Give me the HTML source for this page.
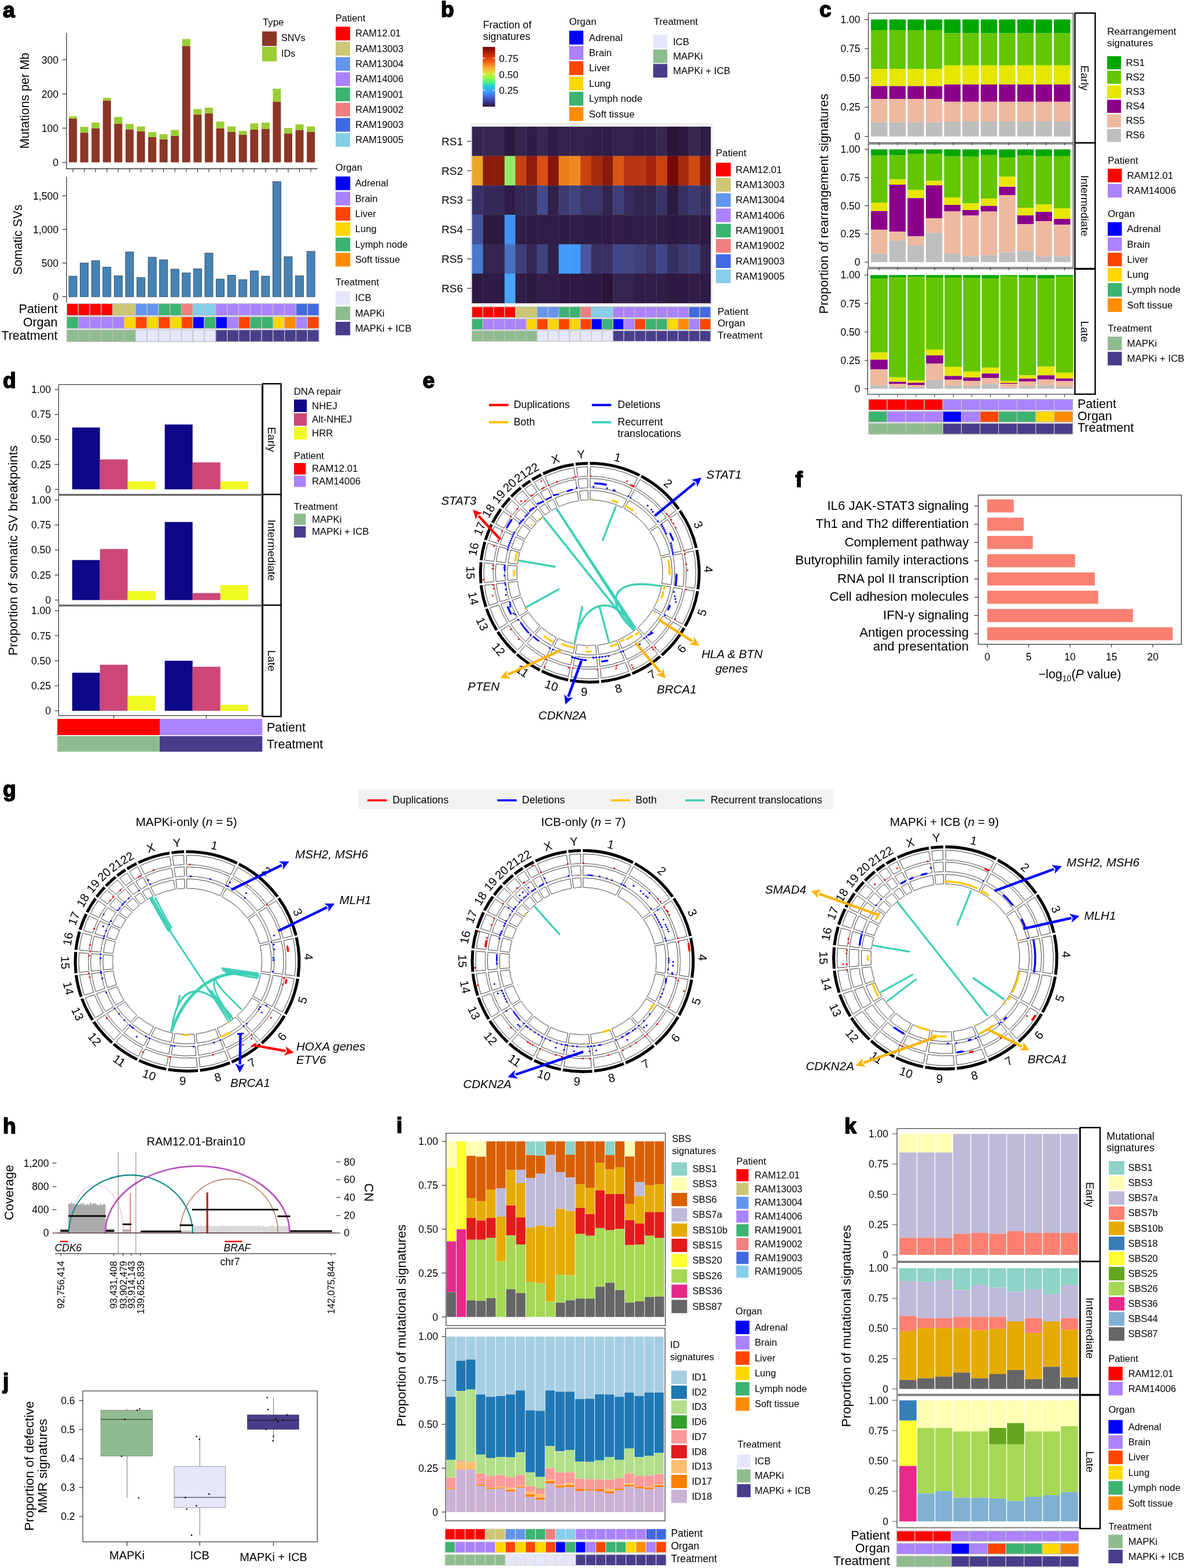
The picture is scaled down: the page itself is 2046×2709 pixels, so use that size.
<!DOCTYPE html>
<html><head><meta charset="utf-8"><title>Figure</title>
<style>html,body{margin:0;padding:0;background:#fff;} svg{display:block;} text{font-family:'Liberation Sans', sans-serif;}</style>
</head><body>
<svg width="2046" height="2709" viewBox="0 0 2046 2709" font-family="'Liberation Sans', sans-serif">
<rect x="0" y="0" width="2046" height="2709" fill="#fff"/>
<text x="5" y="29.5" font-size="37" font-weight="bold" stroke="#000" stroke-width="1.8" stroke-linejoin="round">a</text>
<rect x="119" y="204.76" width="14" height="75.74" fill="#8B3626"/>
<rect x="119" y="201.07" width="14" height="3.69" fill="#9ACD32"/>
<rect x="138.58" y="229.22" width="14" height="51.27" fill="#8B3626"/>
<rect x="138.58" y="219.17" width="14" height="10.05" fill="#9ACD32"/>
<rect x="158.16" y="221.51" width="14" height="58.98" fill="#8B3626"/>
<rect x="158.16" y="211.8" width="14" height="9.72" fill="#9ACD32"/>
<rect x="177.74" y="173.93" width="14" height="106.57" fill="#8B3626"/>
<rect x="177.74" y="169.24" width="14" height="4.69" fill="#9ACD32"/>
<rect x="197.32" y="213.47" width="14" height="67.02" fill="#8B3626"/>
<rect x="197.32" y="202.08" width="14" height="11.39" fill="#9ACD32"/>
<rect x="216.9" y="223.53" width="14" height="56.97" fill="#8B3626"/>
<rect x="216.9" y="214.14" width="14" height="9.38" fill="#9ACD32"/>
<rect x="236.48" y="226.88" width="14" height="53.62" fill="#8B3626"/>
<rect x="236.48" y="218.5" width="14" height="8.38" fill="#9ACD32"/>
<rect x="256.06" y="236.93" width="14" height="43.57" fill="#8B3626"/>
<rect x="256.06" y="228.22" width="14" height="8.71" fill="#9ACD32"/>
<rect x="275.64" y="240.62" width="14" height="39.88" fill="#8B3626"/>
<rect x="275.64" y="231.9" width="14" height="8.71" fill="#9ACD32"/>
<rect x="295.22" y="234.92" width="14" height="45.58" fill="#8B3626"/>
<rect x="295.22" y="224.53" width="14" height="10.39" fill="#9ACD32"/>
<rect x="314.8" y="79.42" width="14" height="201.07" fill="#8B3626"/>
<rect x="314.8" y="67.36" width="14" height="12.06" fill="#9ACD32"/>
<rect x="334.38" y="198.06" width="14" height="82.44" fill="#8B3626"/>
<rect x="334.38" y="188.34" width="14" height="9.72" fill="#9ACD32"/>
<rect x="353.96" y="196.05" width="14" height="84.45" fill="#8B3626"/>
<rect x="353.96" y="185.99" width="14" height="10.05" fill="#9ACD32"/>
<rect x="373.54" y="221.51" width="14" height="58.98" fill="#8B3626"/>
<rect x="373.54" y="210.12" width="14" height="11.39" fill="#9ACD32"/>
<rect x="393.12" y="227.88" width="14" height="52.61" fill="#8B3626"/>
<rect x="393.12" y="218.5" width="14" height="9.38" fill="#9ACD32"/>
<rect x="412.7" y="232.57" width="14" height="47.92" fill="#8B3626"/>
<rect x="412.7" y="226.21" width="14" height="6.37" fill="#9ACD32"/>
<rect x="432.28" y="223.86" width="14" height="56.64" fill="#8B3626"/>
<rect x="432.28" y="213.14" width="14" height="10.72" fill="#9ACD32"/>
<rect x="451.86" y="222.52" width="14" height="57.98" fill="#8B3626"/>
<rect x="451.86" y="211.8" width="14" height="10.72" fill="#9ACD32"/>
<rect x="471.44" y="175.94" width="14" height="104.56" fill="#8B3626"/>
<rect x="471.44" y="153.15" width="14" height="22.79" fill="#9ACD32"/>
<rect x="491.02" y="230.56" width="14" height="49.93" fill="#8B3626"/>
<rect x="491.02" y="221.18" width="14" height="9.38" fill="#9ACD32"/>
<rect x="510.6" y="224.53" width="14" height="55.97" fill="#8B3626"/>
<rect x="510.6" y="214.81" width="14" height="9.72" fill="#9ACD32"/>
<rect x="530.18" y="227.88" width="14" height="52.61" fill="#8B3626"/>
<rect x="530.18" y="218.5" width="14" height="9.38" fill="#9ACD32"/>
<line x1="115" y1="57" x2="115" y2="292" stroke="#333" stroke-width="1.3"/>
<line x1="114.4" y1="291.5" x2="548.5" y2="291.5" stroke="#333" stroke-width="1.3"/>
<line x1="126" y1="291.5" x2="126" y2="297.5" stroke="#333" stroke-width="1.2"/>
<line x1="145.58" y1="291.5" x2="145.58" y2="297.5" stroke="#333" stroke-width="1.2"/>
<line x1="165.16" y1="291.5" x2="165.16" y2="297.5" stroke="#333" stroke-width="1.2"/>
<line x1="184.74" y1="291.5" x2="184.74" y2="297.5" stroke="#333" stroke-width="1.2"/>
<line x1="204.32" y1="291.5" x2="204.32" y2="297.5" stroke="#333" stroke-width="1.2"/>
<line x1="223.9" y1="291.5" x2="223.9" y2="297.5" stroke="#333" stroke-width="1.2"/>
<line x1="243.48" y1="291.5" x2="243.48" y2="297.5" stroke="#333" stroke-width="1.2"/>
<line x1="263.06" y1="291.5" x2="263.06" y2="297.5" stroke="#333" stroke-width="1.2"/>
<line x1="282.64" y1="291.5" x2="282.64" y2="297.5" stroke="#333" stroke-width="1.2"/>
<line x1="302.22" y1="291.5" x2="302.22" y2="297.5" stroke="#333" stroke-width="1.2"/>
<line x1="321.8" y1="291.5" x2="321.8" y2="297.5" stroke="#333" stroke-width="1.2"/>
<line x1="341.38" y1="291.5" x2="341.38" y2="297.5" stroke="#333" stroke-width="1.2"/>
<line x1="360.96" y1="291.5" x2="360.96" y2="297.5" stroke="#333" stroke-width="1.2"/>
<line x1="380.54" y1="291.5" x2="380.54" y2="297.5" stroke="#333" stroke-width="1.2"/>
<line x1="400.12" y1="291.5" x2="400.12" y2="297.5" stroke="#333" stroke-width="1.2"/>
<line x1="419.7" y1="291.5" x2="419.7" y2="297.5" stroke="#333" stroke-width="1.2"/>
<line x1="439.28" y1="291.5" x2="439.28" y2="297.5" stroke="#333" stroke-width="1.2"/>
<line x1="458.86" y1="291.5" x2="458.86" y2="297.5" stroke="#333" stroke-width="1.2"/>
<line x1="478.44" y1="291.5" x2="478.44" y2="297.5" stroke="#333" stroke-width="1.2"/>
<line x1="498.02" y1="291.5" x2="498.02" y2="297.5" stroke="#333" stroke-width="1.2"/>
<line x1="517.6" y1="291.5" x2="517.6" y2="297.5" stroke="#333" stroke-width="1.2"/>
<line x1="537.18" y1="291.5" x2="537.18" y2="297.5" stroke="#333" stroke-width="1.2"/>
<line x1="107.5" y1="280.5" x2="115" y2="280.5" stroke="#333" stroke-width="1.2"/>
<text x="101" y="286.8" font-size="17.6" text-anchor="end">0</text>
<line x1="107.5" y1="221.4" x2="115" y2="221.4" stroke="#333" stroke-width="1.2"/>
<text x="101" y="227.7" font-size="17.6" text-anchor="end">100</text>
<line x1="107.5" y1="162.3" x2="115" y2="162.3" stroke="#333" stroke-width="1.2"/>
<text x="101" y="168.6" font-size="17.6" text-anchor="end">200</text>
<line x1="107.5" y1="103.2" x2="115" y2="103.2" stroke="#333" stroke-width="1.2"/>
<text x="101" y="109.5" font-size="17.6" text-anchor="end">300</text>
<text x="49.5" y="174" font-size="21.5" text-anchor="middle" transform="rotate(-90 49.5 174)">Mutations per Mb</text>
<text x="454" y="43.6" font-size="16.8">Type</text>
<rect x="453" y="54.3" width="25.2" height="25.1" fill="#8B3626"/>
<rect x="453" y="80.8" width="25.2" height="25.1" fill="#9ACD32"/>
<text x="486" y="71.4" font-size="16.3">SNVs</text>
<text x="486" y="98.2" font-size="16.3">IDs</text>
<rect x="119" y="477.05" width="14" height="35.75" fill="#4682B4" stroke="#23415A" stroke-width="0.8"/>
<rect x="138.58" y="454.26" width="14" height="58.54" fill="#4682B4" stroke="#23415A" stroke-width="0.8"/>
<rect x="158.16" y="450.24" width="14" height="62.56" fill="#4682B4" stroke="#23415A" stroke-width="0.8"/>
<rect x="177.74" y="461.64" width="14" height="51.16" fill="#4682B4" stroke="#23415A" stroke-width="0.8"/>
<rect x="197.32" y="476.38" width="14" height="36.42" fill="#4682B4" stroke="#23415A" stroke-width="0.8"/>
<rect x="216.9" y="435.16" width="14" height="77.64" fill="#4682B4" stroke="#23415A" stroke-width="0.8"/>
<rect x="236.48" y="479.4" width="14" height="33.4" fill="#4682B4" stroke="#23415A" stroke-width="0.8"/>
<rect x="256.06" y="444.21" width="14" height="68.59" fill="#4682B4" stroke="#23415A" stroke-width="0.8"/>
<rect x="275.64" y="448.9" width="14" height="63.9" fill="#4682B4" stroke="#23415A" stroke-width="0.8"/>
<rect x="295.22" y="464.99" width="14" height="47.81" fill="#4682B4" stroke="#23415A" stroke-width="0.8"/>
<rect x="314.8" y="471.35" width="14" height="41.45" fill="#4682B4" stroke="#23415A" stroke-width="0.8"/>
<rect x="334.38" y="464.32" width="14" height="48.48" fill="#4682B4" stroke="#23415A" stroke-width="0.8"/>
<rect x="353.96" y="437.17" width="14" height="75.63" fill="#4682B4" stroke="#23415A" stroke-width="0.8"/>
<rect x="373.54" y="482.08" width="14" height="30.72" fill="#4682B4" stroke="#23415A" stroke-width="0.8"/>
<rect x="393.12" y="475.38" width="14" height="37.42" fill="#4682B4" stroke="#23415A" stroke-width="0.8"/>
<rect x="412.7" y="483.08" width="14" height="29.72" fill="#4682B4" stroke="#23415A" stroke-width="0.8"/>
<rect x="432.28" y="468" width="14" height="44.8" fill="#4682B4" stroke="#23415A" stroke-width="0.8"/>
<rect x="451.86" y="477.05" width="14" height="35.75" fill="#4682B4" stroke="#23415A" stroke-width="0.8"/>
<rect x="471.44" y="313.85" width="14" height="198.95" fill="#4682B4" stroke="#23415A" stroke-width="0.8"/>
<rect x="491.02" y="443.54" width="14" height="69.26" fill="#4682B4" stroke="#23415A" stroke-width="0.8"/>
<rect x="510.6" y="476.38" width="14" height="36.42" fill="#4682B4" stroke="#23415A" stroke-width="0.8"/>
<rect x="530.18" y="434.16" width="14" height="78.64" fill="#4682B4" stroke="#23415A" stroke-width="0.8"/>
<line x1="115" y1="305" x2="115" y2="522.5" stroke="#333" stroke-width="1.3"/>
<line x1="107.5" y1="512.6" x2="115" y2="512.6" stroke="#333" stroke-width="1.2"/>
<text x="101" y="518.9" font-size="17.6" text-anchor="end">0</text>
<line x1="107.5" y1="454.5" x2="115" y2="454.5" stroke="#333" stroke-width="1.2"/>
<text x="101" y="460.8" font-size="17.6" text-anchor="end">500</text>
<line x1="107.5" y1="396.4" x2="115" y2="396.4" stroke="#333" stroke-width="1.2"/>
<text x="101" y="402.7" font-size="17.6" text-anchor="end">1,000</text>
<line x1="107.5" y1="338.3" x2="115" y2="338.3" stroke="#333" stroke-width="1.2"/>
<text x="101" y="344.6" font-size="17.6" text-anchor="end">1,500</text>
<text x="38" y="414" font-size="21.2" text-anchor="middle" transform="rotate(-90 38 414)">Somatic SVs</text>
<rect x="115.5" y="524.6" width="19.8" height="20.4" fill="#FF0000" stroke="#BEBEBE" stroke-width="1.2"/>
<rect x="135.3" y="524.6" width="19.8" height="20.4" fill="#FF0000" stroke="#BEBEBE" stroke-width="1.2"/>
<rect x="155.1" y="524.6" width="19.8" height="20.4" fill="#FF0000" stroke="#BEBEBE" stroke-width="1.2"/>
<rect x="174.9" y="524.6" width="19.8" height="20.4" fill="#FF0000" stroke="#BEBEBE" stroke-width="1.2"/>
<rect x="194.7" y="524.6" width="19.8" height="20.4" fill="#CDC673" stroke="#BEBEBE" stroke-width="1.2"/>
<rect x="214.5" y="524.6" width="19.8" height="20.4" fill="#CDC673" stroke="#BEBEBE" stroke-width="1.2"/>
<rect x="234.3" y="524.6" width="19.8" height="20.4" fill="#6495ED" stroke="#BEBEBE" stroke-width="1.2"/>
<rect x="254.1" y="524.6" width="19.8" height="20.4" fill="#6495ED" stroke="#BEBEBE" stroke-width="1.2"/>
<rect x="273.9" y="524.6" width="19.8" height="20.4" fill="#3CB371" stroke="#BEBEBE" stroke-width="1.2"/>
<rect x="293.7" y="524.6" width="19.8" height="20.4" fill="#3CB371" stroke="#BEBEBE" stroke-width="1.2"/>
<rect x="313.5" y="524.6" width="19.8" height="20.4" fill="#F08080" stroke="#BEBEBE" stroke-width="1.2"/>
<rect x="333.3" y="524.6" width="19.8" height="20.4" fill="#87CEEB" stroke="#BEBEBE" stroke-width="1.2"/>
<rect x="353.1" y="524.6" width="19.8" height="20.4" fill="#87CEEB" stroke="#BEBEBE" stroke-width="1.2"/>
<rect x="372.9" y="524.6" width="19.8" height="20.4" fill="#AB82FF" stroke="#BEBEBE" stroke-width="1.2"/>
<rect x="392.7" y="524.6" width="19.8" height="20.4" fill="#AB82FF" stroke="#BEBEBE" stroke-width="1.2"/>
<rect x="412.5" y="524.6" width="19.8" height="20.4" fill="#AB82FF" stroke="#BEBEBE" stroke-width="1.2"/>
<rect x="432.3" y="524.6" width="19.8" height="20.4" fill="#AB82FF" stroke="#BEBEBE" stroke-width="1.2"/>
<rect x="452.1" y="524.6" width="19.8" height="20.4" fill="#AB82FF" stroke="#BEBEBE" stroke-width="1.2"/>
<rect x="471.9" y="524.6" width="19.8" height="20.4" fill="#AB82FF" stroke="#BEBEBE" stroke-width="1.2"/>
<rect x="491.7" y="524.6" width="19.8" height="20.4" fill="#AB82FF" stroke="#BEBEBE" stroke-width="1.2"/>
<rect x="511.5" y="524.6" width="19.8" height="20.4" fill="#4169E1" stroke="#BEBEBE" stroke-width="1.2"/>
<rect x="531.3" y="524.6" width="19.8" height="20.4" fill="#4169E1" stroke="#BEBEBE" stroke-width="1.2"/>
<rect x="115.5" y="547.2" width="19.8" height="20.4" fill="#3CB371" stroke="#BEBEBE" stroke-width="1.2"/>
<rect x="135.3" y="547.2" width="19.8" height="20.4" fill="#AB82FF" stroke="#BEBEBE" stroke-width="1.2"/>
<rect x="155.1" y="547.2" width="19.8" height="20.4" fill="#AB82FF" stroke="#BEBEBE" stroke-width="1.2"/>
<rect x="174.9" y="547.2" width="19.8" height="20.4" fill="#AB82FF" stroke="#BEBEBE" stroke-width="1.2"/>
<rect x="194.7" y="547.2" width="19.8" height="20.4" fill="#AB82FF" stroke="#BEBEBE" stroke-width="1.2"/>
<rect x="214.5" y="547.2" width="19.8" height="20.4" fill="#FFD700" stroke="#BEBEBE" stroke-width="1.2"/>
<rect x="234.3" y="547.2" width="19.8" height="20.4" fill="#FF4500" stroke="#BEBEBE" stroke-width="1.2"/>
<rect x="254.1" y="547.2" width="19.8" height="20.4" fill="#FFD700" stroke="#BEBEBE" stroke-width="1.2"/>
<rect x="273.9" y="547.2" width="19.8" height="20.4" fill="#FF4500" stroke="#BEBEBE" stroke-width="1.2"/>
<rect x="293.7" y="547.2" width="19.8" height="20.4" fill="#FFD700" stroke="#BEBEBE" stroke-width="1.2"/>
<rect x="313.5" y="547.2" width="19.8" height="20.4" fill="#FF4500" stroke="#BEBEBE" stroke-width="1.2"/>
<rect x="333.3" y="547.2" width="19.8" height="20.4" fill="#0000FF" stroke="#BEBEBE" stroke-width="1.2"/>
<rect x="353.1" y="547.2" width="19.8" height="20.4" fill="#3CB371" stroke="#BEBEBE" stroke-width="1.2"/>
<rect x="372.9" y="547.2" width="19.8" height="20.4" fill="#0000FF" stroke="#BEBEBE" stroke-width="1.2"/>
<rect x="392.7" y="547.2" width="19.8" height="20.4" fill="#AB82FF" stroke="#BEBEBE" stroke-width="1.2"/>
<rect x="412.5" y="547.2" width="19.8" height="20.4" fill="#FF4500" stroke="#BEBEBE" stroke-width="1.2"/>
<rect x="432.3" y="547.2" width="19.8" height="20.4" fill="#3CB371" stroke="#BEBEBE" stroke-width="1.2"/>
<rect x="452.1" y="547.2" width="19.8" height="20.4" fill="#3CB371" stroke="#BEBEBE" stroke-width="1.2"/>
<rect x="471.9" y="547.2" width="19.8" height="20.4" fill="#FFD700" stroke="#BEBEBE" stroke-width="1.2"/>
<rect x="491.7" y="547.2" width="19.8" height="20.4" fill="#FF8C00" stroke="#BEBEBE" stroke-width="1.2"/>
<rect x="511.5" y="547.2" width="19.8" height="20.4" fill="#AB82FF" stroke="#BEBEBE" stroke-width="1.2"/>
<rect x="531.3" y="547.2" width="19.8" height="20.4" fill="#FF4500" stroke="#BEBEBE" stroke-width="1.2"/>
<rect x="115.5" y="569.9" width="19.8" height="20.4" fill="#8FBC8F" stroke="#BEBEBE" stroke-width="1.2"/>
<rect x="135.3" y="569.9" width="19.8" height="20.4" fill="#8FBC8F" stroke="#BEBEBE" stroke-width="1.2"/>
<rect x="155.1" y="569.9" width="19.8" height="20.4" fill="#8FBC8F" stroke="#BEBEBE" stroke-width="1.2"/>
<rect x="174.9" y="569.9" width="19.8" height="20.4" fill="#8FBC8F" stroke="#BEBEBE" stroke-width="1.2"/>
<rect x="194.7" y="569.9" width="19.8" height="20.4" fill="#8FBC8F" stroke="#BEBEBE" stroke-width="1.2"/>
<rect x="214.5" y="569.9" width="19.8" height="20.4" fill="#8FBC8F" stroke="#BEBEBE" stroke-width="1.2"/>
<rect x="234.3" y="569.9" width="19.8" height="20.4" fill="#E6E6FA" stroke="#BEBEBE" stroke-width="1.2"/>
<rect x="254.1" y="569.9" width="19.8" height="20.4" fill="#E6E6FA" stroke="#BEBEBE" stroke-width="1.2"/>
<rect x="273.9" y="569.9" width="19.8" height="20.4" fill="#E6E6FA" stroke="#BEBEBE" stroke-width="1.2"/>
<rect x="293.7" y="569.9" width="19.8" height="20.4" fill="#E6E6FA" stroke="#BEBEBE" stroke-width="1.2"/>
<rect x="313.5" y="569.9" width="19.8" height="20.4" fill="#E6E6FA" stroke="#BEBEBE" stroke-width="1.2"/>
<rect x="333.3" y="569.9" width="19.8" height="20.4" fill="#E6E6FA" stroke="#BEBEBE" stroke-width="1.2"/>
<rect x="353.1" y="569.9" width="19.8" height="20.4" fill="#E6E6FA" stroke="#BEBEBE" stroke-width="1.2"/>
<rect x="372.9" y="569.9" width="19.8" height="20.4" fill="#483D8B" stroke="#BEBEBE" stroke-width="1.2"/>
<rect x="392.7" y="569.9" width="19.8" height="20.4" fill="#483D8B" stroke="#BEBEBE" stroke-width="1.2"/>
<rect x="412.5" y="569.9" width="19.8" height="20.4" fill="#483D8B" stroke="#BEBEBE" stroke-width="1.2"/>
<rect x="432.3" y="569.9" width="19.8" height="20.4" fill="#483D8B" stroke="#BEBEBE" stroke-width="1.2"/>
<rect x="452.1" y="569.9" width="19.8" height="20.4" fill="#483D8B" stroke="#BEBEBE" stroke-width="1.2"/>
<rect x="471.9" y="569.9" width="19.8" height="20.4" fill="#483D8B" stroke="#BEBEBE" stroke-width="1.2"/>
<rect x="491.7" y="569.9" width="19.8" height="20.4" fill="#483D8B" stroke="#BEBEBE" stroke-width="1.2"/>
<rect x="511.5" y="569.9" width="19.8" height="20.4" fill="#483D8B" stroke="#BEBEBE" stroke-width="1.2"/>
<rect x="531.3" y="569.9" width="19.8" height="20.4" fill="#483D8B" stroke="#BEBEBE" stroke-width="1.2"/>
<text x="99.5" y="541.4" font-size="21.5" text-anchor="end">Patient</text>
<text x="99.5" y="564.2" font-size="21.5" text-anchor="end">Organ</text>
<text x="99.5" y="586.6" font-size="21.5" text-anchor="end">Treatment</text>
<text x="579.7" y="36.9" font-size="16.6">Patient</text>
<rect x="580" y="46.1" width="25" height="23.7" fill="#FF0000"/>
<text x="614.2" y="63.43" font-size="16.6">RAM12.01</text>
<rect x="580" y="72.39" width="25" height="23.7" fill="#CDC673"/>
<text x="614.2" y="89.72" font-size="16.6">RAM13003</text>
<rect x="580" y="98.68" width="25" height="23.7" fill="#6495ED"/>
<text x="614.2" y="116.01" font-size="16.6">RAM13004</text>
<rect x="580" y="124.97" width="25" height="23.7" fill="#AB82FF"/>
<text x="614.2" y="142.3" font-size="16.6">RAM14006</text>
<rect x="580" y="151.26" width="25" height="23.7" fill="#3CB371"/>
<text x="614.2" y="168.59" font-size="16.6">RAM19001</text>
<rect x="580" y="177.55" width="25" height="23.7" fill="#F08080"/>
<text x="614.2" y="194.88" font-size="16.6">RAM19002</text>
<rect x="580" y="203.84" width="25" height="23.7" fill="#4169E1"/>
<text x="614.2" y="221.17" font-size="16.6">RAM19003</text>
<rect x="580" y="230.13" width="25" height="23.7" fill="#87CEEB"/>
<text x="614.2" y="247.46" font-size="16.6">RAM19005</text>
<text x="579.8" y="295.2" font-size="16.6">Organ</text>
<rect x="579.8" y="304.9" width="25.4" height="23.6" fill="#0000FF"/>
<text x="613.8" y="322.18" font-size="16.6">Adrenal</text>
<rect x="579.8" y="331.3" width="25.4" height="23.6" fill="#AB82FF"/>
<text x="613.8" y="348.58" font-size="16.6">Brain</text>
<rect x="579.8" y="357.7" width="25.4" height="23.6" fill="#FF4500"/>
<text x="613.8" y="374.98" font-size="16.6">Liver</text>
<rect x="579.8" y="384.1" width="25.4" height="23.6" fill="#FFD700"/>
<text x="613.8" y="401.38" font-size="16.6">Lung</text>
<rect x="579.8" y="410.5" width="25.4" height="23.6" fill="#3CB371"/>
<text x="613.8" y="427.78" font-size="16.6">Lymph node</text>
<rect x="579.8" y="436.9" width="25.4" height="23.6" fill="#FF8C00"/>
<text x="613.8" y="454.18" font-size="16.6">Soft tissue</text>
<text x="579.8" y="493" font-size="16.6">Treatment</text>
<rect x="579.8" y="503.2" width="25.4" height="23.3" fill="#E6E6FA"/>
<text x="613.8" y="520.33" font-size="16.6">ICB</text>
<rect x="579.8" y="529.6" width="25.4" height="23.3" fill="#8FBC8F"/>
<text x="613.8" y="546.73" font-size="16.6">MAPKi</text>
<rect x="579.8" y="556" width="25.4" height="23.3" fill="#483D8B"/>
<text x="613.8" y="573.13" font-size="16.6">MAPKi + ICB</text>
<text x="762" y="28.5" font-size="37" font-weight="bold" stroke="#000" stroke-width="1.8" stroke-linejoin="round">b</text>
<defs><linearGradient id="turbo" x1="0" y1="1" x2="0" y2="0"><stop offset="0" stop-color="#30123B"/><stop offset="0.08" stop-color="#3E3994"/><stop offset="0.16" stop-color="#4662D7"/><stop offset="0.25" stop-color="#3E9BFE"/><stop offset="0.33" stop-color="#1FC8DE"/><stop offset="0.41" stop-color="#46F884"/><stop offset="0.5" stop-color="#A2FC3C"/><stop offset="0.57" stop-color="#DDDD37"/><stop offset="0.65" stop-color="#FDAC33"/><stop offset="0.75" stop-color="#F2611A"/><stop offset="0.85" stop-color="#D23105"/><stop offset="0.93" stop-color="#A41301"/><stop offset="1" stop-color="#7A0403"/></linearGradient></defs>
<rect x="834.2" y="81.1" width="21.4" height="103.2" fill="url(#turbo)"/>
<line x1="834.2" y1="100.5" x2="838.5" y2="100.5" stroke="#fff" stroke-width="1.2"/>
<line x1="851.3" y1="100.5" x2="855.6" y2="100.5" stroke="#fff" stroke-width="1.2"/>
<text x="862.3" y="106.8" font-size="17.3">0.75</text>
<line x1="834.2" y1="128.4" x2="838.5" y2="128.4" stroke="#fff" stroke-width="1.2"/>
<line x1="851.3" y1="128.4" x2="855.6" y2="128.4" stroke="#fff" stroke-width="1.2"/>
<text x="862.3" y="134.7" font-size="17.3">0.50</text>
<line x1="834.2" y1="155.8" x2="838.5" y2="155.8" stroke="#fff" stroke-width="1.2"/>
<line x1="851.3" y1="155.8" x2="855.6" y2="155.8" stroke="#fff" stroke-width="1.2"/>
<text x="862.3" y="162.1" font-size="17.3">0.25</text>
<text x="834.8" y="49.3" font-size="17.7">Fraction of</text>
<text x="834.8" y="69.4" font-size="17.7">signatures</text>
<text x="983.6" y="42.9" font-size="16.9">Organ</text>
<rect x="983.6" y="53" width="24.5" height="24" fill="#0000FF"/>
<text x="1017.8" y="70.58" font-size="16.9">Adrenal</text>
<rect x="983.6" y="79.4" width="24.5" height="24" fill="#AB82FF"/>
<text x="1017.8" y="96.98" font-size="16.9">Brain</text>
<rect x="983.6" y="105.8" width="24.5" height="24" fill="#FF4500"/>
<text x="1017.8" y="123.38" font-size="16.9">Liver</text>
<rect x="983.6" y="132.2" width="24.5" height="24" fill="#FFD700"/>
<text x="1017.8" y="149.78" font-size="16.9">Lung</text>
<rect x="983.6" y="158.6" width="24.5" height="24" fill="#3CB371"/>
<text x="1017.8" y="176.18" font-size="16.9">Lymph node</text>
<rect x="983.6" y="185" width="24.5" height="24" fill="#FF8C00"/>
<text x="1017.8" y="202.58" font-size="16.9">Soft tissue</text>
<text x="1129.7" y="42.9" font-size="16.9">Treatment</text>
<rect x="1128.7" y="60.3" width="24.5" height="23.5" fill="#E6E6FA"/>
<text x="1162.9" y="77.63" font-size="16.9">ICB</text>
<rect x="1128.7" y="85.4" width="24.5" height="23.5" fill="#8FBC8F"/>
<text x="1162.9" y="102.73" font-size="16.9">MAPKi</text>
<rect x="1128.7" y="110.5" width="24.5" height="23.5" fill="#483D8B"/>
<text x="1162.9" y="127.83" font-size="16.9">MAPKi + ICB</text>
<rect x="814.2" y="214.3" width="416" height="311" fill="#fff" stroke="#E8E8E8" stroke-width="2.2"/>
<rect x="815.6" y="218.7" width="19.05" height="51.12" fill="#33254f"/>
<rect x="834.35" y="218.7" width="19.05" height="51.12" fill="#362850"/>
<rect x="853.09" y="218.7" width="19.05" height="51.12" fill="#362850"/>
<rect x="871.84" y="218.7" width="19.05" height="51.12" fill="#2c1a40"/>
<rect x="890.58" y="218.7" width="19.05" height="51.12" fill="#33254f"/>
<rect x="909.33" y="218.7" width="19.05" height="51.12" fill="#2e1d46"/>
<rect x="928.07" y="218.7" width="19.05" height="51.12" fill="#362850"/>
<rect x="946.82" y="218.7" width="19.05" height="51.12" fill="#2e1d46"/>
<rect x="965.56" y="218.7" width="19.05" height="51.12" fill="#33224c"/>
<rect x="984.31" y="218.7" width="19.05" height="51.12" fill="#33224c"/>
<rect x="1003.05" y="218.7" width="19.05" height="51.12" fill="#33224c"/>
<rect x="1021.8" y="218.7" width="19.05" height="51.12" fill="#301e48"/>
<rect x="1040.55" y="218.7" width="19.05" height="51.12" fill="#301e48"/>
<rect x="1059.29" y="218.7" width="19.05" height="51.12" fill="#33224c"/>
<rect x="1078.04" y="218.7" width="19.05" height="51.12" fill="#33224c"/>
<rect x="1096.78" y="218.7" width="19.05" height="51.12" fill="#301e48"/>
<rect x="1115.53" y="218.7" width="19.05" height="51.12" fill="#301e48"/>
<rect x="1134.27" y="218.7" width="19.05" height="51.12" fill="#362850"/>
<rect x="1153.02" y="218.7" width="19.05" height="51.12" fill="#2a1538"/>
<rect x="1171.76" y="218.7" width="19.05" height="51.12" fill="#2c1a40"/>
<rect x="1190.51" y="218.7" width="19.05" height="51.12" fill="#362850"/>
<rect x="1209.25" y="218.7" width="19.05" height="51.12" fill="#2e1d46"/>
<line x1="807" y1="244.11" x2="814.5" y2="244.11" stroke="#333" stroke-width="1.2"/>
<text x="800" y="250.71" font-size="19" text-anchor="end">RS1</text>
<rect x="815.6" y="269.52" width="19.05" height="51.12" fill="#eba52a"/>
<rect x="834.35" y="269.52" width="19.05" height="51.12" fill="#8c1c0a"/>
<rect x="853.09" y="269.52" width="19.05" height="51.12" fill="#8c1c0a"/>
<rect x="871.84" y="269.52" width="19.05" height="51.12" fill="#90ea6a"/>
<rect x="890.58" y="269.52" width="19.05" height="51.12" fill="#c8420f"/>
<rect x="909.33" y="269.52" width="19.05" height="51.12" fill="#8f1d0a"/>
<rect x="928.07" y="269.52" width="19.05" height="51.12" fill="#d65016"/>
<rect x="946.82" y="269.52" width="19.05" height="51.12" fill="#861609"/>
<rect x="965.56" y="269.52" width="19.05" height="51.12" fill="#ee7f1d"/>
<rect x="984.31" y="269.52" width="19.05" height="51.12" fill="#ee8a22"/>
<rect x="1003.05" y="269.52" width="19.05" height="51.12" fill="#c8420f"/>
<rect x="1021.8" y="269.52" width="19.05" height="51.12" fill="#a52a0e"/>
<rect x="1040.55" y="269.52" width="19.05" height="51.12" fill="#8a1a0a"/>
<rect x="1059.29" y="269.52" width="19.05" height="51.12" fill="#d95616"/>
<rect x="1078.04" y="269.52" width="19.05" height="51.12" fill="#b8350f"/>
<rect x="1096.78" y="269.52" width="19.05" height="51.12" fill="#b8350f"/>
<rect x="1115.53" y="269.52" width="19.05" height="51.12" fill="#a5260d"/>
<rect x="1134.27" y="269.52" width="19.05" height="51.12" fill="#c8420f"/>
<rect x="1153.02" y="269.52" width="19.05" height="51.12" fill="#780808"/>
<rect x="1171.76" y="269.52" width="19.05" height="51.12" fill="#a52a0e"/>
<rect x="1190.51" y="269.52" width="19.05" height="51.12" fill="#d04c13"/>
<rect x="1209.25" y="269.52" width="19.05" height="51.12" fill="#8a1a0a"/>
<line x1="807" y1="294.93" x2="814.5" y2="294.93" stroke="#333" stroke-width="1.2"/>
<text x="800" y="301.53" font-size="19" text-anchor="end">RS2</text>
<rect x="815.6" y="320.33" width="19.05" height="51.12" fill="#3a3068"/>
<rect x="834.35" y="320.33" width="19.05" height="51.12" fill="#352858"/>
<rect x="853.09" y="320.33" width="19.05" height="51.12" fill="#352858"/>
<rect x="871.84" y="320.33" width="19.05" height="51.12" fill="#2e1d46"/>
<rect x="890.58" y="320.33" width="19.05" height="51.12" fill="#352858"/>
<rect x="909.33" y="320.33" width="19.05" height="51.12" fill="#352858"/>
<rect x="928.07" y="320.33" width="19.05" height="51.12" fill="#444a8a"/>
<rect x="946.82" y="320.33" width="19.05" height="51.12" fill="#30204a"/>
<rect x="965.56" y="320.33" width="19.05" height="51.12" fill="#3e3a72"/>
<rect x="984.31" y="320.33" width="19.05" height="51.12" fill="#42427c"/>
<rect x="1003.05" y="320.33" width="19.05" height="51.12" fill="#3a3468"/>
<rect x="1021.8" y="320.33" width="19.05" height="51.12" fill="#3a3468"/>
<rect x="1040.55" y="320.33" width="19.05" height="51.12" fill="#332450"/>
<rect x="1059.29" y="320.33" width="19.05" height="51.12" fill="#3e3e78"/>
<rect x="1078.04" y="320.33" width="19.05" height="51.12" fill="#362a5c"/>
<rect x="1096.78" y="320.33" width="19.05" height="51.12" fill="#322450"/>
<rect x="1115.53" y="320.33" width="19.05" height="51.12" fill="#322450"/>
<rect x="1134.27" y="320.33" width="19.05" height="51.12" fill="#3a3468"/>
<rect x="1153.02" y="320.33" width="19.05" height="51.12" fill="#2c1a40"/>
<rect x="1171.76" y="320.33" width="19.05" height="51.12" fill="#383060"/>
<rect x="1190.51" y="320.33" width="19.05" height="51.12" fill="#3c3a70"/>
<rect x="1209.25" y="320.33" width="19.05" height="51.12" fill="#383060"/>
<line x1="807" y1="345.74" x2="814.5" y2="345.74" stroke="#333" stroke-width="1.2"/>
<text x="800" y="352.34" font-size="19" text-anchor="end">RS3</text>
<rect x="815.6" y="371.15" width="19.05" height="51.12" fill="#43509a"/>
<rect x="834.35" y="371.15" width="19.05" height="51.12" fill="#2c1a40"/>
<rect x="853.09" y="371.15" width="19.05" height="51.12" fill="#2c1a40"/>
<rect x="871.84" y="371.15" width="19.05" height="51.12" fill="#4090f0"/>
<rect x="890.58" y="371.15" width="19.05" height="51.12" fill="#301e48"/>
<rect x="909.33" y="371.15" width="19.05" height="51.12" fill="#2e1d46"/>
<rect x="928.07" y="371.15" width="19.05" height="51.12" fill="#301e48"/>
<rect x="946.82" y="371.15" width="19.05" height="51.12" fill="#2e1d46"/>
<rect x="965.56" y="371.15" width="19.05" height="51.12" fill="#2e1d46"/>
<rect x="984.31" y="371.15" width="19.05" height="51.12" fill="#2e1d46"/>
<rect x="1003.05" y="371.15" width="19.05" height="51.12" fill="#2e1d46"/>
<rect x="1021.8" y="371.15" width="19.05" height="51.12" fill="#2e1d46"/>
<rect x="1040.55" y="371.15" width="19.05" height="51.12" fill="#2e1a44"/>
<rect x="1059.29" y="371.15" width="19.05" height="51.12" fill="#301e48"/>
<rect x="1078.04" y="371.15" width="19.05" height="51.12" fill="#2e1d46"/>
<rect x="1096.78" y="371.15" width="19.05" height="51.12" fill="#301e48"/>
<rect x="1115.53" y="371.15" width="19.05" height="51.12" fill="#301e48"/>
<rect x="1134.27" y="371.15" width="19.05" height="51.12" fill="#301e48"/>
<rect x="1153.02" y="371.15" width="19.05" height="51.12" fill="#2c1a40"/>
<rect x="1171.76" y="371.15" width="19.05" height="51.12" fill="#2e1d46"/>
<rect x="1190.51" y="371.15" width="19.05" height="51.12" fill="#301e48"/>
<rect x="1209.25" y="371.15" width="19.05" height="51.12" fill="#2e1a44"/>
<line x1="807" y1="396.56" x2="814.5" y2="396.56" stroke="#333" stroke-width="1.2"/>
<text x="800" y="403.16" font-size="19" text-anchor="end">RS4</text>
<rect x="815.6" y="421.97" width="19.05" height="51.12" fill="#4678cc"/>
<rect x="834.35" y="421.97" width="19.05" height="51.12" fill="#332450"/>
<rect x="853.09" y="421.97" width="19.05" height="51.12" fill="#332450"/>
<rect x="871.84" y="421.97" width="19.05" height="51.12" fill="#4870c0"/>
<rect x="890.58" y="421.97" width="19.05" height="51.12" fill="#3e3e78"/>
<rect x="909.33" y="421.97" width="19.05" height="51.12" fill="#352858"/>
<rect x="928.07" y="421.97" width="19.05" height="51.12" fill="#40407c"/>
<rect x="946.82" y="421.97" width="19.05" height="51.12" fill="#30204a"/>
<rect x="965.56" y="421.97" width="19.05" height="51.12" fill="#409cf8"/>
<rect x="984.31" y="421.97" width="19.05" height="51.12" fill="#409cf8"/>
<rect x="1003.05" y="421.97" width="19.05" height="51.12" fill="#4858a0"/>
<rect x="1021.8" y="421.97" width="19.05" height="51.12" fill="#383060"/>
<rect x="1040.55" y="421.97" width="19.05" height="51.12" fill="#3a3064"/>
<rect x="1059.29" y="421.97" width="19.05" height="51.12" fill="#40468a"/>
<rect x="1078.04" y="421.97" width="19.05" height="51.12" fill="#424580"/>
<rect x="1096.78" y="421.97" width="19.05" height="51.12" fill="#3e3e78"/>
<rect x="1115.53" y="421.97" width="19.05" height="51.12" fill="#3a3468"/>
<rect x="1134.27" y="421.97" width="19.05" height="51.12" fill="#40468a"/>
<rect x="1153.02" y="421.97" width="19.05" height="51.12" fill="#363060"/>
<rect x="1171.76" y="421.97" width="19.05" height="51.12" fill="#3c3a70"/>
<rect x="1190.51" y="421.97" width="19.05" height="51.12" fill="#3e3e78"/>
<rect x="1209.25" y="421.97" width="19.05" height="51.12" fill="#332450"/>
<line x1="807" y1="447.38" x2="814.5" y2="447.38" stroke="#333" stroke-width="1.2"/>
<text x="800" y="453.98" font-size="19" text-anchor="end">RS5</text>
<rect x="815.6" y="472.78" width="19.05" height="51.12" fill="#2c1a40"/>
<rect x="834.35" y="472.78" width="19.05" height="51.12" fill="#2e1a44"/>
<rect x="853.09" y="472.78" width="19.05" height="51.12" fill="#2e1a44"/>
<rect x="871.84" y="472.78" width="19.05" height="51.12" fill="#48a4f8"/>
<rect x="890.58" y="472.78" width="19.05" height="51.12" fill="#301e48"/>
<rect x="909.33" y="472.78" width="19.05" height="51.12" fill="#2c1a40"/>
<rect x="928.07" y="472.78" width="19.05" height="51.12" fill="#301e48"/>
<rect x="946.82" y="472.78" width="19.05" height="51.12" fill="#301e48"/>
<rect x="965.56" y="472.78" width="19.05" height="51.12" fill="#2e1a44"/>
<rect x="984.31" y="472.78" width="19.05" height="51.12" fill="#2e1a44"/>
<rect x="1003.05" y="472.78" width="19.05" height="51.12" fill="#2e1a44"/>
<rect x="1021.8" y="472.78" width="19.05" height="51.12" fill="#2e1a44"/>
<rect x="1040.55" y="472.78" width="19.05" height="51.12" fill="#2a1538"/>
<rect x="1059.29" y="472.78" width="19.05" height="51.12" fill="#332450"/>
<rect x="1078.04" y="472.78" width="19.05" height="51.12" fill="#332450"/>
<rect x="1096.78" y="472.78" width="19.05" height="51.12" fill="#301e48"/>
<rect x="1115.53" y="472.78" width="19.05" height="51.12" fill="#301e48"/>
<rect x="1134.27" y="472.78" width="19.05" height="51.12" fill="#301e48"/>
<rect x="1153.02" y="472.78" width="19.05" height="51.12" fill="#2c1a40"/>
<rect x="1171.76" y="472.78" width="19.05" height="51.12" fill="#2e1a44"/>
<rect x="1190.51" y="472.78" width="19.05" height="51.12" fill="#301e48"/>
<rect x="1209.25" y="472.78" width="19.05" height="51.12" fill="#2e1a44"/>
<line x1="807" y1="498.19" x2="814.5" y2="498.19" stroke="#333" stroke-width="1.2"/>
<text x="800" y="504.79" font-size="19" text-anchor="end">RS6</text>
<rect x="815.6" y="530" width="18.75" height="18.6" fill="#FF0000" stroke="#BEBEBE" stroke-width="1.2"/>
<rect x="834.35" y="530" width="18.75" height="18.6" fill="#FF0000" stroke="#BEBEBE" stroke-width="1.2"/>
<rect x="853.09" y="530" width="18.75" height="18.6" fill="#FF0000" stroke="#BEBEBE" stroke-width="1.2"/>
<rect x="871.84" y="530" width="18.75" height="18.6" fill="#FF0000" stroke="#BEBEBE" stroke-width="1.2"/>
<rect x="890.58" y="530" width="18.75" height="18.6" fill="#CDC673" stroke="#BEBEBE" stroke-width="1.2"/>
<rect x="909.33" y="530" width="18.75" height="18.6" fill="#CDC673" stroke="#BEBEBE" stroke-width="1.2"/>
<rect x="928.07" y="530" width="18.75" height="18.6" fill="#6495ED" stroke="#BEBEBE" stroke-width="1.2"/>
<rect x="946.82" y="530" width="18.75" height="18.6" fill="#6495ED" stroke="#BEBEBE" stroke-width="1.2"/>
<rect x="965.56" y="530" width="18.75" height="18.6" fill="#3CB371" stroke="#BEBEBE" stroke-width="1.2"/>
<rect x="984.31" y="530" width="18.75" height="18.6" fill="#3CB371" stroke="#BEBEBE" stroke-width="1.2"/>
<rect x="1003.05" y="530" width="18.75" height="18.6" fill="#F08080" stroke="#BEBEBE" stroke-width="1.2"/>
<rect x="1021.8" y="530" width="18.75" height="18.6" fill="#87CEEB" stroke="#BEBEBE" stroke-width="1.2"/>
<rect x="1040.55" y="530" width="18.75" height="18.6" fill="#87CEEB" stroke="#BEBEBE" stroke-width="1.2"/>
<rect x="1059.29" y="530" width="18.75" height="18.6" fill="#AB82FF" stroke="#BEBEBE" stroke-width="1.2"/>
<rect x="1078.04" y="530" width="18.75" height="18.6" fill="#AB82FF" stroke="#BEBEBE" stroke-width="1.2"/>
<rect x="1096.78" y="530" width="18.75" height="18.6" fill="#AB82FF" stroke="#BEBEBE" stroke-width="1.2"/>
<rect x="1115.53" y="530" width="18.75" height="18.6" fill="#AB82FF" stroke="#BEBEBE" stroke-width="1.2"/>
<rect x="1134.27" y="530" width="18.75" height="18.6" fill="#AB82FF" stroke="#BEBEBE" stroke-width="1.2"/>
<rect x="1153.02" y="530" width="18.75" height="18.6" fill="#AB82FF" stroke="#BEBEBE" stroke-width="1.2"/>
<rect x="1171.76" y="530" width="18.75" height="18.6" fill="#AB82FF" stroke="#BEBEBE" stroke-width="1.2"/>
<rect x="1190.51" y="530" width="18.75" height="18.6" fill="#4169E1" stroke="#BEBEBE" stroke-width="1.2"/>
<rect x="1209.25" y="530" width="18.75" height="18.6" fill="#4169E1" stroke="#BEBEBE" stroke-width="1.2"/>
<rect x="815.6" y="550.8" width="18.75" height="18.6" fill="#3CB371" stroke="#BEBEBE" stroke-width="1.2"/>
<rect x="834.35" y="550.8" width="18.75" height="18.6" fill="#AB82FF" stroke="#BEBEBE" stroke-width="1.2"/>
<rect x="853.09" y="550.8" width="18.75" height="18.6" fill="#AB82FF" stroke="#BEBEBE" stroke-width="1.2"/>
<rect x="871.84" y="550.8" width="18.75" height="18.6" fill="#AB82FF" stroke="#BEBEBE" stroke-width="1.2"/>
<rect x="890.58" y="550.8" width="18.75" height="18.6" fill="#AB82FF" stroke="#BEBEBE" stroke-width="1.2"/>
<rect x="909.33" y="550.8" width="18.75" height="18.6" fill="#FFD700" stroke="#BEBEBE" stroke-width="1.2"/>
<rect x="928.07" y="550.8" width="18.75" height="18.6" fill="#FF4500" stroke="#BEBEBE" stroke-width="1.2"/>
<rect x="946.82" y="550.8" width="18.75" height="18.6" fill="#FFD700" stroke="#BEBEBE" stroke-width="1.2"/>
<rect x="965.56" y="550.8" width="18.75" height="18.6" fill="#FF4500" stroke="#BEBEBE" stroke-width="1.2"/>
<rect x="984.31" y="550.8" width="18.75" height="18.6" fill="#FFD700" stroke="#BEBEBE" stroke-width="1.2"/>
<rect x="1003.05" y="550.8" width="18.75" height="18.6" fill="#FF4500" stroke="#BEBEBE" stroke-width="1.2"/>
<rect x="1021.8" y="550.8" width="18.75" height="18.6" fill="#0000FF" stroke="#BEBEBE" stroke-width="1.2"/>
<rect x="1040.55" y="550.8" width="18.75" height="18.6" fill="#3CB371" stroke="#BEBEBE" stroke-width="1.2"/>
<rect x="1059.29" y="550.8" width="18.75" height="18.6" fill="#0000FF" stroke="#BEBEBE" stroke-width="1.2"/>
<rect x="1078.04" y="550.8" width="18.75" height="18.6" fill="#AB82FF" stroke="#BEBEBE" stroke-width="1.2"/>
<rect x="1096.78" y="550.8" width="18.75" height="18.6" fill="#FF4500" stroke="#BEBEBE" stroke-width="1.2"/>
<rect x="1115.53" y="550.8" width="18.75" height="18.6" fill="#3CB371" stroke="#BEBEBE" stroke-width="1.2"/>
<rect x="1134.27" y="550.8" width="18.75" height="18.6" fill="#3CB371" stroke="#BEBEBE" stroke-width="1.2"/>
<rect x="1153.02" y="550.8" width="18.75" height="18.6" fill="#FFD700" stroke="#BEBEBE" stroke-width="1.2"/>
<rect x="1171.76" y="550.8" width="18.75" height="18.6" fill="#FF8C00" stroke="#BEBEBE" stroke-width="1.2"/>
<rect x="1190.51" y="550.8" width="18.75" height="18.6" fill="#AB82FF" stroke="#BEBEBE" stroke-width="1.2"/>
<rect x="1209.25" y="550.8" width="18.75" height="18.6" fill="#FF4500" stroke="#BEBEBE" stroke-width="1.2"/>
<rect x="815.6" y="571.3" width="18.75" height="18.4" fill="#8FBC8F" stroke="#BEBEBE" stroke-width="1.2"/>
<rect x="834.35" y="571.3" width="18.75" height="18.4" fill="#8FBC8F" stroke="#BEBEBE" stroke-width="1.2"/>
<rect x="853.09" y="571.3" width="18.75" height="18.4" fill="#8FBC8F" stroke="#BEBEBE" stroke-width="1.2"/>
<rect x="871.84" y="571.3" width="18.75" height="18.4" fill="#8FBC8F" stroke="#BEBEBE" stroke-width="1.2"/>
<rect x="890.58" y="571.3" width="18.75" height="18.4" fill="#8FBC8F" stroke="#BEBEBE" stroke-width="1.2"/>
<rect x="909.33" y="571.3" width="18.75" height="18.4" fill="#8FBC8F" stroke="#BEBEBE" stroke-width="1.2"/>
<rect x="928.07" y="571.3" width="18.75" height="18.4" fill="#E6E6FA" stroke="#BEBEBE" stroke-width="1.2"/>
<rect x="946.82" y="571.3" width="18.75" height="18.4" fill="#E6E6FA" stroke="#BEBEBE" stroke-width="1.2"/>
<rect x="965.56" y="571.3" width="18.75" height="18.4" fill="#E6E6FA" stroke="#BEBEBE" stroke-width="1.2"/>
<rect x="984.31" y="571.3" width="18.75" height="18.4" fill="#E6E6FA" stroke="#BEBEBE" stroke-width="1.2"/>
<rect x="1003.05" y="571.3" width="18.75" height="18.4" fill="#E6E6FA" stroke="#BEBEBE" stroke-width="1.2"/>
<rect x="1021.8" y="571.3" width="18.75" height="18.4" fill="#E6E6FA" stroke="#BEBEBE" stroke-width="1.2"/>
<rect x="1040.55" y="571.3" width="18.75" height="18.4" fill="#E6E6FA" stroke="#BEBEBE" stroke-width="1.2"/>
<rect x="1059.29" y="571.3" width="18.75" height="18.4" fill="#483D8B" stroke="#BEBEBE" stroke-width="1.2"/>
<rect x="1078.04" y="571.3" width="18.75" height="18.4" fill="#483D8B" stroke="#BEBEBE" stroke-width="1.2"/>
<rect x="1096.78" y="571.3" width="18.75" height="18.4" fill="#483D8B" stroke="#BEBEBE" stroke-width="1.2"/>
<rect x="1115.53" y="571.3" width="18.75" height="18.4" fill="#483D8B" stroke="#BEBEBE" stroke-width="1.2"/>
<rect x="1134.27" y="571.3" width="18.75" height="18.4" fill="#483D8B" stroke="#BEBEBE" stroke-width="1.2"/>
<rect x="1153.02" y="571.3" width="18.75" height="18.4" fill="#483D8B" stroke="#BEBEBE" stroke-width="1.2"/>
<rect x="1171.76" y="571.3" width="18.75" height="18.4" fill="#483D8B" stroke="#BEBEBE" stroke-width="1.2"/>
<rect x="1190.51" y="571.3" width="18.75" height="18.4" fill="#483D8B" stroke="#BEBEBE" stroke-width="1.2"/>
<rect x="1209.25" y="571.3" width="18.75" height="18.4" fill="#483D8B" stroke="#BEBEBE" stroke-width="1.2"/>
<text x="1239.9" y="543.5" font-size="17.2">Patient</text>
<text x="1239.9" y="563.8" font-size="17.2">Organ</text>
<text x="1239.9" y="584.7" font-size="17.2">Treatment</text>
<text x="1237.1" y="270.4" font-size="16.9">Patient</text>
<rect x="1237.1" y="281.2" width="25.7" height="23.6" fill="#FF0000"/>
<text x="1271.3" y="298.58" font-size="16.9">RAM12.01</text>
<rect x="1237.1" y="307.56" width="25.7" height="23.6" fill="#CDC673"/>
<text x="1271.3" y="324.94" font-size="16.9">RAM13003</text>
<rect x="1237.1" y="333.92" width="25.7" height="23.6" fill="#6495ED"/>
<text x="1271.3" y="351.3" font-size="16.9">RAM13004</text>
<rect x="1237.1" y="360.28" width="25.7" height="23.6" fill="#AB82FF"/>
<text x="1271.3" y="377.66" font-size="16.9">RAM14006</text>
<rect x="1237.1" y="386.64" width="25.7" height="23.6" fill="#3CB371"/>
<text x="1271.3" y="404.02" font-size="16.9">RAM19001</text>
<rect x="1237.1" y="413" width="25.7" height="23.6" fill="#F08080"/>
<text x="1271.3" y="430.38" font-size="16.9">RAM19002</text>
<rect x="1237.1" y="439.36" width="25.7" height="23.6" fill="#4169E1"/>
<text x="1271.3" y="456.74" font-size="16.9">RAM19003</text>
<rect x="1237.1" y="465.72" width="25.7" height="23.6" fill="#87CEEB"/>
<text x="1271.3" y="483.1" font-size="16.9">RAM19005</text>
<text x="1416" y="28.7" font-size="37" font-weight="bold" stroke="#000" stroke-width="1.8" stroke-linejoin="round">c</text>
<rect x="1500.5" y="23" width="353.9" height="223.5" fill="#fff" stroke="#333" stroke-width="1.2"/>
<rect x="1505.1" y="33.61" width="28.4" height="18.38" fill="#00A600"/>
<rect x="1505.1" y="51.99" width="28.4" height="67.22" fill="#63C600"/>
<rect x="1505.1" y="119.21" width="28.4" height="29.59" fill="#E6E600"/>
<rect x="1505.1" y="148.8" width="28.4" height="22.12" fill="#8B008B"/>
<rect x="1505.1" y="170.92" width="28.4" height="40.5" fill="#EEB99F"/>
<rect x="1505.1" y="211.42" width="28.4" height="24.42" fill="#BEBEBE"/>
<rect x="1536.7" y="33.61" width="28.4" height="18.38" fill="#00A600"/>
<rect x="1536.7" y="51.99" width="28.4" height="67.22" fill="#63C600"/>
<rect x="1536.7" y="119.21" width="28.4" height="29.59" fill="#E6E600"/>
<rect x="1536.7" y="148.8" width="28.4" height="22.12" fill="#8B008B"/>
<rect x="1536.7" y="170.92" width="28.4" height="40.5" fill="#EEB99F"/>
<rect x="1536.7" y="211.42" width="28.4" height="24.42" fill="#BEBEBE"/>
<rect x="1568.3" y="33.61" width="28.4" height="18.38" fill="#00A600"/>
<rect x="1568.3" y="51.99" width="28.4" height="67.22" fill="#63C600"/>
<rect x="1568.3" y="119.21" width="28.4" height="29.59" fill="#E6E600"/>
<rect x="1568.3" y="148.8" width="28.4" height="22.12" fill="#8B008B"/>
<rect x="1568.3" y="170.92" width="28.4" height="40.5" fill="#EEB99F"/>
<rect x="1568.3" y="211.42" width="28.4" height="24.42" fill="#BEBEBE"/>
<rect x="1599.9" y="33.61" width="28.4" height="18.38" fill="#00A600"/>
<rect x="1599.9" y="51.99" width="28.4" height="67.22" fill="#63C600"/>
<rect x="1599.9" y="119.21" width="28.4" height="29.59" fill="#E6E600"/>
<rect x="1599.9" y="148.8" width="28.4" height="22.12" fill="#8B008B"/>
<rect x="1599.9" y="170.92" width="28.4" height="40.5" fill="#EEB99F"/>
<rect x="1599.9" y="211.42" width="28.4" height="24.42" fill="#BEBEBE"/>
<rect x="1631.5" y="33.61" width="28.4" height="23.84" fill="#00A600"/>
<rect x="1631.5" y="57.45" width="28.4" height="55.44" fill="#63C600"/>
<rect x="1631.5" y="112.89" width="28.4" height="33.03" fill="#E6E600"/>
<rect x="1631.5" y="145.92" width="28.4" height="29.87" fill="#8B008B"/>
<rect x="1631.5" y="175.8" width="28.4" height="34.18" fill="#EEB99F"/>
<rect x="1631.5" y="209.98" width="28.4" height="25.85" fill="#BEBEBE"/>
<rect x="1663.1" y="33.61" width="28.4" height="23.84" fill="#00A600"/>
<rect x="1663.1" y="57.45" width="28.4" height="55.44" fill="#63C600"/>
<rect x="1663.1" y="112.89" width="28.4" height="33.03" fill="#E6E600"/>
<rect x="1663.1" y="145.92" width="28.4" height="29.87" fill="#8B008B"/>
<rect x="1663.1" y="175.8" width="28.4" height="34.18" fill="#EEB99F"/>
<rect x="1663.1" y="209.98" width="28.4" height="25.85" fill="#BEBEBE"/>
<rect x="1694.7" y="33.61" width="28.4" height="23.84" fill="#00A600"/>
<rect x="1694.7" y="57.45" width="28.4" height="55.44" fill="#63C600"/>
<rect x="1694.7" y="112.89" width="28.4" height="33.03" fill="#E6E600"/>
<rect x="1694.7" y="145.92" width="28.4" height="29.87" fill="#8B008B"/>
<rect x="1694.7" y="175.8" width="28.4" height="34.18" fill="#EEB99F"/>
<rect x="1694.7" y="209.98" width="28.4" height="25.85" fill="#BEBEBE"/>
<rect x="1726.3" y="33.61" width="28.4" height="23.84" fill="#00A600"/>
<rect x="1726.3" y="57.45" width="28.4" height="55.44" fill="#63C600"/>
<rect x="1726.3" y="112.89" width="28.4" height="33.03" fill="#E6E600"/>
<rect x="1726.3" y="145.92" width="28.4" height="29.87" fill="#8B008B"/>
<rect x="1726.3" y="175.8" width="28.4" height="34.18" fill="#EEB99F"/>
<rect x="1726.3" y="209.98" width="28.4" height="25.85" fill="#BEBEBE"/>
<rect x="1757.9" y="33.61" width="28.4" height="23.84" fill="#00A600"/>
<rect x="1757.9" y="57.45" width="28.4" height="55.44" fill="#63C600"/>
<rect x="1757.9" y="112.89" width="28.4" height="33.03" fill="#E6E600"/>
<rect x="1757.9" y="145.92" width="28.4" height="29.87" fill="#8B008B"/>
<rect x="1757.9" y="175.8" width="28.4" height="34.18" fill="#EEB99F"/>
<rect x="1757.9" y="209.98" width="28.4" height="25.85" fill="#BEBEBE"/>
<rect x="1789.5" y="33.61" width="28.4" height="23.84" fill="#00A600"/>
<rect x="1789.5" y="57.45" width="28.4" height="55.44" fill="#63C600"/>
<rect x="1789.5" y="112.89" width="28.4" height="33.03" fill="#E6E600"/>
<rect x="1789.5" y="145.92" width="28.4" height="29.87" fill="#8B008B"/>
<rect x="1789.5" y="175.8" width="28.4" height="34.18" fill="#EEB99F"/>
<rect x="1789.5" y="209.98" width="28.4" height="25.85" fill="#BEBEBE"/>
<rect x="1821.1" y="33.61" width="28.4" height="23.84" fill="#00A600"/>
<rect x="1821.1" y="57.45" width="28.4" height="55.44" fill="#63C600"/>
<rect x="1821.1" y="112.89" width="28.4" height="33.03" fill="#E6E600"/>
<rect x="1821.1" y="145.92" width="28.4" height="29.87" fill="#8B008B"/>
<rect x="1821.1" y="175.8" width="28.4" height="34.18" fill="#EEB99F"/>
<rect x="1821.1" y="209.98" width="28.4" height="25.85" fill="#BEBEBE"/>
<rect x="1500.5" y="248.6" width="353.9" height="213.4" fill="#fff" stroke="#333" stroke-width="1.2"/>
<rect x="1505.1" y="258.1" width="28.4" height="10.63" fill="#00A600"/>
<rect x="1505.1" y="268.73" width="28.4" height="81.29" fill="#63C600"/>
<rect x="1505.1" y="350.02" width="28.4" height="14.65" fill="#E6E600"/>
<rect x="1505.1" y="364.67" width="28.4" height="32.17" fill="#8B008B"/>
<rect x="1505.1" y="396.84" width="28.4" height="41.36" fill="#EEB99F"/>
<rect x="1505.1" y="438.2" width="28.4" height="14.65" fill="#BEBEBE"/>
<rect x="1536.7" y="258.1" width="28.4" height="10.34" fill="#00A600"/>
<rect x="1536.7" y="268.44" width="28.4" height="41.36" fill="#63C600"/>
<rect x="1536.7" y="309.8" width="28.4" height="9.19" fill="#E6E600"/>
<rect x="1536.7" y="318.99" width="28.4" height="81.01" fill="#8B008B"/>
<rect x="1536.7" y="400" width="28.4" height="15.8" fill="#EEB99F"/>
<rect x="1536.7" y="415.8" width="28.4" height="37.06" fill="#BEBEBE"/>
<rect x="1568.3" y="258.1" width="28.4" height="7.76" fill="#00A600"/>
<rect x="1568.3" y="265.85" width="28.4" height="62.05" fill="#63C600"/>
<rect x="1568.3" y="327.9" width="28.4" height="14.36" fill="#E6E600"/>
<rect x="1568.3" y="342.26" width="28.4" height="65.78" fill="#8B008B"/>
<rect x="1568.3" y="408.04" width="28.4" height="15.8" fill="#EEB99F"/>
<rect x="1568.3" y="423.84" width="28.4" height="29.01" fill="#BEBEBE"/>
<rect x="1599.9" y="258.1" width="28.4" height="7.76" fill="#00A600"/>
<rect x="1599.9" y="265.85" width="28.4" height="46.54" fill="#63C600"/>
<rect x="1599.9" y="312.39" width="28.4" height="7.76" fill="#E6E600"/>
<rect x="1599.9" y="320.14" width="28.4" height="56.88" fill="#8B008B"/>
<rect x="1599.9" y="377.02" width="28.4" height="25.57" fill="#EEB99F"/>
<rect x="1599.9" y="402.59" width="28.4" height="50.27" fill="#BEBEBE"/>
<rect x="1631.5" y="258.1" width="28.4" height="12.35" fill="#00A600"/>
<rect x="1631.5" y="270.45" width="28.4" height="70.66" fill="#63C600"/>
<rect x="1631.5" y="341.11" width="28.4" height="12.93" fill="#E6E600"/>
<rect x="1631.5" y="354.04" width="28.4" height="11.2" fill="#8B008B"/>
<rect x="1631.5" y="365.24" width="28.4" height="72.68" fill="#EEB99F"/>
<rect x="1631.5" y="437.92" width="28.4" height="14.94" fill="#BEBEBE"/>
<rect x="1663.1" y="258.1" width="28.4" height="12.64" fill="#00A600"/>
<rect x="1663.1" y="270.74" width="28.4" height="80.43" fill="#63C600"/>
<rect x="1663.1" y="351.17" width="28.4" height="11.78" fill="#E6E600"/>
<rect x="1663.1" y="362.94" width="28.4" height="9.48" fill="#8B008B"/>
<rect x="1663.1" y="372.42" width="28.4" height="70.38" fill="#EEB99F"/>
<rect x="1663.1" y="442.8" width="28.4" height="10.05" fill="#BEBEBE"/>
<rect x="1694.7" y="258.1" width="28.4" height="9.77" fill="#00A600"/>
<rect x="1694.7" y="267.86" width="28.4" height="75.26" fill="#63C600"/>
<rect x="1694.7" y="343.12" width="28.4" height="12.64" fill="#E6E600"/>
<rect x="1694.7" y="355.76" width="28.4" height="9.77" fill="#8B008B"/>
<rect x="1694.7" y="365.53" width="28.4" height="75.26" fill="#EEB99F"/>
<rect x="1694.7" y="440.79" width="28.4" height="12.06" fill="#BEBEBE"/>
<rect x="1726.3" y="258.1" width="28.4" height="14.08" fill="#00A600"/>
<rect x="1726.3" y="272.17" width="28.4" height="33.03" fill="#63C600"/>
<rect x="1726.3" y="305.21" width="28.4" height="17.52" fill="#E6E600"/>
<rect x="1726.3" y="322.73" width="28.4" height="14.36" fill="#8B008B"/>
<rect x="1726.3" y="337.09" width="28.4" height="98.53" fill="#EEB99F"/>
<rect x="1726.3" y="435.62" width="28.4" height="17.24" fill="#BEBEBE"/>
<rect x="1757.9" y="258.1" width="28.4" height="10.63" fill="#00A600"/>
<rect x="1757.9" y="268.73" width="28.4" height="90.2" fill="#63C600"/>
<rect x="1757.9" y="358.92" width="28.4" height="13.21" fill="#E6E600"/>
<rect x="1757.9" y="372.14" width="28.4" height="15.22" fill="#8B008B"/>
<rect x="1757.9" y="387.36" width="28.4" height="46.25" fill="#EEB99F"/>
<rect x="1757.9" y="433.61" width="28.4" height="19.25" fill="#BEBEBE"/>
<rect x="1789.5" y="258.1" width="28.4" height="12.35" fill="#00A600"/>
<rect x="1789.5" y="270.45" width="28.4" height="82.73" fill="#63C600"/>
<rect x="1789.5" y="353.18" width="28.4" height="12.93" fill="#E6E600"/>
<rect x="1789.5" y="366.1" width="28.4" height="16.09" fill="#8B008B"/>
<rect x="1789.5" y="382.19" width="28.4" height="60.9" fill="#EEB99F"/>
<rect x="1789.5" y="443.09" width="28.4" height="9.77" fill="#BEBEBE"/>
<rect x="1821.1" y="258.1" width="28.4" height="11.78" fill="#00A600"/>
<rect x="1821.1" y="269.87" width="28.4" height="90.2" fill="#63C600"/>
<rect x="1821.1" y="360.07" width="28.4" height="18.1" fill="#E6E600"/>
<rect x="1821.1" y="378.17" width="28.4" height="10.05" fill="#8B008B"/>
<rect x="1821.1" y="388.22" width="28.4" height="54.58" fill="#EEB99F"/>
<rect x="1821.1" y="442.8" width="28.4" height="10.05" fill="#BEBEBE"/>
<rect x="1499.4" y="464.3" width="358.5" height="216.9" fill="#fff" stroke="#333" stroke-width="1.2"/>
<rect x="1504" y="475.22" width="29.9" height="5.75" fill="#00A600"/>
<rect x="1504" y="480.97" width="29.9" height="127.83" fill="#63C600"/>
<rect x="1504" y="608.8" width="29.9" height="12.64" fill="#E6E600"/>
<rect x="1504" y="621.44" width="29.9" height="16.66" fill="#8B008B"/>
<rect x="1504" y="638.1" width="29.9" height="27.58" fill="#EEB99F"/>
<rect x="1504" y="665.67" width="29.9" height="6.03" fill="#BEBEBE"/>
<rect x="1536.06" y="475.22" width="29.9" height="3.73" fill="#00A600"/>
<rect x="1536.06" y="478.96" width="29.9" height="172.93" fill="#63C600"/>
<rect x="1536.06" y="651.89" width="29.9" height="7.76" fill="#E6E600"/>
<rect x="1536.06" y="659.64" width="29.9" height="3.73" fill="#8B008B"/>
<rect x="1536.06" y="663.38" width="29.9" height="5.46" fill="#EEB99F"/>
<rect x="1536.06" y="668.83" width="29.9" height="2.87" fill="#BEBEBE"/>
<rect x="1568.12" y="475.22" width="29.9" height="3.16" fill="#00A600"/>
<rect x="1568.12" y="478.38" width="29.9" height="178.67" fill="#63C600"/>
<rect x="1568.12" y="657.06" width="29.9" height="4.31" fill="#E6E600"/>
<rect x="1568.12" y="661.36" width="29.9" height="4.02" fill="#8B008B"/>
<rect x="1568.12" y="665.39" width="29.9" height="3.45" fill="#EEB99F"/>
<rect x="1568.12" y="668.83" width="29.9" height="2.87" fill="#BEBEBE"/>
<rect x="1600.18" y="475.22" width="29.9" height="4.6" fill="#00A600"/>
<rect x="1600.18" y="479.82" width="29.9" height="124.09" fill="#63C600"/>
<rect x="1600.18" y="603.91" width="29.9" height="10.05" fill="#E6E600"/>
<rect x="1600.18" y="613.97" width="29.9" height="14.36" fill="#8B008B"/>
<rect x="1600.18" y="628.33" width="29.9" height="28.73" fill="#EEB99F"/>
<rect x="1600.18" y="657.06" width="29.9" height="14.65" fill="#BEBEBE"/>
<rect x="1632.24" y="475.22" width="29.9" height="4.6" fill="#00A600"/>
<rect x="1632.24" y="479.82" width="29.9" height="153.97" fill="#63C600"/>
<rect x="1632.24" y="633.79" width="29.9" height="15.8" fill="#E6E600"/>
<rect x="1632.24" y="649.59" width="29.9" height="6.32" fill="#8B008B"/>
<rect x="1632.24" y="655.91" width="29.9" height="10.05" fill="#EEB99F"/>
<rect x="1632.24" y="665.96" width="29.9" height="5.75" fill="#BEBEBE"/>
<rect x="1664.3" y="475.22" width="29.9" height="5.17" fill="#00A600"/>
<rect x="1664.3" y="480.39" width="29.9" height="161.44" fill="#63C600"/>
<rect x="1664.3" y="641.83" width="29.9" height="10.34" fill="#E6E600"/>
<rect x="1664.3" y="652.17" width="29.9" height="6.03" fill="#8B008B"/>
<rect x="1664.3" y="658.2" width="29.9" height="8.62" fill="#EEB99F"/>
<rect x="1664.3" y="666.82" width="29.9" height="4.88" fill="#BEBEBE"/>
<rect x="1696.36" y="475.22" width="29.9" height="6.03" fill="#00A600"/>
<rect x="1696.36" y="481.26" width="29.9" height="153.97" fill="#63C600"/>
<rect x="1696.36" y="635.22" width="29.9" height="10.05" fill="#E6E600"/>
<rect x="1696.36" y="645.28" width="29.9" height="7.76" fill="#8B008B"/>
<rect x="1696.36" y="653.03" width="29.9" height="10.34" fill="#EEB99F"/>
<rect x="1696.36" y="663.38" width="29.9" height="8.33" fill="#BEBEBE"/>
<rect x="1728.42" y="475.22" width="29.9" height="1.72" fill="#00A600"/>
<rect x="1728.42" y="476.95" width="29.9" height="181.26" fill="#63C600"/>
<rect x="1728.42" y="658.2" width="29.9" height="3.45" fill="#E6E600"/>
<rect x="1728.42" y="661.65" width="29.9" height="1.44" fill="#8B008B"/>
<rect x="1728.42" y="663.09" width="29.9" height="6.61" fill="#EEB99F"/>
<rect x="1728.42" y="669.69" width="29.9" height="2.01" fill="#BEBEBE"/>
<rect x="1760.48" y="475.22" width="29.9" height="4.6" fill="#00A600"/>
<rect x="1760.48" y="479.82" width="29.9" height="168.62" fill="#63C600"/>
<rect x="1760.48" y="648.44" width="29.9" height="5.75" fill="#E6E600"/>
<rect x="1760.48" y="654.18" width="29.9" height="4.88" fill="#8B008B"/>
<rect x="1760.48" y="659.07" width="29.9" height="7.76" fill="#EEB99F"/>
<rect x="1760.48" y="666.82" width="29.9" height="4.88" fill="#BEBEBE"/>
<rect x="1792.54" y="475.22" width="29.9" height="6.03" fill="#00A600"/>
<rect x="1792.54" y="481.26" width="29.9" height="152.24" fill="#63C600"/>
<rect x="1792.54" y="633.5" width="29.9" height="14.94" fill="#E6E600"/>
<rect x="1792.54" y="648.44" width="29.9" height="7.18" fill="#8B008B"/>
<rect x="1792.54" y="655.62" width="29.9" height="10.05" fill="#EEB99F"/>
<rect x="1792.54" y="665.67" width="29.9" height="6.03" fill="#BEBEBE"/>
<rect x="1824.6" y="475.22" width="29.9" height="2.59" fill="#00A600"/>
<rect x="1824.6" y="477.81" width="29.9" height="166.03" fill="#63C600"/>
<rect x="1824.6" y="643.84" width="29.9" height="10.05" fill="#E6E600"/>
<rect x="1824.6" y="653.9" width="29.9" height="4.6" fill="#8B008B"/>
<rect x="1824.6" y="658.49" width="29.9" height="9.48" fill="#EEB99F"/>
<rect x="1824.6" y="667.97" width="29.9" height="3.73" fill="#BEBEBE"/>
<line x1="1494.2" y1="235.8" x2="1500.5" y2="235.8" stroke="#333" stroke-width="1.2"/>
<text x="1486.5" y="242" font-size="17.5" text-anchor="end">0</text>
<line x1="1494.2" y1="185.25" x2="1500.5" y2="185.25" stroke="#333" stroke-width="1.2"/>
<text x="1486.5" y="191.45" font-size="17.5" text-anchor="end">0.25</text>
<line x1="1494.2" y1="134.7" x2="1500.5" y2="134.7" stroke="#333" stroke-width="1.2"/>
<text x="1486.5" y="140.9" font-size="17.5" text-anchor="end">0.50</text>
<line x1="1494.2" y1="84.15" x2="1500.5" y2="84.15" stroke="#333" stroke-width="1.2"/>
<text x="1486.5" y="90.35" font-size="17.5" text-anchor="end">0.75</text>
<line x1="1494.2" y1="33.6" x2="1500.5" y2="33.6" stroke="#333" stroke-width="1.2"/>
<text x="1486.5" y="39.8" font-size="17.5" text-anchor="end">1.00</text>
<line x1="1494.2" y1="452.9" x2="1500.5" y2="452.9" stroke="#333" stroke-width="1.2"/>
<text x="1486.5" y="459.1" font-size="17.5" text-anchor="end">0</text>
<line x1="1494.2" y1="404.2" x2="1500.5" y2="404.2" stroke="#333" stroke-width="1.2"/>
<text x="1486.5" y="410.4" font-size="17.5" text-anchor="end">0.25</text>
<line x1="1494.2" y1="355.5" x2="1500.5" y2="355.5" stroke="#333" stroke-width="1.2"/>
<text x="1486.5" y="361.7" font-size="17.5" text-anchor="end">0.50</text>
<line x1="1494.2" y1="306.8" x2="1500.5" y2="306.8" stroke="#333" stroke-width="1.2"/>
<text x="1486.5" y="313" font-size="17.5" text-anchor="end">0.75</text>
<line x1="1494.2" y1="258.1" x2="1500.5" y2="258.1" stroke="#333" stroke-width="1.2"/>
<text x="1486.5" y="264.3" font-size="17.5" text-anchor="end">1.00</text>
<line x1="1494.2" y1="671.7" x2="1500.5" y2="671.7" stroke="#333" stroke-width="1.2"/>
<text x="1486.5" y="677.9" font-size="17.5" text-anchor="end">0</text>
<line x1="1494.2" y1="622.58" x2="1500.5" y2="622.58" stroke="#333" stroke-width="1.2"/>
<text x="1486.5" y="628.78" font-size="17.5" text-anchor="end">0.25</text>
<line x1="1494.2" y1="573.45" x2="1500.5" y2="573.45" stroke="#333" stroke-width="1.2"/>
<text x="1486.5" y="579.65" font-size="17.5" text-anchor="end">0.50</text>
<line x1="1494.2" y1="524.33" x2="1500.5" y2="524.33" stroke="#333" stroke-width="1.2"/>
<text x="1486.5" y="530.53" font-size="17.5" text-anchor="end">0.75</text>
<line x1="1494.2" y1="475.2" x2="1500.5" y2="475.2" stroke="#333" stroke-width="1.2"/>
<text x="1486.5" y="481.4" font-size="17.5" text-anchor="end">1.00</text>
<line x1="1519" y1="246.5" x2="1519" y2="251.5" stroke="#333" stroke-width="1"/>
<line x1="1551.06" y1="246.5" x2="1551.06" y2="251.5" stroke="#333" stroke-width="1"/>
<line x1="1583.12" y1="246.5" x2="1583.12" y2="251.5" stroke="#333" stroke-width="1"/>
<line x1="1615.18" y1="246.5" x2="1615.18" y2="251.5" stroke="#333" stroke-width="1"/>
<line x1="1647.24" y1="246.5" x2="1647.24" y2="251.5" stroke="#333" stroke-width="1"/>
<line x1="1679.3" y1="246.5" x2="1679.3" y2="251.5" stroke="#333" stroke-width="1"/>
<line x1="1711.36" y1="246.5" x2="1711.36" y2="251.5" stroke="#333" stroke-width="1"/>
<line x1="1743.42" y1="246.5" x2="1743.42" y2="251.5" stroke="#333" stroke-width="1"/>
<line x1="1775.48" y1="246.5" x2="1775.48" y2="251.5" stroke="#333" stroke-width="1"/>
<line x1="1807.54" y1="246.5" x2="1807.54" y2="251.5" stroke="#333" stroke-width="1"/>
<line x1="1839.6" y1="246.5" x2="1839.6" y2="251.5" stroke="#333" stroke-width="1"/>
<line x1="1519" y1="462" x2="1519" y2="467" stroke="#333" stroke-width="1"/>
<line x1="1551.06" y1="462" x2="1551.06" y2="467" stroke="#333" stroke-width="1"/>
<line x1="1583.12" y1="462" x2="1583.12" y2="467" stroke="#333" stroke-width="1"/>
<line x1="1615.18" y1="462" x2="1615.18" y2="467" stroke="#333" stroke-width="1"/>
<line x1="1647.24" y1="462" x2="1647.24" y2="467" stroke="#333" stroke-width="1"/>
<line x1="1679.3" y1="462" x2="1679.3" y2="467" stroke="#333" stroke-width="1"/>
<line x1="1711.36" y1="462" x2="1711.36" y2="467" stroke="#333" stroke-width="1"/>
<line x1="1743.42" y1="462" x2="1743.42" y2="467" stroke="#333" stroke-width="1"/>
<line x1="1775.48" y1="462" x2="1775.48" y2="467" stroke="#333" stroke-width="1"/>
<line x1="1807.54" y1="462" x2="1807.54" y2="467" stroke="#333" stroke-width="1"/>
<line x1="1839.6" y1="462" x2="1839.6" y2="467" stroke="#333" stroke-width="1"/>
<line x1="1519" y1="681.2" x2="1519" y2="686.2" stroke="#333" stroke-width="1"/>
<line x1="1551.06" y1="681.2" x2="1551.06" y2="686.2" stroke="#333" stroke-width="1"/>
<line x1="1583.12" y1="681.2" x2="1583.12" y2="686.2" stroke="#333" stroke-width="1"/>
<line x1="1615.18" y1="681.2" x2="1615.18" y2="686.2" stroke="#333" stroke-width="1"/>
<line x1="1647.24" y1="681.2" x2="1647.24" y2="686.2" stroke="#333" stroke-width="1"/>
<line x1="1679.3" y1="681.2" x2="1679.3" y2="686.2" stroke="#333" stroke-width="1"/>
<line x1="1711.36" y1="681.2" x2="1711.36" y2="686.2" stroke="#333" stroke-width="1"/>
<line x1="1743.42" y1="681.2" x2="1743.42" y2="686.2" stroke="#333" stroke-width="1"/>
<line x1="1775.48" y1="681.2" x2="1775.48" y2="686.2" stroke="#333" stroke-width="1"/>
<line x1="1807.54" y1="681.2" x2="1807.54" y2="686.2" stroke="#333" stroke-width="1"/>
<line x1="1839.6" y1="681.2" x2="1839.6" y2="686.2" stroke="#333" stroke-width="1"/>
<text x="1431" y="352" font-size="21.8" text-anchor="middle" transform="rotate(-90 1431 352)">Proportion of rearrangement signatures</text>
<rect x="1857.5" y="22.6" width="35" height="224.3" fill="#fff" stroke="#000" stroke-width="2.4"/>
<text x="1868.16" y="134.75" font-size="19" text-anchor="middle" transform="rotate(90 1868.16 134.75)">Early</text>
<rect x="1857.5" y="246.9" width="35" height="217.1" fill="#fff" stroke="#000" stroke-width="2.4"/>
<text x="1868.16" y="355.45" font-size="19" text-anchor="middle" transform="rotate(90 1868.16 355.45)">Intermediate</text>
<rect x="1857.5" y="464.9" width="35" height="216.1" fill="#fff" stroke="#000" stroke-width="2.4"/>
<text x="1868.16" y="572.95" font-size="19" text-anchor="middle" transform="rotate(90 1868.16 572.95)">Late</text>
<rect x="1501" y="689.8" width="32.08" height="18.7" fill="#FF0000" stroke="#BEBEBE" stroke-width="1.2"/>
<rect x="1533.08" y="689.8" width="32.08" height="18.7" fill="#FF0000" stroke="#BEBEBE" stroke-width="1.2"/>
<rect x="1565.16" y="689.8" width="32.08" height="18.7" fill="#FF0000" stroke="#BEBEBE" stroke-width="1.2"/>
<rect x="1597.25" y="689.8" width="32.08" height="18.7" fill="#FF0000" stroke="#BEBEBE" stroke-width="1.2"/>
<rect x="1629.33" y="689.8" width="32.08" height="18.7" fill="#AB82FF" stroke="#BEBEBE" stroke-width="1.2"/>
<rect x="1661.41" y="689.8" width="32.08" height="18.7" fill="#AB82FF" stroke="#BEBEBE" stroke-width="1.2"/>
<rect x="1693.49" y="689.8" width="32.08" height="18.7" fill="#AB82FF" stroke="#BEBEBE" stroke-width="1.2"/>
<rect x="1725.57" y="689.8" width="32.08" height="18.7" fill="#AB82FF" stroke="#BEBEBE" stroke-width="1.2"/>
<rect x="1757.65" y="689.8" width="32.08" height="18.7" fill="#AB82FF" stroke="#BEBEBE" stroke-width="1.2"/>
<rect x="1789.74" y="689.8" width="32.08" height="18.7" fill="#AB82FF" stroke="#BEBEBE" stroke-width="1.2"/>
<rect x="1821.82" y="689.8" width="32.08" height="18.7" fill="#AB82FF" stroke="#BEBEBE" stroke-width="1.2"/>
<rect x="1501" y="710.8" width="32.08" height="18.4" fill="#3CB371" stroke="#BEBEBE" stroke-width="1.2"/>
<rect x="1533.08" y="710.8" width="32.08" height="18.4" fill="#AB82FF" stroke="#BEBEBE" stroke-width="1.2"/>
<rect x="1565.16" y="710.8" width="32.08" height="18.4" fill="#AB82FF" stroke="#BEBEBE" stroke-width="1.2"/>
<rect x="1597.25" y="710.8" width="32.08" height="18.4" fill="#AB82FF" stroke="#BEBEBE" stroke-width="1.2"/>
<rect x="1629.33" y="710.8" width="32.08" height="18.4" fill="#0000FF" stroke="#BEBEBE" stroke-width="1.2"/>
<rect x="1661.41" y="710.8" width="32.08" height="18.4" fill="#AB82FF" stroke="#BEBEBE" stroke-width="1.2"/>
<rect x="1693.49" y="710.8" width="32.08" height="18.4" fill="#FF4500" stroke="#BEBEBE" stroke-width="1.2"/>
<rect x="1725.57" y="710.8" width="32.08" height="18.4" fill="#3CB371" stroke="#BEBEBE" stroke-width="1.2"/>
<rect x="1757.65" y="710.8" width="32.08" height="18.4" fill="#3CB371" stroke="#BEBEBE" stroke-width="1.2"/>
<rect x="1789.74" y="710.8" width="32.08" height="18.4" fill="#FFD700" stroke="#BEBEBE" stroke-width="1.2"/>
<rect x="1821.82" y="710.8" width="32.08" height="18.4" fill="#FF8C00" stroke="#BEBEBE" stroke-width="1.2"/>
<rect x="1501" y="731.5" width="32.08" height="18.6" fill="#8FBC8F" stroke="#BEBEBE" stroke-width="1.2"/>
<rect x="1533.08" y="731.5" width="32.08" height="18.6" fill="#8FBC8F" stroke="#BEBEBE" stroke-width="1.2"/>
<rect x="1565.16" y="731.5" width="32.08" height="18.6" fill="#8FBC8F" stroke="#BEBEBE" stroke-width="1.2"/>
<rect x="1597.25" y="731.5" width="32.08" height="18.6" fill="#8FBC8F" stroke="#BEBEBE" stroke-width="1.2"/>
<rect x="1629.33" y="731.5" width="32.08" height="18.6" fill="#483D8B" stroke="#BEBEBE" stroke-width="1.2"/>
<rect x="1661.41" y="731.5" width="32.08" height="18.6" fill="#483D8B" stroke="#BEBEBE" stroke-width="1.2"/>
<rect x="1693.49" y="731.5" width="32.08" height="18.6" fill="#483D8B" stroke="#BEBEBE" stroke-width="1.2"/>
<rect x="1725.57" y="731.5" width="32.08" height="18.6" fill="#483D8B" stroke="#BEBEBE" stroke-width="1.2"/>
<rect x="1757.65" y="731.5" width="32.08" height="18.6" fill="#483D8B" stroke="#BEBEBE" stroke-width="1.2"/>
<rect x="1789.74" y="731.5" width="32.08" height="18.6" fill="#483D8B" stroke="#BEBEBE" stroke-width="1.2"/>
<rect x="1821.82" y="731.5" width="32.08" height="18.6" fill="#483D8B" stroke="#BEBEBE" stroke-width="1.2"/>
<text x="1862" y="705.4" font-size="21.5">Patient</text>
<text x="1862" y="726.2" font-size="21.5">Organ</text>
<text x="1862" y="746.1" font-size="21.5">Treatment</text>
<text x="1913.2" y="59.7" font-size="17.2">Rearrangement</text>
<text x="1913.2" y="79.6" font-size="17.2">signatures</text>
<rect x="1913.2" y="97.1" width="24" height="22.6" fill="#00A600"/>
<text x="1945.4" y="113.98" font-size="16.9">RS1</text>
<rect x="1913.2" y="122.2" width="24" height="22.6" fill="#63C600"/>
<text x="1945.4" y="139.08" font-size="16.9">RS2</text>
<rect x="1913.2" y="147.3" width="24" height="22.6" fill="#E6E600"/>
<text x="1945.4" y="164.18" font-size="16.9">RS3</text>
<rect x="1913.2" y="172.4" width="24" height="22.6" fill="#8B008B"/>
<text x="1945.4" y="189.28" font-size="16.9">RS4</text>
<rect x="1913.2" y="197.5" width="24" height="22.6" fill="#EEB99F"/>
<text x="1945.4" y="214.38" font-size="16.9">RS5</text>
<rect x="1913.2" y="222.6" width="24" height="22.6" fill="#BEBEBE"/>
<text x="1945.4" y="239.48" font-size="16.9">RS6</text>
<text x="1914.2" y="282.5" font-size="16.9">Patient</text>
<rect x="1914.2" y="291.5" width="24.4" height="23.5" fill="#FF0000"/>
<text x="1947.6" y="308.83" font-size="16.9">RAM12.01</text>
<rect x="1914.2" y="317.8" width="24.4" height="23.5" fill="#AB82FF"/>
<text x="1947.6" y="335.13" font-size="16.9">RAM14006</text>
<text x="1914.2" y="375.4" font-size="16.9">Organ</text>
<rect x="1914.2" y="383.9" width="24.4" height="23.5" fill="#0000FF"/>
<text x="1947.6" y="401.23" font-size="16.9">Adrenal</text>
<rect x="1914.2" y="410.2" width="24.4" height="23.5" fill="#AB82FF"/>
<text x="1947.6" y="427.53" font-size="16.9">Brain</text>
<rect x="1914.2" y="436.5" width="24.4" height="23.5" fill="#FF4500"/>
<text x="1947.6" y="453.83" font-size="16.9">Liver</text>
<rect x="1914.2" y="462.8" width="24.4" height="23.5" fill="#FFD700"/>
<text x="1947.6" y="480.13" font-size="16.9">Lung</text>
<rect x="1914.2" y="489.1" width="24.4" height="23.5" fill="#3CB371"/>
<text x="1947.6" y="506.43" font-size="16.9">Lymph node</text>
<rect x="1914.2" y="515.4" width="24.4" height="23.5" fill="#FF8C00"/>
<text x="1947.6" y="532.73" font-size="16.9">Soft tissue</text>
<text x="1914.2" y="573.4" font-size="16.9">Treatment</text>
<rect x="1914.2" y="581.6" width="24.4" height="23.5" fill="#8FBC8F"/>
<text x="1947.6" y="598.93" font-size="16.9">MAPKi</text>
<rect x="1914.2" y="607.8" width="24.4" height="23.5" fill="#483D8B"/>
<text x="1947.6" y="625.13" font-size="16.9">MAPKi + ICB</text>
<text x="5" y="670" font-size="37" font-weight="bold" stroke="#000" stroke-width="1.8" stroke-linejoin="round">d</text>
<rect x="101.4" y="664.5" width="351" height="189.6" fill="#fff" stroke="#333" stroke-width="1.2"/>
<rect x="124.7" y="738.57" width="47.97" height="106.83" fill="#0D0887"/>
<rect x="172.67" y="793.71" width="47.97" height="51.69" fill="#CC4778"/>
<rect x="220.64" y="831.62" width="47.97" height="13.78" fill="#F0F921"/>
<rect x="284.7" y="733.4" width="48.07" height="112" fill="#0D0887"/>
<rect x="332.77" y="798.88" width="48.07" height="46.52" fill="#CC4778"/>
<rect x="380.84" y="831.62" width="48.07" height="13.78" fill="#F0F921"/>
<line x1="94.5" y1="845.4" x2="101.4" y2="845.4" stroke="#333" stroke-width="1.2"/>
<text x="88" y="851.6" font-size="17.5" text-anchor="end">0</text>
<line x1="94.5" y1="802.33" x2="101.4" y2="802.33" stroke="#333" stroke-width="1.2"/>
<text x="88" y="808.53" font-size="17.5" text-anchor="end">0.25</text>
<line x1="94.5" y1="759.25" x2="101.4" y2="759.25" stroke="#333" stroke-width="1.2"/>
<text x="88" y="765.45" font-size="17.5" text-anchor="end">0.50</text>
<line x1="94.5" y1="716.17" x2="101.4" y2="716.17" stroke="#333" stroke-width="1.2"/>
<text x="88" y="722.38" font-size="17.5" text-anchor="end">0.75</text>
<line x1="94.5" y1="673.1" x2="101.4" y2="673.1" stroke="#333" stroke-width="1.2"/>
<text x="88" y="679.3" font-size="17.5" text-anchor="end">1.00</text>
<line x1="196.5" y1="854.1" x2="196.5" y2="859.1" stroke="#333" stroke-width="1.1"/>
<line x1="356.5" y1="854.1" x2="356.5" y2="859.1" stroke="#333" stroke-width="1.1"/>
<rect x="453.9" y="663" width="31.7" height="192.6" fill="#fff" stroke="#000" stroke-width="2.4"/>
<text x="462.91" y="759.3" font-size="19" text-anchor="middle" transform="rotate(90 462.91 759.3)">Early</text>
<rect x="101.4" y="855.7" width="351" height="189.6" fill="#fff" stroke="#333" stroke-width="1.2"/>
<rect x="124.7" y="967.54" width="47.97" height="69.16" fill="#0D0887"/>
<rect x="172.67" y="948.52" width="47.97" height="88.18" fill="#CC4778"/>
<rect x="220.64" y="1021.14" width="47.97" height="15.56" fill="#F0F921"/>
<rect x="284.7" y="901.84" width="48.07" height="134.86" fill="#0D0887"/>
<rect x="332.77" y="1024.6" width="48.07" height="12.1" fill="#CC4778"/>
<rect x="380.84" y="1010.76" width="48.07" height="25.94" fill="#F0F921"/>
<line x1="94.5" y1="1036.7" x2="101.4" y2="1036.7" stroke="#333" stroke-width="1.2"/>
<text x="88" y="1042.9" font-size="17.5" text-anchor="end">0</text>
<line x1="94.5" y1="993.48" x2="101.4" y2="993.48" stroke="#333" stroke-width="1.2"/>
<text x="88" y="999.68" font-size="17.5" text-anchor="end">0.25</text>
<line x1="94.5" y1="950.25" x2="101.4" y2="950.25" stroke="#333" stroke-width="1.2"/>
<text x="88" y="956.45" font-size="17.5" text-anchor="end">0.50</text>
<line x1="94.5" y1="907.02" x2="101.4" y2="907.02" stroke="#333" stroke-width="1.2"/>
<text x="88" y="913.23" font-size="17.5" text-anchor="end">0.75</text>
<line x1="94.5" y1="863.8" x2="101.4" y2="863.8" stroke="#333" stroke-width="1.2"/>
<text x="88" y="870" font-size="17.5" text-anchor="end">1.00</text>
<line x1="196.5" y1="1045.3" x2="196.5" y2="1050.3" stroke="#333" stroke-width="1.1"/>
<line x1="356.5" y1="1045.3" x2="356.5" y2="1050.3" stroke="#333" stroke-width="1.1"/>
<rect x="453.9" y="854.2" width="31.7" height="192.6" fill="#fff" stroke="#000" stroke-width="2.4"/>
<text x="462.91" y="950.5" font-size="19" text-anchor="middle" transform="rotate(90 462.91 950.5)">Intermediate</text>
<rect x="101.4" y="1047" width="351" height="189.4" fill="#fff" stroke="#333" stroke-width="1.2"/>
<rect x="124.7" y="1162.3" width="47.97" height="65.7" fill="#0D0887"/>
<rect x="172.67" y="1148.47" width="47.97" height="79.53" fill="#CC4778"/>
<rect x="220.64" y="1202.07" width="47.97" height="25.93" fill="#F0F921"/>
<rect x="284.7" y="1141.55" width="48.07" height="86.45" fill="#0D0887"/>
<rect x="332.77" y="1151.92" width="48.07" height="76.08" fill="#CC4778"/>
<rect x="380.84" y="1217.63" width="48.07" height="10.37" fill="#F0F921"/>
<line x1="94.5" y1="1228" x2="101.4" y2="1228" stroke="#333" stroke-width="1.2"/>
<text x="88" y="1234.2" font-size="17.5" text-anchor="end">0</text>
<line x1="94.5" y1="1184.78" x2="101.4" y2="1184.78" stroke="#333" stroke-width="1.2"/>
<text x="88" y="1190.98" font-size="17.5" text-anchor="end">0.25</text>
<line x1="94.5" y1="1141.55" x2="101.4" y2="1141.55" stroke="#333" stroke-width="1.2"/>
<text x="88" y="1147.75" font-size="17.5" text-anchor="end">0.50</text>
<line x1="94.5" y1="1098.32" x2="101.4" y2="1098.32" stroke="#333" stroke-width="1.2"/>
<text x="88" y="1104.52" font-size="17.5" text-anchor="end">0.75</text>
<line x1="94.5" y1="1055.1" x2="101.4" y2="1055.1" stroke="#333" stroke-width="1.2"/>
<text x="88" y="1061.3" font-size="17.5" text-anchor="end">1.00</text>
<line x1="196.5" y1="1236.4" x2="196.5" y2="1241.4" stroke="#333" stroke-width="1.1"/>
<line x1="356.5" y1="1236.4" x2="356.5" y2="1241.4" stroke="#333" stroke-width="1.1"/>
<rect x="453.9" y="1045.5" width="31.7" height="192.4" fill="#fff" stroke="#000" stroke-width="2.4"/>
<text x="462.91" y="1141.7" font-size="19" text-anchor="middle" transform="rotate(90 462.91 1141.7)">Late</text>
<text x="30" y="951" font-size="22" text-anchor="middle" transform="rotate(-90 30 951)">Proportion of somatic SV breakpoints</text>
<rect x="99.1" y="1242" width="176.9" height="28" fill="#FF0000"/>
<rect x="276" y="1242" width="177.3" height="28" fill="#AB82FF"/>
<rect x="99.1" y="1271.7" width="176.9" height="27" fill="#8FBC8F"/>
<rect x="276" y="1271.7" width="177.3" height="27" fill="#483D8B"/>
<text x="461" y="1263.5" font-size="21.5">Patient</text>
<text x="461" y="1292.5" font-size="21.5">Treatment</text>
<text x="507.7" y="682.3" font-size="16.8">DNA repair</text>
<rect x="508" y="690.3" width="22.2" height="21.6" fill="#0D0887"/>
<text x="539.1" y="706.64" font-size="16.8">NHEJ</text>
<rect x="508" y="714" width="22.2" height="21.6" fill="#CC4778"/>
<text x="539.1" y="730.34" font-size="16.8">Alt-NHEJ</text>
<rect x="508" y="737.7" width="22.2" height="21.6" fill="#F0F921"/>
<text x="539.1" y="754.04" font-size="16.8">HRR</text>
<text x="507.7" y="793.3" font-size="16.8">Patient</text>
<rect x="508" y="800" width="20.4" height="19.8" fill="#FF0000"/>
<text x="539.1" y="815.44" font-size="16.8">RAM12.01</text>
<rect x="508" y="821.6" width="20.4" height="19.8" fill="#AB82FF"/>
<text x="539.1" y="837.04" font-size="16.8">RAM14006</text>
<text x="507.7" y="880.7" font-size="16.8">Treatment</text>
<rect x="508" y="887.4" width="20.4" height="19.5" fill="#8FBC8F"/>
<text x="539.1" y="902.69" font-size="16.8">MAPKi</text>
<rect x="508" y="909.2" width="20.4" height="19.5" fill="#483D8B"/>
<text x="539.1" y="924.49" font-size="16.8">MAPKi + ICB</text>
<text x="1374.4" y="841" font-size="37" font-weight="bold" stroke="#000" stroke-width="1.8" stroke-linejoin="round">f</text>
<rect x="1690.5" y="855.4" width="350.9" height="257.8" fill="#fff" stroke="#333" stroke-width="1.3"/>
<rect x="1706" y="862.8" width="45.79" height="22.6" fill="#FA8072"/>
<line x1="1683.5" y1="874.1" x2="1690.5" y2="874.1" stroke="#333" stroke-width="1.2"/>
<text x="1674" y="880.7" font-size="22.2" text-anchor="end">IL6 JAK-STAT3 signaling</text>
<rect x="1706" y="894.35" width="62.96" height="22.6" fill="#FA8072"/>
<line x1="1683.5" y1="905.65" x2="1690.5" y2="905.65" stroke="#333" stroke-width="1.2"/>
<text x="1674" y="912.25" font-size="22.2" text-anchor="end">Th1 and Th2 differentiation</text>
<rect x="1706" y="925.9" width="78.7" height="22.6" fill="#FA8072"/>
<line x1="1683.5" y1="937.2" x2="1690.5" y2="937.2" stroke="#333" stroke-width="1.2"/>
<text x="1674" y="943.8" font-size="22.2" text-anchor="end">Complement pathway</text>
<rect x="1706" y="957.45" width="151.69" height="22.6" fill="#FA8072"/>
<line x1="1683.5" y1="968.75" x2="1690.5" y2="968.75" stroke="#333" stroke-width="1.2"/>
<text x="1674" y="975.35" font-size="22.2" text-anchor="end">Butyrophilin family interactions</text>
<rect x="1706" y="989" width="186.03" height="22.6" fill="#FA8072"/>
<line x1="1683.5" y1="1000.3" x2="1690.5" y2="1000.3" stroke="#333" stroke-width="1.2"/>
<text x="1674" y="1006.9" font-size="22.2" text-anchor="end">RNA pol II transcription</text>
<rect x="1706" y="1020.55" width="191.75" height="22.6" fill="#FA8072"/>
<line x1="1683.5" y1="1031.85" x2="1690.5" y2="1031.85" stroke="#333" stroke-width="1.2"/>
<text x="1674" y="1038.45" font-size="22.2" text-anchor="end">Cell adhesion molecules</text>
<rect x="1706" y="1052.1" width="251.86" height="22.6" fill="#FA8072"/>
<line x1="1683.5" y1="1063.4" x2="1690.5" y2="1063.4" stroke="#333" stroke-width="1.2"/>
<text x="1674" y="1070" font-size="22.2" text-anchor="end">IFN-γ signaling</text>
<rect x="1706" y="1083.65" width="320.54" height="22.6" fill="#FA8072"/>
<line x1="1683.5" y1="1094.95" x2="1690.5" y2="1094.95" stroke="#333" stroke-width="1.2"/>
<text x="1674" y="1099.7" font-size="22.2" text-anchor="end">Antigen processing</text>
<text x="1674" y="1124.3" font-size="22.2" text-anchor="end">and presentation</text>
<line x1="1706" y1="1113.2" x2="1706" y2="1118.5" stroke="#333" stroke-width="1.2"/>
<text x="1706" y="1140.7" font-size="17.5" text-anchor="middle">0</text>
<line x1="1777.55" y1="1113.2" x2="1777.55" y2="1118.5" stroke="#333" stroke-width="1.2"/>
<text x="1777.55" y="1140.7" font-size="17.5" text-anchor="middle">5</text>
<line x1="1849.1" y1="1113.2" x2="1849.1" y2="1118.5" stroke="#333" stroke-width="1.2"/>
<text x="1849.1" y="1140.7" font-size="17.5" text-anchor="middle">10</text>
<line x1="1920.65" y1="1113.2" x2="1920.65" y2="1118.5" stroke="#333" stroke-width="1.2"/>
<text x="1920.65" y="1140.7" font-size="17.5" text-anchor="middle">15</text>
<line x1="1992.2" y1="1113.2" x2="1992.2" y2="1118.5" stroke="#333" stroke-width="1.2"/>
<text x="1992.2" y="1140.7" font-size="17.5" text-anchor="middle">20</text>
<text x="1866" y="1171.5" font-size="21.5" text-anchor="middle">−log<tspan font-size="14" dy="5">10</tspan><tspan dy="-5">(</tspan><tspan font-style="italic">P</tspan> value)</text>
<text x="5" y="1957.7" font-size="37" font-weight="bold" stroke="#000" stroke-width="1.8" stroke-linejoin="round">h</text>
<text x="338.6" y="1978.8" font-size="20" text-anchor="middle">RAM12.01-Brain10</text>
<rect x="103.79" y="2122.92" width="14.25" height="7.33" fill="#B0B0B0"/>
<rect x="183.15" y="2122.92" width="14.25" height="7.33" fill="#B0B0B0"/>
<rect x="211.64" y="2123.73" width="14.65" height="6.51" fill="#B8B8B8"/>
<path d="M118.03,2130.24 L118.03,2078.07 L119.05,2080.06 L120.07,2078.93 L121.08,2080.45 L122.1,2080.59 L123.12,2076.95 L124.14,2076.61 L125.15,2081.97 L126.17,2078.21 L127.19,2078.05 L128.21,2083 L129.22,2079.58 L130.24,2081.97 L131.26,2079.62 L132.28,2080.68 L133.29,2077.5 L134.31,2080.65 L135.33,2082.17 L136.35,2079.93 L137.36,2081.35 L138.38,2080.89 L139.4,2076.94 L140.42,2081.46 L141.43,2080.37 L142.45,2078.48 L143.47,2076.72 L144.49,2082.16 L145.5,2079.6 L146.52,2081.2 L147.54,2082.24 L148.56,2081.17 L149.57,2082.52 L150.59,2079.09 L151.61,2081.74 L152.63,2079.42 L153.64,2082.61 L154.66,2082.24 L155.68,2077.15 L156.7,2077.41 L157.71,2077.93 L158.73,2082.81 L159.75,2079.36 L160.77,2080.6 L161.78,2078.48 L162.8,2079.82 L163.82,2079.03 L164.84,2078.81 L165.85,2080.33 L166.87,2080.32 L167.89,2082.41 L168.91,2080.96 L169.92,2082.57 L170.94,2082.1 L171.96,2082.97 L172.98,2080.89 L173.99,2077.58 L175.01,2082.12 L176.03,2082.8 L177.05,2082.41 L178.06,2080.23 L179.08,2081.17 L180.1,2077.89 L181.12,2081.94 L182.13,2080.25 L183.15,2130.24 Z" stroke="none" stroke-width="1" fill="#AAAAAA"/>
<path d="M313.39,2130.24 L313.39,2126.17 L314.41,2126.17 L315.43,2126.17 L316.44,2126.17 L317.46,2126.17 L318.48,2126.17 L319.5,2126.17 L320.51,2126.17 L321.53,2126.17 L322.55,2126.17 L323.57,2126.17 L324.58,2126.17 L325.6,2126.17 L326.62,2126.17 L327.64,2126.17 L328.65,2126.17 L329.67,2126.17 L330.69,2126.17 L331.71,2126.17 L332.72,2126.17 L333.74,2117.33 L334.76,2116.61 L335.78,2119.19 L336.79,2119.63 L337.81,2116.69 L338.83,2119.01 L339.85,2117.74 L340.86,2116.9 L341.88,2117.36 L342.9,2118.91 L343.92,2119.25 L344.93,2116.55 L345.95,2118.41 L346.97,2116.55 L347.99,2118.75 L349,2117.48 L350.02,2119.27 L351.04,2119.6 L352.06,2118.05 L353.07,2119.66 L354.09,2117.41 L355.11,2116.66 L356.13,2118.36 L357.14,2116.51 L358.16,2117.05 L359.18,2117.73 L360.2,2118.39 L361.21,2116.91 L362.23,2116.54 L363.25,2119.23 L364.27,2117.43 L365.28,2119.53 L366.3,2119.33 L367.32,2117.64 L368.34,2117.91 L369.35,2118.1 L370.37,2118.5 L371.39,2118.35 L372.41,2118.23 L373.42,2118.43 L374.44,2119.47 L375.46,2118.06 L376.48,2117.81 L377.49,2118.75 L378.51,2117.18 L379.53,2117.39 L380.55,2119.59 L381.56,2118.1 L382.58,2118.19 L383.6,2116.44 L384.62,2117.76 L385.63,2118.29 L386.65,2116.47 L387.67,2118.41 L388.69,2118.46 L389.7,2116.6 L390.72,2118.45 L391.74,2117.92 L392.76,2118.62 L393.77,2117.55 L394.79,2118.71 L395.81,2118.81 L396.83,2116.48 L397.84,2116.6 L398.86,2118.61 L399.88,2119.54 L400.9,2117.22 L401.91,2117.89 L402.93,2118.34 L403.95,2117.45 L404.97,2117.59 L405.98,2117.42 L407,2117.61 L408.02,2118.35 L409.04,2117.38 L410.05,2117.63 L411.07,2118.92 L412.09,2116.49 L413.11,2118.26 L414.12,2118.8 L415.14,2117.42 L416.16,2117.13 L417.18,2119.02 L418.19,2117.18 L419.21,2117.02 L420.23,2117.82 L421.25,2118.68 L422.26,2116.74 L423.28,2117.45 L424.3,2117.49 L425.32,2119.12 L426.33,2117.83 L427.35,2119.19 L428.37,2116.96 L429.39,2117.5 L430.4,2118.52 L431.42,2119.29 L432.44,2117.87 L433.46,2117.14 L434.47,2116.8 L435.49,2118.13 L436.51,2117.03 L437.53,2119.03 L438.54,2119.14 L439.56,2117 L440.58,2117.31 L441.6,2119.03 L442.61,2118.5 L443.63,2119.03 L444.65,2117.53 L445.67,2116.83 L446.68,2117.36 L447.7,2118.99 L448.72,2117.29 L449.74,2117.53 L450.75,2117.76 L451.77,2117.77 L452.79,2117.74 L453.81,2119.4 L454.82,2116.91 L455.84,2116.42 L456.86,2119.48 L457.88,2119.27 L458.89,2119.62 L459.91,2117.82 L460.93,2119.5 L461.95,2119.43 L462.96,2117.13 L463.98,2118.83 L465,2119.13 L466.02,2118.56 L467.03,2118.1 L468.05,2117.35 L469.07,2117.52 L470.09,2117.15 L471.1,2116.63 L472.12,2118.32 L473.14,2117.34 L474.16,2119.04 L475.17,2116.55 L476.19,2119.35 L477.21,2118.66 L478.23,2119.41 L479.24,2119.33 L480.26,2119.34 L481.28,2118.28 L482.3,2116.45 L483.31,2118.83 L484.33,2116.97 L485.35,2117.38 L486.37,2118.56 L487.38,2118.12 L488.4,2117.75 L489.42,2119.46 L490.44,2118.4 L491.45,2117.52 L492.47,2117.23 L493.49,2119.21 L494.51,2117.96 L495.52,2118.95 L496.54,2117.55 L497.56,2117.05 L498.58,2118.15 L499.59,2119.07 L499.8,2130.24 Z" stroke="none" stroke-width="1" fill="#C4C4C4"/>
<line x1="333.74" y1="2118.03" x2="333.74" y2="2130.24" stroke="#fff" stroke-width="0.35"/>
<line x1="334.57" y1="2118.03" x2="334.57" y2="2130.24" stroke="#fff" stroke-width="0.35"/>
<line x1="335.4" y1="2118.03" x2="335.4" y2="2130.24" stroke="#fff" stroke-width="0.35"/>
<line x1="336.23" y1="2118.03" x2="336.23" y2="2130.24" stroke="#fff" stroke-width="0.35"/>
<line x1="337.06" y1="2118.03" x2="337.06" y2="2130.24" stroke="#fff" stroke-width="0.35"/>
<line x1="337.89" y1="2118.03" x2="337.89" y2="2130.24" stroke="#fff" stroke-width="0.35"/>
<line x1="338.72" y1="2118.03" x2="338.72" y2="2130.24" stroke="#fff" stroke-width="0.35"/>
<line x1="339.55" y1="2118.03" x2="339.55" y2="2130.24" stroke="#fff" stroke-width="0.35"/>
<line x1="340.38" y1="2118.03" x2="340.38" y2="2130.24" stroke="#fff" stroke-width="0.35"/>
<line x1="341.21" y1="2118.03" x2="341.21" y2="2130.24" stroke="#fff" stroke-width="0.35"/>
<line x1="342.04" y1="2118.03" x2="342.04" y2="2130.24" stroke="#fff" stroke-width="0.35"/>
<line x1="342.87" y1="2118.03" x2="342.87" y2="2130.24" stroke="#fff" stroke-width="0.35"/>
<line x1="343.7" y1="2118.03" x2="343.7" y2="2130.24" stroke="#fff" stroke-width="0.35"/>
<line x1="344.53" y1="2118.03" x2="344.53" y2="2130.24" stroke="#fff" stroke-width="0.35"/>
<line x1="345.36" y1="2118.03" x2="345.36" y2="2130.24" stroke="#fff" stroke-width="0.35"/>
<line x1="346.19" y1="2118.03" x2="346.19" y2="2130.24" stroke="#fff" stroke-width="0.35"/>
<line x1="347.02" y1="2118.03" x2="347.02" y2="2130.24" stroke="#fff" stroke-width="0.35"/>
<line x1="347.86" y1="2118.03" x2="347.86" y2="2130.24" stroke="#fff" stroke-width="0.35"/>
<line x1="348.69" y1="2118.03" x2="348.69" y2="2130.24" stroke="#fff" stroke-width="0.35"/>
<line x1="349.52" y1="2118.03" x2="349.52" y2="2130.24" stroke="#fff" stroke-width="0.35"/>
<line x1="350.35" y1="2118.03" x2="350.35" y2="2130.24" stroke="#fff" stroke-width="0.35"/>
<line x1="351.18" y1="2118.03" x2="351.18" y2="2130.24" stroke="#fff" stroke-width="0.35"/>
<line x1="352.01" y1="2118.03" x2="352.01" y2="2130.24" stroke="#fff" stroke-width="0.35"/>
<line x1="352.84" y1="2118.03" x2="352.84" y2="2130.24" stroke="#fff" stroke-width="0.35"/>
<line x1="353.67" y1="2118.03" x2="353.67" y2="2130.24" stroke="#fff" stroke-width="0.35"/>
<line x1="354.5" y1="2118.03" x2="354.5" y2="2130.24" stroke="#fff" stroke-width="0.35"/>
<line x1="355.33" y1="2118.03" x2="355.33" y2="2130.24" stroke="#fff" stroke-width="0.35"/>
<line x1="356.16" y1="2118.03" x2="356.16" y2="2130.24" stroke="#fff" stroke-width="0.35"/>
<line x1="356.99" y1="2118.03" x2="356.99" y2="2130.24" stroke="#fff" stroke-width="0.35"/>
<line x1="357.82" y1="2118.03" x2="357.82" y2="2130.24" stroke="#fff" stroke-width="0.35"/>
<line x1="358.65" y1="2118.03" x2="358.65" y2="2130.24" stroke="#fff" stroke-width="0.35"/>
<line x1="359.48" y1="2118.03" x2="359.48" y2="2130.24" stroke="#fff" stroke-width="0.35"/>
<line x1="360.31" y1="2118.03" x2="360.31" y2="2130.24" stroke="#fff" stroke-width="0.35"/>
<line x1="361.14" y1="2118.03" x2="361.14" y2="2130.24" stroke="#fff" stroke-width="0.35"/>
<line x1="361.97" y1="2118.03" x2="361.97" y2="2130.24" stroke="#fff" stroke-width="0.35"/>
<line x1="362.8" y1="2118.03" x2="362.8" y2="2130.24" stroke="#fff" stroke-width="0.35"/>
<line x1="363.63" y1="2118.03" x2="363.63" y2="2130.24" stroke="#fff" stroke-width="0.35"/>
<line x1="364.46" y1="2118.03" x2="364.46" y2="2130.24" stroke="#fff" stroke-width="0.35"/>
<line x1="365.29" y1="2118.03" x2="365.29" y2="2130.24" stroke="#fff" stroke-width="0.35"/>
<line x1="366.12" y1="2118.03" x2="366.12" y2="2130.24" stroke="#fff" stroke-width="0.35"/>
<line x1="366.95" y1="2118.03" x2="366.95" y2="2130.24" stroke="#fff" stroke-width="0.35"/>
<line x1="367.78" y1="2118.03" x2="367.78" y2="2130.24" stroke="#fff" stroke-width="0.35"/>
<line x1="368.61" y1="2118.03" x2="368.61" y2="2130.24" stroke="#fff" stroke-width="0.35"/>
<line x1="369.44" y1="2118.03" x2="369.44" y2="2130.24" stroke="#fff" stroke-width="0.35"/>
<line x1="370.27" y1="2118.03" x2="370.27" y2="2130.24" stroke="#fff" stroke-width="0.35"/>
<line x1="371.1" y1="2118.03" x2="371.1" y2="2130.24" stroke="#fff" stroke-width="0.35"/>
<line x1="371.93" y1="2118.03" x2="371.93" y2="2130.24" stroke="#fff" stroke-width="0.35"/>
<line x1="372.76" y1="2118.03" x2="372.76" y2="2130.24" stroke="#fff" stroke-width="0.35"/>
<line x1="373.59" y1="2118.03" x2="373.59" y2="2130.24" stroke="#fff" stroke-width="0.35"/>
<line x1="374.42" y1="2118.03" x2="374.42" y2="2130.24" stroke="#fff" stroke-width="0.35"/>
<line x1="375.25" y1="2118.03" x2="375.25" y2="2130.24" stroke="#fff" stroke-width="0.35"/>
<line x1="376.08" y1="2118.03" x2="376.08" y2="2130.24" stroke="#fff" stroke-width="0.35"/>
<line x1="376.91" y1="2118.03" x2="376.91" y2="2130.24" stroke="#fff" stroke-width="0.35"/>
<line x1="377.75" y1="2118.03" x2="377.75" y2="2130.24" stroke="#fff" stroke-width="0.35"/>
<line x1="378.58" y1="2118.03" x2="378.58" y2="2130.24" stroke="#fff" stroke-width="0.35"/>
<line x1="379.41" y1="2118.03" x2="379.41" y2="2130.24" stroke="#fff" stroke-width="0.35"/>
<line x1="380.24" y1="2118.03" x2="380.24" y2="2130.24" stroke="#fff" stroke-width="0.35"/>
<line x1="381.07" y1="2118.03" x2="381.07" y2="2130.24" stroke="#fff" stroke-width="0.35"/>
<line x1="381.9" y1="2118.03" x2="381.9" y2="2130.24" stroke="#fff" stroke-width="0.35"/>
<line x1="382.73" y1="2118.03" x2="382.73" y2="2130.24" stroke="#fff" stroke-width="0.35"/>
<line x1="383.56" y1="2118.03" x2="383.56" y2="2130.24" stroke="#fff" stroke-width="0.35"/>
<line x1="384.39" y1="2118.03" x2="384.39" y2="2130.24" stroke="#fff" stroke-width="0.35"/>
<line x1="385.22" y1="2118.03" x2="385.22" y2="2130.24" stroke="#fff" stroke-width="0.35"/>
<line x1="386.05" y1="2118.03" x2="386.05" y2="2130.24" stroke="#fff" stroke-width="0.35"/>
<line x1="386.88" y1="2118.03" x2="386.88" y2="2130.24" stroke="#fff" stroke-width="0.35"/>
<line x1="387.71" y1="2118.03" x2="387.71" y2="2130.24" stroke="#fff" stroke-width="0.35"/>
<line x1="388.54" y1="2118.03" x2="388.54" y2="2130.24" stroke="#fff" stroke-width="0.35"/>
<line x1="389.37" y1="2118.03" x2="389.37" y2="2130.24" stroke="#fff" stroke-width="0.35"/>
<line x1="390.2" y1="2118.03" x2="390.2" y2="2130.24" stroke="#fff" stroke-width="0.35"/>
<line x1="391.03" y1="2118.03" x2="391.03" y2="2130.24" stroke="#fff" stroke-width="0.35"/>
<line x1="391.86" y1="2118.03" x2="391.86" y2="2130.24" stroke="#fff" stroke-width="0.35"/>
<line x1="392.69" y1="2118.03" x2="392.69" y2="2130.24" stroke="#fff" stroke-width="0.35"/>
<line x1="393.52" y1="2118.03" x2="393.52" y2="2130.24" stroke="#fff" stroke-width="0.35"/>
<line x1="394.35" y1="2118.03" x2="394.35" y2="2130.24" stroke="#fff" stroke-width="0.35"/>
<line x1="395.18" y1="2118.03" x2="395.18" y2="2130.24" stroke="#fff" stroke-width="0.35"/>
<line x1="396.01" y1="2118.03" x2="396.01" y2="2130.24" stroke="#fff" stroke-width="0.35"/>
<line x1="396.84" y1="2118.03" x2="396.84" y2="2130.24" stroke="#fff" stroke-width="0.35"/>
<line x1="397.67" y1="2118.03" x2="397.67" y2="2130.24" stroke="#fff" stroke-width="0.35"/>
<line x1="398.5" y1="2118.03" x2="398.5" y2="2130.24" stroke="#fff" stroke-width="0.35"/>
<line x1="399.33" y1="2118.03" x2="399.33" y2="2130.24" stroke="#fff" stroke-width="0.35"/>
<line x1="400.16" y1="2118.03" x2="400.16" y2="2130.24" stroke="#fff" stroke-width="0.35"/>
<line x1="400.99" y1="2118.03" x2="400.99" y2="2130.24" stroke="#fff" stroke-width="0.35"/>
<line x1="401.82" y1="2118.03" x2="401.82" y2="2130.24" stroke="#fff" stroke-width="0.35"/>
<line x1="402.65" y1="2118.03" x2="402.65" y2="2130.24" stroke="#fff" stroke-width="0.35"/>
<line x1="403.48" y1="2118.03" x2="403.48" y2="2130.24" stroke="#fff" stroke-width="0.35"/>
<line x1="404.31" y1="2118.03" x2="404.31" y2="2130.24" stroke="#fff" stroke-width="0.35"/>
<line x1="405.14" y1="2118.03" x2="405.14" y2="2130.24" stroke="#fff" stroke-width="0.35"/>
<line x1="405.97" y1="2118.03" x2="405.97" y2="2130.24" stroke="#fff" stroke-width="0.35"/>
<line x1="406.81" y1="2118.03" x2="406.81" y2="2130.24" stroke="#fff" stroke-width="0.35"/>
<line x1="407.64" y1="2118.03" x2="407.64" y2="2130.24" stroke="#fff" stroke-width="0.35"/>
<line x1="408.47" y1="2118.03" x2="408.47" y2="2130.24" stroke="#fff" stroke-width="0.35"/>
<line x1="409.3" y1="2118.03" x2="409.3" y2="2130.24" stroke="#fff" stroke-width="0.35"/>
<line x1="410.13" y1="2118.03" x2="410.13" y2="2130.24" stroke="#fff" stroke-width="0.35"/>
<line x1="410.96" y1="2118.03" x2="410.96" y2="2130.24" stroke="#fff" stroke-width="0.35"/>
<line x1="411.79" y1="2118.03" x2="411.79" y2="2130.24" stroke="#fff" stroke-width="0.35"/>
<line x1="412.62" y1="2118.03" x2="412.62" y2="2130.24" stroke="#fff" stroke-width="0.35"/>
<line x1="413.45" y1="2118.03" x2="413.45" y2="2130.24" stroke="#fff" stroke-width="0.35"/>
<line x1="414.28" y1="2118.03" x2="414.28" y2="2130.24" stroke="#fff" stroke-width="0.35"/>
<line x1="415.11" y1="2118.03" x2="415.11" y2="2130.24" stroke="#fff" stroke-width="0.35"/>
<line x1="415.94" y1="2118.03" x2="415.94" y2="2130.24" stroke="#fff" stroke-width="0.35"/>
<line x1="416.77" y1="2118.03" x2="416.77" y2="2130.24" stroke="#fff" stroke-width="0.35"/>
<line x1="417.6" y1="2118.03" x2="417.6" y2="2130.24" stroke="#fff" stroke-width="0.35"/>
<line x1="418.43" y1="2118.03" x2="418.43" y2="2130.24" stroke="#fff" stroke-width="0.35"/>
<line x1="419.26" y1="2118.03" x2="419.26" y2="2130.24" stroke="#fff" stroke-width="0.35"/>
<line x1="420.09" y1="2118.03" x2="420.09" y2="2130.24" stroke="#fff" stroke-width="0.35"/>
<line x1="420.92" y1="2118.03" x2="420.92" y2="2130.24" stroke="#fff" stroke-width="0.35"/>
<line x1="421.75" y1="2118.03" x2="421.75" y2="2130.24" stroke="#fff" stroke-width="0.35"/>
<line x1="422.58" y1="2118.03" x2="422.58" y2="2130.24" stroke="#fff" stroke-width="0.35"/>
<line x1="423.41" y1="2118.03" x2="423.41" y2="2130.24" stroke="#fff" stroke-width="0.35"/>
<line x1="424.24" y1="2118.03" x2="424.24" y2="2130.24" stroke="#fff" stroke-width="0.35"/>
<line x1="425.07" y1="2118.03" x2="425.07" y2="2130.24" stroke="#fff" stroke-width="0.35"/>
<line x1="425.9" y1="2118.03" x2="425.9" y2="2130.24" stroke="#fff" stroke-width="0.35"/>
<line x1="426.73" y1="2118.03" x2="426.73" y2="2130.24" stroke="#fff" stroke-width="0.35"/>
<line x1="427.56" y1="2118.03" x2="427.56" y2="2130.24" stroke="#fff" stroke-width="0.35"/>
<line x1="428.39" y1="2118.03" x2="428.39" y2="2130.24" stroke="#fff" stroke-width="0.35"/>
<line x1="429.22" y1="2118.03" x2="429.22" y2="2130.24" stroke="#fff" stroke-width="0.35"/>
<line x1="430.05" y1="2118.03" x2="430.05" y2="2130.24" stroke="#fff" stroke-width="0.35"/>
<line x1="430.88" y1="2118.03" x2="430.88" y2="2130.24" stroke="#fff" stroke-width="0.35"/>
<line x1="431.71" y1="2118.03" x2="431.71" y2="2130.24" stroke="#fff" stroke-width="0.35"/>
<line x1="432.54" y1="2118.03" x2="432.54" y2="2130.24" stroke="#fff" stroke-width="0.35"/>
<line x1="433.37" y1="2118.03" x2="433.37" y2="2130.24" stroke="#fff" stroke-width="0.35"/>
<line x1="434.2" y1="2118.03" x2="434.2" y2="2130.24" stroke="#fff" stroke-width="0.35"/>
<line x1="435.03" y1="2118.03" x2="435.03" y2="2130.24" stroke="#fff" stroke-width="0.35"/>
<line x1="435.86" y1="2118.03" x2="435.86" y2="2130.24" stroke="#fff" stroke-width="0.35"/>
<line x1="436.7" y1="2118.03" x2="436.7" y2="2130.24" stroke="#fff" stroke-width="0.35"/>
<line x1="437.53" y1="2118.03" x2="437.53" y2="2130.24" stroke="#fff" stroke-width="0.35"/>
<line x1="438.36" y1="2118.03" x2="438.36" y2="2130.24" stroke="#fff" stroke-width="0.35"/>
<line x1="439.19" y1="2118.03" x2="439.19" y2="2130.24" stroke="#fff" stroke-width="0.35"/>
<line x1="440.02" y1="2118.03" x2="440.02" y2="2130.24" stroke="#fff" stroke-width="0.35"/>
<line x1="440.85" y1="2118.03" x2="440.85" y2="2130.24" stroke="#fff" stroke-width="0.35"/>
<line x1="441.68" y1="2118.03" x2="441.68" y2="2130.24" stroke="#fff" stroke-width="0.35"/>
<line x1="442.51" y1="2118.03" x2="442.51" y2="2130.24" stroke="#fff" stroke-width="0.35"/>
<line x1="443.34" y1="2118.03" x2="443.34" y2="2130.24" stroke="#fff" stroke-width="0.35"/>
<line x1="444.17" y1="2118.03" x2="444.17" y2="2130.24" stroke="#fff" stroke-width="0.35"/>
<line x1="445" y1="2118.03" x2="445" y2="2130.24" stroke="#fff" stroke-width="0.35"/>
<line x1="445.83" y1="2118.03" x2="445.83" y2="2130.24" stroke="#fff" stroke-width="0.35"/>
<line x1="446.66" y1="2118.03" x2="446.66" y2="2130.24" stroke="#fff" stroke-width="0.35"/>
<line x1="447.49" y1="2118.03" x2="447.49" y2="2130.24" stroke="#fff" stroke-width="0.35"/>
<line x1="448.32" y1="2118.03" x2="448.32" y2="2130.24" stroke="#fff" stroke-width="0.35"/>
<line x1="449.15" y1="2118.03" x2="449.15" y2="2130.24" stroke="#fff" stroke-width="0.35"/>
<line x1="449.98" y1="2118.03" x2="449.98" y2="2130.24" stroke="#fff" stroke-width="0.35"/>
<line x1="450.81" y1="2118.03" x2="450.81" y2="2130.24" stroke="#fff" stroke-width="0.35"/>
<line x1="451.64" y1="2118.03" x2="451.64" y2="2130.24" stroke="#fff" stroke-width="0.35"/>
<line x1="452.47" y1="2118.03" x2="452.47" y2="2130.24" stroke="#fff" stroke-width="0.35"/>
<line x1="453.3" y1="2118.03" x2="453.3" y2="2130.24" stroke="#fff" stroke-width="0.35"/>
<line x1="454.13" y1="2118.03" x2="454.13" y2="2130.24" stroke="#fff" stroke-width="0.35"/>
<line x1="454.96" y1="2118.03" x2="454.96" y2="2130.24" stroke="#fff" stroke-width="0.35"/>
<line x1="455.79" y1="2118.03" x2="455.79" y2="2130.24" stroke="#fff" stroke-width="0.35"/>
<line x1="456.62" y1="2118.03" x2="456.62" y2="2130.24" stroke="#fff" stroke-width="0.35"/>
<line x1="457.45" y1="2118.03" x2="457.45" y2="2130.24" stroke="#fff" stroke-width="0.35"/>
<line x1="458.28" y1="2118.03" x2="458.28" y2="2130.24" stroke="#fff" stroke-width="0.35"/>
<line x1="459.11" y1="2118.03" x2="459.11" y2="2130.24" stroke="#fff" stroke-width="0.35"/>
<line x1="459.94" y1="2118.03" x2="459.94" y2="2130.24" stroke="#fff" stroke-width="0.35"/>
<line x1="460.77" y1="2118.03" x2="460.77" y2="2130.24" stroke="#fff" stroke-width="0.35"/>
<line x1="461.6" y1="2118.03" x2="461.6" y2="2130.24" stroke="#fff" stroke-width="0.35"/>
<line x1="462.43" y1="2118.03" x2="462.43" y2="2130.24" stroke="#fff" stroke-width="0.35"/>
<line x1="463.26" y1="2118.03" x2="463.26" y2="2130.24" stroke="#fff" stroke-width="0.35"/>
<line x1="464.09" y1="2118.03" x2="464.09" y2="2130.24" stroke="#fff" stroke-width="0.35"/>
<line x1="464.92" y1="2118.03" x2="464.92" y2="2130.24" stroke="#fff" stroke-width="0.35"/>
<line x1="465.75" y1="2118.03" x2="465.75" y2="2130.24" stroke="#fff" stroke-width="0.35"/>
<line x1="466.59" y1="2118.03" x2="466.59" y2="2130.24" stroke="#fff" stroke-width="0.35"/>
<line x1="467.42" y1="2118.03" x2="467.42" y2="2130.24" stroke="#fff" stroke-width="0.35"/>
<line x1="468.25" y1="2118.03" x2="468.25" y2="2130.24" stroke="#fff" stroke-width="0.35"/>
<line x1="469.08" y1="2118.03" x2="469.08" y2="2130.24" stroke="#fff" stroke-width="0.35"/>
<line x1="469.91" y1="2118.03" x2="469.91" y2="2130.24" stroke="#fff" stroke-width="0.35"/>
<line x1="470.74" y1="2118.03" x2="470.74" y2="2130.24" stroke="#fff" stroke-width="0.35"/>
<line x1="471.57" y1="2118.03" x2="471.57" y2="2130.24" stroke="#fff" stroke-width="0.35"/>
<line x1="472.4" y1="2118.03" x2="472.4" y2="2130.24" stroke="#fff" stroke-width="0.35"/>
<line x1="473.23" y1="2118.03" x2="473.23" y2="2130.24" stroke="#fff" stroke-width="0.35"/>
<line x1="474.06" y1="2118.03" x2="474.06" y2="2130.24" stroke="#fff" stroke-width="0.35"/>
<line x1="474.89" y1="2118.03" x2="474.89" y2="2130.24" stroke="#fff" stroke-width="0.35"/>
<line x1="475.72" y1="2118.03" x2="475.72" y2="2130.24" stroke="#fff" stroke-width="0.35"/>
<line x1="476.55" y1="2118.03" x2="476.55" y2="2130.24" stroke="#fff" stroke-width="0.35"/>
<line x1="477.38" y1="2118.03" x2="477.38" y2="2130.24" stroke="#fff" stroke-width="0.35"/>
<line x1="478.21" y1="2118.03" x2="478.21" y2="2130.24" stroke="#fff" stroke-width="0.35"/>
<line x1="479.04" y1="2118.03" x2="479.04" y2="2130.24" stroke="#fff" stroke-width="0.35"/>
<line x1="479.87" y1="2118.03" x2="479.87" y2="2130.24" stroke="#fff" stroke-width="0.35"/>
<line x1="480.7" y1="2118.03" x2="480.7" y2="2130.24" stroke="#fff" stroke-width="0.35"/>
<line x1="481.53" y1="2118.03" x2="481.53" y2="2130.24" stroke="#fff" stroke-width="0.35"/>
<line x1="482.36" y1="2118.03" x2="482.36" y2="2130.24" stroke="#fff" stroke-width="0.35"/>
<line x1="483.19" y1="2118.03" x2="483.19" y2="2130.24" stroke="#fff" stroke-width="0.35"/>
<line x1="484.02" y1="2118.03" x2="484.02" y2="2130.24" stroke="#fff" stroke-width="0.35"/>
<line x1="484.85" y1="2118.03" x2="484.85" y2="2130.24" stroke="#fff" stroke-width="0.35"/>
<line x1="485.68" y1="2118.03" x2="485.68" y2="2130.24" stroke="#fff" stroke-width="0.35"/>
<line x1="486.51" y1="2118.03" x2="486.51" y2="2130.24" stroke="#fff" stroke-width="0.35"/>
<line x1="487.34" y1="2118.03" x2="487.34" y2="2130.24" stroke="#fff" stroke-width="0.35"/>
<line x1="488.17" y1="2118.03" x2="488.17" y2="2130.24" stroke="#fff" stroke-width="0.35"/>
<line x1="489" y1="2118.03" x2="489" y2="2130.24" stroke="#fff" stroke-width="0.35"/>
<line x1="489.83" y1="2118.03" x2="489.83" y2="2130.24" stroke="#fff" stroke-width="0.35"/>
<line x1="490.66" y1="2118.03" x2="490.66" y2="2130.24" stroke="#fff" stroke-width="0.35"/>
<line x1="491.49" y1="2118.03" x2="491.49" y2="2130.24" stroke="#fff" stroke-width="0.35"/>
<line x1="492.32" y1="2118.03" x2="492.32" y2="2130.24" stroke="#fff" stroke-width="0.35"/>
<line x1="493.15" y1="2118.03" x2="493.15" y2="2130.24" stroke="#fff" stroke-width="0.35"/>
<line x1="493.98" y1="2118.03" x2="493.98" y2="2130.24" stroke="#fff" stroke-width="0.35"/>
<line x1="494.81" y1="2118.03" x2="494.81" y2="2130.24" stroke="#fff" stroke-width="0.35"/>
<line x1="495.65" y1="2118.03" x2="495.65" y2="2130.24" stroke="#fff" stroke-width="0.35"/>
<line x1="496.48" y1="2118.03" x2="496.48" y2="2130.24" stroke="#fff" stroke-width="0.35"/>
<line x1="497.31" y1="2118.03" x2="497.31" y2="2130.24" stroke="#fff" stroke-width="0.35"/>
<line x1="498.14" y1="2118.03" x2="498.14" y2="2130.24" stroke="#fff" stroke-width="0.35"/>
<line x1="498.97" y1="2118.03" x2="498.97" y2="2130.24" stroke="#fff" stroke-width="0.35"/>
<line x1="97.68" y1="2129.43" x2="581.2" y2="2129.43" stroke="#F4A0A0" stroke-width="1"/>
<rect x="224.26" y="2061.05" width="2.04" height="69.19" fill="#F08080"/>
<rect x="356.53" y="2060.24" width="3.26" height="70" fill="#B22A10"/>
<path d="M118.84,2130.24 A47.42,83.03 0 0 1 213.68,2130.24" stroke="#E38BD8" stroke-width="0.8" fill="none"/>
<path d="M311.36,2130.24 A84.45,93.61 0 0 1 480.26,2130.24" stroke="#A0522D" stroke-width="1.1" fill="none"/>
<path d="M118.84,2130.24 A107.04,100.12 0 0 1 332.93,2130.24" stroke="#108B8B" stroke-width="2.2" fill="none"/>
<path d="M181.93,2130.24 A159.34,115.59 0 0 1 500.61,2130.24" stroke="#BA55C0" stroke-width="2.8" fill="none"/>
<line x1="104.6" y1="2126.58" x2="118.03" y2="2126.58" stroke="#000" stroke-width="2.8"/>
<line x1="118.03" y1="2100.94" x2="183.15" y2="2100.94" stroke="#000" stroke-width="2.8"/>
<line x1="183.15" y1="2126.58" x2="197.4" y2="2126.58" stroke="#000" stroke-width="2.8"/>
<line x1="211.64" y1="2115.19" x2="227.11" y2="2115.19" stroke="#000" stroke-width="2.8"/>
<line x1="242.98" y1="2127.4" x2="313.39" y2="2127.4" stroke="#000" stroke-width="2.8"/>
<line x1="310.54" y1="2116.81" x2="333.74" y2="2116.81" stroke="#000" stroke-width="2.8"/>
<line x1="331.71" y1="2089.95" x2="481.07" y2="2089.95" stroke="#000" stroke-width="2.8"/>
<line x1="479.45" y1="2101.35" x2="501.42" y2="2101.35" stroke="#000" stroke-width="2.8"/>
<line x1="501.42" y1="2126.99" x2="573.87" y2="2126.99" stroke="#000" stroke-width="2.8"/>
<line x1="97.68" y1="2130.24" x2="581.2" y2="2130.24" stroke="#000" stroke-width="1.2"/>
<line x1="90.35" y1="2009.37" x2="97.68" y2="2009.37" stroke="#333" stroke-width="1.2"/>
<text x="84.66" y="2015.57" font-size="17.6" text-anchor="end">1,200</text>
<line x1="90.35" y1="2050.07" x2="97.68" y2="2050.07" stroke="#333" stroke-width="1.2"/>
<text x="84.66" y="2056.27" font-size="17.6" text-anchor="end">800</text>
<line x1="90.35" y1="2089.95" x2="97.68" y2="2089.95" stroke="#333" stroke-width="1.2"/>
<text x="84.66" y="2096.15" font-size="17.6" text-anchor="end">400</text>
<line x1="90.35" y1="2130.24" x2="97.68" y2="2130.24" stroke="#333" stroke-width="1.2"/>
<text x="84.66" y="2136.44" font-size="17.6" text-anchor="end">0</text>
<line x1="581.2" y1="2007.33" x2="588.12" y2="2007.33" stroke="#333" stroke-width="1.2"/>
<text x="594.22" y="2013.53" font-size="17.6">80</text>
<line x1="581.2" y1="2038.26" x2="588.12" y2="2038.26" stroke="#333" stroke-width="1.2"/>
<text x="594.22" y="2044.46" font-size="17.6">60</text>
<line x1="581.2" y1="2068.79" x2="588.12" y2="2068.79" stroke="#333" stroke-width="1.2"/>
<text x="594.22" y="2074.99" font-size="17.6">40</text>
<line x1="581.2" y1="2100.13" x2="588.12" y2="2100.13" stroke="#333" stroke-width="1.2"/>
<text x="594.22" y="2106.33" font-size="17.6">20</text>
<line x1="581.2" y1="2130.24" x2="588.12" y2="2130.24" stroke="#333" stroke-width="1.2"/>
<text x="594.22" y="2136.44" font-size="17.6">0</text>
<text x="23" y="2060.2" font-size="22" text-anchor="middle" transform="rotate(-90 23 2060.2)">Coverage</text>
<text x="630" y="2060.2" font-size="22" text-anchor="middle" transform="rotate(90 630 2060.2)">CN</text>
<line x1="204.3" y1="1991" x2="204.3" y2="2166" stroke="#000" stroke-width="1" stroke-dasharray="1.5,1.5"/>
<line x1="234.8" y1="1991" x2="234.8" y2="2166" stroke="#000" stroke-width="1" stroke-dasharray="1.5,1.5"/>
<line x1="103.8" y1="2144.9" x2="117.2" y2="2144.9" stroke="#FF0000" stroke-width="2.5"/>
<line x1="388.7" y1="2144.9" x2="418.4" y2="2144.9" stroke="#FF0000" stroke-width="2.5"/>
<text x="94.4" y="2162" font-size="17.5" font-style="italic">CDK6</text>
<text x="386.6" y="2162" font-size="17.5" font-style="italic">BRAF</text>
<line x1="95.2" y1="2165.8" x2="581.1" y2="2165.8" stroke="#333" stroke-width="1.2"/>
<line x1="105.2" y1="2165.8" x2="105.2" y2="2170" stroke="#333" stroke-width="1.1"/>
<text x="111.2" y="2178.5" font-size="16.5" text-anchor="end" transform="rotate(-90 111.2 2178.5)">92,756,414</text>
<line x1="196.4" y1="2165.8" x2="196.4" y2="2170" stroke="#333" stroke-width="1.1"/>
<text x="202.4" y="2178.5" font-size="16.5" text-anchor="end" transform="rotate(-90 202.4 2178.5)">93,431,408</text>
<line x1="212.5" y1="2165.8" x2="212.5" y2="2170" stroke="#333" stroke-width="1.1"/>
<text x="218.5" y="2178.5" font-size="16.5" text-anchor="end" transform="rotate(-90 218.5 2178.5)">93,902,479</text>
<line x1="226.6" y1="2165.8" x2="226.6" y2="2170" stroke="#333" stroke-width="1.1"/>
<text x="232.6" y="2178.5" font-size="16.5" text-anchor="end" transform="rotate(-90 232.6 2178.5)">93,914,143</text>
<line x1="242.6" y1="2165.8" x2="242.6" y2="2170" stroke="#333" stroke-width="1.1"/>
<text x="248.6" y="2178.5" font-size="16.5" text-anchor="end" transform="rotate(-90 248.6 2178.5)">139,625,839</text>
<line x1="572.1" y1="2165.8" x2="572.1" y2="2170" stroke="#333" stroke-width="1.1"/>
<text x="578.1" y="2178.5" font-size="16.5" text-anchor="end" transform="rotate(-90 578.1 2178.5)">142,075,844</text>
<text x="397.5" y="2186.2" font-size="17.6" text-anchor="middle">chr7</text>
<text x="685" y="1957.3" font-size="37" font-weight="bold" stroke="#000" stroke-width="1.8" stroke-linejoin="round">i</text>
<rect x="770.8" y="1957.9" width="378.9" height="332.3" fill="#fff" stroke="#444" stroke-width="1.3"/>
<rect x="771.9" y="1971.9" width="16.22" height="45.51" fill="#FFFFB3"/>
<rect x="771.9" y="2017.41" width="16.22" height="127.43" fill="#FFFF33"/>
<rect x="771.9" y="2144.84" width="16.22" height="87.68" fill="#E7298A"/>
<rect x="771.9" y="2232.52" width="16.22" height="42.78" fill="#666666"/>
<rect x="789.02" y="1971.9" width="16.22" height="152" fill="#FFFF33"/>
<rect x="789.02" y="2123.9" width="16.22" height="151.4" fill="#E7298A"/>
<rect x="806.14" y="1971.9" width="16.22" height="24.88" fill="#FFFFB3"/>
<rect x="806.14" y="1996.78" width="16.22" height="73.12" fill="#D95F02"/>
<rect x="806.14" y="2069.9" width="16.22" height="34.28" fill="#E6AB02"/>
<rect x="806.14" y="2104.18" width="16.22" height="37.62" fill="#E31A1C"/>
<rect x="806.14" y="2141.8" width="16.22" height="104.67" fill="#A6D854"/>
<rect x="806.14" y="2246.48" width="16.22" height="28.82" fill="#666666"/>
<rect x="823.26" y="1971.9" width="16.22" height="26.4" fill="#FFFFB3"/>
<rect x="823.26" y="1998.3" width="16.22" height="76.76" fill="#D95F02"/>
<rect x="823.26" y="2075.06" width="16.22" height="33.68" fill="#E6AB02"/>
<rect x="823.26" y="2108.73" width="16.22" height="33.07" fill="#E31A1C"/>
<rect x="823.26" y="2141.8" width="16.22" height="105.58" fill="#A6D854"/>
<rect x="823.26" y="2247.39" width="16.22" height="27.91" fill="#666666"/>
<rect x="840.38" y="1971.9" width="16.22" height="83.13" fill="#D95F02"/>
<rect x="840.38" y="2055.03" width="16.22" height="49.15" fill="#E6AB02"/>
<rect x="840.38" y="2104.18" width="16.22" height="34.59" fill="#E31A1C"/>
<rect x="840.38" y="2138.77" width="16.22" height="104.07" fill="#A6D854"/>
<rect x="840.38" y="2242.84" width="16.22" height="32.46" fill="#666666"/>
<rect x="857.5" y="1971.9" width="16.22" height="81.01" fill="#D95F02"/>
<rect x="857.5" y="2052.91" width="16.22" height="48.85" fill="#BEBADA"/>
<rect x="857.5" y="2101.76" width="16.22" height="77.06" fill="#E6AB02"/>
<rect x="857.5" y="2178.82" width="16.22" height="96.48" fill="#A6D854"/>
<rect x="874.62" y="1971.9" width="16.22" height="49.45" fill="#D95F02"/>
<rect x="874.62" y="2021.35" width="16.22" height="61.29" fill="#E6AB02"/>
<rect x="874.62" y="2082.64" width="16.22" height="51.88" fill="#E31A1C"/>
<rect x="874.62" y="2134.52" width="16.22" height="92.84" fill="#A6D854"/>
<rect x="874.62" y="2227.36" width="16.22" height="47.94" fill="#666666"/>
<rect x="891.74" y="1971.9" width="16.22" height="49.45" fill="#D95F02"/>
<rect x="891.74" y="2021.35" width="16.22" height="22.75" fill="#BEBADA"/>
<rect x="891.74" y="2044.11" width="16.22" height="59.16" fill="#E6AB02"/>
<rect x="891.74" y="2103.27" width="16.22" height="46.72" fill="#E31A1C"/>
<rect x="891.74" y="2150" width="16.22" height="84.04" fill="#A6D854"/>
<rect x="891.74" y="2234.04" width="16.22" height="41.26" fill="#666666"/>
<rect x="908.86" y="1971.9" width="16.22" height="23.67" fill="#8DD3C7"/>
<rect x="908.86" y="1995.57" width="16.22" height="39.44" fill="#D95F02"/>
<rect x="908.86" y="2035.01" width="16.22" height="85.86" fill="#BEBADA"/>
<rect x="908.86" y="2120.87" width="16.22" height="94.05" fill="#E6AB02"/>
<rect x="908.86" y="2214.92" width="16.22" height="60.38" fill="#A6D854"/>
<rect x="925.98" y="1971.9" width="16.22" height="24.88" fill="#8DD3C7"/>
<rect x="925.98" y="1996.78" width="16.22" height="30.95" fill="#D95F02"/>
<rect x="925.98" y="2027.73" width="16.22" height="89.5" fill="#BEBADA"/>
<rect x="925.98" y="2117.23" width="16.22" height="100.12" fill="#E6AB02"/>
<rect x="925.98" y="2217.35" width="16.22" height="57.95" fill="#A6D854"/>
<rect x="943.1" y="1971.9" width="16.22" height="23.67" fill="#D95F02"/>
<rect x="943.1" y="1995.57" width="16.22" height="124.09" fill="#BEBADA"/>
<rect x="943.1" y="2119.66" width="16.22" height="128.95" fill="#E6AB02"/>
<rect x="943.1" y="2248.6" width="16.22" height="26.7" fill="#A6D854"/>
<rect x="960.22" y="1971.9" width="16.22" height="53.1" fill="#D95F02"/>
<rect x="960.22" y="2025" width="16.22" height="63.41" fill="#BEBADA"/>
<rect x="960.22" y="2088.41" width="16.22" height="113.78" fill="#E6AB02"/>
<rect x="960.22" y="2202.18" width="16.22" height="48.54" fill="#A6D854"/>
<rect x="960.22" y="2250.72" width="16.22" height="24.58" fill="#666666"/>
<rect x="977.34" y="1971.9" width="16.22" height="23.06" fill="#8DD3C7"/>
<rect x="977.34" y="1994.96" width="16.22" height="39.14" fill="#D95F02"/>
<rect x="977.34" y="2034.1" width="16.22" height="58.25" fill="#BEBADA"/>
<rect x="977.34" y="2092.35" width="16.22" height="111.04" fill="#E6AB02"/>
<rect x="977.34" y="2203.39" width="16.22" height="43.08" fill="#A6D854"/>
<rect x="977.34" y="2246.48" width="16.22" height="28.82" fill="#666666"/>
<rect x="994.46" y="1971.9" width="16.22" height="74.33" fill="#D95F02"/>
<rect x="994.46" y="2046.23" width="16.22" height="40.66" fill="#E6AB02"/>
<rect x="994.46" y="2086.89" width="16.22" height="44.9" fill="#E31A1C"/>
<rect x="994.46" y="2131.79" width="16.22" height="111.65" fill="#A6D854"/>
<rect x="994.46" y="2243.44" width="16.22" height="31.86" fill="#666666"/>
<rect x="1011.58" y="1971.9" width="16.22" height="80.1" fill="#D95F02"/>
<rect x="1011.58" y="2052" width="16.22" height="45.51" fill="#E6AB02"/>
<rect x="1011.58" y="2097.51" width="16.22" height="37.32" fill="#E31A1C"/>
<rect x="1011.58" y="2134.83" width="16.22" height="108.62" fill="#A6D854"/>
<rect x="1011.58" y="2243.44" width="16.22" height="31.86" fill="#666666"/>
<rect x="1028.7" y="1971.9" width="16.22" height="37.01" fill="#D95F02"/>
<rect x="1028.7" y="2008.91" width="16.22" height="47.63" fill="#E6AB02"/>
<rect x="1028.7" y="2056.55" width="16.22" height="65.23" fill="#E31A1C"/>
<rect x="1028.7" y="2121.78" width="16.22" height="101.34" fill="#A6D854"/>
<rect x="1028.7" y="2223.12" width="16.22" height="52.18" fill="#666666"/>
<rect x="1045.82" y="1971.9" width="16.22" height="23.67" fill="#8DD3C7"/>
<rect x="1045.82" y="1995.57" width="16.22" height="24.88" fill="#D95F02"/>
<rect x="1045.82" y="2020.44" width="16.22" height="42.48" fill="#E6AB02"/>
<rect x="1045.82" y="2062.92" width="16.22" height="62.2" fill="#E31A1C"/>
<rect x="1045.82" y="2125.12" width="16.22" height="91.02" fill="#A6D854"/>
<rect x="1045.82" y="2216.14" width="16.22" height="59.16" fill="#666666"/>
<rect x="1062.94" y="1971.9" width="16.22" height="44.9" fill="#D95F02"/>
<rect x="1062.94" y="2016.8" width="16.22" height="46.12" fill="#E6AB02"/>
<rect x="1062.94" y="2062.92" width="16.22" height="60.38" fill="#E31A1C"/>
<rect x="1062.94" y="2123.3" width="16.22" height="105.58" fill="#A6D854"/>
<rect x="1062.94" y="2228.88" width="16.22" height="46.42" fill="#666666"/>
<rect x="1080.06" y="1971.9" width="16.22" height="26.09" fill="#FFFFB3"/>
<rect x="1080.06" y="1997.99" width="16.22" height="82.22" fill="#D95F02"/>
<rect x="1080.06" y="2080.21" width="16.22" height="27.91" fill="#E6AB02"/>
<rect x="1080.06" y="2108.13" width="16.22" height="42.78" fill="#E31A1C"/>
<rect x="1080.06" y="2150.91" width="16.22" height="99.52" fill="#A6D854"/>
<rect x="1080.06" y="2250.42" width="16.22" height="24.88" fill="#666666"/>
<rect x="1097.18" y="1971.9" width="16.22" height="70.09" fill="#D95F02"/>
<rect x="1097.18" y="2041.99" width="16.22" height="24.58" fill="#BEBADA"/>
<rect x="1097.18" y="2066.56" width="16.22" height="47.33" fill="#E6AB02"/>
<rect x="1097.18" y="2113.89" width="16.22" height="36.1" fill="#E31A1C"/>
<rect x="1097.18" y="2150" width="16.22" height="98.3" fill="#A6D854"/>
<rect x="1097.18" y="2248.3" width="16.22" height="27" fill="#666666"/>
<rect x="1114.3" y="1971.9" width="16.22" height="75.85" fill="#D95F02"/>
<rect x="1114.3" y="2047.75" width="16.22" height="46.42" fill="#E6AB02"/>
<rect x="1114.3" y="2094.17" width="16.22" height="40.66" fill="#E31A1C"/>
<rect x="1114.3" y="2134.83" width="16.22" height="105.89" fill="#A6D854"/>
<rect x="1114.3" y="2240.71" width="16.22" height="34.59" fill="#666666"/>
<rect x="1131.42" y="1971.9" width="16.22" height="74.33" fill="#D95F02"/>
<rect x="1131.42" y="2046.23" width="16.22" height="47.94" fill="#E6AB02"/>
<rect x="1131.42" y="2094.17" width="16.22" height="44.6" fill="#E31A1C"/>
<rect x="1131.42" y="2138.77" width="16.22" height="101.34" fill="#A6D854"/>
<rect x="1131.42" y="2240.11" width="16.22" height="35.19" fill="#666666"/>
<line x1="763.5" y1="2275.3" x2="770.8" y2="2275.3" stroke="#333" stroke-width="1.2"/>
<text x="757" y="2281.5" font-size="17.5" text-anchor="end">0</text>
<line x1="763.5" y1="2199.45" x2="770.8" y2="2199.45" stroke="#333" stroke-width="1.2"/>
<text x="757" y="2205.65" font-size="17.5" text-anchor="end">0.25</text>
<line x1="763.5" y1="2123.6" x2="770.8" y2="2123.6" stroke="#333" stroke-width="1.2"/>
<text x="757" y="2129.8" font-size="17.5" text-anchor="end">0.50</text>
<line x1="763.5" y1="2047.75" x2="770.8" y2="2047.75" stroke="#333" stroke-width="1.2"/>
<text x="757" y="2053.95" font-size="17.5" text-anchor="end">0.75</text>
<line x1="763.5" y1="1971.9" x2="770.8" y2="1971.9" stroke="#333" stroke-width="1.2"/>
<text x="757" y="1978.1" font-size="17.5" text-anchor="end">1.00</text>
<rect x="770" y="2294.8" width="379.2" height="332.7" fill="#fff" stroke="#444" stroke-width="1.3"/>
<rect x="771.2" y="2309.2" width="16.22" height="103.96" fill="#A6CEE3"/>
<rect x="771.2" y="2413.16" width="16.22" height="109.12" fill="#1F78B4"/>
<rect x="771.2" y="2522.28" width="16.22" height="30.31" fill="#B2DF8A"/>
<rect x="771.2" y="2552.59" width="16.22" height="18.49" fill="#FB9A99"/>
<rect x="771.2" y="2571.08" width="16.22" height="0.91" fill="#FDBF6F"/>
<rect x="771.2" y="2571.99" width="16.22" height="1.21" fill="#FF7F00"/>
<rect x="771.2" y="2573.2" width="16.22" height="39.1" fill="#CAB2D6"/>
<rect x="788.32" y="2309.2" width="16.22" height="41.83" fill="#A6CEE3"/>
<rect x="788.32" y="2351.03" width="16.22" height="52.13" fill="#1F78B4"/>
<rect x="788.32" y="2403.16" width="16.22" height="120.94" fill="#B2DF8A"/>
<rect x="788.32" y="2524.1" width="16.22" height="2.42" fill="#FB9A99"/>
<rect x="788.32" y="2526.52" width="16.22" height="12.43" fill="#FDBF6F"/>
<rect x="788.32" y="2538.95" width="16.22" height="73.35" fill="#CAB2D6"/>
<rect x="805.44" y="2309.2" width="16.22" height="39.71" fill="#A6CEE3"/>
<rect x="805.44" y="2348.91" width="16.22" height="51.83" fill="#1F78B4"/>
<rect x="805.44" y="2400.74" width="16.22" height="124.88" fill="#B2DF8A"/>
<rect x="805.44" y="2525.61" width="16.22" height="13.34" fill="#FDBF6F"/>
<rect x="805.44" y="2538.95" width="16.22" height="73.35" fill="#CAB2D6"/>
<rect x="822.56" y="2309.2" width="16.22" height="100.02" fill="#A6CEE3"/>
<rect x="822.56" y="2409.22" width="16.22" height="103.66" fill="#1F78B4"/>
<rect x="822.56" y="2512.88" width="16.22" height="32.73" fill="#B2DF8A"/>
<rect x="822.56" y="2545.62" width="16.22" height="19.7" fill="#FB9A99"/>
<rect x="822.56" y="2565.32" width="16.22" height="1.82" fill="#FF7F00"/>
<rect x="822.56" y="2567.14" width="16.22" height="45.16" fill="#CAB2D6"/>
<rect x="839.68" y="2309.2" width="16.22" height="103.96" fill="#A6CEE3"/>
<rect x="839.68" y="2413.16" width="16.22" height="105.78" fill="#1F78B4"/>
<rect x="839.68" y="2518.95" width="16.22" height="31.22" fill="#B2DF8A"/>
<rect x="839.68" y="2550.16" width="16.22" height="20.31" fill="#FB9A99"/>
<rect x="839.68" y="2570.47" width="16.22" height="2.12" fill="#FF7F00"/>
<rect x="839.68" y="2572.59" width="16.22" height="39.71" fill="#CAB2D6"/>
<rect x="856.8" y="2309.2" width="16.22" height="102.75" fill="#A6CEE3"/>
<rect x="856.8" y="2411.95" width="16.22" height="105.18" fill="#1F78B4"/>
<rect x="856.8" y="2517.13" width="16.22" height="31.52" fill="#B2DF8A"/>
<rect x="856.8" y="2548.65" width="16.22" height="20" fill="#FB9A99"/>
<rect x="856.8" y="2568.65" width="16.22" height="1.52" fill="#FDBF6F"/>
<rect x="856.8" y="2570.17" width="16.22" height="1.52" fill="#FF7F00"/>
<rect x="856.8" y="2571.68" width="16.22" height="40.62" fill="#CAB2D6"/>
<rect x="873.92" y="2309.2" width="16.22" height="100.02" fill="#A6CEE3"/>
<rect x="873.92" y="2409.22" width="16.22" height="108.51" fill="#1F78B4"/>
<rect x="873.92" y="2517.73" width="16.22" height="34.55" fill="#B2DF8A"/>
<rect x="873.92" y="2552.29" width="16.22" height="18.19" fill="#FB9A99"/>
<rect x="873.92" y="2570.47" width="16.22" height="3.33" fill="#FDBF6F"/>
<rect x="873.92" y="2573.81" width="16.22" height="3.03" fill="#FF7F00"/>
<rect x="873.92" y="2576.84" width="16.22" height="35.46" fill="#CAB2D6"/>
<rect x="891.04" y="2309.2" width="16.22" height="93.05" fill="#A6CEE3"/>
<rect x="891.04" y="2402.25" width="16.22" height="106.99" fill="#1F78B4"/>
<rect x="891.04" y="2509.25" width="16.22" height="39.4" fill="#B2DF8A"/>
<rect x="891.04" y="2548.65" width="16.22" height="18.19" fill="#FB9A99"/>
<rect x="891.04" y="2566.84" width="16.22" height="1.52" fill="#FDBF6F"/>
<rect x="891.04" y="2568.35" width="16.22" height="1.82" fill="#FF7F00"/>
<rect x="891.04" y="2570.17" width="16.22" height="42.13" fill="#CAB2D6"/>
<rect x="908.16" y="2309.2" width="16.22" height="127.3" fill="#A6CEE3"/>
<rect x="908.16" y="2436.5" width="16.22" height="107.3" fill="#1F78B4"/>
<rect x="908.16" y="2543.8" width="16.22" height="23.64" fill="#B2DF8A"/>
<rect x="908.16" y="2567.44" width="16.22" height="9.7" fill="#FB9A99"/>
<rect x="908.16" y="2577.14" width="16.22" height="4.85" fill="#FDBF6F"/>
<rect x="908.16" y="2581.99" width="16.22" height="3.94" fill="#FF7F00"/>
<rect x="908.16" y="2585.93" width="16.22" height="26.37" fill="#CAB2D6"/>
<rect x="925.28" y="2309.2" width="16.22" height="128.21" fill="#A6CEE3"/>
<rect x="925.28" y="2437.41" width="16.22" height="114.27" fill="#1F78B4"/>
<rect x="925.28" y="2551.68" width="16.22" height="20" fill="#B2DF8A"/>
<rect x="925.28" y="2571.68" width="16.22" height="0.91" fill="#33A02C"/>
<rect x="925.28" y="2572.59" width="16.22" height="9.09" fill="#FB9A99"/>
<rect x="925.28" y="2581.69" width="16.22" height="5.76" fill="#FDBF6F"/>
<rect x="925.28" y="2587.45" width="16.22" height="3.64" fill="#FF7F00"/>
<rect x="925.28" y="2591.08" width="16.22" height="21.22" fill="#CAB2D6"/>
<rect x="942.4" y="2309.2" width="16.22" height="93.05" fill="#A6CEE3"/>
<rect x="942.4" y="2402.25" width="16.22" height="96.08" fill="#1F78B4"/>
<rect x="942.4" y="2498.33" width="16.22" height="38.49" fill="#B2DF8A"/>
<rect x="942.4" y="2536.83" width="16.22" height="19.1" fill="#FB9A99"/>
<rect x="942.4" y="2555.92" width="16.22" height="3.03" fill="#FDBF6F"/>
<rect x="942.4" y="2558.95" width="16.22" height="4.24" fill="#FF7F00"/>
<rect x="942.4" y="2563.2" width="16.22" height="49.1" fill="#CAB2D6"/>
<rect x="959.52" y="2309.2" width="16.22" height="95.17" fill="#A6CEE3"/>
<rect x="959.52" y="2404.37" width="16.22" height="102.75" fill="#1F78B4"/>
<rect x="959.52" y="2507.12" width="16.22" height="36.68" fill="#B2DF8A"/>
<rect x="959.52" y="2543.8" width="16.22" height="20.91" fill="#FB9A99"/>
<rect x="959.52" y="2564.71" width="16.22" height="2.42" fill="#FDBF6F"/>
<rect x="959.52" y="2567.14" width="16.22" height="2.73" fill="#FF7F00"/>
<rect x="959.52" y="2569.87" width="16.22" height="42.43" fill="#CAB2D6"/>
<rect x="976.64" y="2309.2" width="16.22" height="95.17" fill="#A6CEE3"/>
<rect x="976.64" y="2404.37" width="16.22" height="100.63" fill="#1F78B4"/>
<rect x="976.64" y="2505" width="16.22" height="38.8" fill="#B2DF8A"/>
<rect x="976.64" y="2543.8" width="16.22" height="18.49" fill="#FB9A99"/>
<rect x="976.64" y="2562.29" width="16.22" height="3.64" fill="#FDBF6F"/>
<rect x="976.64" y="2565.93" width="16.22" height="3.33" fill="#FF7F00"/>
<rect x="976.64" y="2569.26" width="16.22" height="43.04" fill="#CAB2D6"/>
<rect x="993.76" y="2309.2" width="16.22" height="107.9" fill="#A6CEE3"/>
<rect x="993.76" y="2417.1" width="16.22" height="107.9" fill="#1F78B4"/>
<rect x="993.76" y="2525.01" width="16.22" height="29.7" fill="#B2DF8A"/>
<rect x="993.76" y="2554.71" width="16.22" height="17.58" fill="#FB9A99"/>
<rect x="993.76" y="2572.29" width="16.22" height="3.64" fill="#FF7F00"/>
<rect x="993.76" y="2575.93" width="16.22" height="36.37" fill="#CAB2D6"/>
<rect x="1010.88" y="2309.2" width="16.22" height="107.3" fill="#A6CEE3"/>
<rect x="1010.88" y="2416.5" width="16.22" height="109.12" fill="#1F78B4"/>
<rect x="1010.88" y="2525.61" width="16.22" height="30.01" fill="#B2DF8A"/>
<rect x="1010.88" y="2555.62" width="16.22" height="17.58" fill="#FB9A99"/>
<rect x="1010.88" y="2573.2" width="16.22" height="1.82" fill="#FF7F00"/>
<rect x="1010.88" y="2575.02" width="16.22" height="37.28" fill="#CAB2D6"/>
<rect x="1028" y="2309.2" width="16.22" height="99.72" fill="#A6CEE3"/>
<rect x="1028" y="2408.92" width="16.22" height="113.97" fill="#1F78B4"/>
<rect x="1028" y="2522.89" width="16.22" height="32.73" fill="#B2DF8A"/>
<rect x="1028" y="2555.62" width="16.22" height="17.28" fill="#FB9A99"/>
<rect x="1028" y="2572.9" width="16.22" height="3.94" fill="#FF7F00"/>
<rect x="1028" y="2576.84" width="16.22" height="35.46" fill="#CAB2D6"/>
<rect x="1045.12" y="2309.2" width="16.22" height="100.02" fill="#A6CEE3"/>
<rect x="1045.12" y="2409.22" width="16.22" height="108.21" fill="#1F78B4"/>
<rect x="1045.12" y="2517.43" width="16.22" height="39.1" fill="#B2DF8A"/>
<rect x="1045.12" y="2556.53" width="16.22" height="15.76" fill="#FB9A99"/>
<rect x="1045.12" y="2572.29" width="16.22" height="4.55" fill="#FDBF6F"/>
<rect x="1045.12" y="2576.84" width="16.22" height="3.64" fill="#FF7F00"/>
<rect x="1045.12" y="2580.47" width="16.22" height="31.83" fill="#CAB2D6"/>
<rect x="1062.24" y="2309.2" width="16.22" height="103.96" fill="#A6CEE3"/>
<rect x="1062.24" y="2413.16" width="16.22" height="108.81" fill="#1F78B4"/>
<rect x="1062.24" y="2521.98" width="16.22" height="31.83" fill="#B2DF8A"/>
<rect x="1062.24" y="2553.8" width="16.22" height="17.88" fill="#FB9A99"/>
<rect x="1062.24" y="2571.68" width="16.22" height="3.03" fill="#FF7F00"/>
<rect x="1062.24" y="2574.72" width="16.22" height="37.58" fill="#CAB2D6"/>
<rect x="1079.36" y="2309.2" width="16.22" height="96.69" fill="#A6CEE3"/>
<rect x="1079.36" y="2405.89" width="16.22" height="96.69" fill="#1F78B4"/>
<rect x="1079.36" y="2502.58" width="16.22" height="43.04" fill="#B2DF8A"/>
<rect x="1079.36" y="2545.62" width="16.22" height="16.67" fill="#FB9A99"/>
<rect x="1079.36" y="2562.29" width="16.22" height="3.03" fill="#FDBF6F"/>
<rect x="1079.36" y="2565.32" width="16.22" height="2.73" fill="#FF7F00"/>
<rect x="1079.36" y="2568.05" width="16.22" height="44.25" fill="#CAB2D6"/>
<rect x="1096.48" y="2309.2" width="16.22" height="102.75" fill="#A6CEE3"/>
<rect x="1096.48" y="2411.95" width="16.22" height="105.48" fill="#1F78B4"/>
<rect x="1096.48" y="2517.43" width="16.22" height="32.73" fill="#B2DF8A"/>
<rect x="1096.48" y="2550.16" width="16.22" height="18.79" fill="#FB9A99"/>
<rect x="1096.48" y="2568.96" width="16.22" height="2.73" fill="#FF7F00"/>
<rect x="1096.48" y="2571.68" width="16.22" height="40.62" fill="#CAB2D6"/>
<rect x="1113.6" y="2309.2" width="16.22" height="96.69" fill="#A6CEE3"/>
<rect x="1113.6" y="2405.89" width="16.22" height="109.12" fill="#1F78B4"/>
<rect x="1113.6" y="2515" width="16.22" height="34.55" fill="#B2DF8A"/>
<rect x="1113.6" y="2549.56" width="16.22" height="19.1" fill="#FB9A99"/>
<rect x="1113.6" y="2568.65" width="16.22" height="1.52" fill="#FDBF6F"/>
<rect x="1113.6" y="2570.17" width="16.22" height="2.73" fill="#FF7F00"/>
<rect x="1113.6" y="2572.9" width="16.22" height="39.4" fill="#CAB2D6"/>
<rect x="1130.72" y="2309.2" width="16.22" height="96.69" fill="#A6CEE3"/>
<rect x="1130.72" y="2405.89" width="16.22" height="104.27" fill="#1F78B4"/>
<rect x="1130.72" y="2510.16" width="16.22" height="36.37" fill="#B2DF8A"/>
<rect x="1130.72" y="2546.53" width="16.22" height="18.19" fill="#FB9A99"/>
<rect x="1130.72" y="2564.71" width="16.22" height="1.52" fill="#FDBF6F"/>
<rect x="1130.72" y="2566.23" width="16.22" height="3.03" fill="#FF7F00"/>
<rect x="1130.72" y="2569.26" width="16.22" height="43.04" fill="#CAB2D6"/>
<line x1="763.5" y1="2612.3" x2="770" y2="2612.3" stroke="#333" stroke-width="1.2"/>
<text x="757" y="2618.5" font-size="17.5" text-anchor="end">0</text>
<line x1="763.5" y1="2536.53" x2="770" y2="2536.53" stroke="#333" stroke-width="1.2"/>
<text x="757" y="2542.72" font-size="17.5" text-anchor="end">0.25</text>
<line x1="763.5" y1="2460.75" x2="770" y2="2460.75" stroke="#333" stroke-width="1.2"/>
<text x="757" y="2466.95" font-size="17.5" text-anchor="end">0.50</text>
<line x1="763.5" y1="2384.97" x2="770" y2="2384.97" stroke="#333" stroke-width="1.2"/>
<text x="757" y="2391.17" font-size="17.5" text-anchor="end">0.75</text>
<line x1="763.5" y1="2309.2" x2="770" y2="2309.2" stroke="#333" stroke-width="1.2"/>
<text x="757" y="2315.4" font-size="17.5" text-anchor="end">1.00</text>
<text x="701" y="2290" font-size="22.5" text-anchor="middle" transform="rotate(-90 701 2290)">Proportion of mutational signatures</text>
<rect x="769" y="2641.3" width="17.37" height="18.7" fill="#FF0000" stroke="#E0E0E0" stroke-width="1"/>
<rect x="786.37" y="2641.3" width="17.37" height="18.7" fill="#FF0000" stroke="#E0E0E0" stroke-width="1"/>
<rect x="803.74" y="2641.3" width="17.37" height="18.7" fill="#FF0000" stroke="#E0E0E0" stroke-width="1"/>
<rect x="821.1" y="2641.3" width="17.37" height="18.7" fill="#FF0000" stroke="#E0E0E0" stroke-width="1"/>
<rect x="838.47" y="2641.3" width="17.37" height="18.7" fill="#CDC673" stroke="#E0E0E0" stroke-width="1"/>
<rect x="855.84" y="2641.3" width="17.37" height="18.7" fill="#CDC673" stroke="#E0E0E0" stroke-width="1"/>
<rect x="873.21" y="2641.3" width="17.37" height="18.7" fill="#6495ED" stroke="#E0E0E0" stroke-width="1"/>
<rect x="890.58" y="2641.3" width="17.37" height="18.7" fill="#6495ED" stroke="#E0E0E0" stroke-width="1"/>
<rect x="907.95" y="2641.3" width="17.37" height="18.7" fill="#3CB371" stroke="#E0E0E0" stroke-width="1"/>
<rect x="925.31" y="2641.3" width="17.37" height="18.7" fill="#3CB371" stroke="#E0E0E0" stroke-width="1"/>
<rect x="942.68" y="2641.3" width="17.37" height="18.7" fill="#F08080" stroke="#E0E0E0" stroke-width="1"/>
<rect x="960.05" y="2641.3" width="17.37" height="18.7" fill="#87CEEB" stroke="#E0E0E0" stroke-width="1"/>
<rect x="977.42" y="2641.3" width="17.37" height="18.7" fill="#87CEEB" stroke="#E0E0E0" stroke-width="1"/>
<rect x="994.79" y="2641.3" width="17.37" height="18.7" fill="#AB82FF" stroke="#E0E0E0" stroke-width="1"/>
<rect x="1012.15" y="2641.3" width="17.37" height="18.7" fill="#AB82FF" stroke="#E0E0E0" stroke-width="1"/>
<rect x="1029.52" y="2641.3" width="17.37" height="18.7" fill="#AB82FF" stroke="#E0E0E0" stroke-width="1"/>
<rect x="1046.89" y="2641.3" width="17.37" height="18.7" fill="#AB82FF" stroke="#E0E0E0" stroke-width="1"/>
<rect x="1064.26" y="2641.3" width="17.37" height="18.7" fill="#AB82FF" stroke="#E0E0E0" stroke-width="1"/>
<rect x="1081.63" y="2641.3" width="17.37" height="18.7" fill="#AB82FF" stroke="#E0E0E0" stroke-width="1"/>
<rect x="1099" y="2641.3" width="17.37" height="18.7" fill="#AB82FF" stroke="#E0E0E0" stroke-width="1"/>
<rect x="1116.36" y="2641.3" width="17.37" height="18.7" fill="#4169E1" stroke="#E0E0E0" stroke-width="1"/>
<rect x="1133.73" y="2641.3" width="17.37" height="18.7" fill="#4169E1" stroke="#E0E0E0" stroke-width="1"/>
<rect x="769" y="2663.7" width="17.37" height="18.7" fill="#3CB371" stroke="#E0E0E0" stroke-width="1"/>
<rect x="786.37" y="2663.7" width="17.37" height="18.7" fill="#AB82FF" stroke="#E0E0E0" stroke-width="1"/>
<rect x="803.74" y="2663.7" width="17.37" height="18.7" fill="#AB82FF" stroke="#E0E0E0" stroke-width="1"/>
<rect x="821.1" y="2663.7" width="17.37" height="18.7" fill="#AB82FF" stroke="#E0E0E0" stroke-width="1"/>
<rect x="838.47" y="2663.7" width="17.37" height="18.7" fill="#AB82FF" stroke="#E0E0E0" stroke-width="1"/>
<rect x="855.84" y="2663.7" width="17.37" height="18.7" fill="#FFD700" stroke="#E0E0E0" stroke-width="1"/>
<rect x="873.21" y="2663.7" width="17.37" height="18.7" fill="#FF4500" stroke="#E0E0E0" stroke-width="1"/>
<rect x="890.58" y="2663.7" width="17.37" height="18.7" fill="#FFD700" stroke="#E0E0E0" stroke-width="1"/>
<rect x="907.95" y="2663.7" width="17.37" height="18.7" fill="#FF4500" stroke="#E0E0E0" stroke-width="1"/>
<rect x="925.31" y="2663.7" width="17.37" height="18.7" fill="#FFD700" stroke="#E0E0E0" stroke-width="1"/>
<rect x="942.68" y="2663.7" width="17.37" height="18.7" fill="#FF4500" stroke="#E0E0E0" stroke-width="1"/>
<rect x="960.05" y="2663.7" width="17.37" height="18.7" fill="#0000FF" stroke="#E0E0E0" stroke-width="1"/>
<rect x="977.42" y="2663.7" width="17.37" height="18.7" fill="#3CB371" stroke="#E0E0E0" stroke-width="1"/>
<rect x="994.79" y="2663.7" width="17.37" height="18.7" fill="#0000FF" stroke="#E0E0E0" stroke-width="1"/>
<rect x="1012.15" y="2663.7" width="17.37" height="18.7" fill="#AB82FF" stroke="#E0E0E0" stroke-width="1"/>
<rect x="1029.52" y="2663.7" width="17.37" height="18.7" fill="#FF4500" stroke="#E0E0E0" stroke-width="1"/>
<rect x="1046.89" y="2663.7" width="17.37" height="18.7" fill="#3CB371" stroke="#E0E0E0" stroke-width="1"/>
<rect x="1064.26" y="2663.7" width="17.37" height="18.7" fill="#3CB371" stroke="#E0E0E0" stroke-width="1"/>
<rect x="1081.63" y="2663.7" width="17.37" height="18.7" fill="#FFD700" stroke="#E0E0E0" stroke-width="1"/>
<rect x="1099" y="2663.7" width="17.37" height="18.7" fill="#FF8C00" stroke="#E0E0E0" stroke-width="1"/>
<rect x="1116.36" y="2663.7" width="17.37" height="18.7" fill="#AB82FF" stroke="#E0E0E0" stroke-width="1"/>
<rect x="1133.73" y="2663.7" width="17.37" height="18.7" fill="#FF4500" stroke="#E0E0E0" stroke-width="1"/>
<rect x="769" y="2685.8" width="17.37" height="18.7" fill="#8FBC8F" stroke="#D8D8D8" stroke-width="1"/>
<rect x="786.37" y="2685.8" width="17.37" height="18.7" fill="#8FBC8F" stroke="#D8D8D8" stroke-width="1"/>
<rect x="803.74" y="2685.8" width="17.37" height="18.7" fill="#8FBC8F" stroke="#D8D8D8" stroke-width="1"/>
<rect x="821.1" y="2685.8" width="17.37" height="18.7" fill="#8FBC8F" stroke="#D8D8D8" stroke-width="1"/>
<rect x="838.47" y="2685.8" width="17.37" height="18.7" fill="#8FBC8F" stroke="#D8D8D8" stroke-width="1"/>
<rect x="855.84" y="2685.8" width="17.37" height="18.7" fill="#8FBC8F" stroke="#D8D8D8" stroke-width="1"/>
<rect x="873.21" y="2685.8" width="17.37" height="18.7" fill="#E6E6FA" stroke="#D8D8D8" stroke-width="1"/>
<rect x="890.58" y="2685.8" width="17.37" height="18.7" fill="#E6E6FA" stroke="#D8D8D8" stroke-width="1"/>
<rect x="907.95" y="2685.8" width="17.37" height="18.7" fill="#E6E6FA" stroke="#D8D8D8" stroke-width="1"/>
<rect x="925.31" y="2685.8" width="17.37" height="18.7" fill="#E6E6FA" stroke="#D8D8D8" stroke-width="1"/>
<rect x="942.68" y="2685.8" width="17.37" height="18.7" fill="#E6E6FA" stroke="#D8D8D8" stroke-width="1"/>
<rect x="960.05" y="2685.8" width="17.37" height="18.7" fill="#E6E6FA" stroke="#D8D8D8" stroke-width="1"/>
<rect x="977.42" y="2685.8" width="17.37" height="18.7" fill="#E6E6FA" stroke="#D8D8D8" stroke-width="1"/>
<rect x="994.79" y="2685.8" width="17.37" height="18.7" fill="#483D8B" stroke="#D8D8D8" stroke-width="1"/>
<rect x="1012.15" y="2685.8" width="17.37" height="18.7" fill="#483D8B" stroke="#D8D8D8" stroke-width="1"/>
<rect x="1029.52" y="2685.8" width="17.37" height="18.7" fill="#483D8B" stroke="#D8D8D8" stroke-width="1"/>
<rect x="1046.89" y="2685.8" width="17.37" height="18.7" fill="#483D8B" stroke="#D8D8D8" stroke-width="1"/>
<rect x="1064.26" y="2685.8" width="17.37" height="18.7" fill="#483D8B" stroke="#D8D8D8" stroke-width="1"/>
<rect x="1081.63" y="2685.8" width="17.37" height="18.7" fill="#483D8B" stroke="#D8D8D8" stroke-width="1"/>
<rect x="1099" y="2685.8" width="17.37" height="18.7" fill="#483D8B" stroke="#D8D8D8" stroke-width="1"/>
<rect x="1116.36" y="2685.8" width="17.37" height="18.7" fill="#483D8B" stroke="#D8D8D8" stroke-width="1"/>
<rect x="1133.73" y="2685.8" width="17.37" height="18.7" fill="#483D8B" stroke="#D8D8D8" stroke-width="1"/>
<text x="1159.4" y="2655.1" font-size="17.6">Patient</text>
<text x="1159.4" y="2677.3" font-size="17.6">Organ</text>
<text x="1159.4" y="2698.6" font-size="17.6">Treatment</text>
<text x="1161.2" y="1973.4" font-size="16.5">SBS</text>
<text x="1161.2" y="1994.2" font-size="16.5">signatures</text>
<rect x="1160.4" y="2008.1" width="27" height="23" fill="#8DD3C7"/>
<text x="1196.6" y="2025.04" font-size="16.5">SBS1</text>
<rect x="1160.4" y="2034.5" width="27" height="23" fill="#FFFFB3"/>
<text x="1196.6" y="2051.45" font-size="16.5">SBS3</text>
<rect x="1160.4" y="2060.9" width="27" height="23" fill="#D95F02"/>
<text x="1196.6" y="2077.85" font-size="16.5">SBS6</text>
<rect x="1160.4" y="2087.3" width="27" height="23" fill="#BEBADA"/>
<text x="1196.6" y="2104.24" font-size="16.5">SBS7a</text>
<rect x="1160.4" y="2113.7" width="27" height="23" fill="#E6AB02"/>
<text x="1196.6" y="2130.64" font-size="16.5">SBS10b</text>
<rect x="1160.4" y="2140.1" width="27" height="23" fill="#E31A1C"/>
<text x="1196.6" y="2157.05" font-size="16.5">SBS15</text>
<rect x="1160.4" y="2166.5" width="27" height="23" fill="#FFFF33"/>
<text x="1196.6" y="2183.45" font-size="16.5">SBS20</text>
<rect x="1160.4" y="2192.9" width="27" height="23" fill="#A6D854"/>
<text x="1196.6" y="2209.85" font-size="16.5">SBS26</text>
<rect x="1160.4" y="2219.3" width="27" height="23" fill="#E7298A"/>
<text x="1196.6" y="2236.24" font-size="16.5">SBS36</text>
<rect x="1160.4" y="2245.7" width="27" height="23" fill="#666666"/>
<text x="1196.6" y="2262.64" font-size="16.5">SBS87</text>
<text x="1157.9" y="2328.7" font-size="16.5">ID</text>
<text x="1157.9" y="2349.6" font-size="16.5">signatures</text>
<rect x="1160" y="2368.1" width="27" height="23" fill="#A6CEE3"/>
<text x="1195.5" y="2385.05" font-size="16.5">ID1</text>
<rect x="1160" y="2393.8" width="27" height="23" fill="#1F78B4"/>
<text x="1195.5" y="2410.74" font-size="16.5">ID2</text>
<rect x="1160" y="2419.5" width="27" height="23" fill="#B2DF8A"/>
<text x="1195.5" y="2436.45" font-size="16.5">ID3</text>
<rect x="1160" y="2445.2" width="27" height="23" fill="#33A02C"/>
<text x="1195.5" y="2462.14" font-size="16.5">ID6</text>
<rect x="1160" y="2470.9" width="27" height="23" fill="#FB9A99"/>
<text x="1195.5" y="2487.85" font-size="16.5">ID7</text>
<rect x="1160" y="2496.6" width="27" height="23" fill="#E31A1C"/>
<text x="1195.5" y="2513.55" font-size="16.5">ID8</text>
<rect x="1160" y="2522.3" width="27" height="23" fill="#FDBF6F"/>
<text x="1195.5" y="2539.24" font-size="16.5">ID13</text>
<rect x="1160" y="2548" width="27" height="23" fill="#FF7F00"/>
<text x="1195.5" y="2564.95" font-size="16.5">ID17</text>
<rect x="1160" y="2573.7" width="27" height="23" fill="#CAB2D6"/>
<text x="1195.5" y="2590.64" font-size="16.5">ID18</text>
<text x="1272.5" y="2012.3" font-size="16.5">Patient</text>
<rect x="1272.5" y="2019.9" width="21" height="21" fill="#FF0000"/>
<text x="1304" y="2035.85" font-size="16.5">RAM12.01</text>
<rect x="1272.5" y="2043.7" width="21" height="21" fill="#CDC673"/>
<text x="1304" y="2059.64" font-size="16.5">RAM13003</text>
<rect x="1272.5" y="2067.5" width="21" height="21" fill="#6495ED"/>
<text x="1304" y="2083.45" font-size="16.5">RAM13004</text>
<rect x="1272.5" y="2091.3" width="21" height="21" fill="#AB82FF"/>
<text x="1304" y="2107.25" font-size="16.5">RAM14006</text>
<rect x="1272.5" y="2115.1" width="21" height="21" fill="#3CB371"/>
<text x="1304" y="2131.05" font-size="16.5">RAM19001</text>
<rect x="1272.5" y="2138.9" width="21" height="21" fill="#F08080"/>
<text x="1304" y="2154.85" font-size="16.5">RAM19002</text>
<rect x="1272.5" y="2162.7" width="21" height="21" fill="#4169E1"/>
<text x="1304" y="2178.65" font-size="16.5">RAM19003</text>
<rect x="1272.5" y="2186.5" width="21" height="21" fill="#87CEEB"/>
<text x="1304" y="2202.45" font-size="16.5">RAM19005</text>
<text x="1271.1" y="2271.4" font-size="16.5">Organ</text>
<rect x="1271.1" y="2281.7" width="24" height="23.3" fill="#0000FF"/>
<text x="1304.2" y="2298.8" font-size="16.5">Adrenal</text>
<rect x="1271.1" y="2308.2" width="24" height="23.3" fill="#AB82FF"/>
<text x="1304.2" y="2325.3" font-size="16.5">Brain</text>
<rect x="1271.1" y="2334.7" width="24" height="23.3" fill="#FF4500"/>
<text x="1304.2" y="2351.8" font-size="16.5">Liver</text>
<rect x="1271.1" y="2361.2" width="24" height="23.3" fill="#FFD700"/>
<text x="1304.2" y="2378.3" font-size="16.5">Lung</text>
<rect x="1271.1" y="2387.7" width="24" height="23.3" fill="#3CB371"/>
<text x="1304.2" y="2404.8" font-size="16.5">Lymph node</text>
<rect x="1271.1" y="2414.2" width="24" height="23.3" fill="#FF8C00"/>
<text x="1304.2" y="2431.3" font-size="16.5">Soft tissue</text>
<text x="1274.5" y="2500.7" font-size="16.5">Treatment</text>
<rect x="1273.5" y="2513" width="23.5" height="22.5" fill="#E6E6FA"/>
<text x="1304.2" y="2529.7" font-size="16.5">ICB</text>
<rect x="1273.5" y="2538.6" width="23.5" height="22.5" fill="#8FBC8F"/>
<text x="1304.2" y="2555.3" font-size="16.5">MAPKi</text>
<rect x="1273.5" y="2564.2" width="23.5" height="22.5" fill="#483D8B"/>
<text x="1304.2" y="2580.89" font-size="16.5">MAPKi + ICB</text>
<text x="5" y="2399" font-size="37" font-weight="bold" stroke="#000" stroke-width="1.8" stroke-linejoin="round">j</text>
<rect x="143.1" y="2403.1" width="405.2" height="260.7" fill="#fff" stroke="#444" stroke-width="1.3"/>
<line x1="136.4" y1="2419.81" x2="143.1" y2="2419.81" stroke="#333" stroke-width="1.2"/>
<text x="129.5" y="2426.01" font-size="17.5" text-anchor="end">0.6</text>
<line x1="136.4" y1="2469.75" x2="143.1" y2="2469.75" stroke="#333" stroke-width="1.2"/>
<text x="129.5" y="2475.95" font-size="17.5" text-anchor="end">0.5</text>
<line x1="136.4" y1="2520.01" x2="143.1" y2="2520.01" stroke="#333" stroke-width="1.2"/>
<text x="129.5" y="2526.21" font-size="17.5" text-anchor="end">0.4</text>
<line x1="136.4" y1="2569.95" x2="143.1" y2="2569.95" stroke="#333" stroke-width="1.2"/>
<text x="129.5" y="2576.15" font-size="17.5" text-anchor="end">0.3</text>
<line x1="136.4" y1="2619.88" x2="143.1" y2="2619.88" stroke="#333" stroke-width="1.2"/>
<text x="129.5" y="2626.08" font-size="17.5" text-anchor="end">0.2</text>
<line x1="219.5" y1="2433.89" x2="219.5" y2="2436.57" stroke="#666" stroke-width="0.9"/>
<line x1="219.5" y1="2515.66" x2="219.5" y2="2588.04" stroke="#666" stroke-width="0.9"/>
<line x1="345.17" y1="2481.47" x2="345.17" y2="2533.42" stroke="#666" stroke-width="0.9"/>
<line x1="345.17" y1="2604.8" x2="345.17" y2="2652.39" stroke="#666" stroke-width="0.9"/>
<line x1="472.52" y1="2414.79" x2="472.52" y2="2444.28" stroke="#666" stroke-width="0.9"/>
<line x1="472.52" y1="2469.41" x2="472.52" y2="2489.52" stroke="#666" stroke-width="0.9"/>
<rect x="174.26" y="2436.57" width="89.14" height="79.09" fill="#8FBC8F" stroke="#777" stroke-width="0.8"/>
<rect x="300.94" y="2533.42" width="88.47" height="71.38" fill="#E6E6FA" stroke="#888" stroke-width="0.8"/>
<rect x="427.28" y="2444.28" width="89.14" height="25.13" fill="#483D8B" stroke="#555" stroke-width="0.8"/>
<line x1="174.26" y1="2452.32" x2="263.4" y2="2452.32" stroke="#222" stroke-width="1.1"/>
<line x1="300.94" y1="2587.04" x2="389.41" y2="2587.04" stroke="#222" stroke-width="1.1"/>
<line x1="427.28" y1="2453.66" x2="516.42" y2="2453.66" stroke="#222" stroke-width="1.1"/>
<circle cx="237.27" cy="2436.57" r="1.3" fill="#000"/>
<circle cx="241.29" cy="2434.22" r="1.3" fill="#000"/>
<circle cx="215.48" cy="2452.32" r="1.3" fill="#000"/>
<circle cx="210.12" cy="2515.99" r="1.3" fill="#000"/>
<circle cx="239.61" cy="2588.04" r="1.3" fill="#000"/>
<circle cx="339.48" cy="2481.81" r="1.3" fill="#000"/>
<circle cx="344.5" cy="2486.84" r="1.3" fill="#000"/>
<circle cx="320.38" cy="2587.37" r="1.3" fill="#000"/>
<circle cx="361.26" cy="2581.34" r="1.3" fill="#000"/>
<circle cx="339.48" cy="2601.45" r="1.3" fill="#000"/>
<circle cx="322.72" cy="2607.48" r="1.3" fill="#000"/>
<circle cx="331.1" cy="2652.39" r="1.3" fill="#000"/>
<circle cx="461.8" cy="2414.79" r="1.3" fill="#000"/>
<circle cx="463.14" cy="2435.23" r="1.3" fill="#000"/>
<circle cx="495.98" cy="2444.61" r="1.3" fill="#000"/>
<circle cx="476.88" cy="2451.65" r="1.3" fill="#000"/>
<circle cx="480.23" cy="2456.34" r="1.3" fill="#000"/>
<circle cx="489.28" cy="2453.99" r="1.3" fill="#000"/>
<circle cx="459.79" cy="2469.75" r="1.3" fill="#000"/>
<circle cx="472.52" cy="2481.47" r="1.3" fill="#000"/>
<circle cx="471.85" cy="2489.18" r="1.3" fill="#000"/>
<line x1="219.5" y1="2663.8" x2="219.5" y2="2671" stroke="#333" stroke-width="1.2"/>
<text x="219.5" y="2693.6" font-size="19.9" text-anchor="middle">MAPKi</text>
<line x1="345.17" y1="2663.8" x2="345.17" y2="2671" stroke="#333" stroke-width="1.2"/>
<text x="345.17" y="2693.6" font-size="19.9" text-anchor="middle">ICB</text>
<line x1="472.52" y1="2663.8" x2="472.52" y2="2671" stroke="#333" stroke-width="1.2"/>
<text x="472.52" y="2697" font-size="19.9" text-anchor="middle">MAPKi + ICB</text>
<text x="58" y="2532.7" font-size="22.4" text-anchor="middle" transform="rotate(-90 58 2532.7)">Proportion of defective</text>
<text x="81.5" y="2532.7" font-size="22.4" text-anchor="middle" transform="rotate(-90 81.5 2532.7)">MMR signatures</text>
<text x="1459.3" y="1957.5" font-size="37" font-weight="bold" stroke="#000" stroke-width="1.8" stroke-linejoin="round">k</text>
<rect x="1550.1" y="1949.8" width="315.2" height="229.3" fill="#fff" stroke="#444" stroke-width="1.3"/>
<rect x="1554.2" y="1958.9" width="29.6" height="32.22" fill="#FFFFB3"/>
<rect x="1554.2" y="1991.12" width="29.6" height="147.28" fill="#BEBADA"/>
<rect x="1554.2" y="2138.39" width="29.6" height="29.71" fill="#FB8072"/>
<rect x="1585.2" y="1958.9" width="29.6" height="32.22" fill="#FFFFB3"/>
<rect x="1585.2" y="1991.12" width="29.6" height="147.28" fill="#BEBADA"/>
<rect x="1585.2" y="2138.39" width="29.6" height="29.71" fill="#FB8072"/>
<rect x="1616.2" y="1958.9" width="29.6" height="32.22" fill="#FFFFB3"/>
<rect x="1616.2" y="1991.12" width="29.6" height="147.28" fill="#BEBADA"/>
<rect x="1616.2" y="2138.39" width="29.6" height="29.71" fill="#FB8072"/>
<rect x="1647.2" y="1958.9" width="29.6" height="172.59" fill="#BEBADA"/>
<rect x="1647.2" y="2131.49" width="29.6" height="36.61" fill="#FB8072"/>
<rect x="1678.2" y="1958.9" width="29.6" height="171.13" fill="#BEBADA"/>
<rect x="1678.2" y="2130.03" width="29.6" height="38.07" fill="#FB8072"/>
<rect x="1709.2" y="1958.9" width="29.6" height="172.59" fill="#BEBADA"/>
<rect x="1709.2" y="2131.49" width="29.6" height="36.61" fill="#FB8072"/>
<rect x="1740.2" y="1958.9" width="29.6" height="168.2" fill="#BEBADA"/>
<rect x="1740.2" y="2127.1" width="29.6" height="41" fill="#FB8072"/>
<rect x="1771.2" y="1958.9" width="29.6" height="171.13" fill="#BEBADA"/>
<rect x="1771.2" y="2130.03" width="29.6" height="38.07" fill="#FB8072"/>
<rect x="1802.2" y="1958.9" width="29.6" height="171.13" fill="#BEBADA"/>
<rect x="1802.2" y="2130.03" width="29.6" height="38.07" fill="#FB8072"/>
<rect x="1833.2" y="1958.9" width="29.6" height="171.13" fill="#BEBADA"/>
<rect x="1833.2" y="2130.03" width="29.6" height="38.07" fill="#FB8072"/>
<rect x="1550.1" y="2181" width="315.2" height="227.9" fill="#fff" stroke="#444" stroke-width="1.3"/>
<rect x="1554.2" y="2190.9" width="29.6" height="22.12" fill="#8DD3C7"/>
<rect x="1554.2" y="2213.02" width="29.6" height="60.52" fill="#BEBADA"/>
<rect x="1554.2" y="2273.55" width="29.6" height="26.3" fill="#FB8072"/>
<rect x="1554.2" y="2299.84" width="29.6" height="84.31" fill="#E6AB02"/>
<rect x="1554.2" y="2384.16" width="29.6" height="15.44" fill="#666666"/>
<rect x="1585.2" y="2190.9" width="29.6" height="23.79" fill="#8DD3C7"/>
<rect x="1585.2" y="2214.69" width="29.6" height="62.61" fill="#BEBADA"/>
<rect x="1585.2" y="2277.3" width="29.6" height="16.9" fill="#FB8072"/>
<rect x="1585.2" y="2294.21" width="29.6" height="87.03" fill="#E6AB02"/>
<rect x="1585.2" y="2381.23" width="29.6" height="18.37" fill="#666666"/>
<rect x="1616.2" y="2190.9" width="29.6" height="20.87" fill="#8DD3C7"/>
<rect x="1616.2" y="2211.77" width="29.6" height="65.53" fill="#BEBADA"/>
<rect x="1616.2" y="2277.3" width="29.6" height="16.9" fill="#FB8072"/>
<rect x="1616.2" y="2294.21" width="29.6" height="84.11" fill="#E6AB02"/>
<rect x="1616.2" y="2378.31" width="29.6" height="21.29" fill="#666666"/>
<rect x="1647.2" y="2190.9" width="29.6" height="37.57" fill="#8DD3C7"/>
<rect x="1647.2" y="2228.47" width="29.6" height="46.75" fill="#BEBADA"/>
<rect x="1647.2" y="2275.21" width="29.6" height="18.99" fill="#FB8072"/>
<rect x="1647.2" y="2294.21" width="29.6" height="77.22" fill="#E6AB02"/>
<rect x="1647.2" y="2371.43" width="29.6" height="28.17" fill="#666666"/>
<rect x="1678.2" y="2190.9" width="29.6" height="29.22" fill="#8DD3C7"/>
<rect x="1678.2" y="2220.12" width="29.6" height="55.1" fill="#BEBADA"/>
<rect x="1678.2" y="2275.21" width="29.6" height="23.37" fill="#FB8072"/>
<rect x="1678.2" y="2298.59" width="29.6" height="82.65" fill="#E6AB02"/>
<rect x="1678.2" y="2381.23" width="29.6" height="18.37" fill="#666666"/>
<rect x="1709.2" y="2190.9" width="29.6" height="33.6" fill="#8DD3C7"/>
<rect x="1709.2" y="2224.5" width="29.6" height="50.71" fill="#BEBADA"/>
<rect x="1709.2" y="2275.21" width="29.6" height="20.66" fill="#FB8072"/>
<rect x="1709.2" y="2295.88" width="29.6" height="78.05" fill="#E6AB02"/>
<rect x="1709.2" y="2373.93" width="29.6" height="25.67" fill="#666666"/>
<rect x="1740.2" y="2190.9" width="29.6" height="40.49" fill="#8DD3C7"/>
<rect x="1740.2" y="2231.39" width="29.6" height="51.55" fill="#BEBADA"/>
<rect x="1740.2" y="2282.94" width="29.6" height="84.11" fill="#E6AB02"/>
<rect x="1740.2" y="2367.04" width="29.6" height="32.56" fill="#666666"/>
<rect x="1771.2" y="2190.9" width="29.6" height="36.31" fill="#8DD3C7"/>
<rect x="1771.2" y="2227.21" width="29.6" height="50.09" fill="#BEBADA"/>
<rect x="1771.2" y="2277.3" width="29.6" height="25.67" fill="#FB8072"/>
<rect x="1771.2" y="2302.97" width="29.6" height="79.93" fill="#E6AB02"/>
<rect x="1771.2" y="2382.9" width="29.6" height="16.7" fill="#666666"/>
<rect x="1802.2" y="2190.9" width="29.6" height="44.87" fill="#8DD3C7"/>
<rect x="1802.2" y="2235.77" width="29.6" height="47.17" fill="#BEBADA"/>
<rect x="1802.2" y="2282.94" width="29.6" height="78.47" fill="#E6AB02"/>
<rect x="1802.2" y="2361.41" width="29.6" height="38.19" fill="#666666"/>
<rect x="1833.2" y="2190.9" width="29.6" height="29.22" fill="#8DD3C7"/>
<rect x="1833.2" y="2220.12" width="29.6" height="57.18" fill="#BEBADA"/>
<rect x="1833.2" y="2277.3" width="29.6" height="19.83" fill="#FB8072"/>
<rect x="1833.2" y="2297.13" width="29.6" height="82.65" fill="#E6AB02"/>
<rect x="1833.2" y="2379.77" width="29.6" height="19.83" fill="#666666"/>
<rect x="1550.1" y="2411" width="315.2" height="228.5" fill="#fff" stroke="#444" stroke-width="1.3"/>
<rect x="1554.2" y="2419.3" width="29.6" height="34.94" fill="#377EB8"/>
<rect x="1554.2" y="2454.24" width="29.6" height="78.45" fill="#FFFF33"/>
<rect x="1554.2" y="2532.69" width="29.6" height="95.81" fill="#E7298A"/>
<rect x="1585.2" y="2419.3" width="29.6" height="47.7" fill="#FFFFB3"/>
<rect x="1585.2" y="2467" width="29.6" height="113.39" fill="#A6D854"/>
<rect x="1585.2" y="2580.38" width="29.6" height="48.12" fill="#80B1D3"/>
<rect x="1616.2" y="2419.3" width="29.6" height="47.7" fill="#FFFFB3"/>
<rect x="1616.2" y="2467" width="29.6" height="109.2" fill="#A6D854"/>
<rect x="1616.2" y="2576.2" width="29.6" height="52.3" fill="#80B1D3"/>
<rect x="1647.2" y="2419.3" width="29.6" height="53.76" fill="#FFFFB3"/>
<rect x="1647.2" y="2473.06" width="29.6" height="114.43" fill="#A6D854"/>
<rect x="1647.2" y="2587.5" width="29.6" height="41" fill="#80B1D3"/>
<rect x="1678.2" y="2419.3" width="29.6" height="53.76" fill="#FFFFB3"/>
<rect x="1678.2" y="2473.06" width="29.6" height="114.43" fill="#A6D854"/>
<rect x="1678.2" y="2587.5" width="29.6" height="41" fill="#80B1D3"/>
<rect x="1709.2" y="2419.3" width="29.6" height="47.7" fill="#FFFFB3"/>
<rect x="1709.2" y="2467" width="29.6" height="28.03" fill="#66A61E"/>
<rect x="1709.2" y="2495.03" width="29.6" height="93.93" fill="#A6D854"/>
<rect x="1709.2" y="2588.96" width="29.6" height="39.54" fill="#80B1D3"/>
<rect x="1740.2" y="2419.3" width="29.6" height="39.33" fill="#FFFFB3"/>
<rect x="1740.2" y="2458.63" width="29.6" height="36.4" fill="#66A61E"/>
<rect x="1740.2" y="2495.03" width="29.6" height="98.32" fill="#A6D854"/>
<rect x="1740.2" y="2593.35" width="29.6" height="35.15" fill="#80B1D3"/>
<rect x="1771.2" y="2419.3" width="29.6" height="53.76" fill="#FFFFB3"/>
<rect x="1771.2" y="2473.06" width="29.6" height="112.97" fill="#A6D854"/>
<rect x="1771.2" y="2586.03" width="29.6" height="42.47" fill="#80B1D3"/>
<rect x="1802.2" y="2419.3" width="29.6" height="53.76" fill="#FFFFB3"/>
<rect x="1802.2" y="2473.06" width="29.6" height="110.04" fill="#A6D854"/>
<rect x="1802.2" y="2583.1" width="29.6" height="45.4" fill="#80B1D3"/>
<rect x="1833.2" y="2419.3" width="29.6" height="44.77" fill="#FFFFB3"/>
<rect x="1833.2" y="2464.07" width="29.6" height="113.8" fill="#A6D854"/>
<rect x="1833.2" y="2577.87" width="29.6" height="50.63" fill="#80B1D3"/>
<line x1="1542" y1="2168.1" x2="1550.1" y2="2168.1" stroke="#666" stroke-width="1.2"/>
<text x="1535" y="2174.3" font-size="17.5" text-anchor="end">0</text>
<line x1="1542" y1="2115.8" x2="1550.1" y2="2115.8" stroke="#666" stroke-width="1.2"/>
<text x="1535" y="2122" font-size="17.5" text-anchor="end">0.25</text>
<line x1="1542" y1="2063.5" x2="1550.1" y2="2063.5" stroke="#666" stroke-width="1.2"/>
<text x="1535" y="2069.7" font-size="17.5" text-anchor="end">0.50</text>
<line x1="1542" y1="2011.2" x2="1550.1" y2="2011.2" stroke="#666" stroke-width="1.2"/>
<text x="1535" y="2017.4" font-size="17.5" text-anchor="end">0.75</text>
<line x1="1542" y1="1958.9" x2="1550.1" y2="1958.9" stroke="#666" stroke-width="1.2"/>
<text x="1535" y="1965.1" font-size="17.5" text-anchor="end">1.00</text>
<line x1="1542" y1="2399.6" x2="1550.1" y2="2399.6" stroke="#666" stroke-width="1.2"/>
<text x="1535" y="2405.8" font-size="17.5" text-anchor="end">0</text>
<line x1="1542" y1="2347.43" x2="1550.1" y2="2347.43" stroke="#666" stroke-width="1.2"/>
<text x="1535" y="2353.62" font-size="17.5" text-anchor="end">0.25</text>
<line x1="1542" y1="2295.25" x2="1550.1" y2="2295.25" stroke="#666" stroke-width="1.2"/>
<text x="1535" y="2301.45" font-size="17.5" text-anchor="end">0.50</text>
<line x1="1542" y1="2243.07" x2="1550.1" y2="2243.07" stroke="#666" stroke-width="1.2"/>
<text x="1535" y="2249.27" font-size="17.5" text-anchor="end">0.75</text>
<line x1="1542" y1="2190.9" x2="1550.1" y2="2190.9" stroke="#666" stroke-width="1.2"/>
<text x="1535" y="2197.1" font-size="17.5" text-anchor="end">1.00</text>
<line x1="1542" y1="2628.5" x2="1550.1" y2="2628.5" stroke="#666" stroke-width="1.2"/>
<text x="1535" y="2634.7" font-size="17.5" text-anchor="end">0</text>
<line x1="1542" y1="2576.2" x2="1550.1" y2="2576.2" stroke="#666" stroke-width="1.2"/>
<text x="1535" y="2582.4" font-size="17.5" text-anchor="end">0.25</text>
<line x1="1542" y1="2523.9" x2="1550.1" y2="2523.9" stroke="#666" stroke-width="1.2"/>
<text x="1535" y="2530.1" font-size="17.5" text-anchor="end">0.50</text>
<line x1="1542" y1="2471.6" x2="1550.1" y2="2471.6" stroke="#666" stroke-width="1.2"/>
<text x="1535" y="2477.8" font-size="17.5" text-anchor="end">0.75</text>
<line x1="1542" y1="2419.3" x2="1550.1" y2="2419.3" stroke="#666" stroke-width="1.2"/>
<text x="1535" y="2425.5" font-size="17.5" text-anchor="end">1.00</text>
<text x="1470" y="2291" font-size="22.5" text-anchor="middle" transform="rotate(-90 1470 2291)">Proportion of mutational signatures</text>
<rect x="1866.6" y="1948.1" width="34.4" height="231.4" fill="#fff" stroke="#000" stroke-width="2.4"/>
<text x="1876.96" y="2063.8" font-size="19" text-anchor="middle" transform="rotate(90 1876.96 2063.8)">Early</text>
<rect x="1866.6" y="2179.5" width="34.4" height="230" fill="#fff" stroke="#000" stroke-width="2.4"/>
<text x="1876.96" y="2294.5" font-size="19" text-anchor="middle" transform="rotate(90 1876.96 2294.5)">Intermediate</text>
<rect x="1866.6" y="2410.5" width="34.4" height="230.4" fill="#fff" stroke="#000" stroke-width="2.4"/>
<text x="1876.96" y="2525.7" font-size="19" text-anchor="middle" transform="rotate(90 1876.96 2525.7)">Late</text>
<rect x="1549.6" y="2645" width="31.43" height="17.9" fill="#FF0000" stroke="#BEBEBE" stroke-width="1.2"/>
<rect x="1581.03" y="2645" width="31.43" height="17.9" fill="#FF0000" stroke="#BEBEBE" stroke-width="1.2"/>
<rect x="1612.46" y="2645" width="31.43" height="17.9" fill="#FF0000" stroke="#BEBEBE" stroke-width="1.2"/>
<rect x="1643.89" y="2645" width="31.43" height="17.9" fill="#AB82FF" stroke="#BEBEBE" stroke-width="1.2"/>
<rect x="1675.32" y="2645" width="31.43" height="17.9" fill="#AB82FF" stroke="#BEBEBE" stroke-width="1.2"/>
<rect x="1706.75" y="2645" width="31.43" height="17.9" fill="#AB82FF" stroke="#BEBEBE" stroke-width="1.2"/>
<rect x="1738.18" y="2645" width="31.43" height="17.9" fill="#AB82FF" stroke="#BEBEBE" stroke-width="1.2"/>
<rect x="1769.61" y="2645" width="31.43" height="17.9" fill="#AB82FF" stroke="#BEBEBE" stroke-width="1.2"/>
<rect x="1801.04" y="2645" width="31.43" height="17.9" fill="#AB82FF" stroke="#BEBEBE" stroke-width="1.2"/>
<rect x="1832.47" y="2645" width="31.43" height="17.9" fill="#AB82FF" stroke="#BEBEBE" stroke-width="1.2"/>
<rect x="1549.6" y="2666.4" width="31.43" height="18.5" fill="#AB82FF" stroke="#BEBEBE" stroke-width="1.2"/>
<rect x="1581.03" y="2666.4" width="31.43" height="18.5" fill="#AB82FF" stroke="#BEBEBE" stroke-width="1.2"/>
<rect x="1612.46" y="2666.4" width="31.43" height="18.5" fill="#AB82FF" stroke="#BEBEBE" stroke-width="1.2"/>
<rect x="1643.89" y="2666.4" width="31.43" height="18.5" fill="#0000FF" stroke="#BEBEBE" stroke-width="1.2"/>
<rect x="1675.32" y="2666.4" width="31.43" height="18.5" fill="#AB82FF" stroke="#BEBEBE" stroke-width="1.2"/>
<rect x="1706.75" y="2666.4" width="31.43" height="18.5" fill="#FF4500" stroke="#BEBEBE" stroke-width="1.2"/>
<rect x="1738.18" y="2666.4" width="31.43" height="18.5" fill="#3CB371" stroke="#BEBEBE" stroke-width="1.2"/>
<rect x="1769.61" y="2666.4" width="31.43" height="18.5" fill="#3CB371" stroke="#BEBEBE" stroke-width="1.2"/>
<rect x="1801.04" y="2666.4" width="31.43" height="18.5" fill="#FFD700" stroke="#BEBEBE" stroke-width="1.2"/>
<rect x="1832.47" y="2666.4" width="31.43" height="18.5" fill="#FF8C00" stroke="#BEBEBE" stroke-width="1.2"/>
<rect x="1549.6" y="2688.5" width="31.43" height="18.4" fill="#8FBC8F" stroke="#BEBEBE" stroke-width="1.2"/>
<rect x="1581.03" y="2688.5" width="31.43" height="18.4" fill="#8FBC8F" stroke="#BEBEBE" stroke-width="1.2"/>
<rect x="1612.46" y="2688.5" width="31.43" height="18.4" fill="#8FBC8F" stroke="#BEBEBE" stroke-width="1.2"/>
<rect x="1643.89" y="2688.5" width="31.43" height="18.4" fill="#483D8B" stroke="#BEBEBE" stroke-width="1.2"/>
<rect x="1675.32" y="2688.5" width="31.43" height="18.4" fill="#483D8B" stroke="#BEBEBE" stroke-width="1.2"/>
<rect x="1706.75" y="2688.5" width="31.43" height="18.4" fill="#483D8B" stroke="#BEBEBE" stroke-width="1.2"/>
<rect x="1738.18" y="2688.5" width="31.43" height="18.4" fill="#483D8B" stroke="#BEBEBE" stroke-width="1.2"/>
<rect x="1769.61" y="2688.5" width="31.43" height="18.4" fill="#483D8B" stroke="#BEBEBE" stroke-width="1.2"/>
<rect x="1801.04" y="2688.5" width="31.43" height="18.4" fill="#483D8B" stroke="#BEBEBE" stroke-width="1.2"/>
<rect x="1832.47" y="2688.5" width="31.43" height="18.4" fill="#483D8B" stroke="#BEBEBE" stroke-width="1.2"/>
<text x="1537.7" y="2660.1" font-size="21.6" text-anchor="end">Patient</text>
<text x="1537.7" y="2682.1" font-size="21.6" text-anchor="end">Organ</text>
<text x="1537.7" y="2704.2" font-size="21.6" text-anchor="end">Treatment</text>
<text x="1912.3" y="1968.9" font-size="17.9">Mutational</text>
<text x="1912.3" y="1988.8" font-size="17.9">signatures</text>
<rect x="1916" y="2006" width="27" height="23.3" fill="#8DD3C7"/>
<text x="1949.4" y="2023.1" font-size="16.5">SBS1</text>
<rect x="1916" y="2032.1" width="27" height="23.3" fill="#FFFFB3"/>
<text x="1949.4" y="2049.2" font-size="16.5">SBS3</text>
<rect x="1916" y="2058.2" width="27" height="23.3" fill="#BEBADA"/>
<text x="1949.4" y="2075.3" font-size="16.5">SBS7a</text>
<rect x="1916" y="2084.3" width="27" height="23.3" fill="#FB8072"/>
<text x="1949.4" y="2101.4" font-size="16.5">SBS7b</text>
<rect x="1916" y="2110.4" width="27" height="23.3" fill="#E6AB02"/>
<text x="1949.4" y="2127.5" font-size="16.5">SBS10b</text>
<rect x="1916" y="2136.5" width="27" height="23.3" fill="#377EB8"/>
<text x="1949.4" y="2153.6" font-size="16.5">SBS18</text>
<rect x="1916" y="2162.6" width="27" height="23.3" fill="#FFFF33"/>
<text x="1949.4" y="2179.7" font-size="16.5">SBS20</text>
<rect x="1916" y="2188.7" width="27" height="23.3" fill="#66A61E"/>
<text x="1949.4" y="2205.8" font-size="16.5">SBS25</text>
<rect x="1916" y="2214.8" width="27" height="23.3" fill="#A6D854"/>
<text x="1949.4" y="2231.9" font-size="16.5">SBS26</text>
<rect x="1916" y="2240.9" width="27" height="23.3" fill="#E7298A"/>
<text x="1949.4" y="2258" font-size="16.5">SBS36</text>
<rect x="1916" y="2267" width="27" height="23.3" fill="#80B1D3"/>
<text x="1949.4" y="2284.1" font-size="16.5">SBS44</text>
<rect x="1916" y="2293.1" width="27" height="23.3" fill="#666666"/>
<text x="1949.4" y="2310.2" font-size="16.5">SBS87</text>
<text x="1915.4" y="2353.1" font-size="16.5">Patient</text>
<rect x="1915.4" y="2361.3" width="24.6" height="23.5" fill="#FF0000"/>
<text x="1949.7" y="2378.5" font-size="16.5">RAM12.01</text>
<rect x="1915.4" y="2387.3" width="24.6" height="23.5" fill="#AB82FF"/>
<text x="1949.7" y="2404.5" font-size="16.5">RAM14006</text>
<text x="1915.4" y="2441.3" font-size="16.5">Organ</text>
<rect x="1915.4" y="2453.3" width="24.6" height="23.5" fill="#0000FF"/>
<text x="1949.7" y="2470.5" font-size="16.5">Adrenal</text>
<rect x="1915.4" y="2479.7" width="24.6" height="23.5" fill="#AB82FF"/>
<text x="1949.7" y="2496.9" font-size="16.5">Brain</text>
<rect x="1915.4" y="2506.1" width="24.6" height="23.5" fill="#FF4500"/>
<text x="1949.7" y="2523.3" font-size="16.5">Liver</text>
<rect x="1915.4" y="2532.5" width="24.6" height="23.5" fill="#FFD700"/>
<text x="1949.7" y="2549.7" font-size="16.5">Lung</text>
<rect x="1915.4" y="2558.9" width="24.6" height="23.5" fill="#3CB371"/>
<text x="1949.7" y="2576.1" font-size="16.5">Lymph node</text>
<rect x="1915.4" y="2585.3" width="24.6" height="23.5" fill="#FF8C00"/>
<text x="1949.7" y="2602.5" font-size="16.5">Soft tissue</text>
<text x="1915.4" y="2642.6" font-size="16.5">Treatment</text>
<rect x="1915.4" y="2651.4" width="24.6" height="23.5" fill="#8FBC8F"/>
<text x="1949.7" y="2668.6" font-size="16.5">MAPKi</text>
<rect x="1915.4" y="2677.4" width="24.6" height="23.5" fill="#483D8B"/>
<text x="1949.7" y="2694.6" font-size="16.5">MAPKi + ICB</text>
<text x="730.4" y="669.7" font-size="37" font-weight="bold" stroke="#000" stroke-width="1.8" stroke-linejoin="round">e</text>
<line x1="845" y1="699.8" x2="878.8" y2="699.8" stroke="#FF0000" stroke-width="4"/>
<text x="887.7" y="705.3" font-size="17.8">Duplications</text>
<line x1="1022.8" y1="699.8" x2="1056.2" y2="699.8" stroke="#0000FF" stroke-width="4"/>
<text x="1067.3" y="705.3" font-size="17.8">Deletions</text>
<line x1="845" y1="729.4" x2="878.8" y2="729.4" stroke="#FFC000" stroke-width="4"/>
<text x="887.7" y="735" font-size="17.8">Both</text>
<line x1="1022.8" y1="729.4" x2="1056.2" y2="729.4" stroke="#40D0B8" stroke-width="4"/>
<text x="1067.3" y="735" font-size="17.8">Recurrent</text>
<text x="1067.3" y="755.4" font-size="17.8">translocations</text>
<path d="M1019.2,798 A191.5,191.5 0 0 1 1106.3,818.95 L1104.02,823.41 A186.5,186.5 0 0 0 1019.2,803 Z" stroke="none" stroke-width="0.9" fill="#000"/>
<path d="M1020,806.3 A183.2,183.2 0 0 1 1101.81,825.98 L1094.37,840.71 A166.7,166.7 0 0 0 1019.93,822.8 Z" stroke="#2a2a2a" stroke-width="0.9" fill="none"/>
<path d="M1019.91,826.6 A162.9,162.9 0 0 1 1092.66,844.1 L1085.4,858.47 A146.8,146.8 0 0 0 1019.84,842.7 Z" stroke="#2a2a2a" stroke-width="0.9" fill="none"/>
<path d="M1019.82,847.3 A142.2,142.2 0 0 1 1083.32,862.58 L1075.97,877.13 A125.9,125.9 0 0 0 1019.75,863.6 Z" stroke="#2a2a2a" stroke-width="0.9" fill="none"/>
<path d="M1020.08,822.2 A167.3,167.3 0 0 1 1094.51,840.11" stroke="#B5B5B5" stroke-width="1.0" fill="none"/>
<path d="M1019.97,842.1 A147.4,147.4 0 0 1 1085.55,857.88" stroke="#B5B5B5" stroke-width="1.0" fill="none"/>
<path d="M1019.86,863 A126.5,126.5 0 0 1 1076.14,876.54" stroke="#B5B5B5" stroke-width="1.0" fill="none"/>
<path d="M1109.26,820.5 A191.5,191.5 0 0 1 1175.01,878.16 L1170.94,881.07 A186.5,186.5 0 0 0 1106.91,824.91 Z" stroke="none" stroke-width="0.9" fill="#000"/>
<path d="M1106.06,828.2 A183.2,183.2 0 0 1 1167.79,882.34 L1154.4,891.99 A166.7,166.7 0 0 0 1098.24,842.73 Z" stroke="#2a2a2a" stroke-width="0.9" fill="none"/>
<path d="M1096.44,846.07 A162.9,162.9 0 0 1 1151.32,894.21 L1138.26,903.63 A146.8,146.8 0 0 0 1088.8,860.25 Z" stroke="#2a2a2a" stroke-width="0.9" fill="none"/>
<path d="M1086.62,864.3 A142.2,142.2 0 0 1 1134.53,906.32 L1121.31,915.85 A125.9,125.9 0 0 0 1078.89,878.65 Z" stroke="#2a2a2a" stroke-width="0.9" fill="none"/>
<path d="M1098.65,842.27 A167.3,167.3 0 0 1 1154.81,891.52" stroke="#B5B5B5" stroke-width="1.0" fill="none"/>
<path d="M1089.2,859.78 A147.4,147.4 0 0 1 1138.68,903.17" stroke="#B5B5B5" stroke-width="1.0" fill="none"/>
<path d="M1079.28,878.18 A126.5,126.5 0 0 1 1121.73,915.41" stroke="#B5B5B5" stroke-width="1.0" fill="none"/>
<path d="M1176.93,880.9 A191.5,191.5 0 0 1 1205.75,946.24 L1200.88,947.36 A186.5,186.5 0 0 0 1172.81,883.73 Z" stroke="none" stroke-width="0.9" fill="#000"/>
<path d="M1170.54,886.26 A183.2,183.2 0 0 1 1197.48,947.33 L1181.42,951.13 A166.7,166.7 0 0 0 1156.91,895.56 Z" stroke="#2a2a2a" stroke-width="0.9" fill="none"/>
<path d="M1153.77,897.7 A162.9,162.9 0 0 1 1177.73,952 L1162.06,955.71 A146.8,146.8 0 0 0 1140.47,906.77 Z" stroke="#2a2a2a" stroke-width="0.9" fill="none"/>
<path d="M1136.67,909.37 A142.2,142.2 0 0 1 1157.58,956.77 L1141.72,960.52 A125.9,125.9 0 0 0 1123.21,918.55 Z" stroke="#2a2a2a" stroke-width="0.9" fill="none"/>
<path d="M1157.49,895.34 A167.3,167.3 0 0 1 1181.97,950.85" stroke="#B5B5B5" stroke-width="1.0" fill="none"/>
<path d="M1141.04,906.54 A147.4,147.4 0 0 1 1162.61,955.45" stroke="#B5B5B5" stroke-width="1.0" fill="none"/>
<path d="M1123.76,918.3 A126.5,126.5 0 0 1 1142.28,960.28" stroke="#B5B5B5" stroke-width="1.0" fill="none"/>
<path d="M1206.48,949.5 A191.5,191.5 0 0 1 1208.5,1018.43 L1203.56,1017.68 A186.5,186.5 0 0 0 1201.59,950.54 Z" stroke="none" stroke-width="0.9" fill="#000"/>
<path d="M1198.52,952.01 A183.2,183.2 0 0 1 1200.42,1016.39 L1184.09,1013.97 A166.7,166.7 0 0 0 1182.37,955.39 Z" stroke="#2a2a2a" stroke-width="0.9" fill="none"/>
<path d="M1178.65,956.17 A162.9,162.9 0 0 1 1180.34,1013.41 L1164.41,1011.05 A146.8,146.8 0 0 0 1162.89,959.46 Z" stroke="#2a2a2a" stroke-width="0.9" fill="none"/>
<path d="M1158.39,960.4 A142.2,142.2 0 0 1 1159.86,1010.37 L1143.74,1007.98 A125.9,125.9 0 0 0 1142.44,963.74 Z" stroke="#2a2a2a" stroke-width="0.9" fill="none"/>
<path d="M1182.99,955.41 A167.3,167.3 0 0 1 1184.71,1013.91" stroke="#B5B5B5" stroke-width="1.0" fill="none"/>
<path d="M1163.51,959.46 A147.4,147.4 0 0 1 1165.02,1011.01" stroke="#B5B5B5" stroke-width="1.0" fill="none"/>
<path d="M1143.05,963.72 A126.5,126.5 0 0 1 1144.35,1007.96" stroke="#B5B5B5" stroke-width="1.0" fill="none"/>
<path d="M1207.97,1021.73 A191.5,191.5 0 0 1 1186.16,1083.29 L1181.8,1080.85 A186.5,186.5 0 0 0 1203.04,1020.89 Z" stroke="none" stroke-width="0.9" fill="#000"/>
<path d="M1199.65,1021.12 A183.2,183.2 0 0 1 1179.31,1078.53 L1164.89,1070.51 A166.7,166.7 0 0 0 1183.4,1018.27 Z" stroke="#2a2a2a" stroke-width="0.9" fill="none"/>
<path d="M1179.65,1017.62 A162.9,162.9 0 0 1 1161.57,1068.67 L1147.5,1060.84 A146.8,146.8 0 0 0 1163.8,1014.84 Z" stroke="#2a2a2a" stroke-width="0.9" fill="none"/>
<path d="M1159.27,1014.05 A142.2,142.2 0 0 1 1143.48,1058.61 L1129.23,1050.68 A125.9,125.9 0 0 0 1143.21,1011.23 Z" stroke="#2a2a2a" stroke-width="0.9" fill="none"/>
<path d="M1183.96,1018.52 A167.3,167.3 0 0 1 1165.49,1070.68" stroke="#B5B5B5" stroke-width="1.0" fill="none"/>
<path d="M1164.37,1015.07 A147.4,147.4 0 0 1 1148.09,1061.02" stroke="#B5B5B5" stroke-width="1.0" fill="none"/>
<path d="M1143.78,1011.44 A126.5,126.5 0 0 1 1129.81,1050.88" stroke="#B5B5B5" stroke-width="1.0" fill="none"/>
<path d="M1184.5,1086.19 A191.5,191.5 0 0 1 1145.09,1133.81 L1141.8,1130.04 A186.5,186.5 0 0 0 1180.18,1083.67 Z" stroke="none" stroke-width="0.9" fill="#000"/>
<path d="M1176.93,1082.69 A183.2,183.2 0 0 1 1140.23,1127.03 L1129.33,1114.64 A166.7,166.7 0 0 0 1162.72,1074.3 Z" stroke="#2a2a2a" stroke-width="0.9" fill="none"/>
<path d="M1159.45,1072.37 A162.9,162.9 0 0 1 1126.82,1111.79 L1116.18,1099.7 A146.8,146.8 0 0 0 1145.59,1064.18 Z" stroke="#2a2a2a" stroke-width="0.9" fill="none"/>
<path d="M1141.63,1061.84 A142.2,142.2 0 0 1 1113.15,1096.25 L1102.38,1084.01 A125.9,125.9 0 0 0 1127.59,1053.54 Z" stroke="#2a2a2a" stroke-width="0.9" fill="none"/>
<path d="M1163.16,1074.73 A167.3,167.3 0 0 1 1129.84,1114.99" stroke="#B5B5B5" stroke-width="1.0" fill="none"/>
<path d="M1146.04,1064.59 A147.4,147.4 0 0 1 1116.68,1100.07" stroke="#B5B5B5" stroke-width="1.0" fill="none"/>
<path d="M1128.05,1053.94 A126.5,126.5 0 0 1 1102.86,1084.39" stroke="#B5B5B5" stroke-width="1.0" fill="none"/>
<path d="M1142.55,1135.98 A191.5,191.5 0 0 1 1093.49,1166 L1091.55,1161.39 A186.5,186.5 0 0 0 1139.33,1132.16 Z" stroke="none" stroke-width="0.9" fill="#000"/>
<path d="M1136.59,1130.15 A183.2,183.2 0 0 1 1091.01,1158.04 L1084.54,1142.86 A166.7,166.7 0 0 0 1126.02,1117.48 Z" stroke="#2a2a2a" stroke-width="0.9" fill="none"/>
<path d="M1123.58,1114.56 A162.9,162.9 0 0 1 1083.05,1139.36 L1076.74,1124.55 A146.8,146.8 0 0 0 1113.27,1102.2 Z" stroke="#2a2a2a" stroke-width="0.9" fill="none"/>
<path d="M1110.32,1098.67 A142.2,142.2 0 0 1 1074.94,1120.32 L1068.55,1105.33 A125.9,125.9 0 0 0 1099.87,1086.16 Z" stroke="#2a2a2a" stroke-width="0.9" fill="none"/>
<path d="M1126.29,1118.03 A167.3,167.3 0 0 1 1084.91,1143.35" stroke="#B5B5B5" stroke-width="1.0" fill="none"/>
<path d="M1113.55,1102.74 A147.4,147.4 0 0 1 1077.1,1125.05" stroke="#B5B5B5" stroke-width="1.0" fill="none"/>
<path d="M1100.17,1086.69 A126.5,126.5 0 0 1 1068.89,1105.83" stroke="#B5B5B5" stroke-width="1.0" fill="none"/>
<path d="M1090.4,1167.27 A191.5,191.5 0 0 1 1039.02,1179.97 L1038.51,1175 A186.5,186.5 0 0 0 1088.54,1162.63 Z" stroke="none" stroke-width="0.9" fill="#000"/>
<path d="M1086.57,1159.86 A183.2,183.2 0 0 1 1038.96,1171.63 L1037.18,1155.23 A166.7,166.7 0 0 0 1080.5,1144.52 Z" stroke="#2a2a2a" stroke-width="0.9" fill="none"/>
<path d="M1079.11,1140.98 A162.9,162.9 0 0 1 1036.77,1151.45 L1035.03,1135.44 A146.8,146.8 0 0 0 1073.19,1126.01 Z" stroke="#2a2a2a" stroke-width="0.9" fill="none"/>
<path d="M1071.49,1121.73 A142.2,142.2 0 0 1 1034.54,1130.87 L1032.78,1114.67 A125.9,125.9 0 0 0 1065.5,1106.58 Z" stroke="#2a2a2a" stroke-width="0.9" fill="none"/>
<path d="M1080.59,1145.13 A167.3,167.3 0 0 1 1037.39,1155.81" stroke="#B5B5B5" stroke-width="1.0" fill="none"/>
<path d="M1073.29,1126.62 A147.4,147.4 0 0 1 1035.23,1136.03" stroke="#B5B5B5" stroke-width="1.0" fill="none"/>
<path d="M1065.62,1107.18 A126.5,126.5 0 0 1 1032.95,1115.25" stroke="#B5B5B5" stroke-width="1.0" fill="none"/>
<path d="M1035.7,1180.29 A191.5,191.5 0 0 1 984.68,1177.86 L985.58,1172.94 A186.5,186.5 0 0 0 1035.27,1175.31 Z" stroke="none" stroke-width="0.9" fill="#000"/>
<path d="M1034.18,1172.09 A183.2,183.2 0 0 1 986.96,1169.84 L989.87,1153.6 A166.7,166.7 0 0 0 1032.83,1155.64 Z" stroke="#2a2a2a" stroke-width="0.9" fill="none"/>
<path d="M1032.52,1151.85 A162.9,162.9 0 0 1 990.53,1149.86 L993.37,1134.01 A146.8,146.8 0 0 0 1031.21,1135.81 Z" stroke="#2a2a2a" stroke-width="0.9" fill="none"/>
<path d="M1030.83,1131.22 A142.2,142.2 0 0 1 994.18,1129.48 L997.05,1113.44 A125.9,125.9 0 0 0 1029.5,1114.98 Z" stroke="#2a2a2a" stroke-width="0.9" fill="none"/>
<path d="M1032.74,1156.25 A167.3,167.3 0 0 1 989.9,1154.21" stroke="#B5B5B5" stroke-width="1.0" fill="none"/>
<path d="M1031.13,1136.42 A147.4,147.4 0 0 1 993.39,1134.62" stroke="#B5B5B5" stroke-width="1.0" fill="none"/>
<path d="M1029.44,1115.59 A126.5,126.5 0 0 1 997.05,1114.05" stroke="#B5B5B5" stroke-width="1.0" fill="none"/>
<path d="M981.4,1177.23 A191.5,191.5 0 0 1 934.97,1161.48 L937.16,1156.99 A186.5,186.5 0 0 0 982.38,1172.33 Z" stroke="none" stroke-width="0.9" fill="#000"/>
<path d="M982.25,1168.94 A183.2,183.2 0 0 1 939.33,1154.38 L946.53,1139.53 A166.7,166.7 0 0 0 985.58,1152.77 Z" stroke="#2a2a2a" stroke-width="0.9" fill="none"/>
<path d="M986.35,1149.05 A162.9,162.9 0 0 1 948.18,1136.11 L955.2,1121.62 A146.8,146.8 0 0 0 989.59,1133.28 Z" stroke="#2a2a2a" stroke-width="0.9" fill="none"/>
<path d="M990.52,1128.78 A142.2,142.2 0 0 1 957.21,1117.48 L964.31,1102.81 A125.9,125.9 0 0 0 993.81,1112.81 Z" stroke="#2a2a2a" stroke-width="0.9" fill="none"/>
<path d="M985.32,1153.33 A167.3,167.3 0 0 1 946.4,1140.13" stroke="#B5B5B5" stroke-width="1.0" fill="none"/>
<path d="M989.35,1133.85 A147.4,147.4 0 0 1 955.06,1122.21" stroke="#B5B5B5" stroke-width="1.0" fill="none"/>
<path d="M993.58,1113.38 A126.5,126.5 0 0 1 964.15,1103.39" stroke="#B5B5B5" stroke-width="1.0" fill="none"/>
<path d="M931.98,1159.98 A191.5,191.5 0 0 1 891.69,1132.37 L895.01,1128.64 A186.5,186.5 0 0 0 934.25,1155.53 Z" stroke="none" stroke-width="0.9" fill="#000"/>
<path d="M935.05,1152.23 A183.2,183.2 0 0 1 897.81,1126.71 L908.74,1114.35 A166.7,166.7 0 0 0 942.63,1137.57 Z" stroke="#2a2a2a" stroke-width="0.9" fill="none"/>
<path d="M944.37,1134.2 A162.9,162.9 0 0 1 911.26,1111.51 L921.93,1099.45 A146.8,146.8 0 0 0 951.77,1119.9 Z" stroke="#2a2a2a" stroke-width="0.9" fill="none"/>
<path d="M953.88,1115.81 A142.2,142.2 0 0 1 924.98,1096 L935.78,1083.79 A125.9,125.9 0 0 0 961.37,1101.33 Z" stroke="#2a2a2a" stroke-width="0.9" fill="none"/>
<path d="M942.22,1138.04 A167.3,167.3 0 0 1 908.45,1114.9" stroke="#B5B5B5" stroke-width="1.0" fill="none"/>
<path d="M951.38,1120.37 A147.4,147.4 0 0 1 921.63,1099.98" stroke="#B5B5B5" stroke-width="1.0" fill="none"/>
<path d="M960.99,1101.81 A126.5,126.5 0 0 1 935.46,1084.32" stroke="#B5B5B5" stroke-width="1.0" fill="none"/>
<path d="M889.21,1130.12 A191.5,191.5 0 0 1 858.09,1093.02 L862.3,1090.32 A186.5,186.5 0 0 0 892.61,1126.45 Z" stroke="none" stroke-width="0.9" fill="#000"/>
<path d="M894.26,1123.49 A183.2,183.2 0 0 1 865.51,1089.21 L879.35,1080.23 A166.7,166.7 0 0 0 905.51,1111.42 Z" stroke="#2a2a2a" stroke-width="0.9" fill="none"/>
<path d="M908.1,1108.64 A162.9,162.9 0 0 1 882.54,1078.16 L896.05,1069.39 A146.8,146.8 0 0 0 919.08,1096.86 Z" stroke="#2a2a2a" stroke-width="0.9" fill="none"/>
<path d="M922.22,1093.5 A142.2,142.2 0 0 1 899.9,1066.89 L913.58,1058.02 A125.9,125.9 0 0 0 933.34,1081.58 Z" stroke="#2a2a2a" stroke-width="0.9" fill="none"/>
<path d="M905,1111.76 A167.3,167.3 0 0 1 878.93,1080.67" stroke="#B5B5B5" stroke-width="1.0" fill="none"/>
<path d="M918.58,1097.22 A147.4,147.4 0 0 1 895.61,1069.83" stroke="#B5B5B5" stroke-width="1.0" fill="none"/>
<path d="M932.85,1081.94 A126.5,126.5 0 0 1 913.14,1058.44" stroke="#B5B5B5" stroke-width="1.0" fill="none"/>
<path d="M856.31,1090.19 A191.5,191.5 0 0 1 838.38,1052.55 L843.1,1050.9 A186.5,186.5 0 0 0 860.56,1087.56 Z" stroke="none" stroke-width="0.9" fill="#000"/>
<path d="M862.95,1085.15 A183.2,183.2 0 0 1 846.48,1050.57 L862.03,1045.07 A166.7,166.7 0 0 0 877.02,1076.53 Z" stroke="#2a2a2a" stroke-width="0.9" fill="none"/>
<path d="M880.26,1074.55 A162.9,162.9 0 0 1 865.62,1043.8 L880.8,1038.44 A146.8,146.8 0 0 0 894,1066.14 Z" stroke="#2a2a2a" stroke-width="0.9" fill="none"/>
<path d="M897.92,1063.74 A142.2,142.2 0 0 1 885.13,1036.9 L900.5,1031.47 A125.9,125.9 0 0 0 911.82,1055.23 Z" stroke="#2a2a2a" stroke-width="0.9" fill="none"/>
<path d="M876.44,1076.72 A167.3,167.3 0 0 1 861.52,1045.41" stroke="#B5B5B5" stroke-width="1.0" fill="none"/>
<path d="M893.42,1066.35 A147.4,147.4 0 0 1 880.27,1038.76" stroke="#B5B5B5" stroke-width="1.0" fill="none"/>
<path d="M911.25,1055.45 A126.5,126.5 0 0 1 899.97,1031.77" stroke="#B5B5B5" stroke-width="1.0" fill="none"/>
<path d="M837.3,1049.38 A191.5,191.5 0 0 1 828.96,1011.41 L833.93,1010.84 A186.5,186.5 0 0 0 842.05,1047.82 Z" stroke="none" stroke-width="0.9" fill="#000"/>
<path d="M844.94,1046.03 A183.2,183.2 0 0 1 837.3,1011.26 L853.68,1009.3 A166.7,166.7 0 0 0 860.63,1040.94 Z" stroke="#2a2a2a" stroke-width="0.9" fill="none"/>
<path d="M864.25,1039.76 A162.9,162.9 0 0 1 857.45,1008.85 L873.44,1006.93 A146.8,146.8 0 0 0 879.56,1034.8 Z" stroke="#2a2a2a" stroke-width="0.9" fill="none"/>
<path d="M883.94,1033.38 A142.2,142.2 0 0 1 878.01,1006.39 L894.19,1004.45 A125.9,125.9 0 0 0 899.44,1028.35 Z" stroke="#2a2a2a" stroke-width="0.9" fill="none"/>
<path d="M860.02,1040.98 A167.3,167.3 0 0 1 853.1,1009.51" stroke="#B5B5B5" stroke-width="1.0" fill="none"/>
<path d="M878.95,1034.86 A147.4,147.4 0 0 1 872.86,1007.13" stroke="#B5B5B5" stroke-width="1.0" fill="none"/>
<path d="M898.84,1028.43 A126.5,126.5 0 0 1 893.61,1004.63" stroke="#B5B5B5" stroke-width="1.0" fill="none"/>
<path d="M828.6,1008.09 A191.5,191.5 0 0 1 828.6,970.95 L833.58,971.44 A186.5,186.5 0 0 0 833.58,1007.6 Z" stroke="none" stroke-width="0.9" fill="#000"/>
<path d="M836.79,1006.49 A183.2,183.2 0 0 1 836.79,972.55 L853.21,974.08 A166.7,166.7 0 0 0 853.22,1004.96 Z" stroke="#2a2a2a" stroke-width="0.9" fill="none"/>
<path d="M857,1004.61 A162.9,162.9 0 0 1 857,974.43 L873.03,975.92 A146.8,146.8 0 0 0 873.03,1003.11 Z" stroke="#2a2a2a" stroke-width="0.9" fill="none"/>
<path d="M877.61,1002.69 A142.2,142.2 0 0 1 877.61,976.35 L893.84,977.85 A125.9,125.9 0 0 0 893.84,1001.18 Z" stroke="#2a2a2a" stroke-width="0.9" fill="none"/>
<path d="M852.61,1004.87 A167.3,167.3 0 0 1 852.6,974.17" stroke="#B5B5B5" stroke-width="1.0" fill="none"/>
<path d="M872.42,1003.04 A147.4,147.4 0 0 1 872.42,975.99" stroke="#B5B5B5" stroke-width="1.0" fill="none"/>
<path d="M893.23,1001.12 A126.5,126.5 0 0 1 893.23,977.91" stroke="#B5B5B5" stroke-width="1.0" fill="none"/>
<path d="M828.95,967.63 A191.5,191.5 0 0 1 835.46,935.55 L840.26,936.96 A186.5,186.5 0 0 0 833.92,968.2 Z" stroke="none" stroke-width="0.9" fill="#000"/>
<path d="M837.29,967.78 A183.2,183.2 0 0 1 843.2,938.65 L859.05,943.23 A166.7,166.7 0 0 0 853.68,969.74 Z" stroke="#2a2a2a" stroke-width="0.9" fill="none"/>
<path d="M857.45,970.19 A162.9,162.9 0 0 1 862.7,944.29 L878.17,948.76 A146.8,146.8 0 0 0 873.43,972.1 Z" stroke="#2a2a2a" stroke-width="0.9" fill="none"/>
<path d="M878,972.64 A142.2,142.2 0 0 1 882.59,950.03 L898.25,954.56 A125.9,125.9 0 0 0 894.19,974.58 Z" stroke="#2a2a2a" stroke-width="0.9" fill="none"/>
<path d="M853.1,969.52 A167.3,167.3 0 0 1 858.43,943.21" stroke="#B5B5B5" stroke-width="1.0" fill="none"/>
<path d="M872.85,971.9 A147.4,147.4 0 0 1 877.56,948.71" stroke="#B5B5B5" stroke-width="1.0" fill="none"/>
<path d="M893.6,974.4 A126.5,126.5 0 0 1 897.64,954.5" stroke="#B5B5B5" stroke-width="1.0" fill="none"/>
<path d="M836.43,932.35 A191.5,191.5 0 0 1 847.34,905.02 L851.83,907.22 A186.5,186.5 0 0 0 841.2,933.84 Z" stroke="none" stroke-width="0.9" fill="#000"/>
<path d="M844.59,934.06 A183.2,183.2 0 0 1 854.44,909.4 L869.28,916.61 A166.7,166.7 0 0 0 860.32,939.06 Z" stroke="#2a2a2a" stroke-width="0.9" fill="none"/>
<path d="M863.94,940.21 A162.9,162.9 0 0 1 872.7,918.27 L887.18,925.31 A146.8,146.8 0 0 0 879.28,945.08 Z" stroke="#2a2a2a" stroke-width="0.9" fill="none"/>
<path d="M883.67,946.47 A142.2,142.2 0 0 1 891.31,927.33 L905.97,934.45 A125.9,125.9 0 0 0 899.2,951.4 Z" stroke="#2a2a2a" stroke-width="0.9" fill="none"/>
<path d="M859.79,938.74 A167.3,167.3 0 0 1 868.68,916.48" stroke="#B5B5B5" stroke-width="1.0" fill="none"/>
<path d="M878.75,944.77 A147.4,147.4 0 0 1 886.58,925.17" stroke="#B5B5B5" stroke-width="1.0" fill="none"/>
<path d="M898.66,951.12 A126.5,126.5 0 0 1 905.38,934.29" stroke="#B5B5B5" stroke-width="1.0" fill="none"/>
<path d="M848.84,902.03 A191.5,191.5 0 0 1 863.59,877.88 L867.66,880.8 A186.5,186.5 0 0 0 853.29,904.32 Z" stroke="none" stroke-width="0.9" fill="#000"/>
<path d="M856.59,905.11 A183.2,183.2 0 0 1 869.87,883.37 L883.32,892.93 A166.7,166.7 0 0 0 871.24,912.71 Z" stroke="#2a2a2a" stroke-width="0.9" fill="none"/>
<path d="M874.61,914.46 A162.9,162.9 0 0 1 886.42,895.13 L899.54,904.46 A146.8,146.8 0 0 0 888.9,921.88 Z" stroke="#2a2a2a" stroke-width="0.9" fill="none"/>
<path d="M892.98,924 A142.2,142.2 0 0 1 903.29,907.12 L916.58,916.56 A125.9,125.9 0 0 0 907.45,931.51 Z" stroke="#2a2a2a" stroke-width="0.9" fill="none"/>
<path d="M870.77,912.31 A167.3,167.3 0 0 1 882.75,892.7" stroke="#B5B5B5" stroke-width="1.0" fill="none"/>
<path d="M888.43,921.49 A147.4,147.4 0 0 1 898.98,904.21" stroke="#B5B5B5" stroke-width="1.0" fill="none"/>
<path d="M906.97,931.13 A126.5,126.5 0 0 1 916.03,916.31" stroke="#B5B5B5" stroke-width="1.0" fill="none"/>
<path d="M865.56,875.18 A191.5,191.5 0 0 1 879.31,858.73 L882.96,862.14 A186.5,186.5 0 0 0 869.58,878.17 Z" stroke="none" stroke-width="0.9" fill="#000"/>
<path d="M872.7,879.5 A183.2,183.2 0 0 1 884.82,864.98 L896.93,876.19 A166.7,166.7 0 0 0 885.9,889.4 Z" stroke="#2a2a2a" stroke-width="0.9" fill="none"/>
<path d="M888.94,891.69 A162.9,162.9 0 0 1 899.71,878.78 L911.52,889.72 A146.8,146.8 0 0 0 901.81,901.35 Z" stroke="#2a2a2a" stroke-width="0.9" fill="none"/>
<path d="M905.49,904.12 A142.2,142.2 0 0 1 914.9,892.85 L926.85,903.93 A125.9,125.9 0 0 0 918.52,913.9 Z" stroke="#2a2a2a" stroke-width="0.9" fill="none"/>
<path d="M885.5,888.93 A167.3,167.3 0 0 1 896.39,875.89" stroke="#B5B5B5" stroke-width="1.0" fill="none"/>
<path d="M901.41,900.89 A147.4,147.4 0 0 1 911,889.41" stroke="#B5B5B5" stroke-width="1.0" fill="none"/>
<path d="M918.11,913.45 A126.5,126.5 0 0 1 926.34,903.6" stroke="#B5B5B5" stroke-width="1.0" fill="none"/>
<path d="M881.61,856.3 A191.5,191.5 0 0 1 898.45,840.86 L901.61,844.74 A186.5,186.5 0 0 0 885.2,859.78 Z" stroke="none" stroke-width="0.9" fill="#000"/>
<path d="M888.13,861.5 A183.2,183.2 0 0 1 903.07,847.81 L913.53,860.57 A166.7,166.7 0 0 0 899.93,873.03 Z" stroke="#2a2a2a" stroke-width="0.9" fill="none"/>
<path d="M902.65,875.69 A162.9,162.9 0 0 1 915.94,863.51 L926.14,875.96 A146.8,146.8 0 0 0 914.17,886.94 Z" stroke="#2a2a2a" stroke-width="0.9" fill="none"/>
<path d="M917.46,890.15 A142.2,142.2 0 0 1 929.06,879.52 L939.39,892.13 A125.9,125.9 0 0 0 929.13,901.54 Z" stroke="#2a2a2a" stroke-width="0.9" fill="none"/>
<path d="M899.61,872.51 A167.3,167.3 0 0 1 913.03,860.2" stroke="#B5B5B5" stroke-width="1.0" fill="none"/>
<path d="M913.83,886.42 A147.4,147.4 0 0 1 925.66,875.58" stroke="#B5B5B5" stroke-width="1.0" fill="none"/>
<path d="M928.77,901.04 A126.5,126.5 0 0 1 938.93,891.73" stroke="#B5B5B5" stroke-width="1.0" fill="none"/>
<path d="M901.07,838.78 A191.5,191.5 0 0 1 915.28,828.65 L917.99,832.85 A186.5,186.5 0 0 0 904.15,842.71 Z" stroke="none" stroke-width="0.9" fill="#000"/>
<path d="M906.82,844.82 A183.2,183.2 0 0 1 919.11,836.06 L928.13,849.88 A166.7,166.7 0 0 0 916.94,857.85 Z" stroke="#2a2a2a" stroke-width="0.9" fill="none"/>
<path d="M919.27,860.85 A162.9,162.9 0 0 1 930.2,853.06 L939,866.54 A146.8,146.8 0 0 0 929.15,873.57 Z" stroke="#2a2a2a" stroke-width="0.9" fill="none"/>
<path d="M931.97,877.2 A142.2,142.2 0 0 1 941.51,870.4 L950.42,884.05 A125.9,125.9 0 0 0 941.97,890.07 Z" stroke="#2a2a2a" stroke-width="0.9" fill="none"/>
<path d="M916.69,857.29 A167.3,167.3 0 0 1 927.68,849.45" stroke="#B5B5B5" stroke-width="1.0" fill="none"/>
<path d="M928.88,873.01 A147.4,147.4 0 0 1 938.57,866.11" stroke="#B5B5B5" stroke-width="1.0" fill="none"/>
<path d="M941.69,889.53 A126.5,126.5 0 0 1 950,883.61" stroke="#B5B5B5" stroke-width="1.0" fill="none"/>
<path d="M918.1,826.86 A191.5,191.5 0 0 1 934.36,817.82 L936.58,822.3 A186.5,186.5 0 0 0 920.74,831.11 Z" stroke="none" stroke-width="0.9" fill="#000"/>
<path d="M923.17,833.49 A183.2,183.2 0 0 1 937.32,825.61 L944.7,840.38 A166.7,166.7 0 0 0 931.81,847.54 Z" stroke="#2a2a2a" stroke-width="0.9" fill="none"/>
<path d="M933.81,850.78 A162.9,162.9 0 0 1 946.4,843.77 L953.59,858.18 A146.8,146.8 0 0 0 942.25,864.49 Z" stroke="#2a2a2a" stroke-width="0.9" fill="none"/>
<path d="M944.66,868.4 A142.2,142.2 0 0 1 955.65,862.29 L962.93,876.87 A125.9,125.9 0 0 0 953.2,882.28 Z" stroke="#2a2a2a" stroke-width="0.9" fill="none"/>
<path d="M931.62,846.95 A167.3,167.3 0 0 1 944.3,839.9" stroke="#B5B5B5" stroke-width="1.0" fill="none"/>
<path d="M942.04,863.91 A147.4,147.4 0 0 1 953.21,857.7" stroke="#B5B5B5" stroke-width="1.0" fill="none"/>
<path d="M952.98,881.72 A126.5,126.5 0 0 1 962.56,876.39" stroke="#B5B5B5" stroke-width="1.0" fill="none"/>
<path d="M937.37,816.36 A191.5,191.5 0 0 1 991.08,800.08 L991.81,805.02 A186.5,186.5 0 0 0 939.51,820.88 Z" stroke="none" stroke-width="0.9" fill="#000"/>
<path d="M941.64,823.53 A183.2,183.2 0 0 1 991.51,808.4 L994,824.72 A166.7,166.7 0 0 0 948.63,838.48 Z" stroke="#2a2a2a" stroke-width="0.9" fill="none"/>
<path d="M950.24,841.92 A162.9,162.9 0 0 1 994.58,828.47 L997.01,844.39 A146.8,146.8 0 0 0 957.05,856.5 Z" stroke="#2a2a2a" stroke-width="0.9" fill="none"/>
<path d="M959,860.67 A142.2,142.2 0 0 1 997.71,848.93 L1000.17,865.05 A125.9,125.9 0 0 0 965.9,875.44 Z" stroke="#2a2a2a" stroke-width="0.9" fill="none"/>
<path d="M948.5,837.87 A167.3,167.3 0 0 1 993.77,824.14" stroke="#B5B5B5" stroke-width="1.0" fill="none"/>
<path d="M956.91,855.91 A147.4,147.4 0 0 1 996.79,843.81" stroke="#B5B5B5" stroke-width="1.0" fill="none"/>
<path d="M965.75,874.85 A126.5,126.5 0 0 1 999.97,864.47" stroke="#B5B5B5" stroke-width="1.0" fill="none"/>
<path d="M994.39,799.61 A191.5,191.5 0 0 1 1015.86,798.03 L1015.95,803.03 A186.5,186.5 0 0 0 995.04,804.57 Z" stroke="none" stroke-width="0.9" fill="#000"/>
<path d="M996.26,807.74 A183.2,183.2 0 0 1 1015.2,806.34 L1015.56,822.84 A166.7,166.7 0 0 0 998.32,824.11 Z" stroke="#2a2a2a" stroke-width="0.9" fill="none"/>
<path d="M998.8,827.88 A162.9,162.9 0 0 1 1015.65,826.64 L1016,842.73 A146.8,146.8 0 0 0 1000.82,843.86 Z" stroke="#2a2a2a" stroke-width="0.9" fill="none"/>
<path d="M1001.39,848.42 A142.2,142.2 0 0 1 1016.1,847.33 L1016.45,863.63 A125.9,125.9 0 0 0 1003.43,864.59 Z" stroke="#2a2a2a" stroke-width="0.9" fill="none"/>
<path d="M998.39,823.5 A167.3,167.3 0 0 1 1015.4,822.24" stroke="#B5B5B5" stroke-width="1.0" fill="none"/>
<path d="M1000.87,843.24 A147.4,147.4 0 0 1 1015.86,842.14" stroke="#B5B5B5" stroke-width="1.0" fill="none"/>
<path d="M1003.47,863.98 A126.5,126.5 0 0 1 1016.33,863.03" stroke="#B5B5B5" stroke-width="1.0" fill="none"/>
<text x="1067.27" y="789.7" font-size="20.5" text-anchor="middle" transform="rotate(13.53 1067.27 789.7)" dominant-baseline="central">1</text>
<text x="1154.7" y="835" font-size="20.5" text-anchor="middle" transform="rotate(41.25 1154.7 835)" dominant-baseline="central">2</text>
<text x="1207.22" y="906.56" font-size="20.5" text-anchor="middle" transform="rotate(66.2 1207.22 906.56)" dominant-baseline="central">3</text>
<text x="1224.61" y="983.46" font-size="20.5" text-anchor="middle" transform="rotate(88.32 1224.61 983.46)" dominant-baseline="central">4</text>
<text x="1212.9" y="1058.13" font-size="20.5" text-anchor="middle" transform="rotate(-70.49 1212.9 1058.13)" dominant-baseline="central">5</text>
<text x="1177.51" y="1120.53" font-size="20.5" text-anchor="middle" transform="rotate(-50.39 1177.51 1120.53)" dominant-baseline="central">6</text>
<text x="1126.46" y="1164.79" font-size="20.5" text-anchor="middle" transform="rotate(-31.46 1126.46 1164.79)" dominant-baseline="central">7</text>
<text x="1068.51" y="1189" font-size="20.5" text-anchor="middle" transform="rotate(-13.88 1068.51 1189)" dominant-baseline="central">8</text>
<text x="1009.44" y="1194.77" font-size="20.5" text-anchor="middle" transform="rotate(2.72 1009.44 1194.77)" dominant-baseline="central">9</text>
<text x="953.18" y="1184.11" font-size="20.5" text-anchor="middle" transform="rotate(18.74 953.18 1184.11)" dominant-baseline="central">10</text>
<text x="903.03" y="1159.02" font-size="20.5" text-anchor="middle" transform="rotate(34.42 903.03 1159.02)" dominant-baseline="central">11</text>
<text x="861.75" y="1121.56" font-size="20.5" text-anchor="middle" transform="rotate(50.01 861.75 1121.56)" dominant-baseline="central">12</text>
<text x="833.68" y="1077.88" font-size="20.5" text-anchor="middle" transform="rotate(64.53 833.68 1077.88)" dominant-baseline="central">13</text>
<text x="818.49" y="1033.62" font-size="20.5" text-anchor="middle" transform="rotate(77.6 818.49 1033.62)" dominant-baseline="central">14</text>
<text x="813.7" y="989.52" font-size="20.5" text-anchor="middle" transform="rotate(89.99 813.7 989.52)" dominant-baseline="central">15</text>
<text x="817.8" y="948.67" font-size="20.5" text-anchor="middle" transform="rotate(281.46 817.8 948.67)" dominant-baseline="central">16</text>
<text x="828.36" y="913.28" font-size="20.5" text-anchor="middle" transform="rotate(291.77 828.36 913.28)" dominant-baseline="central">17</text>
<text x="843.82" y="882.39" font-size="20.5" text-anchor="middle" transform="rotate(301.41 843.82 882.39)" dominant-baseline="central">18</text>
<text x="861.46" y="857.79" font-size="20.5" text-anchor="middle" transform="rotate(309.86 861.46 857.79)" dominant-baseline="central">19</text>
<text x="880.34" y="838.01" font-size="20.5" text-anchor="middle" transform="rotate(317.49 880.34 838.01)" dominant-baseline="central">20</text>
<text x="899.93" y="822.15" font-size="20.5" text-anchor="middle" transform="rotate(324.52 899.93 822.15)" dominant-baseline="central">21</text>
<text x="919.32" y="809.91" font-size="20.5" text-anchor="middle" transform="rotate(330.92 919.32 809.91)" dominant-baseline="central">22</text>
<text x="959.56" y="792.84" font-size="20.5" text-anchor="middle" transform="rotate(343.13 959.56 792.84)" dominant-baseline="central">X</text>
<text x="1004.07" y="784.56" font-size="20.5" text-anchor="middle" transform="rotate(355.78 1004.07 784.56)" dominant-baseline="central">Y</text>
<circle cx="995.3" cy="824" r="1.5" fill="#FF0000"/>
<circle cx="990.9" cy="825.2" r="1.5" fill="#FF0000"/>
<circle cx="962.4" cy="832.5" r="1.5" fill="#FF0000"/>
<circle cx="948.2" cy="838.4" r="1.5" fill="#FF0000"/>
<circle cx="935.4" cy="831.3" r="1.5" fill="#FF0000"/>
<circle cx="936.9" cy="844.1" r="1.5" fill="#FF0000"/>
<circle cx="939.6" cy="842.5" r="1.5" fill="#FF0000"/>
<circle cx="918" cy="856.4" r="1.5" fill="#FF0000"/>
<circle cx="919.9" cy="855.8" r="1.5" fill="#FF0000"/>
<circle cx="900.4" cy="865.8" r="1.5" fill="#FF0000"/>
<circle cx="907.6" cy="865.5" r="1.5" fill="#FF0000"/>
<circle cx="893.9" cy="879.3" r="1.5" fill="#FF0000"/>
<circle cx="882.8" cy="891.9" r="1.5" fill="#FF0000"/>
<circle cx="867.8" cy="917.6" r="1.5" fill="#FF0000"/>
<circle cx="860.8" cy="934" r="1.5" fill="#FF0000"/>
<circle cx="853.9" cy="943.4" r="1.5" fill="#FF0000"/>
<circle cx="1020.7" cy="822.7" r="1.5" fill="#FF0000"/>
<circle cx="852" cy="976.7" r="1.5" fill="#FF0000"/>
<circle cx="851.4" cy="982.3" r="1.5" fill="#FF0000"/>
<circle cx="1083.5" cy="831.3" r="1.5" fill="#FF0000"/>
<circle cx="1152.6" cy="888.1" r="1.5" fill="#FF0000"/>
<circle cx="1155.8" cy="892.2" r="1.5" fill="#FF0000"/>
<circle cx="1159.6" cy="898.1" r="1.5" fill="#FF0000"/>
<circle cx="1164" cy="904.4" r="1.5" fill="#FF0000"/>
<circle cx="1167.7" cy="911.7" r="1.5" fill="#FF0000"/>
<circle cx="1182.4" cy="951.5" r="1.5" fill="#FF0000"/>
<circle cx="1183.4" cy="957.2" r="1.5" fill="#FF0000"/>
<circle cx="851.4" cy="982.5" r="1.5" fill="#FF0000"/>
<circle cx="835.7" cy="1001.4" r="1.5" fill="#FF0000"/>
<circle cx="852.4" cy="1010.5" r="1.5" fill="#FF0000"/>
<circle cx="853.3" cy="1016.7" r="1.5" fill="#FF0000"/>
<circle cx="851.4" cy="1029" r="1.5" fill="#FF0000"/>
<circle cx="882.8" cy="1087.5" r="1.5" fill="#FF0000"/>
<circle cx="896.4" cy="1104.4" r="1.5" fill="#FF0000"/>
<circle cx="943.8" cy="1139" r="1.5" fill="#FF0000"/>
<circle cx="941.3" cy="1152.2" r="1.5" fill="#FF0000"/>
<circle cx="983.4" cy="1153.4" r="1.5" fill="#FF0000"/>
<circle cx="989.7" cy="1154" r="1.5" fill="#FF0000"/>
<circle cx="1185.3" cy="1018.3" r="1.5" fill="#FF0000"/>
<circle cx="1166.5" cy="1069.5" r="1.5" fill="#FF0000"/>
<circle cx="1126.9" cy="1118.2" r="1.5" fill="#FF0000"/>
<circle cx="1132.5" cy="1118.9" r="1.5" fill="#FF0000"/>
<circle cx="1128.8" cy="1122" r="1.5" fill="#FF0000"/>
<circle cx="1065.3" cy="1150.3" r="1.5" fill="#FF0000"/>
<circle cx="1064.7" cy="1154.7" r="1.5" fill="#FF0000"/>
<circle cx="1032.6" cy="1156.6" r="1.5" fill="#FF0000"/>
<circle cx="1091.7" cy="1149" r="1.5" fill="#FF0000"/>
<circle cx="1093.6" cy="1153.4" r="1.5" fill="#FF0000"/>
<circle cx="1186" cy="975" r="1.5" fill="#FF0000"/>
<circle cx="1188" cy="985" r="1.5" fill="#FF0000"/>
<path d="M1090.52,838.15 A167.31,167.31 0 0 1 1095.38,840.54" stroke="#FF0000" stroke-width="3.2" fill="none" stroke-linecap="round"/>
<circle cx="980.9" cy="848.5" r="1.6" fill="#0000FF"/>
<circle cx="982.76" cy="847.84" r="1.6" fill="#0000FF"/>
<circle cx="984.63" cy="847.2" r="1.6" fill="#0000FF"/>
<circle cx="986.51" cy="846.59" r="1.6" fill="#0000FF"/>
<circle cx="988.4" cy="846" r="1.6" fill="#0000FF"/>
<circle cx="957" cy="855.4" r="1.6" fill="#0000FF"/>
<circle cx="959.5" cy="854.92" r="1.6" fill="#0000FF"/>
<circle cx="962" cy="854.49" r="1.6" fill="#0000FF"/>
<circle cx="964.5" cy="854.1" r="1.6" fill="#0000FF"/>
<circle cx="944.4" cy="862.9" r="1.6" fill="#0000FF"/>
<circle cx="946.91" cy="861.62" r="1.6" fill="#0000FF"/>
<circle cx="949.45" cy="860.38" r="1.6" fill="#0000FF"/>
<circle cx="952" cy="859.2" r="1.6" fill="#0000FF"/>
<circle cx="929.3" cy="869.9" r="1.6" fill="#0000FF"/>
<circle cx="931.67" cy="869.03" r="1.6" fill="#0000FF"/>
<circle cx="934.04" cy="868.21" r="1.6" fill="#0000FF"/>
<circle cx="936.42" cy="867.43" r="1.6" fill="#0000FF"/>
<circle cx="938.8" cy="866.7" r="1.6" fill="#0000FF"/>
<circle cx="915.5" cy="882.4" r="1.6" fill="#0000FF"/>
<circle cx="917.57" cy="880.69" r="1.6" fill="#0000FF"/>
<circle cx="919.67" cy="879.03" r="1.6" fill="#0000FF"/>
<circle cx="921.8" cy="877.4" r="1.6" fill="#0000FF"/>
<circle cx="908" cy="891.9" r="1.6" fill="#0000FF"/>
<circle cx="910.47" cy="889.32" r="1.6" fill="#0000FF"/>
<circle cx="913" cy="886.8" r="1.6" fill="#0000FF"/>
<circle cx="897.9" cy="904.4" r="1.6" fill="#0000FF"/>
<circle cx="899.96" cy="902.05" r="1.6" fill="#0000FF"/>
<circle cx="902.06" cy="899.75" r="1.6" fill="#0000FF"/>
<circle cx="904.2" cy="897.5" r="1.6" fill="#0000FF"/>
<circle cx="877.2" cy="949.7" r="1.6" fill="#0000FF"/>
<circle cx="878.32" cy="945.79" r="1.6" fill="#0000FF"/>
<circle cx="879.54" cy="941.92" r="1.6" fill="#0000FF"/>
<circle cx="880.88" cy="938.08" r="1.6" fill="#0000FF"/>
<circle cx="882.31" cy="934.28" r="1.6" fill="#0000FF"/>
<circle cx="883.86" cy="930.52" r="1.6" fill="#0000FF"/>
<circle cx="885.5" cy="926.8" r="1.6" fill="#0000FF"/>
<circle cx="887.25" cy="923.12" r="1.6" fill="#0000FF"/>
<circle cx="889.1" cy="919.5" r="1.6" fill="#0000FF"/>
<circle cx="872.2" cy="977.3" r="1.6" fill="#0000FF"/>
<circle cx="872.15" cy="981.1" r="1.6" fill="#0000FF"/>
<circle cx="872.2" cy="984.9" r="1.6" fill="#0000FF"/>
<circle cx="1143.2" cy="906.3" r="1.6" fill="#0000FF"/>
<circle cx="1144.99" cy="909.37" r="1.6" fill="#0000FF"/>
<circle cx="1146.71" cy="912.47" r="1.6" fill="#0000FF"/>
<circle cx="1148.35" cy="915.61" r="1.6" fill="#0000FF"/>
<circle cx="1149.91" cy="918.79" r="1.6" fill="#0000FF"/>
<circle cx="1151.4" cy="922" r="1.6" fill="#0000FF"/>
<circle cx="1159.6" cy="938.4" r="1.6" fill="#0000FF"/>
<circle cx="1160.42" cy="942.15" r="1.6" fill="#0000FF"/>
<circle cx="1161.14" cy="945.91" r="1.6" fill="#0000FF"/>
<circle cx="1161.76" cy="949.67" r="1.6" fill="#0000FF"/>
<circle cx="1162.28" cy="953.43" r="1.6" fill="#0000FF"/>
<circle cx="1162.7" cy="957.2" r="1.6" fill="#0000FF"/>
<circle cx="871.5" cy="980" r="1.6" fill="#0000FF"/>
<circle cx="871.83" cy="982.51" r="1.6" fill="#0000FF"/>
<circle cx="872.2" cy="985" r="1.6" fill="#0000FF"/>
<circle cx="874.3" cy="1018.3" r="1.6" fill="#0000FF"/>
<circle cx="874.3" cy="1028" r="1.6" fill="#0000FF"/>
<circle cx="881" cy="1041" r="1.6" fill="#0000FF"/>
<circle cx="881.26" cy="1044.44" r="1.6" fill="#0000FF"/>
<circle cx="881.6" cy="1047.9" r="1.6" fill="#0000FF"/>
<circle cx="887.2" cy="1059.8" r="1.6" fill="#0000FF"/>
<circle cx="890.4" cy="1061.7" r="1.6" fill="#0000FF"/>
<circle cx="900.4" cy="1076.8" r="1.6" fill="#0000FF"/>
<circle cx="902.05" cy="1079.23" r="1.6" fill="#0000FF"/>
<circle cx="903.76" cy="1081.62" r="1.6" fill="#0000FF"/>
<circle cx="905.51" cy="1083.99" r="1.6" fill="#0000FF"/>
<circle cx="907.31" cy="1086.32" r="1.6" fill="#0000FF"/>
<circle cx="909.16" cy="1088.61" r="1.6" fill="#0000FF"/>
<circle cx="911.06" cy="1090.88" r="1.6" fill="#0000FF"/>
<circle cx="913" cy="1093.1" r="1.6" fill="#0000FF"/>
<circle cx="921.8" cy="1100" r="1.6" fill="#0000FF"/>
<circle cx="923.8" cy="1101.73" r="1.6" fill="#0000FF"/>
<circle cx="925.84" cy="1103.42" r="1.6" fill="#0000FF"/>
<circle cx="927.91" cy="1105.08" r="1.6" fill="#0000FF"/>
<circle cx="930" cy="1106.7" r="1.6" fill="#0000FF"/>
<circle cx="950.1" cy="1119.5" r="1.6" fill="#0000FF"/>
<circle cx="955.7" cy="1122" r="1.6" fill="#0000FF"/>
<circle cx="988.4" cy="1135.2" r="1.6" fill="#0000FF"/>
<circle cx="990.98" cy="1136.02" r="1.6" fill="#0000FF"/>
<circle cx="993.59" cy="1136.8" r="1.6" fill="#0000FF"/>
<circle cx="996.21" cy="1137.52" r="1.6" fill="#0000FF"/>
<circle cx="998.85" cy="1138.21" r="1.6" fill="#0000FF"/>
<circle cx="1001.51" cy="1138.84" r="1.6" fill="#0000FF"/>
<circle cx="1004.19" cy="1139.43" r="1.6" fill="#0000FF"/>
<circle cx="1006.88" cy="1139.97" r="1.6" fill="#0000FF"/>
<circle cx="1009.58" cy="1140.46" r="1.6" fill="#0000FF"/>
<circle cx="1012.3" cy="1140.9" r="1.6" fill="#0000FF"/>
<circle cx="1113.1" cy="1102.5" r="1.6" fill="#0000FF"/>
<circle cx="1116.8" cy="1100" r="1.6" fill="#0000FF"/>
<circle cx="1072.8" cy="1125.8" r="1.6" fill="#0000FF"/>
<circle cx="1076.6" cy="1125.2" r="1.6" fill="#0000FF"/>
<circle cx="1025.1" cy="1135.8" r="1.6" fill="#0000FF"/>
<circle cx="1030.4" cy="1135.68" r="1.6" fill="#0000FF"/>
<circle cx="1035.69" cy="1135.38" r="1.6" fill="#0000FF"/>
<circle cx="1040.98" cy="1134.88" r="1.6" fill="#0000FF"/>
<circle cx="1046.25" cy="1134.18" r="1.6" fill="#0000FF"/>
<circle cx="1051.5" cy="1133.3" r="1.6" fill="#0000FF"/>
<circle cx="1120.6" cy="1096.9" r="1.6" fill="#0000FF"/>
<circle cx="1122.91" cy="1095.88" r="1.6" fill="#0000FF"/>
<circle cx="1125.21" cy="1094.81" r="1.6" fill="#0000FF"/>
<circle cx="1127.5" cy="1093.7" r="1.6" fill="#0000FF"/>
<circle cx="1166" cy="1030" r="1.6" fill="#0000FF"/>
<circle cx="1167.08" cy="1034.95" r="1.6" fill="#0000FF"/>
<circle cx="1168" cy="1040" r="1.6" fill="#0000FF"/>
<circle cx="996.6" cy="842.8" r="1.6" fill="#0000FF"/>
<circle cx="926.8" cy="875.5" r="1.6" fill="#0000FF"/>
<circle cx="1025.5" cy="841" r="1.6" fill="#0000FF"/>
<circle cx="1025.7" cy="840.7" r="1.6" fill="#0000FF"/>
<circle cx="1049" cy="843.5" r="1.6" fill="#0000FF"/>
<circle cx="1060.3" cy="846.6" r="1.6" fill="#0000FF"/>
<circle cx="1062.2" cy="847.6" r="1.6" fill="#0000FF"/>
<circle cx="1086" cy="857" r="1.6" fill="#0000FF"/>
<circle cx="1089.4" cy="859.8" r="1.6" fill="#0000FF"/>
<circle cx="1119.1" cy="873.3" r="1.6" fill="#0000FF"/>
<circle cx="1125.6" cy="880.5" r="1.6" fill="#0000FF"/>
<circle cx="1128.1" cy="884.3" r="1.6" fill="#0000FF"/>
<circle cx="1136.9" cy="900.6" r="1.6" fill="#0000FF"/>
<circle cx="871.8" cy="994.5" r="1.6" fill="#0000FF"/>
<circle cx="872.8" cy="1007" r="1.6" fill="#0000FF"/>
<circle cx="873.4" cy="1010.2" r="1.6" fill="#0000FF"/>
<circle cx="895.4" cy="1071.1" r="1.6" fill="#0000FF"/>
<circle cx="916.8" cy="1096.9" r="1.6" fill="#0000FF"/>
<circle cx="1026.1" cy="1136.5" r="1.6" fill="#0000FF"/>
<circle cx="1164.6" cy="1022.7" r="1.6" fill="#0000FF"/>
<circle cx="1148.9" cy="1062.9" r="1.6" fill="#0000FF"/>
<circle cx="1125" cy="1091.9" r="1.6" fill="#0000FF"/>
<circle cx="1105.5" cy="1113.2" r="1.6" fill="#0000FF"/>
<circle cx="1011.3" cy="1140.2" r="1.6" fill="#0000FF"/>
<path d="M876.26,910.9 A163.13,163.13 0 0 1 883.76,898.57" stroke="#0000FF" stroke-width="3.4" fill="none" stroke-linecap="round"/>
<path d="M1028.18,835.01 A154.75,154.75 0 0 1 1047.16,837.29" stroke="#0000FF" stroke-width="3.4" fill="none" stroke-linecap="round"/>
<path d="M1158.17,922.06 A154.47,154.47 0 0 1 1162.83,932.65" stroke="#0000FF" stroke-width="3.4" fill="none" stroke-linecap="round"/>
<path d="M1169.13,992.63 A149.96,149.96 0 0 1 1167.59,1011.19" stroke="#0000FF" stroke-width="3.4" fill="none" stroke-linecap="round"/>
<path d="M1157.52,1046.53 A149.61,149.61 0 0 1 1154.68,1052.98" stroke="#0000FF" stroke-width="3.4" fill="none" stroke-linecap="round"/>
<path d="M1049.56,1141.31 A154.82,154.82 0 0 1 1040.23,1142.89" stroke="#0000FF" stroke-width="3.4" fill="none" stroke-linecap="round"/>
<path d="M882.92,1060.34 A153.59,153.59 0 0 1 877.67,1049.15" stroke="#0000FF" stroke-width="3.4" fill="none" stroke-linecap="round"/>
<circle cx="931.9" cy="896.2" r="1.7" fill="#FFC800"/>
<circle cx="919.3" cy="907.6" r="1.7" fill="#FFC800"/>
<circle cx="887.9" cy="986.1" r="1.7" fill="#FFC800"/>
<circle cx="1023" cy="862.3" r="1.7" fill="#FFC800"/>
<circle cx="1081" cy="874.3" r="1.7" fill="#FFC800"/>
<circle cx="1099.5" cy="887.1" r="1.7" fill="#FFC800"/>
<circle cx="1145.7" cy="961" r="1.7" fill="#FFC800"/>
<circle cx="906.7" cy="1051" r="1.7" fill="#FFC800"/>
<circle cx="1014.2" cy="1118.9" r="1.7" fill="#FFC800"/>
<circle cx="1136.3" cy="1038.4" r="1.7" fill="#FFC800"/>
<circle cx="1131.3" cy="1059.8" r="1.7" fill="#FFC800"/>
<circle cx="1139.4" cy="1066.7" r="1.7" fill="#FFC800"/>
<circle cx="1014.4" cy="1118.9" r="1.7" fill="#FFC800"/>
<path d="M890.38,969.61 A130.35,130.35 0 0 1 893.49,955.03" stroke="#FFC800" stroke-width="3.4" fill="none" stroke-linecap="round"/>
<path d="M1057.78,864.86 A130.48,130.48 0 0 1 1066.62,867.94" stroke="#FFC800" stroke-width="3.4" fill="none" stroke-linecap="round"/>
<path d="M1084.16,876 A130.78,130.78 0 0 1 1093.53,881.9" stroke="#FFC800" stroke-width="3.4" fill="none" stroke-linecap="round"/>
<path d="M1155.25,967.89 A137.75,137.75 0 0 1 1156.95,990" stroke="#FFC800" stroke-width="3.4" fill="none" stroke-linecap="round"/>
<path d="M888.23,994.51 A131.07,131.07 0 0 1 888.17,986.31" stroke="#FFC800" stroke-width="3.4" fill="none" stroke-linecap="round"/>
<path d="M954.93,1108.51 A135.25,135.25 0 0 1 940.8,1099.71" stroke="#FFC800" stroke-width="3.4" fill="none" stroke-linecap="round"/>
<path d="M990.33,1118.75 A132.43,132.43 0 0 1 970.74,1112.75" stroke="#FFC800" stroke-width="3.4" fill="none" stroke-linecap="round"/>
<path d="M1021.09,1125.85 A136.37,136.37 0 0 1 1013.48,1125.75" stroke="#FFC800" stroke-width="3.4" fill="none" stroke-linecap="round"/>
<path d="M1156.85,980.01 A137.98,137.98 0 0 1 1157.15,992.6" stroke="#FFC800" stroke-width="3.4" fill="none" stroke-linecap="round"/>
<path d="M1148.26,1014.03 A131.37,131.37 0 0 1 1147.54,1017.56" stroke="#FFC800" stroke-width="3.4" fill="none" stroke-linecap="round"/>
<path d="M1146.34,1022.69 A131.4,131.4 0 0 1 1143.26,1032.82" stroke="#FFC800" stroke-width="3.4" fill="none" stroke-linecap="round"/>
<path d="M1104.58,1092.12 A133.5,133.5 0 0 1 1098.9,1096.6" stroke="#FFC800" stroke-width="3.4" fill="none" stroke-linecap="round"/>
<path d="M1077.92,1105.34 A129.87,129.87 0 0 1 1072.87,1107.76" stroke="#FFC800" stroke-width="3.4" fill="none" stroke-linecap="round"/>
<path d="M1092.43,1098.7 A131.48,131.48 0 0 1 1083.41,1104.24" stroke="#FFC800" stroke-width="3.4" fill="none" stroke-linecap="round"/>
<path d="M1067.86,1112.14 A131.94,131.94 0 0 1 1055.86,1116.25" stroke="#FFC800" stroke-width="3.4" fill="none" stroke-linecap="round"/>
<path d="M962.6,880 L1095.5,1086.5" stroke="#40D0B8" stroke-width="3.6" fill="none" stroke-linecap="round"/>
<path d="M940,895 L1094,1088" stroke="#40D0B8" stroke-width="3.6" fill="none" stroke-linecap="round"/>
<path d="M964,882 L1097.5,1084" stroke="#40D0B8" stroke-width="3.2" fill="none" stroke-linecap="round"/>
<path d="M1064,875.5 L1041.4,933.3" stroke="#40D0B8" stroke-width="3.4" fill="none" stroke-linecap="round"/>
<path d="M896.7,968.5 L958.9,979.2" stroke="#40D0B8" stroke-width="3.4" fill="none" stroke-linecap="round"/>
<path d="M910.5,1048.5 L965.2,1018.3" stroke="#40D0B8" stroke-width="3.4" fill="none" stroke-linecap="round"/>
<path d="M1141.3,1012.7 C1045,995 1050,1050 1095.5,1088" stroke="#40D0B8" stroke-width="3.4" fill="none" stroke-linecap="round"/>
<path d="M993.4,1110.1 C1003,1040 1062,1020 1095.5,1088" stroke="#40D0B8" stroke-width="3.4" fill="none" stroke-linecap="round"/>
<path d="M993.4,1110.1 L1006,1048.5" stroke="#40D0B8" stroke-width="3.4" fill="none" stroke-linecap="round"/>
<path d="M1035.8,1047.9 L1052.1,1108.8" stroke="#40D0B8" stroke-width="3.4" fill="none" stroke-linecap="round"/>
<line x1="864.6" y1="932.1" x2="827.01" y2="891.18" stroke="#FF0000" stroke-width="4.4"/>
<path d="M817.2,880.5 L833.92,886.87 L825.32,889.34 L822.13,897.7 Z" fill="#FF0000"/>
<text x="762.3" y="871.6" font-size="20.6" font-style="italic">STAT3</text>
<line x1="1131.4" y1="891.3" x2="1201" y2="834.11" stroke="#0000FF" stroke-width="4.4"/>
<path d="M1212.2,824.9 L1204.92,841.24 L1202.93,832.52 L1194.76,828.88 Z" fill="#0000FF"/>
<text x="1220.4" y="826.7" font-size="20.6" font-style="italic">STAT1</text>
<line x1="1138.2" y1="1070.5" x2="1196.4" y2="1107.87" stroke="#FFB400" stroke-width="4.4"/>
<path d="M1208.6,1115.7 L1190.81,1113.79 L1198.5,1109.22 L1199.46,1100.32 Z" fill="#FFB400"/>
<text x="1212.2" y="1137.3" font-size="20.6" font-style="italic">HLA &amp; BTN</text>
<text x="1264.2" y="1162.4" font-size="20.6" text-anchor="middle" font-style="italic">genes</text>
<line x1="1098" y1="1110" x2="1140.8" y2="1161.18" stroke="#FFB400" stroke-width="4.4"/>
<path d="M1150.1,1172.3 L1133.7,1165.16 L1142.4,1163.09 L1145.97,1154.89 Z" fill="#FFB400"/>
<text x="1135" y="1198.3" font-size="20.6" font-style="italic">BRCA1</text>
<line x1="968.9" y1="1123.3" x2="877.75" y2="1165.6" stroke="#FFB400" stroke-width="4.4"/>
<path d="M864.6,1171.7 L875.75,1157.71 L875.49,1166.65 L882.48,1172.22 Z" fill="#FFB400"/>
<text x="808.2" y="1192.9" font-size="20.6" font-style="italic">PTEN</text>
<line x1="1004.7" y1="1141.5" x2="981.98" y2="1203.68" stroke="#0000FF" stroke-width="4.4"/>
<path d="M977,1217.3 L974.98,1199.53 L981.12,1206.03 L990.01,1205.02 Z" fill="#0000FF"/>
<text x="930.3" y="1243.2" font-size="20.6" font-style="italic">CDKN2A</text>
<text x="5" y="1376" font-size="37" font-weight="bold" stroke="#000" stroke-width="1.8" stroke-linejoin="round">g</text>
<rect x="618.5" y="1364.2" width="821.5" height="34" fill="#F2F2F2"/>
<line x1="635" y1="1382.7" x2="668.4" y2="1382.7" stroke="#FF0000" stroke-width="3.5"/>
<text x="678.2" y="1387.9" font-size="17.8">Duplications</text>
<line x1="859.4" y1="1382.7" x2="892.8" y2="1382.7" stroke="#0000FF" stroke-width="3.5"/>
<text x="902.1" y="1387.9" font-size="17.8">Deletions</text>
<line x1="1055.5" y1="1382.7" x2="1089" y2="1382.7" stroke="#FFC000" stroke-width="3.5"/>
<text x="1098.2" y="1387.9" font-size="17.8">Both</text>
<line x1="1184.1" y1="1382.7" x2="1217.6" y2="1382.7" stroke="#40D0B8" stroke-width="3.5"/>
<text x="1227.9" y="1387.9" font-size="17.8">Recurrent translocations</text>
<text x="322" y="1426.8" font-size="20.8" text-anchor="middle">MAPKi-only (<tspan font-style="italic">n</tspan> = 5)</text>
<text x="1008" y="1426.5" font-size="20.8" text-anchor="middle">ICB-only (<tspan font-style="italic">n</tspan> = 7)</text>
<text x="1632" y="1426.5" font-size="20.8" text-anchor="middle">MAPKi + ICB (<tspan font-style="italic">n</tspan> = 9)</text>
<path d="M321.45,1469.01 A196,192 0 0 1 410.81,1489.1 L408.53,1493.59 A190.88,186.99 0 0 0 321.5,1474.02 Z" stroke="none" stroke-width="0.9" fill="#000"/>
<path d="M322.35,1477.33 A187.5,183.68 0 0 1 406.29,1496.2 L398.84,1511.04 A170.62,167.14 0 0 0 322.46,1493.87 Z" stroke="#2a2a2a" stroke-width="0.9" fill="none"/>
<path d="M322.48,1497.68 A166.73,163.33 0 0 1 397.12,1514.46 L389.84,1528.94 A150.25,147.18 0 0 0 322.58,1513.82 Z" stroke="#2a2a2a" stroke-width="0.9" fill="none"/>
<path d="M322.61,1518.43 A145.54,142.57 0 0 1 387.76,1533.08 L380.4,1547.74 A128.86,126.23 0 0 0 322.71,1534.77 Z" stroke="#2a2a2a" stroke-width="0.9" fill="none"/>
<path d="M322.6,1493.27 A171.23,167.74 0 0 1 398.97,1510.44" stroke="#B5B5B5" stroke-width="1.0" fill="none"/>
<path d="M322.71,1513.22 A150.86,147.78 0 0 1 390,1528.35" stroke="#B5B5B5" stroke-width="1.0" fill="none"/>
<path d="M322.82,1534.17 A129.47,126.83 0 0 1 380.57,1547.15" stroke="#B5B5B5" stroke-width="1.0" fill="none"/>
<path d="M413.86,1490.62 A196,192 0 0 1 481.76,1547.74 L477.63,1550.7 A190.88,186.99 0 0 0 411.5,1495.07 Z" stroke="none" stroke-width="0.9" fill="#000"/>
<path d="M410.67,1498.38 A187.5,183.68 0 0 1 474.42,1552 L460.83,1561.82 A170.62,167.14 0 0 0 402.82,1513.02 Z" stroke="#2a2a2a" stroke-width="0.9" fill="none"/>
<path d="M401.01,1516.4 A166.73,163.33 0 0 1 457.7,1564.08 L444.43,1573.66 A150.25,147.18 0 0 0 393.35,1530.69 Z" stroke="#2a2a2a" stroke-width="0.9" fill="none"/>
<path d="M391.16,1534.77 A145.54,142.57 0 0 1 440.65,1576.4 L427.22,1586.09 A128.86,126.23 0 0 0 383.41,1549.24 Z" stroke="#2a2a2a" stroke-width="0.9" fill="none"/>
<path d="M403.24,1512.56 A171.23,167.74 0 0 1 461.23,1561.34" stroke="#B5B5B5" stroke-width="1.0" fill="none"/>
<path d="M393.75,1530.22 A150.86,147.78 0 0 1 444.85,1573.2" stroke="#B5B5B5" stroke-width="1.0" fill="none"/>
<path d="M383.79,1548.76 A129.47,126.83 0 0 1 427.64,1585.65" stroke="#B5B5B5" stroke-width="1.0" fill="none"/>
<path d="M483.76,1550.46 A196,192 0 0 1 513.96,1615.67 L508.99,1616.85 A190.88,186.99 0 0 0 479.57,1553.35 Z" stroke="none" stroke-width="0.9" fill="#000"/>
<path d="M477.28,1555.91 A187.5,183.68 0 0 1 505.51,1616.85 L489.12,1620.83 A170.62,167.14 0 0 0 463.43,1565.37 Z" stroke="#2a2a2a" stroke-width="0.9" fill="none"/>
<path d="M460.24,1567.55 A166.73,163.33 0 0 1 485.34,1621.74 L469.35,1625.62 A150.25,147.18 0 0 0 446.73,1576.79 Z" stroke="#2a2a2a" stroke-width="0.9" fill="none"/>
<path d="M442.87,1579.43 A145.54,142.57 0 0 1 464.78,1626.73 L448.58,1630.66 A128.86,126.23 0 0 0 429.18,1588.78 Z" stroke="#2a2a2a" stroke-width="0.9" fill="none"/>
<path d="M464.02,1565.15 A171.23,167.74 0 0 1 489.68,1620.54" stroke="#B5B5B5" stroke-width="1.0" fill="none"/>
<path d="M447.31,1576.55 A150.86,147.78 0 0 1 469.91,1625.35" stroke="#B5B5B5" stroke-width="1.0" fill="none"/>
<path d="M429.75,1588.53 A129.47,126.83 0 0 1 449.15,1630.41" stroke="#B5B5B5" stroke-width="1.0" fill="none"/>
<path d="M514.74,1618.93 A196,192 0 0 1 517.55,1688.02 L512.48,1687.31 A190.88,186.99 0 0 0 509.74,1620.03 Z" stroke="none" stroke-width="0.9" fill="#000"/>
<path d="M506.63,1621.53 A187.5,183.68 0 0 1 509.25,1686.05 L492.52,1683.8 A170.62,167.14 0 0 0 490.13,1625.09 Z" stroke="#2a2a2a" stroke-width="0.9" fill="none"/>
<path d="M486.33,1625.91 A166.73,163.33 0 0 1 488.67,1683.28 L472.35,1681.08 A150.25,147.18 0 0 0 470.24,1629.38 Z" stroke="#2a2a2a" stroke-width="0.9" fill="none"/>
<path d="M465.64,1630.37 A145.54,142.57 0 0 1 467.68,1680.45 L451.15,1678.22 A128.86,126.23 0 0 0 449.35,1633.88 Z" stroke="#2a2a2a" stroke-width="0.9" fill="none"/>
<path d="M490.76,1625.1 A171.23,167.74 0 0 1 493.15,1683.74" stroke="#B5B5B5" stroke-width="1.0" fill="none"/>
<path d="M470.87,1629.37 A150.86,147.78 0 0 1 472.97,1681.03" stroke="#B5B5B5" stroke-width="1.0" fill="none"/>
<path d="M449.97,1633.86 A129.47,126.83 0 0 1 451.78,1678.19" stroke="#B5B5B5" stroke-width="1.0" fill="none"/>
<path d="M517.04,1691.33 A196,192 0 0 1 495.38,1753.28 L490.89,1750.87 A190.88,186.99 0 0 0 511.99,1690.54 Z" stroke="none" stroke-width="0.9" fill="#000"/>
<path d="M508.52,1690.81 A187.5,183.68 0 0 1 488.32,1748.58 L473.47,1740.69 A170.62,167.14 0 0 0 491.86,1688.12 Z" stroke="#2a2a2a" stroke-width="0.9" fill="none"/>
<path d="M488.02,1687.51 A166.73,163.33 0 0 1 470.06,1738.87 L455.57,1731.18 A150.25,147.18 0 0 0 471.76,1684.89 Z" stroke="#2a2a2a" stroke-width="0.9" fill="none"/>
<path d="M467.11,1684.14 A145.54,142.57 0 0 1 451.43,1728.98 L436.77,1721.19 A128.86,126.23 0 0 0 450.65,1681.49 Z" stroke="#2a2a2a" stroke-width="0.9" fill="none"/>
<path d="M492.44,1688.37 A171.23,167.74 0 0 1 474.09,1740.85" stroke="#B5B5B5" stroke-width="1.0" fill="none"/>
<path d="M472.34,1685.11 A150.86,147.78 0 0 1 456.17,1731.35" stroke="#B5B5B5" stroke-width="1.0" fill="none"/>
<path d="M451.24,1681.69 A129.47,126.83 0 0 1 437.36,1721.38" stroke="#B5B5B5" stroke-width="1.0" fill="none"/>
<path d="M493.71,1756.21 A196,192 0 0 1 453.89,1804.35 L450.48,1800.61 A190.88,186.99 0 0 0 489.26,1753.72 Z" stroke="none" stroke-width="0.9" fill="#000"/>
<path d="M485.92,1752.77 A187.5,183.68 0 0 1 448.84,1797.61 L437.55,1785.3 A170.62,167.14 0 0 0 471.29,1744.51 Z" stroke="#2a2a2a" stroke-width="0.9" fill="none"/>
<path d="M467.92,1742.61 A166.73,163.33 0 0 1 434.95,1782.47 L423.94,1770.46 A150.25,147.18 0 0 0 453.65,1734.54 Z" stroke="#2a2a2a" stroke-width="0.9" fill="none"/>
<path d="M449.57,1732.24 A145.54,142.57 0 0 1 420.79,1767.03 L409.64,1754.88 A128.86,126.23 0 0 0 435.12,1724.07 Z" stroke="#2a2a2a" stroke-width="0.9" fill="none"/>
<path d="M471.75,1744.94 A171.23,167.74 0 0 1 438.08,1785.65" stroke="#B5B5B5" stroke-width="1.0" fill="none"/>
<path d="M454.12,1734.95 A150.86,147.78 0 0 1 424.45,1770.83" stroke="#B5B5B5" stroke-width="1.0" fill="none"/>
<path d="M435.6,1724.47 A129.47,126.83 0 0 1 410.13,1755.25" stroke="#B5B5B5" stroke-width="1.0" fill="none"/>
<path d="M451.31,1806.56 A196,192 0 0 1 401.43,1837.17 L399.39,1832.57 A190.88,186.99 0 0 0 447.97,1802.76 Z" stroke="none" stroke-width="0.9" fill="#000"/>
<path d="M445.15,1800.77 A187.5,183.68 0 0 1 398.8,1829.22 L392.02,1814.07 A170.62,167.14 0 0 0 434.19,1788.19 Z" stroke="#2a2a2a" stroke-width="0.9" fill="none"/>
<path d="M431.67,1785.29 A166.73,163.33 0 0 1 390.46,1810.58 L383.84,1795.79 A150.25,147.18 0 0 0 420.98,1773 Z" stroke="#2a2a2a" stroke-width="0.9" fill="none"/>
<path d="M417.93,1769.49 A145.54,142.57 0 0 1 381.95,1791.57 L375.25,1776.6 A128.86,126.23 0 0 0 407.1,1757.06 Z" stroke="#2a2a2a" stroke-width="0.9" fill="none"/>
<path d="M434.48,1788.74 A171.23,167.74 0 0 1 392.4,1814.56" stroke="#B5B5B5" stroke-width="1.0" fill="none"/>
<path d="M421.28,1773.54 A150.86,147.78 0 0 1 384.21,1796.29" stroke="#B5B5B5" stroke-width="1.0" fill="none"/>
<path d="M407.41,1757.59 A129.47,126.83 0 0 1 375.6,1777.11" stroke="#B5B5B5" stroke-width="1.0" fill="none"/>
<path d="M398.28,1838.48 A196,192 0 0 1 345.83,1851.75 L345.25,1846.77 A190.88,186.99 0 0 0 396.32,1833.84 Z" stroke="none" stroke-width="0.9" fill="#000"/>
<path d="M394.28,1831.09 A187.5,183.68 0 0 1 345.67,1843.39 L343.68,1826.96 A170.62,167.14 0 0 0 387.9,1815.77 Z" stroke="#2a2a2a" stroke-width="0.9" fill="none"/>
<path d="M386.44,1812.24 A166.73,163.33 0 0 1 343.22,1823.18 L341.27,1807.15 A150.25,147.18 0 0 0 380.22,1797.29 Z" stroke="#2a2a2a" stroke-width="0.9" fill="none"/>
<path d="M378.44,1793.02 A145.54,142.57 0 0 1 340.71,1802.57 L338.74,1786.34 A128.86,126.23 0 0 0 372.14,1777.89 Z" stroke="#2a2a2a" stroke-width="0.9" fill="none"/>
<path d="M388,1816.38 A171.23,167.74 0 0 1 343.9,1827.54" stroke="#B5B5B5" stroke-width="1.0" fill="none"/>
<path d="M380.33,1797.9 A150.86,147.78 0 0 1 341.47,1807.73" stroke="#B5B5B5" stroke-width="1.0" fill="none"/>
<path d="M372.27,1778.49 A129.47,126.83 0 0 1 338.92,1786.93" stroke="#B5B5B5" stroke-width="1.0" fill="none"/>
<path d="M342.43,1852.1 A196,192 0 0 1 290.19,1850.21 L291.06,1845.27 A190.88,186.99 0 0 0 341.93,1847.11 Z" stroke="none" stroke-width="0.9" fill="#000"/>
<path d="M340.79,1843.9 A187.5,183.68 0 0 1 292.44,1842.14 L295.24,1825.83 A170.62,167.14 0 0 0 339.24,1827.42 Z" stroke="#2a2a2a" stroke-width="0.9" fill="none"/>
<path d="M338.88,1823.63 A166.73,163.33 0 0 1 295.88,1822.07 L298.61,1806.15 A150.25,147.18 0 0 0 337.36,1807.56 Z" stroke="#2a2a2a" stroke-width="0.9" fill="none"/>
<path d="M336.92,1802.96 A145.54,142.57 0 0 1 299.39,1801.6 L302.15,1785.48 A128.86,126.23 0 0 0 335.38,1786.69 Z" stroke="#2a2a2a" stroke-width="0.9" fill="none"/>
<path d="M339.14,1828.04 A171.23,167.74 0 0 1 295.28,1826.44" stroke="#B5B5B5" stroke-width="1.0" fill="none"/>
<path d="M337.28,1808.17 A150.86,147.78 0 0 1 298.64,1806.76" stroke="#B5B5B5" stroke-width="1.0" fill="none"/>
<path d="M335.33,1787.3 A129.47,126.83 0 0 1 302.16,1786.1" stroke="#B5B5B5" stroke-width="1.0" fill="none"/>
<path d="M286.82,1849.61 A196,192 0 0 1 239.13,1834.3 L241.34,1829.78 A190.88,186.99 0 0 0 287.78,1844.68 Z" stroke="none" stroke-width="0.9" fill="#000"/>
<path d="M287.61,1841.28 A187.5,183.68 0 0 1 243.53,1827.14 L250.73,1812.17 A170.62,167.14 0 0 0 290.84,1825.04 Z" stroke="#2a2a2a" stroke-width="0.9" fill="none"/>
<path d="M291.59,1821.31 A166.73,163.33 0 0 1 252.39,1808.73 L259.42,1794.13 A150.25,147.18 0 0 0 294.74,1805.46 Z" stroke="#2a2a2a" stroke-width="0.9" fill="none"/>
<path d="M295.64,1800.94 A145.54,142.57 0 0 1 261.43,1789.95 L268.54,1775.17 A128.86,126.23 0 0 0 298.83,1784.89 Z" stroke="#2a2a2a" stroke-width="0.9" fill="none"/>
<path d="M290.58,1825.61 A171.23,167.74 0 0 1 250.61,1812.78" stroke="#B5B5B5" stroke-width="1.0" fill="none"/>
<path d="M294.49,1806.03 A150.86,147.78 0 0 1 259.28,1794.72" stroke="#B5B5B5" stroke-width="1.0" fill="none"/>
<path d="M298.61,1785.46 A129.47,126.83 0 0 1 268.38,1775.76" stroke="#B5B5B5" stroke-width="1.0" fill="none"/>
<path d="M236.06,1832.83 A196,192 0 0 1 194.53,1805.58 L197.9,1801.8 A190.88,186.99 0 0 0 238.34,1828.35 Z" stroke="none" stroke-width="0.9" fill="#000"/>
<path d="M239.12,1825.03 A187.5,183.68 0 0 1 200.73,1799.84 L211.79,1787.33 A170.62,167.14 0 0 0 246.72,1810.25 Z" stroke="#2a2a2a" stroke-width="0.9" fill="none"/>
<path d="M248.47,1806.85 A166.73,163.33 0 0 1 214.34,1784.45 L225.13,1772.25 A150.25,147.18 0 0 0 255.88,1792.44 Z" stroke="#2a2a2a" stroke-width="0.9" fill="none"/>
<path d="M258,1788.32 A145.54,142.57 0 0 1 228.21,1768.76 L239.13,1756.41 A128.86,126.23 0 0 0 265.51,1773.72 Z" stroke="#2a2a2a" stroke-width="0.9" fill="none"/>
<path d="M246.31,1810.73 A171.23,167.74 0 0 1 211.5,1787.88" stroke="#B5B5B5" stroke-width="1.0" fill="none"/>
<path d="M255.49,1792.92 A150.86,147.78 0 0 1 224.82,1772.79" stroke="#B5B5B5" stroke-width="1.0" fill="none"/>
<path d="M265.13,1774.21 A129.47,126.83 0 0 1 238.82,1756.94" stroke="#B5B5B5" stroke-width="1.0" fill="none"/>
<path d="M191.97,1803.35 A196,192 0 0 1 159.72,1766.48 L164,1763.72 A190.88,186.99 0 0 0 195.41,1799.63 Z" stroke="none" stroke-width="0.9" fill="#000"/>
<path d="M197.07,1796.64 A187.5,183.68 0 0 1 167.27,1762.57 L181.34,1753.43 A170.62,167.14 0 0 0 208.45,1784.42 Z" stroke="#2a2a2a" stroke-width="0.9" fill="none"/>
<path d="M211.08,1781.61 A166.73,163.33 0 0 1 184.59,1751.32 L198.31,1742.39 A150.25,147.18 0 0 0 222.19,1769.69 Z" stroke="#2a2a2a" stroke-width="0.9" fill="none"/>
<path d="M225.36,1766.28 A145.54,142.57 0 0 1 202.24,1739.84 L216.14,1730.8 A128.86,126.23 0 0 0 236.61,1754.22 Z" stroke="#2a2a2a" stroke-width="0.9" fill="none"/>
<path d="M207.93,1784.77 A171.23,167.74 0 0 1 180.92,1753.88" stroke="#B5B5B5" stroke-width="1.0" fill="none"/>
<path d="M221.68,1770.05 A150.86,147.78 0 0 1 197.88,1742.83" stroke="#B5B5B5" stroke-width="1.0" fill="none"/>
<path d="M236.11,1754.58 A129.47,126.83 0 0 1 215.69,1731.23" stroke="#B5B5B5" stroke-width="1.0" fill="none"/>
<path d="M157.87,1763.66 A196,192 0 0 1 139.11,1726.11 L143.93,1724.41 A190.88,186.99 0 0 0 162.2,1760.98 Z" stroke="none" stroke-width="0.9" fill="#000"/>
<path d="M164.61,1758.53 A187.5,183.68 0 0 1 147.38,1724.04 L163.25,1718.36 A170.62,167.14 0 0 0 178.92,1749.75 Z" stroke="#2a2a2a" stroke-width="0.9" fill="none"/>
<path d="M182.22,1747.73 A166.73,163.33 0 0 1 166.9,1717.05 L182.38,1711.51 A150.25,147.18 0 0 0 196.18,1739.15 Z" stroke="#2a2a2a" stroke-width="0.9" fill="none"/>
<path d="M200.17,1736.7 A145.54,142.57 0 0 1 186.8,1709.93 L202.47,1704.32 A128.86,126.23 0 0 0 214.31,1728.03 Z" stroke="#2a2a2a" stroke-width="0.9" fill="none"/>
<path d="M178.32,1749.94 A171.23,167.74 0 0 1 162.72,1718.71" stroke="#B5B5B5" stroke-width="1.0" fill="none"/>
<path d="M195.59,1739.36 A150.86,147.78 0 0 1 181.85,1711.84" stroke="#B5B5B5" stroke-width="1.0" fill="none"/>
<path d="M213.73,1728.25 A129.47,126.83 0 0 1 201.93,1704.63" stroke="#B5B5B5" stroke-width="1.0" fill="none"/>
<path d="M137.98,1722.95 A196,192 0 0 1 129.03,1684.97 L134.11,1684.34 A190.88,186.99 0 0 0 142.83,1721.33 Z" stroke="none" stroke-width="0.9" fill="#000"/>
<path d="M145.76,1719.5 A187.5,183.68 0 0 1 137.57,1684.72 L154.31,1682.59 A170.62,167.14 0 0 0 161.77,1714.23 Z" stroke="#2a2a2a" stroke-width="0.9" fill="none"/>
<path d="M165.45,1713.02 A166.73,163.33 0 0 1 158.17,1682.09 L174.51,1680.01 A150.25,147.18 0 0 0 181.08,1707.88 Z" stroke="#2a2a2a" stroke-width="0.9" fill="none"/>
<path d="M185.54,1706.41 A145.54,142.57 0 0 1 179.18,1679.41 L195.72,1677.3 A128.86,126.23 0 0 0 201.35,1701.2 Z" stroke="#2a2a2a" stroke-width="0.9" fill="none"/>
<path d="M161.14,1714.29 A171.23,167.74 0 0 1 153.72,1682.81" stroke="#B5B5B5" stroke-width="1.0" fill="none"/>
<path d="M180.45,1707.95 A150.86,147.78 0 0 1 173.92,1680.22" stroke="#B5B5B5" stroke-width="1.0" fill="none"/>
<path d="M200.73,1701.29 A129.47,126.83 0 0 1 195.13,1677.49" stroke="#B5B5B5" stroke-width="1.0" fill="none"/>
<path d="M128.64,1681.64 A196,192 0 0 1 128.23,1644.41 L133.33,1644.84 A190.88,186.99 0 0 0 133.72,1681.1 Z" stroke="none" stroke-width="0.9" fill="#000"/>
<path d="M137,1679.95 A187.5,183.68 0 0 1 136.63,1645.93 L153.46,1647.28 A170.62,167.14 0 0 0 153.79,1678.24 Z" stroke="#2a2a2a" stroke-width="0.9" fill="none"/>
<path d="M157.66,1677.85 A166.73,163.33 0 0 1 157.33,1647.6 L173.76,1648.92 A150.25,147.18 0 0 0 174.05,1676.18 Z" stroke="#2a2a2a" stroke-width="0.9" fill="none"/>
<path d="M178.73,1675.71 A145.54,142.57 0 0 1 178.45,1649.3 L195.08,1650.64 A128.86,126.23 0 0 0 195.33,1674.02 Z" stroke="#2a2a2a" stroke-width="0.9" fill="none"/>
<path d="M153.17,1678.16 A171.23,167.74 0 0 1 152.83,1647.38" stroke="#B5B5B5" stroke-width="1.0" fill="none"/>
<path d="M173.43,1676.12 A150.86,147.78 0 0 1 173.13,1649" stroke="#B5B5B5" stroke-width="1.0" fill="none"/>
<path d="M194.71,1673.97 A129.47,126.83 0 0 1 194.45,1650.7" stroke="#B5B5B5" stroke-width="1.0" fill="none"/>
<path d="M128.56,1641.07 A196,192 0 0 1 134.87,1608.84 L139.8,1610.2 A190.88,186.99 0 0 0 133.65,1641.59 Z" stroke="none" stroke-width="0.9" fill="#000"/>
<path d="M137.09,1641.14 A187.5,183.68 0 0 1 142.83,1611.87 L159.1,1616.3 A170.62,167.14 0 0 0 153.88,1642.93 Z" stroke="#2a2a2a" stroke-width="0.9" fill="none"/>
<path d="M157.75,1643.34 A166.73,163.33 0 0 1 162.85,1617.31 L178.72,1621.63 A150.25,147.18 0 0 0 174.13,1645.08 Z" stroke="#2a2a2a" stroke-width="0.9" fill="none"/>
<path d="M178.81,1645.58 A145.54,142.57 0 0 1 183.26,1622.87 L199.34,1627.24 A128.86,126.23 0 0 0 195.4,1647.35 Z" stroke="#2a2a2a" stroke-width="0.9" fill="none"/>
<path d="M153.29,1642.72 A171.23,167.74 0 0 1 158.47,1616.28" stroke="#B5B5B5" stroke-width="1.0" fill="none"/>
<path d="M173.54,1644.89 A150.86,147.78 0 0 1 178.1,1621.6" stroke="#B5B5B5" stroke-width="1.0" fill="none"/>
<path d="M194.8,1647.18 A129.47,126.83 0 0 1 198.71,1627.18" stroke="#B5B5B5" stroke-width="1.0" fill="none"/>
<path d="M135.83,1605.62 A196,192 0 0 1 146.71,1578.11 L151.32,1580.27 A190.88,186.99 0 0 0 140.73,1607.07 Z" stroke="none" stroke-width="0.9" fill="#000"/>
<path d="M144.2,1607.25 A187.5,183.68 0 0 1 154.02,1582.42 L169.28,1589.5 A170.62,167.14 0 0 0 160.35,1612.09 Z" stroke="#2a2a2a" stroke-width="0.9" fill="none"/>
<path d="M164.07,1613.21 A166.73,163.33 0 0 1 172.8,1591.13 L187.69,1598.04 A150.25,147.18 0 0 0 179.83,1617.93 Z" stroke="#2a2a2a" stroke-width="0.9" fill="none"/>
<path d="M184.33,1619.28 A145.54,142.57 0 0 1 191.95,1600.01 L207.03,1607 A128.86,126.23 0 0 0 200.28,1624.06 Z" stroke="#2a2a2a" stroke-width="0.9" fill="none"/>
<path d="M159.81,1611.78 A171.23,167.74 0 0 1 168.66,1589.38" stroke="#B5B5B5" stroke-width="1.0" fill="none"/>
<path d="M179.28,1617.63 A150.86,147.78 0 0 1 187.08,1597.9" stroke="#B5B5B5" stroke-width="1.0" fill="none"/>
<path d="M199.73,1623.78 A129.47,126.83 0 0 1 206.42,1606.84" stroke="#B5B5B5" stroke-width="1.0" fill="none"/>
<path d="M148.21,1575.1 A196,192 0 0 1 163.05,1550.73 L167.24,1553.61 A190.88,186.99 0 0 0 152.79,1577.34 Z" stroke="none" stroke-width="0.9" fill="#000"/>
<path d="M156.18,1578.1 A187.5,183.68 0 0 1 169.53,1556.17 L183.4,1565.61 A170.62,167.14 0 0 0 171.25,1585.57 Z" stroke="#2a2a2a" stroke-width="0.9" fill="none"/>
<path d="M174.72,1587.29 A166.73,163.33 0 0 1 186.6,1567.78 L200.13,1577 A150.25,147.18 0 0 0 189.42,1594.58 Z" stroke="#2a2a2a" stroke-width="0.9" fill="none"/>
<path d="M193.62,1596.66 A145.54,142.57 0 0 1 203.99,1579.63 L217.69,1588.96 A128.86,126.23 0 0 0 208.51,1604.03 Z" stroke="#2a2a2a" stroke-width="0.9" fill="none"/>
<path d="M170.77,1585.17 A171.23,167.74 0 0 1 182.81,1565.39" stroke="#B5B5B5" stroke-width="1.0" fill="none"/>
<path d="M188.93,1594.19 A150.86,147.78 0 0 1 199.55,1576.76" stroke="#B5B5B5" stroke-width="1.0" fill="none"/>
<path d="M208.01,1603.66 A129.47,126.83 0 0 1 217.12,1588.7" stroke="#B5B5B5" stroke-width="1.0" fill="none"/>
<path d="M165.04,1548 A196,192 0 0 1 178.92,1531.36 L182.7,1534.75 A190.88,186.99 0 0 0 169.18,1550.95 Z" stroke="none" stroke-width="0.9" fill="#000"/>
<path d="M172.39,1552.25 A187.5,183.68 0 0 1 184.64,1537.57 L197.15,1548.69 A170.62,167.14 0 0 0 186,1562.05 Z" stroke="#2a2a2a" stroke-width="0.9" fill="none"/>
<path d="M189.13,1564.3 A166.73,163.33 0 0 1 200.03,1551.25 L212.23,1562.1 A150.25,147.18 0 0 0 202.41,1573.86 Z" stroke="#2a2a2a" stroke-width="0.9" fill="none"/>
<path d="M206.21,1576.59 A145.54,142.57 0 0 1 215.72,1565.19 L228.07,1576.18 A128.86,126.23 0 0 0 219.65,1586.27 Z" stroke="#2a2a2a" stroke-width="0.9" fill="none"/>
<path d="M185.59,1561.57 A171.23,167.74 0 0 1 196.59,1548.39" stroke="#B5B5B5" stroke-width="1.0" fill="none"/>
<path d="M202,1573.4 A150.86,147.78 0 0 1 211.69,1561.79" stroke="#B5B5B5" stroke-width="1.0" fill="none"/>
<path d="M219.22,1585.82 A129.47,126.83 0 0 1 227.54,1575.85" stroke="#B5B5B5" stroke-width="1.0" fill="none"/>
<path d="M181.26,1528.91 A196,192 0 0 1 198.33,1513.25 L201.6,1517.11 A190.88,186.99 0 0 0 184.97,1532.36 Z" stroke="none" stroke-width="0.9" fill="#000"/>
<path d="M187.99,1534.05 A187.5,183.68 0 0 1 203.13,1520.17 L213.97,1532.85 A170.62,167.14 0 0 0 200.19,1545.49 Z" stroke="#2a2a2a" stroke-width="0.9" fill="none"/>
<path d="M203,1548.12 A166.73,163.33 0 0 1 216.47,1535.77 L227.04,1548.15 A150.25,147.18 0 0 0 214.91,1559.28 Z" stroke="#2a2a2a" stroke-width="0.9" fill="none"/>
<path d="M218.31,1562.46 A145.54,142.57 0 0 1 230.07,1551.69 L240.78,1564.22 A128.86,126.23 0 0 0 230.37,1573.76 Z" stroke="#2a2a2a" stroke-width="0.9" fill="none"/>
<path d="M199.85,1544.97 A171.23,167.74 0 0 1 213.46,1532.48" stroke="#B5B5B5" stroke-width="1.0" fill="none"/>
<path d="M214.56,1558.77 A150.86,147.78 0 0 1 226.55,1547.77" stroke="#B5B5B5" stroke-width="1.0" fill="none"/>
<path d="M230.01,1573.26 A129.47,126.83 0 0 1 240.3,1563.83" stroke="#B5B5B5" stroke-width="1.0" fill="none"/>
<path d="M200.98,1511.13 A196,192 0 0 1 215.42,1500.83 L218.24,1505.01 A190.88,186.99 0 0 0 204.18,1515.05 Z" stroke="none" stroke-width="0.9" fill="#000"/>
<path d="M206.93,1517.13 A187.5,183.68 0 0 1 219.42,1508.21 L228.8,1521.98 A170.62,167.14 0 0 0 217.43,1530.09 Z" stroke="#2a2a2a" stroke-width="0.9" fill="none"/>
<path d="M219.85,1533.07 A166.73,163.33 0 0 1 230.96,1525.14 L240.1,1538.57 A150.25,147.18 0 0 0 230.09,1545.72 Z" stroke="#2a2a2a" stroke-width="0.9" fill="none"/>
<path d="M233.02,1549.33 A145.54,142.57 0 0 1 242.72,1542.41 L251.98,1556 A128.86,126.23 0 0 0 243.39,1562.13 Z" stroke="#2a2a2a" stroke-width="0.9" fill="none"/>
<path d="M217.17,1529.53 A171.23,167.74 0 0 1 228.33,1521.56" stroke="#B5B5B5" stroke-width="1.0" fill="none"/>
<path d="M229.81,1545.16 A150.86,147.78 0 0 1 239.65,1538.14" stroke="#B5B5B5" stroke-width="1.0" fill="none"/>
<path d="M243.1,1561.59 A129.47,126.83 0 0 1 251.54,1555.56" stroke="#B5B5B5" stroke-width="1.0" fill="none"/>
<path d="M218.29,1499.01 A196,192 0 0 1 234.83,1489.77 L237.15,1494.24 A190.88,186.99 0 0 0 221.04,1503.24 Z" stroke="none" stroke-width="0.9" fill="#000"/>
<path d="M223.54,1505.6 A187.5,183.68 0 0 1 237.95,1497.56 L245.65,1512.28 A170.62,167.14 0 0 0 232.54,1519.59 Z" stroke="#2a2a2a" stroke-width="0.9" fill="none"/>
<path d="M234.62,1522.82 A166.73,163.33 0 0 1 247.43,1515.67 L254.95,1530.03 A150.25,147.18 0 0 0 243.4,1536.47 Z" stroke="#2a2a2a" stroke-width="0.9" fill="none"/>
<path d="M245.91,1540.38 A145.54,142.57 0 0 1 257.09,1534.13 L264.71,1548.68 A128.86,126.23 0 0 0 254.81,1554.2 Z" stroke="#2a2a2a" stroke-width="0.9" fill="none"/>
<path d="M232.34,1519.01 A171.23,167.74 0 0 1 245.24,1511.81" stroke="#B5B5B5" stroke-width="1.0" fill="none"/>
<path d="M243.19,1535.9 A150.86,147.78 0 0 1 254.55,1529.55" stroke="#B5B5B5" stroke-width="1.0" fill="none"/>
<path d="M254.57,1553.64 A129.47,126.83 0 0 1 264.32,1548.19" stroke="#B5B5B5" stroke-width="1.0" fill="none"/>
<path d="M237.9,1488.28 A196,192 0 0 1 292.69,1471.39 L293.49,1476.34 A190.88,186.99 0 0 0 240.13,1492.79 Z" stroke="none" stroke-width="0.9" fill="#000"/>
<path d="M242.34,1495.42 A187.5,183.68 0 0 1 293.22,1479.73 L295.95,1496.06 A170.62,167.14 0 0 0 249.65,1510.33 Z" stroke="#2a2a2a" stroke-width="0.9" fill="none"/>
<path d="M251.34,1513.77 A166.73,163.33 0 0 1 296.57,1499.82 L299.23,1515.75 A150.25,147.18 0 0 0 258.47,1528.32 Z" stroke="#2a2a2a" stroke-width="0.9" fill="none"/>
<path d="M260.51,1532.47 A145.54,142.57 0 0 1 300,1520.3 L302.69,1536.43 A128.86,126.23 0 0 0 267.73,1547.21 Z" stroke="#2a2a2a" stroke-width="0.9" fill="none"/>
<path d="M249.52,1509.73 A171.23,167.74 0 0 1 295.7,1495.49" stroke="#B5B5B5" stroke-width="1.0" fill="none"/>
<path d="M258.32,1527.72 A150.86,147.78 0 0 1 299.01,1515.18" stroke="#B5B5B5" stroke-width="1.0" fill="none"/>
<path d="M267.56,1546.62 A129.47,126.83 0 0 1 302.48,1535.85" stroke="#B5B5B5" stroke-width="1.0" fill="none"/>
<path d="M296.07,1470.89 A196,192 0 0 1 318.03,1469.07 L318.17,1474.09 A190.88,186.99 0 0 0 296.79,1475.85 Z" stroke="none" stroke-width="0.9" fill="#000"/>
<path d="M298.07,1479.02 A187.5,183.68 0 0 1 317.45,1477.42 L317.99,1493.95 A170.62,167.14 0 0 0 300.36,1495.41 Z" stroke="#2a2a2a" stroke-width="0.9" fill="none"/>
<path d="M300.89,1499.18 A166.73,163.33 0 0 1 318.12,1497.76 L318.65,1513.89 A150.25,147.18 0 0 0 303.12,1515.18 Z" stroke="#2a2a2a" stroke-width="0.9" fill="none"/>
<path d="M303.76,1519.75 A145.54,142.57 0 0 1 318.8,1518.5 L319.34,1534.84 A128.86,126.23 0 0 0 306.03,1535.94 Z" stroke="#2a2a2a" stroke-width="0.9" fill="none"/>
<path d="M300.43,1494.79 A171.23,167.74 0 0 1 317.82,1493.36" stroke="#B5B5B5" stroke-width="1.0" fill="none"/>
<path d="M303.17,1514.56 A150.86,147.78 0 0 1 318.5,1513.3" stroke="#B5B5B5" stroke-width="1.0" fill="none"/>
<path d="M306.05,1535.33 A129.47,126.83 0 0 1 319.21,1534.24" stroke="#B5B5B5" stroke-width="1.0" fill="none"/>
<text x="370.55" y="1460.18" font-size="20.5" text-anchor="middle" transform="rotate(12.93 370.55 1460.18)" dominant-baseline="central">1</text>
<text x="460.52" y="1504.68" font-size="20.5" text-anchor="middle" transform="rotate(40.65 460.52 1504.68)" dominant-baseline="central">2</text>
<text x="515.04" y="1575.87" font-size="20.5" text-anchor="middle" transform="rotate(65.6 515.04 1575.87)" dominant-baseline="central">3</text>
<text x="533.66" y="1652.79" font-size="20.5" text-anchor="middle" transform="rotate(87.72 533.66 1652.79)" dominant-baseline="central">4</text>
<text x="522.48" y="1727.77" font-size="20.5" text-anchor="middle" transform="rotate(-71.09 522.48 1727.77)" dominant-baseline="central">5</text>
<text x="486.93" y="1790.7" font-size="20.5" text-anchor="middle" transform="rotate(-50.99 486.93 1790.7)" dominant-baseline="central">6</text>
<text x="435.16" y="1835.61" font-size="20.5" text-anchor="middle" transform="rotate(-32.06 435.16 1835.61)" dominant-baseline="central">7</text>
<text x="376.11" y="1860.49" font-size="20.5" text-anchor="middle" transform="rotate(-14.48 376.11 1860.49)" dominant-baseline="central">8</text>
<text x="315.71" y="1866.9" font-size="20.5" text-anchor="middle" transform="rotate(2.12 315.71 1866.9)" dominant-baseline="central">9</text>
<text x="258.02" y="1856.8" font-size="20.5" text-anchor="middle" transform="rotate(18.14 258.02 1856.8)" dominant-baseline="central">10</text>
<text x="206.43" y="1832.17" font-size="20.5" text-anchor="middle" transform="rotate(33.82 206.43 1832.17)" dominant-baseline="central">11</text>
<text x="163.77" y="1795.05" font-size="20.5" text-anchor="middle" transform="rotate(49.41 163.77 1795.05)" dominant-baseline="central">12</text>
<text x="134.57" y="1751.56" font-size="20.5" text-anchor="middle" transform="rotate(63.93 134.57 1751.56)" dominant-baseline="central">13</text>
<text x="118.56" y="1707.34" font-size="20.5" text-anchor="middle" transform="rotate(77 118.56 1707.34)" dominant-baseline="central">14</text>
<text x="113.18" y="1663.18" font-size="20.5" text-anchor="middle" transform="rotate(89.39 113.18 1663.18)" dominant-baseline="central">15</text>
<text x="116.94" y="1622.18" font-size="20.5" text-anchor="middle" transform="rotate(280.86 116.94 1622.18)" dominant-baseline="central">16</text>
<text x="127.37" y="1586.59" font-size="20.5" text-anchor="middle" transform="rotate(291.17 127.37 1586.59)" dominant-baseline="central">17</text>
<text x="142.86" y="1555.45" font-size="20.5" text-anchor="middle" transform="rotate(300.81 142.86 1555.45)" dominant-baseline="central">18</text>
<text x="160.65" y="1530.61" font-size="20.5" text-anchor="middle" transform="rotate(309.26 160.65 1530.61)" dominant-baseline="central">19</text>
<text x="179.76" y="1510.58" font-size="20.5" text-anchor="middle" transform="rotate(316.89 179.76 1510.58)" dominant-baseline="central">20</text>
<text x="199.64" y="1494.48" font-size="20.5" text-anchor="middle" transform="rotate(323.92 199.64 1494.48)" dominant-baseline="central">21</text>
<text x="219.35" y="1482" font-size="20.5" text-anchor="middle" transform="rotate(330.32 219.35 1482)" dominant-baseline="central">22</text>
<text x="260.36" y="1464.47" font-size="20.5" text-anchor="middle" transform="rotate(342.53 260.36 1464.47)" dominant-baseline="central">X</text>
<text x="305.82" y="1455.69" font-size="20.5" text-anchor="middle" transform="rotate(355.18 305.82 1455.69)" dominant-baseline="central">Y</text>
<circle cx="265.2" cy="1503.4" r="1.55" fill="#FF0000"/>
<circle cx="239.4" cy="1515.3" r="1.55" fill="#FF0000"/>
<circle cx="242.5" cy="1513.4" r="1.55" fill="#FF0000"/>
<circle cx="208" cy="1538" r="1.55" fill="#FF0000"/>
<circle cx="195.4" cy="1549.5" r="1.55" fill="#FF0000"/>
<circle cx="190.8" cy="1555.5" r="1.55" fill="#FF0000"/>
<circle cx="162.7" cy="1604.6" r="1.55" fill="#FF0000"/>
<circle cx="155.6" cy="1632.5" r="1.55" fill="#FF0000"/>
<circle cx="328" cy="1493.3" r="1.55" fill="#FF0000"/>
<circle cx="427.7" cy="1528.9" r="1.55" fill="#FF0000"/>
<circle cx="461.4" cy="1563.3" r="1.55" fill="#FF0000"/>
<circle cx="153.7" cy="1681.6" r="1.55" fill="#FF0000"/>
<circle cx="155.2" cy="1688.3" r="1.55" fill="#FF0000"/>
<circle cx="184.5" cy="1759.1" r="1.55" fill="#FF0000"/>
<circle cx="247.3" cy="1817.5" r="1.55" fill="#FF0000"/>
<circle cx="293.4" cy="1825.9" r="1.55" fill="#FF0000"/>
<circle cx="490.5" cy="1689.6" r="1.55" fill="#FF0000"/>
<circle cx="488.7" cy="1700.5" r="1.55" fill="#FF0000"/>
<circle cx="468.3" cy="1758.3" r="1.55" fill="#FF0000"/>
<circle cx="435" cy="1787.6" r="1.55" fill="#FF0000"/>
<circle cx="434.6" cy="1794.5" r="1.55" fill="#FF0000"/>
<circle cx="419.9" cy="1805.2" r="1.55" fill="#FF0000"/>
<circle cx="367.8" cy="1822.2" r="1.55" fill="#FF0000"/>
<circle cx="156" cy="1644" r="1.55" fill="#FF0000"/>
<circle cx="154" cy="1651" r="1.55" fill="#FF0000"/>
<path d="M496.7,1635.29 A175.18,171.6 0 0 1 497.7,1642.91" stroke="#FF0000" stroke-width="3.4" fill="none" stroke-linecap="round"/>
<path d="M494.99,1692.75 A174.53,170.96 0 0 1 493.81,1698.34" stroke="#FF0000" stroke-width="3.4" fill="none" stroke-linecap="round"/>
<path d="M440.6,1803.9 A187.06,183.25 0 0 1 435.6,1807.7" stroke="#FF0000" stroke-width="3.4" fill="none" stroke-linecap="round"/>
<circle cx="256" cy="1520.4" r="1.55" fill="#0000FF"/>
<circle cx="259.9" cy="1527.9" r="1.55" fill="#0000FF"/>
<circle cx="240.4" cy="1538.2" r="1.55" fill="#0000FF"/>
<circle cx="222.4" cy="1552" r="1.55" fill="#0000FF"/>
<circle cx="216.1" cy="1558.3" r="1.55" fill="#0000FF"/>
<circle cx="213.3" cy="1561.2" r="1.55" fill="#0000FF"/>
<circle cx="211.1" cy="1563.7" r="1.55" fill="#0000FF"/>
<circle cx="206.7" cy="1569.4" r="1.55" fill="#0000FF"/>
<circle cx="203.6" cy="1572.8" r="1.55" fill="#0000FF"/>
<circle cx="179.1" cy="1580" r="1.55" fill="#0000FF"/>
<circle cx="191.6" cy="1591.4" r="1.55" fill="#0000FF"/>
<circle cx="188.9" cy="1597" r="1.55" fill="#0000FF"/>
<circle cx="178.4" cy="1600.4" r="1.55" fill="#0000FF"/>
<circle cx="183.5" cy="1608.1" r="1.55" fill="#0000FF"/>
<circle cx="180.3" cy="1617.1" r="1.55" fill="#0000FF"/>
<circle cx="179.3" cy="1620.9" r="1.55" fill="#0000FF"/>
<circle cx="174" cy="1648.5" r="1.55" fill="#0000FF"/>
<circle cx="173.8" cy="1655.5" r="1.55" fill="#0000FF"/>
<circle cx="329.2" cy="1514" r="1.55" fill="#0000FF"/>
<circle cx="329.8" cy="1514.1" r="1.55" fill="#0000FF"/>
<circle cx="363.4" cy="1518.8" r="1.55" fill="#0000FF"/>
<circle cx="397.3" cy="1524.5" r="1.55" fill="#0000FF"/>
<circle cx="391" cy="1530" r="1.55" fill="#0000FF"/>
<circle cx="393.9" cy="1531.3" r="1.55" fill="#0000FF"/>
<circle cx="425.3" cy="1543" r="1.55" fill="#0000FF"/>
<circle cx="423.1" cy="1551.5" r="1.55" fill="#0000FF"/>
<circle cx="473.6" cy="1616.2" r="1.55" fill="#0000FF"/>
<circle cx="468.9" cy="1627.8" r="1.55" fill="#0000FF"/>
<circle cx="472.1" cy="1654.8" r="1.55" fill="#0000FF"/>
<circle cx="472.7" cy="1658.6" r="1.55" fill="#0000FF"/>
<circle cx="173.8" cy="1655.6" r="1.55" fill="#0000FF"/>
<circle cx="174.3" cy="1678.9" r="1.55" fill="#0000FF"/>
<circle cx="174.9" cy="1681.4" r="1.55" fill="#0000FF"/>
<circle cx="176.9" cy="1690.2" r="1.55" fill="#0000FF"/>
<circle cx="183.7" cy="1714.7" r="1.55" fill="#0000FF"/>
<circle cx="198.2" cy="1742.1" r="1.55" fill="#0000FF"/>
<circle cx="205.5" cy="1751.5" r="1.55" fill="#0000FF"/>
<circle cx="214.9" cy="1762.5" r="1.55" fill="#0000FF"/>
<circle cx="224.3" cy="1771.2" r="1.55" fill="#0000FF"/>
<circle cx="227.5" cy="1774.4" r="1.55" fill="#0000FF"/>
<circle cx="230" cy="1775.9" r="1.55" fill="#0000FF"/>
<circle cx="236.2" cy="1791" r="1.55" fill="#0000FF"/>
<circle cx="252.3" cy="1790.7" r="1.55" fill="#0000FF"/>
<circle cx="258.2" cy="1793.6" r="1.55" fill="#0000FF"/>
<circle cx="296.6" cy="1806.2" r="1.55" fill="#0000FF"/>
<circle cx="301.6" cy="1807.1" r="1.55" fill="#0000FF"/>
<circle cx="472.7" cy="1658.8" r="1.55" fill="#0000FF"/>
<circle cx="471.2" cy="1678.6" r="1.55" fill="#0000FF"/>
<circle cx="460.5" cy="1737.1" r="1.55" fill="#0000FF"/>
<circle cx="449.4" cy="1739.8" r="1.55" fill="#0000FF"/>
<circle cx="447.3" cy="1743.7" r="1.55" fill="#0000FF"/>
<circle cx="452.3" cy="1749.3" r="1.55" fill="#0000FF"/>
<circle cx="426.2" cy="1768.4" r="1.55" fill="#0000FF"/>
<circle cx="421.2" cy="1772.5" r="1.55" fill="#0000FF"/>
<circle cx="381" cy="1796.8" r="1.55" fill="#0000FF"/>
<circle cx="369.6" cy="1801.2" r="1.55" fill="#0000FF"/>
<circle cx="334.5" cy="1808.1" r="1.55" fill="#0000FF"/>
<circle cx="473" cy="1632" r="1.55" fill="#0000FF"/>
<circle cx="474" cy="1640" r="1.55" fill="#0000FF"/>
<circle cx="393.3" cy="1767.2" r="1.55" fill="#FFC800"/>
<path d="M324.9,1788.27 A129.93,127.28 0 0 1 317.3,1788.13" stroke="#FFC800" stroke-width="3.4" fill="none" stroke-linecap="round"/>
<path d="M397.7,1783.48 A145.39,142.42 0 0 1 381.15,1791.75" stroke="#FFC800" stroke-width="3.4" fill="none" stroke-linecap="round"/>
<path d="M262,1553 L292,1606" stroke="#40D0B8" stroke-width="7.0" fill="none" stroke-linecap="round"/>
<path d="M268,1551 L296,1603" stroke="#40D0B8" stroke-width="3.0" fill="none" stroke-linecap="round"/>
<path d="M292,1606 L362,1712" stroke="#40D0B8" stroke-width="3.0" fill="none" stroke-linecap="round"/>
<path d="M358,1706 L394,1763" stroke="#40D0B8" stroke-width="3.0" fill="none" stroke-linecap="round"/>
<path d="M362,1710 L398,1762" stroke="#40D0B8" stroke-width="3.0" fill="none" stroke-linecap="round"/>
<path d="M365,1712 L401.5,1759" stroke="#40D0B8" stroke-width="3.0" fill="none" stroke-linecap="round"/>
<path d="M445.5,1686 C400,1671 330,1688 296.5,1781" stroke="#40D0B8" stroke-width="5.0" fill="none" stroke-linecap="round"/>
<path d="M446,1682 L384,1673" stroke="#40D0B8" stroke-width="3.4" fill="none" stroke-linecap="round"/>
<path d="M446,1686 L386,1676.5" stroke="#40D0B8" stroke-width="3.4" fill="none" stroke-linecap="round"/>
<path d="M445,1690 L390,1680" stroke="#40D0B8" stroke-width="3.0" fill="none" stroke-linecap="round"/>
<path d="M310.4,1720.4 L306,1742" stroke="#40D0B8" stroke-width="3.0" fill="none" stroke-linecap="round"/>
<path d="M296.5,1781 C305,1700 350,1690 400,1756" stroke="#40D0B8" stroke-width="3.2" fill="none" stroke-linecap="round"/>
<path d="M370.3,1692.7 C366,1712 385,1735 397.9,1758" stroke="#40D0B8" stroke-width="2.8" fill="none" stroke-linecap="round"/>
<path d="M372,1690 C374,1705 400,1725 416.8,1743.6" stroke="#40D0B8" stroke-width="2.8" fill="none" stroke-linecap="round"/>
<line x1="399.8" y1="1537.3" x2="486.68" y2="1494.69" stroke="#0000FF" stroke-width="4.4"/>
<path d="M499.7,1488.3 L488.86,1502.53 L488.93,1493.58 L481.81,1488.16 Z" fill="#0000FF"/>
<text x="510" y="1482.8" font-size="20.6" font-style="italic">MSH2, MSH6</text>
<line x1="480.9" y1="1608.3" x2="565.25" y2="1567.42" stroke="#0000FF" stroke-width="4.4"/>
<path d="M578.3,1561.1 L567.39,1575.28 L567.5,1566.33 L560.41,1560.88 Z" fill="#0000FF"/>
<text x="586.6" y="1561.8" font-size="20.6" font-style="italic">MLH1</text>
<line x1="415.5" y1="1786.3" x2="414.56" y2="1839.1" stroke="#0000FF" stroke-width="4.4"/>
<path d="M414.3,1853.6 L406.59,1837.46 L414.51,1841.6 L422.58,1837.75 Z" fill="#0000FF"/>
<line x1="410" y1="1786.5" x2="421" y2="1785.5" stroke="#0000FF" stroke-width="3"/>
<text x="398" y="1877.8" font-size="20.6" font-style="italic">BRCA1</text>
<line x1="438.8" y1="1805.8" x2="493.64" y2="1815.8" stroke="#FF0000" stroke-width="4.4"/>
<path d="M507.9,1818.4 L490.72,1823.4 L496.09,1816.25 L493.59,1807.66 Z" fill="#FF0000"/>
<text x="511.9" y="1815" font-size="20.6" font-style="italic">HOXA genes</text>
<text x="511.9" y="1838.3" font-size="20.6" font-style="italic">ETV6</text>
<path d="M1007,1466.9 A193.5,193.5 0 0 1 1095.01,1488.07 L1092.71,1492.57 A188.45,188.45 0 0 0 1007,1471.95 Z" stroke="none" stroke-width="0.9" fill="#000"/>
<path d="M1007.81,1475.29 A185.11,185.11 0 0 1 1090.47,1495.18 L1082.95,1510.06 A168.44,168.44 0 0 0 1007.73,1491.96 Z" stroke="#2a2a2a" stroke-width="0.9" fill="none"/>
<path d="M1007.72,1495.8 A164.6,164.6 0 0 1 1081.22,1513.48 L1073.89,1528 A148.33,148.33 0 0 0 1007.65,1512.07 Z" stroke="#2a2a2a" stroke-width="0.9" fill="none"/>
<path d="M1007.63,1516.72 A143.69,143.69 0 0 1 1071.79,1532.15 L1064.36,1546.85 A127.21,127.21 0 0 0 1007.56,1533.19 Z" stroke="#2a2a2a" stroke-width="0.9" fill="none"/>
<path d="M1007.89,1491.36 A169.05,169.05 0 0 1 1083.1,1509.45" stroke="#B5B5B5" stroke-width="1.0" fill="none"/>
<path d="M1007.78,1511.46 A148.94,148.94 0 0 1 1074.04,1527.4" stroke="#B5B5B5" stroke-width="1.0" fill="none"/>
<path d="M1007.67,1532.58 A127.82,127.82 0 0 1 1064.54,1546.26" stroke="#B5B5B5" stroke-width="1.0" fill="none"/>
<path d="M1098,1489.63 A193.5,193.5 0 0 1 1164.43,1547.9 L1160.32,1550.83 A188.45,188.45 0 0 0 1095.63,1494.09 Z" stroke="none" stroke-width="0.9" fill="#000"/>
<path d="M1094.77,1497.42 A185.11,185.11 0 0 1 1157.14,1552.12 L1143.62,1561.87 A168.44,168.44 0 0 0 1086.86,1512.1 Z" stroke="#2a2a2a" stroke-width="0.9" fill="none"/>
<path d="M1085.04,1515.48 A164.6,164.6 0 0 1 1140.5,1564.11 L1127.31,1573.63 A148.33,148.33 0 0 0 1077.33,1529.8 Z" stroke="#2a2a2a" stroke-width="0.9" fill="none"/>
<path d="M1075.13,1533.89 A143.69,143.69 0 0 1 1123.54,1576.35 L1110.18,1585.98 A127.21,127.21 0 0 0 1067.32,1548.39 Z" stroke="#2a2a2a" stroke-width="0.9" fill="none"/>
<path d="M1087.28,1511.63 A169.05,169.05 0 0 1 1144.02,1561.39" stroke="#B5B5B5" stroke-width="1.0" fill="none"/>
<path d="M1077.73,1529.33 A148.94,148.94 0 0 1 1127.72,1573.17" stroke="#B5B5B5" stroke-width="1.0" fill="none"/>
<path d="M1067.7,1547.91 A127.82,127.82 0 0 1 1110.61,1585.54" stroke="#B5B5B5" stroke-width="1.0" fill="none"/>
<path d="M1166.37,1550.66 A193.5,193.5 0 0 1 1195.5,1616.68 L1190.58,1617.82 A188.45,188.45 0 0 0 1162.21,1553.53 Z" stroke="none" stroke-width="0.9" fill="#000"/>
<path d="M1159.92,1556.08 A185.11,185.11 0 0 1 1187.14,1617.79 L1170.92,1621.63 A168.44,168.44 0 0 0 1146.15,1565.48 Z" stroke="#2a2a2a" stroke-width="0.9" fill="none"/>
<path d="M1142.98,1567.64 A164.6,164.6 0 0 1 1167.18,1622.51 L1151.35,1626.26 A148.33,148.33 0 0 0 1129.54,1576.81 Z" stroke="#2a2a2a" stroke-width="0.9" fill="none"/>
<path d="M1125.7,1579.43 A143.69,143.69 0 0 1 1146.83,1627.33 L1130.8,1631.12 A127.21,127.21 0 0 0 1112.09,1588.71 Z" stroke="#2a2a2a" stroke-width="0.9" fill="none"/>
<path d="M1146.73,1565.26 A169.05,169.05 0 0 1 1171.47,1621.35" stroke="#B5B5B5" stroke-width="1.0" fill="none"/>
<path d="M1130.11,1576.58 A148.94,148.94 0 0 1 1151.91,1625.99" stroke="#B5B5B5" stroke-width="1.0" fill="none"/>
<path d="M1112.66,1588.46 A127.82,127.82 0 0 1 1131.36,1630.87" stroke="#B5B5B5" stroke-width="1.0" fill="none"/>
<path d="M1196.23,1619.98 A193.5,193.5 0 0 1 1198.28,1689.64 L1193.28,1688.87 A188.45,188.45 0 0 0 1191.29,1621.04 Z" stroke="none" stroke-width="0.9" fill="#000"/>
<path d="M1188.2,1622.52 A185.11,185.11 0 0 1 1190.11,1687.57 L1173.62,1685.12 A168.44,168.44 0 0 0 1171.88,1625.93 Z" stroke="#2a2a2a" stroke-width="0.9" fill="none"/>
<path d="M1168.12,1626.72 A164.6,164.6 0 0 1 1169.82,1684.56 L1153.73,1682.17 A148.33,148.33 0 0 0 1152.19,1630.05 Z" stroke="#2a2a2a" stroke-width="0.9" fill="none"/>
<path d="M1147.64,1631 A143.69,143.69 0 0 1 1149.13,1681.49 L1132.84,1679.07 A127.21,127.21 0 0 0 1131.52,1634.37 Z" stroke="#2a2a2a" stroke-width="0.9" fill="none"/>
<path d="M1172.5,1625.95 A169.05,169.05 0 0 1 1174.24,1685.07" stroke="#B5B5B5" stroke-width="1.0" fill="none"/>
<path d="M1152.81,1630.05 A148.94,148.94 0 0 1 1154.35,1682.13" stroke="#B5B5B5" stroke-width="1.0" fill="none"/>
<path d="M1132.14,1634.35 A127.82,127.82 0 0 1 1133.45,1679.05" stroke="#B5B5B5" stroke-width="1.0" fill="none"/>
<path d="M1197.74,1692.97 A193.5,193.5 0 0 1 1175.7,1755.17 L1171.3,1752.7 A188.45,188.45 0 0 0 1192.76,1692.12 Z" stroke="none" stroke-width="0.9" fill="#000"/>
<path d="M1189.33,1692.35 A185.11,185.11 0 0 1 1168.78,1750.36 L1154.21,1742.26 A168.44,168.44 0 0 0 1172.91,1689.48 Z" stroke="#2a2a2a" stroke-width="0.9" fill="none"/>
<path d="M1169.13,1688.81 A164.6,164.6 0 0 1 1150.86,1740.39 L1136.64,1732.49 A148.33,148.33 0 0 0 1153.11,1686 Z" stroke="#2a2a2a" stroke-width="0.9" fill="none"/>
<path d="M1148.53,1685.2 A143.69,143.69 0 0 1 1132.58,1730.23 L1118.18,1722.22 A127.21,127.21 0 0 0 1132.31,1682.36 Z" stroke="#2a2a2a" stroke-width="0.9" fill="none"/>
<path d="M1173.48,1689.73 A169.05,169.05 0 0 1 1154.81,1742.42" stroke="#B5B5B5" stroke-width="1.0" fill="none"/>
<path d="M1153.68,1686.24 A148.94,148.94 0 0 1 1137.23,1732.67" stroke="#B5B5B5" stroke-width="1.0" fill="none"/>
<path d="M1132.88,1682.57 A127.82,127.82 0 0 1 1118.77,1722.42" stroke="#B5B5B5" stroke-width="1.0" fill="none"/>
<path d="M1174.02,1758.1 A193.5,193.5 0 0 1 1134.2,1806.21 L1130.88,1802.41 A188.45,188.45 0 0 0 1169.66,1755.55 Z" stroke="none" stroke-width="0.9" fill="#000"/>
<path d="M1166.37,1754.57 A185.11,185.11 0 0 1 1129.3,1799.36 L1118.28,1786.85 A168.44,168.44 0 0 0 1152.02,1746.08 Z" stroke="#2a2a2a" stroke-width="0.9" fill="none"/>
<path d="M1148.71,1744.13 A164.6,164.6 0 0 1 1115.75,1783.96 L1105,1771.75 A148.33,148.33 0 0 0 1134.71,1735.86 Z" stroke="#2a2a2a" stroke-width="0.9" fill="none"/>
<path d="M1130.71,1733.49 A143.69,143.69 0 0 1 1101.93,1768.26 L1091.05,1755.9 A127.21,127.21 0 0 0 1116.53,1725.11 Z" stroke="#2a2a2a" stroke-width="0.9" fill="none"/>
<path d="M1152.47,1746.52 A169.05,169.05 0 0 1 1118.79,1787.2" stroke="#B5B5B5" stroke-width="1.0" fill="none"/>
<path d="M1135.16,1736.28 A148.94,148.94 0 0 1 1105.5,1772.12" stroke="#B5B5B5" stroke-width="1.0" fill="none"/>
<path d="M1116.99,1725.52 A127.82,127.82 0 0 1 1091.53,1756.28" stroke="#B5B5B5" stroke-width="1.0" fill="none"/>
<path d="M1131.64,1808.41 A193.5,193.5 0 0 1 1082.07,1838.74 L1080.11,1834.09 A188.45,188.45 0 0 0 1128.38,1804.55 Z" stroke="none" stroke-width="0.9" fill="#000"/>
<path d="M1125.62,1802.52 A185.11,185.11 0 0 1 1079.56,1830.7 L1073.02,1815.36 A168.44,168.44 0 0 0 1114.93,1789.72 Z" stroke="#2a2a2a" stroke-width="0.9" fill="none"/>
<path d="M1112.47,1786.77 A164.6,164.6 0 0 1 1071.52,1811.83 L1065.14,1796.86 A148.33,148.33 0 0 0 1102.05,1774.28 Z" stroke="#2a2a2a" stroke-width="0.9" fill="none"/>
<path d="M1099.07,1770.71 A143.69,143.69 0 0 1 1063.32,1792.59 L1056.86,1777.43 A127.21,127.21 0 0 0 1088.52,1758.07 Z" stroke="#2a2a2a" stroke-width="0.9" fill="none"/>
<path d="M1115.21,1790.28 A169.05,169.05 0 0 1 1073.4,1815.86" stroke="#B5B5B5" stroke-width="1.0" fill="none"/>
<path d="M1102.34,1774.83 A148.94,148.94 0 0 1 1065.5,1797.37" stroke="#B5B5B5" stroke-width="1.0" fill="none"/>
<path d="M1088.82,1758.6 A127.82,127.82 0 0 1 1057.2,1777.95" stroke="#B5B5B5" stroke-width="1.0" fill="none"/>
<path d="M1078.95,1840.03 A193.5,193.5 0 0 1 1027.03,1852.86 L1026.51,1847.84 A188.45,188.45 0 0 0 1077.07,1835.34 Z" stroke="none" stroke-width="0.9" fill="#000"/>
<path d="M1075.08,1832.54 A185.11,185.11 0 0 1 1026.97,1844.43 L1025.17,1827.86 A168.44,168.44 0 0 0 1068.95,1817.04 Z" stroke="#2a2a2a" stroke-width="0.9" fill="none"/>
<path d="M1067.53,1813.47 A164.6,164.6 0 0 1 1024.75,1824.04 L1023,1807.87 A148.33,148.33 0 0 0 1061.55,1798.34 Z" stroke="#2a2a2a" stroke-width="0.9" fill="none"/>
<path d="M1059.84,1794.02 A143.69,143.69 0 0 1 1022.5,1803.25 L1020.72,1786.87 A127.21,127.21 0 0 0 1053.78,1778.7 Z" stroke="#2a2a2a" stroke-width="0.9" fill="none"/>
<path d="M1069.03,1817.66 A169.05,169.05 0 0 1 1025.38,1828.45" stroke="#B5B5B5" stroke-width="1.0" fill="none"/>
<path d="M1061.65,1798.95 A148.94,148.94 0 0 1 1023.19,1808.46" stroke="#B5B5B5" stroke-width="1.0" fill="none"/>
<path d="M1053.9,1779.3 A127.82,127.82 0 0 1 1020.9,1787.46" stroke="#B5B5B5" stroke-width="1.0" fill="none"/>
<path d="M1023.67,1853.18 A193.5,193.5 0 0 1 972.12,1850.73 L973.03,1845.76 A188.45,188.45 0 0 0 1023.23,1848.15 Z" stroke="none" stroke-width="0.9" fill="#000"/>
<path d="M1022.14,1844.89 A185.11,185.11 0 0 1 974.43,1842.62 L977.36,1826.21 A168.44,168.44 0 0 0 1020.78,1828.28 Z" stroke="#2a2a2a" stroke-width="0.9" fill="none"/>
<path d="M1020.46,1824.45 A164.6,164.6 0 0 1 978.03,1822.43 L980.9,1806.42 A148.33,148.33 0 0 0 1019.13,1808.24 Z" stroke="#2a2a2a" stroke-width="0.9" fill="none"/>
<path d="M1018.75,1803.6 A143.69,143.69 0 0 1 981.72,1801.84 L984.61,1785.63 A127.21,127.21 0 0 0 1017.41,1787.19 Z" stroke="#2a2a2a" stroke-width="0.9" fill="none"/>
<path d="M1020.68,1828.89 A169.05,169.05 0 0 1 977.4,1826.84" stroke="#B5B5B5" stroke-width="1.0" fill="none"/>
<path d="M1019.05,1808.85 A148.94,148.94 0 0 1 980.92,1807.04" stroke="#B5B5B5" stroke-width="1.0" fill="none"/>
<path d="M1017.34,1787.8 A127.82,127.82 0 0 1 984.62,1786.25" stroke="#B5B5B5" stroke-width="1.0" fill="none"/>
<path d="M968.8,1850.09 A193.5,193.5 0 0 1 921.89,1834.18 L924.11,1829.64 A188.45,188.45 0 0 0 969.8,1845.14 Z" stroke="none" stroke-width="0.9" fill="#000"/>
<path d="M969.67,1841.71 A185.11,185.11 0 0 1 926.3,1827 L933.57,1811.99 A168.44,168.44 0 0 0 973.03,1825.38 Z" stroke="#2a2a2a" stroke-width="0.9" fill="none"/>
<path d="M973.8,1821.62 A164.6,164.6 0 0 1 935.24,1808.54 L942.33,1793.9 A148.33,148.33 0 0 0 977.08,1805.69 Z" stroke="#2a2a2a" stroke-width="0.9" fill="none"/>
<path d="M978.02,1801.13 A143.69,143.69 0 0 1 944.36,1789.71 L951.54,1774.89 A127.21,127.21 0 0 0 981.34,1785 Z" stroke="#2a2a2a" stroke-width="0.9" fill="none"/>
<path d="M972.76,1825.94 A169.05,169.05 0 0 1 933.44,1812.6" stroke="#B5B5B5" stroke-width="1.0" fill="none"/>
<path d="M976.83,1806.25 A148.94,148.94 0 0 1 942.19,1794.5" stroke="#B5B5B5" stroke-width="1.0" fill="none"/>
<path d="M981.11,1785.57 A127.82,127.82 0 0 1 951.38,1775.48" stroke="#B5B5B5" stroke-width="1.0" fill="none"/>
<path d="M918.87,1832.66 A193.5,193.5 0 0 1 878.15,1804.76 L881.52,1800.99 A188.45,188.45 0 0 0 921.17,1828.17 Z" stroke="none" stroke-width="0.9" fill="#000"/>
<path d="M921.97,1824.83 A185.11,185.11 0 0 1 884.34,1799.04 L895.39,1786.56 A168.44,168.44 0 0 0 929.63,1810.02 Z" stroke="#2a2a2a" stroke-width="0.9" fill="none"/>
<path d="M931.39,1806.61 A164.6,164.6 0 0 1 897.93,1783.68 L908.71,1771.5 A148.33,148.33 0 0 0 938.86,1792.16 Z" stroke="#2a2a2a" stroke-width="0.9" fill="none"/>
<path d="M941,1788.03 A143.69,143.69 0 0 1 911.79,1768.02 L922.71,1755.68 A127.21,127.21 0 0 0 948.56,1773.4 Z" stroke="#2a2a2a" stroke-width="0.9" fill="none"/>
<path d="M929.22,1810.49 A169.05,169.05 0 0 1 895.1,1787.11" stroke="#B5B5B5" stroke-width="1.0" fill="none"/>
<path d="M938.47,1792.64 A148.94,148.94 0 0 1 908.41,1772.04" stroke="#B5B5B5" stroke-width="1.0" fill="none"/>
<path d="M948.19,1773.89 A127.82,127.82 0 0 1 922.39,1756.21" stroke="#B5B5B5" stroke-width="1.0" fill="none"/>
<path d="M875.65,1802.49 A193.5,193.5 0 0 1 844.21,1765 L848.46,1762.27 A188.45,188.45 0 0 0 879.08,1798.78 Z" stroke="none" stroke-width="0.9" fill="#000"/>
<path d="M880.75,1795.78 A185.11,185.11 0 0 1 851.7,1761.15 L865.69,1752.07 A168.44,168.44 0 0 0 892.13,1783.59 Z" stroke="#2a2a2a" stroke-width="0.9" fill="none"/>
<path d="M894.74,1780.78 A164.6,164.6 0 0 1 868.91,1749.98 L882.56,1741.13 A148.33,148.33 0 0 0 905.84,1768.89 Z" stroke="#2a2a2a" stroke-width="0.9" fill="none"/>
<path d="M909.01,1765.49 A143.69,143.69 0 0 1 886.46,1738.6 L900.28,1729.64 A127.21,127.21 0 0 0 920.24,1753.44 Z" stroke="#2a2a2a" stroke-width="0.9" fill="none"/>
<path d="M891.6,1783.93 A169.05,169.05 0 0 1 865.26,1752.53" stroke="#B5B5B5" stroke-width="1.0" fill="none"/>
<path d="M905.33,1769.24 A148.94,148.94 0 0 1 882.12,1741.57" stroke="#B5B5B5" stroke-width="1.0" fill="none"/>
<path d="M919.75,1753.81 A127.82,127.82 0 0 1 899.83,1730.06" stroke="#B5B5B5" stroke-width="1.0" fill="none"/>
<path d="M842.41,1762.14 A193.5,193.5 0 0 1 824.29,1724.11 L829.06,1722.44 A188.45,188.45 0 0 0 846.71,1759.49 Z" stroke="none" stroke-width="0.9" fill="#000"/>
<path d="M849.12,1757.05 A185.11,185.11 0 0 1 832.47,1722.11 L848.19,1716.55 A168.44,168.44 0 0 0 863.34,1748.34 Z" stroke="#2a2a2a" stroke-width="0.9" fill="none"/>
<path d="M866.61,1746.34 A164.6,164.6 0 0 1 851.81,1715.27 L867.15,1709.85 A148.33,148.33 0 0 0 880.49,1737.84 Z" stroke="#2a2a2a" stroke-width="0.9" fill="none"/>
<path d="M884.45,1735.42 A143.69,143.69 0 0 1 871.53,1708.3 L887.06,1702.81 A127.21,127.21 0 0 0 898.5,1726.82 Z" stroke="#2a2a2a" stroke-width="0.9" fill="none"/>
<path d="M862.74,1748.53 A169.05,169.05 0 0 1 847.67,1716.89" stroke="#B5B5B5" stroke-width="1.0" fill="none"/>
<path d="M879.9,1738.05 A148.94,148.94 0 0 1 866.62,1710.17" stroke="#B5B5B5" stroke-width="1.0" fill="none"/>
<path d="M897.92,1727.04 A127.82,127.82 0 0 1 886.53,1703.11" stroke="#B5B5B5" stroke-width="1.0" fill="none"/>
<path d="M823.2,1720.91 A193.5,193.5 0 0 1 814.77,1682.54 L819.79,1681.96 A188.45,188.45 0 0 0 828,1719.33 Z" stroke="none" stroke-width="0.9" fill="#000"/>
<path d="M830.92,1717.52 A185.11,185.11 0 0 1 823.2,1682.38 L839.75,1680.4 A168.44,168.44 0 0 0 846.78,1712.37 Z" stroke="#2a2a2a" stroke-width="0.9" fill="none"/>
<path d="M850.43,1711.19 A164.6,164.6 0 0 1 843.56,1679.95 L859.72,1678.02 A148.33,148.33 0 0 0 865.9,1706.17 Z" stroke="#2a2a2a" stroke-width="0.9" fill="none"/>
<path d="M870.33,1704.74 A143.69,143.69 0 0 1 864.33,1677.46 L880.69,1675.51 A127.21,127.21 0 0 0 885.99,1699.65 Z" stroke="#2a2a2a" stroke-width="0.9" fill="none"/>
<path d="M846.16,1712.42 A169.05,169.05 0 0 1 839.17,1680.62" stroke="#B5B5B5" stroke-width="1.0" fill="none"/>
<path d="M865.29,1706.23 A148.94,148.94 0 0 1 859.13,1678.22" stroke="#B5B5B5" stroke-width="1.0" fill="none"/>
<path d="M885.38,1699.73 A127.82,127.82 0 0 1 880.1,1675.69" stroke="#B5B5B5" stroke-width="1.0" fill="none"/>
<path d="M814.41,1679.18 A193.5,193.5 0 0 1 814.41,1641.66 L819.44,1642.15 A188.45,188.45 0 0 0 819.44,1678.69 Z" stroke="none" stroke-width="0.9" fill="#000"/>
<path d="M822.68,1677.57 A185.11,185.11 0 0 1 822.68,1643.28 L839.28,1644.82 A168.44,168.44 0 0 0 839.28,1676.02 Z" stroke="#2a2a2a" stroke-width="0.9" fill="none"/>
<path d="M843.11,1675.66 A164.6,164.6 0 0 1 843.1,1645.17 L859.3,1646.68 A148.33,148.33 0 0 0 859.31,1674.16 Z" stroke="#2a2a2a" stroke-width="0.9" fill="none"/>
<path d="M863.93,1673.72 A143.69,143.69 0 0 1 863.93,1647.11 L880.33,1648.63 A127.21,127.21 0 0 0 880.33,1672.2 Z" stroke="#2a2a2a" stroke-width="0.9" fill="none"/>
<path d="M838.67,1675.93 A169.05,169.05 0 0 1 838.66,1644.91" stroke="#B5B5B5" stroke-width="1.0" fill="none"/>
<path d="M858.69,1674.08 A148.94,148.94 0 0 1 858.69,1646.75" stroke="#B5B5B5" stroke-width="1.0" fill="none"/>
<path d="M879.72,1672.14 A127.82,127.82 0 0 1 879.72,1648.69" stroke="#B5B5B5" stroke-width="1.0" fill="none"/>
<path d="M814.77,1638.3 A193.5,193.5 0 0 1 821.34,1605.88 L826.19,1607.31 A188.45,188.45 0 0 0 819.79,1638.88 Z" stroke="none" stroke-width="0.9" fill="#000"/>
<path d="M823.19,1638.46 A185.11,185.11 0 0 1 829.16,1609.02 L845.18,1613.65 A168.44,168.44 0 0 0 839.75,1640.43 Z" stroke="#2a2a2a" stroke-width="0.9" fill="none"/>
<path d="M843.56,1640.89 A164.6,164.6 0 0 1 848.87,1614.71 L864.49,1619.23 A148.33,148.33 0 0 0 859.71,1642.82 Z" stroke="#2a2a2a" stroke-width="0.9" fill="none"/>
<path d="M864.33,1643.37 A143.69,143.69 0 0 1 868.96,1620.52 L884.78,1625.09 A127.21,127.21 0 0 0 880.68,1645.32 Z" stroke="#2a2a2a" stroke-width="0.9" fill="none"/>
<path d="M839.16,1640.22 A169.05,169.05 0 0 1 844.55,1613.62" stroke="#B5B5B5" stroke-width="1.0" fill="none"/>
<path d="M859.13,1642.62 A148.94,148.94 0 0 1 863.88,1619.19" stroke="#B5B5B5" stroke-width="1.0" fill="none"/>
<path d="M880.09,1645.14 A127.82,127.82 0 0 1 884.17,1625.03" stroke="#B5B5B5" stroke-width="1.0" fill="none"/>
<path d="M822.32,1602.65 A193.5,193.5 0 0 1 833.35,1575.04 L837.88,1577.27 A188.45,188.45 0 0 0 827.14,1604.16 Z" stroke="none" stroke-width="0.9" fill="#000"/>
<path d="M830.57,1604.38 A185.11,185.11 0 0 1 840.52,1579.46 L855.51,1586.75 A168.44,168.44 0 0 0 846.46,1609.43 Z" stroke="#2a2a2a" stroke-width="0.9" fill="none"/>
<path d="M850.12,1610.59 A164.6,164.6 0 0 1 858.97,1588.43 L873.6,1595.54 A148.33,148.33 0 0 0 865.62,1615.51 Z" stroke="#2a2a2a" stroke-width="0.9" fill="none"/>
<path d="M870.05,1616.92 A143.69,143.69 0 0 1 877.78,1597.58 L892.59,1604.78 A127.21,127.21 0 0 0 885.75,1621.9 Z" stroke="#2a2a2a" stroke-width="0.9" fill="none"/>
<path d="M845.92,1609.1 A169.05,169.05 0 0 1 854.9,1586.62" stroke="#B5B5B5" stroke-width="1.0" fill="none"/>
<path d="M865.08,1615.21 A148.94,148.94 0 0 1 872.99,1595.4" stroke="#B5B5B5" stroke-width="1.0" fill="none"/>
<path d="M885.21,1621.61 A127.82,127.82 0 0 1 892,1604.61" stroke="#B5B5B5" stroke-width="1.0" fill="none"/>
<path d="M834.86,1572.02 A193.5,193.5 0 0 1 849.77,1547.62 L853.87,1550.56 A188.45,188.45 0 0 0 839.36,1574.33 Z" stroke="none" stroke-width="0.9" fill="#000"/>
<path d="M842.69,1575.13 A185.11,185.11 0 0 1 856.11,1553.16 L869.7,1562.82 A168.44,168.44 0 0 0 857.49,1582.81 Z" stroke="#2a2a2a" stroke-width="0.9" fill="none"/>
<path d="M860.9,1584.58 A164.6,164.6 0 0 1 872.83,1565.04 L886.09,1574.47 A148.33,148.33 0 0 0 875.34,1592.07 Z" stroke="#2a2a2a" stroke-width="0.9" fill="none"/>
<path d="M879.47,1594.22 A143.69,143.69 0 0 1 889.88,1577.16 L903.31,1586.7 A127.21,127.21 0 0 0 894.08,1601.8 Z" stroke="#2a2a2a" stroke-width="0.9" fill="none"/>
<path d="M857.02,1582.4 A169.05,169.05 0 0 1 869.12,1562.59" stroke="#B5B5B5" stroke-width="1.0" fill="none"/>
<path d="M874.86,1591.68 A148.94,148.94 0 0 1 885.52,1574.22" stroke="#B5B5B5" stroke-width="1.0" fill="none"/>
<path d="M893.6,1601.42 A127.82,127.82 0 0 1 902.75,1586.44" stroke="#B5B5B5" stroke-width="1.0" fill="none"/>
<path d="M851.76,1544.89 A193.5,193.5 0 0 1 865.64,1528.26 L869.34,1531.71 A188.45,188.45 0 0 0 855.81,1547.91 Z" stroke="none" stroke-width="0.9" fill="#000"/>
<path d="M858.97,1549.25 A185.11,185.11 0 0 1 871.22,1534.58 L883.45,1545.91 A168.44,168.44 0 0 0 872.3,1559.26 Z" stroke="#2a2a2a" stroke-width="0.9" fill="none"/>
<path d="M875.37,1561.57 A164.6,164.6 0 0 1 886.27,1548.52 L898.2,1559.58 A148.33,148.33 0 0 0 888.38,1571.33 Z" stroke="#2a2a2a" stroke-width="0.9" fill="none"/>
<path d="M892.1,1574.12 A143.69,143.69 0 0 1 901.61,1562.74 L913.69,1573.93 A127.21,127.21 0 0 0 905.27,1584.01 Z" stroke="#2a2a2a" stroke-width="0.9" fill="none"/>
<path d="M871.91,1558.78 A169.05,169.05 0 0 1 882.9,1545.61" stroke="#B5B5B5" stroke-width="1.0" fill="none"/>
<path d="M887.98,1570.87 A148.94,148.94 0 0 1 897.67,1559.26" stroke="#B5B5B5" stroke-width="1.0" fill="none"/>
<path d="M904.85,1583.56 A127.82,127.82 0 0 1 913.17,1573.6" stroke="#B5B5B5" stroke-width="1.0" fill="none"/>
<path d="M867.97,1525.81 A193.5,193.5 0 0 1 884.99,1510.21 L888.18,1514.13 A188.45,188.45 0 0 0 871.6,1529.33 Z" stroke="none" stroke-width="0.9" fill="#000"/>
<path d="M874.56,1531.07 A185.11,185.11 0 0 1 889.66,1517.23 L900.22,1530.13 A168.44,168.44 0 0 0 886.49,1542.72 Z" stroke="#2a2a2a" stroke-width="0.9" fill="none"/>
<path d="M889.24,1545.4 A164.6,164.6 0 0 1 902.66,1533.1 L912.97,1545.68 A148.33,148.33 0 0 0 900.88,1556.76 Z" stroke="#2a2a2a" stroke-width="0.9" fill="none"/>
<path d="M904.2,1560.01 A143.69,143.69 0 0 1 915.92,1549.27 L926.36,1562.01 A127.21,127.21 0 0 0 915.98,1571.52 Z" stroke="#2a2a2a" stroke-width="0.9" fill="none"/>
<path d="M886.16,1542.19 A169.05,169.05 0 0 1 899.73,1529.75" stroke="#B5B5B5" stroke-width="1.0" fill="none"/>
<path d="M900.53,1556.25 A148.94,148.94 0 0 1 912.49,1545.29" stroke="#B5B5B5" stroke-width="1.0" fill="none"/>
<path d="M915.63,1571.02 A127.82,127.82 0 0 1 925.89,1561.61" stroke="#B5B5B5" stroke-width="1.0" fill="none"/>
<path d="M887.63,1508.1 A193.5,193.5 0 0 1 902,1497.87 L904.74,1502.11 A188.45,188.45 0 0 0 890.75,1512.08 Z" stroke="none" stroke-width="0.9" fill="#000"/>
<path d="M893.44,1514.21 A185.11,185.11 0 0 1 905.87,1505.35 L914.98,1519.32 A168.44,168.44 0 0 0 903.67,1527.38 Z" stroke="#2a2a2a" stroke-width="0.9" fill="none"/>
<path d="M906.03,1530.41 A164.6,164.6 0 0 1 917.08,1522.53 L925.96,1536.16 A148.33,148.33 0 0 0 916.01,1543.26 Z" stroke="#2a2a2a" stroke-width="0.9" fill="none"/>
<path d="M918.86,1546.93 A143.69,143.69 0 0 1 928.5,1540.05 L937.5,1553.85 A127.21,127.21 0 0 0 928.96,1559.93 Z" stroke="#2a2a2a" stroke-width="0.9" fill="none"/>
<path d="M903.42,1526.81 A169.05,169.05 0 0 1 914.52,1518.89" stroke="#B5B5B5" stroke-width="1.0" fill="none"/>
<path d="M915.74,1542.7 A148.94,148.94 0 0 1 925.52,1535.72" stroke="#B5B5B5" stroke-width="1.0" fill="none"/>
<path d="M928.68,1559.39 A127.82,127.82 0 0 1 937.08,1553.4" stroke="#B5B5B5" stroke-width="1.0" fill="none"/>
<path d="M904.85,1496.06 A193.5,193.5 0 0 1 921.28,1486.93 L923.51,1491.45 A188.45,188.45 0 0 0 907.52,1500.35 Z" stroke="none" stroke-width="0.9" fill="#000"/>
<path d="M909.96,1502.76 A185.11,185.11 0 0 1 924.27,1494.8 L931.72,1509.72 A168.44,168.44 0 0 0 918.7,1516.96 Z" stroke="#2a2a2a" stroke-width="0.9" fill="none"/>
<path d="M920.72,1520.23 A164.6,164.6 0 0 1 933.44,1513.15 L940.71,1527.71 A148.33,148.33 0 0 0 929.24,1534.08 Z" stroke="#2a2a2a" stroke-width="0.9" fill="none"/>
<path d="M931.68,1538.04 A143.69,143.69 0 0 1 942.78,1531.86 L950.14,1546.6 A127.21,127.21 0 0 0 940.31,1552.06 Z" stroke="#2a2a2a" stroke-width="0.9" fill="none"/>
<path d="M918.51,1516.36 A169.05,169.05 0 0 1 931.32,1509.24" stroke="#B5B5B5" stroke-width="1.0" fill="none"/>
<path d="M929.04,1533.5 A148.94,148.94 0 0 1 940.32,1527.22" stroke="#B5B5B5" stroke-width="1.0" fill="none"/>
<path d="M940.09,1551.49 A127.82,127.82 0 0 1 949.77,1546.1" stroke="#B5B5B5" stroke-width="1.0" fill="none"/>
<path d="M924.32,1485.46 A193.5,193.5 0 0 1 978.59,1469 L979.33,1473.99 A188.45,188.45 0 0 0 926.48,1490.02 Z" stroke="none" stroke-width="0.9" fill="#000"/>
<path d="M928.63,1492.69 A185.11,185.11 0 0 1 979.02,1477.41 L981.54,1493.89 A168.44,168.44 0 0 0 935.69,1507.8 Z" stroke="#2a2a2a" stroke-width="0.9" fill="none"/>
<path d="M937.31,1511.28 A164.6,164.6 0 0 1 982.12,1497.69 L984.58,1513.77 A148.33,148.33 0 0 0 944.2,1526.02 Z" stroke="#2a2a2a" stroke-width="0.9" fill="none"/>
<path d="M946.17,1530.23 A143.69,143.69 0 0 1 985.28,1518.37 L987.77,1534.65 A127.21,127.21 0 0 0 953.14,1545.15 Z" stroke="#2a2a2a" stroke-width="0.9" fill="none"/>
<path d="M935.57,1507.19 A169.05,169.05 0 0 1 981.3,1493.32" stroke="#B5B5B5" stroke-width="1.0" fill="none"/>
<path d="M944.06,1525.41 A148.94,148.94 0 0 1 984.36,1513.19" stroke="#B5B5B5" stroke-width="1.0" fill="none"/>
<path d="M952.99,1544.55 A127.82,127.82 0 0 1 987.57,1534.06" stroke="#B5B5B5" stroke-width="1.0" fill="none"/>
<path d="M981.93,1468.53 A193.5,193.5 0 0 1 1003.62,1466.93 L1003.71,1471.98 A188.45,188.45 0 0 0 982.59,1473.54 Z" stroke="none" stroke-width="0.9" fill="#000"/>
<path d="M983.82,1476.74 A185.11,185.11 0 0 1 1002.96,1475.33 L1003.33,1492 A168.44,168.44 0 0 0 985.91,1493.28 Z" stroke="#2a2a2a" stroke-width="0.9" fill="none"/>
<path d="M986.39,1497.09 A164.6,164.6 0 0 1 1003.41,1495.84 L1003.76,1512.1 A148.33,148.33 0 0 0 988.42,1513.23 Z" stroke="#2a2a2a" stroke-width="0.9" fill="none"/>
<path d="M989.01,1517.85 A143.69,143.69 0 0 1 1003.87,1516.75 L1004.22,1533.22 A127.21,127.21 0 0 0 991.07,1534.19 Z" stroke="#2a2a2a" stroke-width="0.9" fill="none"/>
<path d="M985.98,1492.67 A169.05,169.05 0 0 1 1003.16,1491.4" stroke="#B5B5B5" stroke-width="1.0" fill="none"/>
<path d="M988.48,1512.62 A148.94,148.94 0 0 1 1003.62,1511.5" stroke="#B5B5B5" stroke-width="1.0" fill="none"/>
<path d="M991.1,1533.57 A127.82,127.82 0 0 1 1004.1,1532.61" stroke="#B5B5B5" stroke-width="1.0" fill="none"/>
<text x="1055.57" y="1458.51" font-size="20.5" text-anchor="middle" transform="rotate(13.53 1055.57 1458.51)" dominant-baseline="central">1</text>
<text x="1143.91" y="1504.29" font-size="20.5" text-anchor="middle" transform="rotate(41.25 1143.91 1504.29)" dominant-baseline="central">2</text>
<text x="1196.98" y="1576.59" font-size="20.5" text-anchor="middle" transform="rotate(66.2 1196.98 1576.59)" dominant-baseline="central">3</text>
<text x="1214.56" y="1654.3" font-size="20.5" text-anchor="middle" transform="rotate(88.32 1214.56 1654.3)" dominant-baseline="central">4</text>
<text x="1202.73" y="1729.74" font-size="20.5" text-anchor="middle" transform="rotate(-70.49 1202.73 1729.74)" dominant-baseline="central">5</text>
<text x="1166.96" y="1792.8" font-size="20.5" text-anchor="middle" transform="rotate(-50.39 1166.96 1792.8)" dominant-baseline="central">6</text>
<text x="1115.38" y="1837.52" font-size="20.5" text-anchor="middle" transform="rotate(-31.46 1115.38 1837.52)" dominant-baseline="central">7</text>
<text x="1056.83" y="1861.98" font-size="20.5" text-anchor="middle" transform="rotate(-13.88 1056.83 1861.98)" dominant-baseline="central">8</text>
<text x="997.14" y="1867.81" font-size="20.5" text-anchor="middle" transform="rotate(2.72 997.14 1867.81)" dominant-baseline="central">9</text>
<text x="940.29" y="1857.04" font-size="20.5" text-anchor="middle" transform="rotate(18.74 940.29 1857.04)" dominant-baseline="central">10</text>
<text x="889.62" y="1831.69" font-size="20.5" text-anchor="middle" transform="rotate(34.42 889.62 1831.69)" dominant-baseline="central">11</text>
<text x="847.9" y="1793.84" font-size="20.5" text-anchor="middle" transform="rotate(50.01 847.9 1793.84)" dominant-baseline="central">12</text>
<text x="819.54" y="1749.7" font-size="20.5" text-anchor="middle" transform="rotate(64.53 819.54 1749.7)" dominant-baseline="central">13</text>
<text x="804.2" y="1704.98" font-size="20.5" text-anchor="middle" transform="rotate(77.6 804.2 1704.98)" dominant-baseline="central">14</text>
<text x="799.35" y="1660.42" font-size="20.5" text-anchor="middle" transform="rotate(89.99 799.35 1660.42)" dominant-baseline="central">15</text>
<text x="803.49" y="1619.14" font-size="20.5" text-anchor="middle" transform="rotate(281.46 803.49 1619.14)" dominant-baseline="central">16</text>
<text x="814.16" y="1583.39" font-size="20.5" text-anchor="middle" transform="rotate(291.77 814.16 1583.39)" dominant-baseline="central">17</text>
<text x="829.79" y="1552.17" font-size="20.5" text-anchor="middle" transform="rotate(301.41 829.79 1552.17)" dominant-baseline="central">18</text>
<text x="847.61" y="1527.31" font-size="20.5" text-anchor="middle" transform="rotate(309.86 847.61 1527.31)" dominant-baseline="central">19</text>
<text x="866.69" y="1507.33" font-size="20.5" text-anchor="middle" transform="rotate(317.49 866.69 1507.33)" dominant-baseline="central">20</text>
<text x="886.49" y="1491.3" font-size="20.5" text-anchor="middle" transform="rotate(324.52 886.49 1491.3)" dominant-baseline="central">21</text>
<text x="906.08" y="1478.93" font-size="20.5" text-anchor="middle" transform="rotate(330.92 906.08 1478.93)" dominant-baseline="central">22</text>
<text x="946.74" y="1461.69" font-size="20.5" text-anchor="middle" transform="rotate(343.13 946.74 1461.69)" dominant-baseline="central">X</text>
<text x="991.71" y="1453.32" font-size="20.5" text-anchor="middle" transform="rotate(355.78 991.71 1453.32)" dominant-baseline="central">Y</text>
<circle cx="981.3" cy="1492.5" r="1.55" fill="#FF0000"/>
<circle cx="1007.6" cy="1491.2" r="1.55" fill="#FF0000"/>
<circle cx="920.4" cy="1495.6" r="1.55" fill="#FF0000"/>
<circle cx="934.4" cy="1506.9" r="1.55" fill="#FF0000"/>
<circle cx="905.5" cy="1524.5" r="1.55" fill="#FF0000"/>
<circle cx="893.7" cy="1534.2" r="1.55" fill="#FF0000"/>
<circle cx="869.3" cy="1561.2" r="1.55" fill="#FF0000"/>
<circle cx="854" cy="1586.6" r="1.55" fill="#FF0000"/>
<circle cx="849.2" cy="1598" r="1.55" fill="#FF0000"/>
<circle cx="827.4" cy="1609.3" r="1.55" fill="#FF0000"/>
<circle cx="841.4" cy="1620.3" r="1.55" fill="#FF0000"/>
<circle cx="1007.8" cy="1491.2" r="1.55" fill="#FF0000"/>
<circle cx="1061.6" cy="1500" r="1.55" fill="#FF0000"/>
<circle cx="1137" cy="1552.8" r="1.55" fill="#FF0000"/>
<circle cx="1141.6" cy="1557.8" r="1.55" fill="#FF0000"/>
<circle cx="1148" cy="1567.2" r="1.55" fill="#FF0000"/>
<circle cx="1152.1" cy="1573.1" r="1.55" fill="#FF0000"/>
<circle cx="1154" cy="1575" r="1.55" fill="#FF0000"/>
<circle cx="1156.5" cy="1580.7" r="1.55" fill="#FF0000"/>
<circle cx="1170.9" cy="1621.1" r="1.55" fill="#FF0000"/>
<circle cx="1172.4" cy="1627.2" r="1.55" fill="#FF0000"/>
<circle cx="820.7" cy="1672" r="1.55" fill="#FF0000"/>
<circle cx="825.5" cy="1702.1" r="1.55" fill="#FF0000"/>
<circle cx="882.9" cy="1775.4" r="1.55" fill="#FF0000"/>
<circle cx="912.1" cy="1800.5" r="1.55" fill="#FF0000"/>
<circle cx="916.3" cy="1803" r="1.55" fill="#FF0000"/>
<circle cx="920.6" cy="1805.6" r="1.55" fill="#FF0000"/>
<circle cx="933.2" cy="1812.1" r="1.55" fill="#FF0000"/>
<circle cx="960.5" cy="1822.5" r="1.55" fill="#FF0000"/>
<circle cx="970.6" cy="1825.5" r="1.55" fill="#FF0000"/>
<circle cx="1007.3" cy="1828.8" r="1.55" fill="#FF0000"/>
<circle cx="1171.9" cy="1694.2" r="1.55" fill="#FF0000"/>
<circle cx="1155.5" cy="1740.5" r="1.55" fill="#FF0000"/>
<circle cx="1135.5" cy="1769.4" r="1.55" fill="#FF0000"/>
<circle cx="1118.1" cy="1787" r="1.55" fill="#FF0000"/>
<circle cx="1114.6" cy="1790.1" r="1.55" fill="#FF0000"/>
<circle cx="1099.3" cy="1801.4" r="1.55" fill="#FF0000"/>
<circle cx="1089.2" cy="1807.7" r="1.55" fill="#FF0000"/>
<circle cx="1076.4" cy="1814.4" r="1.55" fill="#FF0000"/>
<circle cx="1051.3" cy="1822.8" r="1.55" fill="#FF0000"/>
<circle cx="1019.5" cy="1829.1" r="1.55" fill="#FF0000"/>
<circle cx="1168" cy="1690" r="1.55" fill="#FF0000"/>
<circle cx="1182" cy="1712" r="1.55" fill="#FF0000"/>
<path d="M838.76,1634.71 A170.19,170.19 0 0 1 840.34,1625.89" stroke="#FF0000" stroke-width="3.4" fill="none" stroke-linecap="round"/>
<path d="M1189.76,1630.31 A185.22,185.22 0 0 1 1191.34,1642.3" stroke="#FF0000" stroke-width="3.4" fill="none" stroke-linecap="round"/>
<circle cx="982.2" cy="1513.2" r="1.55" fill="#0000FF"/>
<circle cx="941.1" cy="1517.5" r="1.55" fill="#0000FF"/>
<circle cx="944.9" cy="1525" r="1.55" fill="#0000FF"/>
<circle cx="938.2" cy="1527.6" r="1.55" fill="#0000FF"/>
<circle cx="935.4" cy="1529.3" r="1.55" fill="#0000FF"/>
<circle cx="932.6" cy="1531" r="1.55" fill="#0000FF"/>
<circle cx="913.1" cy="1533.5" r="1.55" fill="#0000FF"/>
<circle cx="925" cy="1536.1" r="1.55" fill="#0000FF"/>
<circle cx="922" cy="1537.7" r="1.55" fill="#0000FF"/>
<circle cx="919.4" cy="1539.2" r="1.55" fill="#0000FF"/>
<circle cx="903.4" cy="1541.5" r="1.55" fill="#0000FF"/>
<circle cx="898" cy="1547" r="1.55" fill="#0000FF"/>
<circle cx="912.5" cy="1544.9" r="1.55" fill="#0000FF"/>
<circle cx="908.1" cy="1548.6" r="1.55" fill="#0000FF"/>
<circle cx="905.5" cy="1551.1" r="1.55" fill="#0000FF"/>
<circle cx="900.8" cy="1555.5" r="1.55" fill="#0000FF"/>
<circle cx="898" cy="1558.7" r="1.55" fill="#0000FF"/>
<circle cx="878.9" cy="1568.5" r="1.55" fill="#0000FF"/>
<circle cx="890.5" cy="1567.1" r="1.55" fill="#0000FF"/>
<circle cx="887.9" cy="1570.4" r="1.55" fill="#0000FF"/>
<circle cx="885.4" cy="1573.8" r="1.55" fill="#0000FF"/>
<circle cx="881.3" cy="1580.7" r="1.55" fill="#0000FF"/>
<circle cx="874.7" cy="1591.4" r="1.55" fill="#0000FF"/>
<circle cx="872.8" cy="1595.4" r="1.55" fill="#0000FF"/>
<circle cx="871" cy="1599.5" r="1.55" fill="#0000FF"/>
<circle cx="866.6" cy="1609" r="1.55" fill="#0000FF"/>
<circle cx="865.3" cy="1612.5" r="1.55" fill="#0000FF"/>
<circle cx="864.1" cy="1615.9" r="1.55" fill="#0000FF"/>
<circle cx="862.6" cy="1621.5" r="1.55" fill="#0000FF"/>
<circle cx="858.4" cy="1650.4" r="1.55" fill="#0000FF"/>
<circle cx="858.4" cy="1653.9" r="1.55" fill="#0000FF"/>
<circle cx="858.4" cy="1657.3" r="1.55" fill="#0000FF"/>
<circle cx="858.4" cy="1664.2" r="1.55" fill="#0000FF"/>
<circle cx="1016.3" cy="1511.8" r="1.55" fill="#0000FF"/>
<circle cx="1019.6" cy="1512.1" r="1.55" fill="#0000FF"/>
<circle cx="1022.9" cy="1512.4" r="1.55" fill="#0000FF"/>
<circle cx="1036.2" cy="1514.1" r="1.55" fill="#0000FF"/>
<circle cx="1048.4" cy="1517.8" r="1.55" fill="#0000FF"/>
<circle cx="1057.2" cy="1520.7" r="1.55" fill="#0000FF"/>
<circle cx="1073.5" cy="1527.5" r="1.55" fill="#0000FF"/>
<circle cx="1077" cy="1529.2" r="1.55" fill="#0000FF"/>
<circle cx="1080.4" cy="1531" r="1.55" fill="#0000FF"/>
<circle cx="1094.9" cy="1530.4" r="1.55" fill="#0000FF"/>
<circle cx="1107.2" cy="1539.2" r="1.55" fill="#0000FF"/>
<circle cx="1111.9" cy="1544.2" r="1.55" fill="#0000FF"/>
<circle cx="1116.6" cy="1548.3" r="1.55" fill="#0000FF"/>
<circle cx="1119.4" cy="1550.8" r="1.55" fill="#0000FF"/>
<circle cx="1122.3" cy="1542.6" r="1.55" fill="#0000FF"/>
<circle cx="1125" cy="1570" r="1.55" fill="#0000FF"/>
<circle cx="1136.4" cy="1571.9" r="1.55" fill="#0000FF"/>
<circle cx="1132" cy="1580.7" r="1.55" fill="#0000FF"/>
<circle cx="1134.3" cy="1584.8" r="1.55" fill="#0000FF"/>
<circle cx="1136.5" cy="1589" r="1.55" fill="#0000FF"/>
<circle cx="1138.8" cy="1593.1" r="1.55" fill="#0000FF"/>
<circle cx="1141" cy="1597.3" r="1.55" fill="#0000FF"/>
<circle cx="1143.3" cy="1601.4" r="1.55" fill="#0000FF"/>
<circle cx="1146.4" cy="1588.8" r="1.55" fill="#0000FF"/>
<circle cx="1150.2" cy="1597.6" r="1.55" fill="#0000FF"/>
<circle cx="1151.9" cy="1601.5" r="1.55" fill="#0000FF"/>
<circle cx="1153.5" cy="1605.4" r="1.55" fill="#0000FF"/>
<circle cx="1155.2" cy="1609.3" r="1.55" fill="#0000FF"/>
<circle cx="1149.6" cy="1620.9" r="1.55" fill="#0000FF"/>
<circle cx="1150.8" cy="1625.3" r="1.55" fill="#0000FF"/>
<circle cx="1155.5" cy="1656.1" r="1.55" fill="#0000FF"/>
<circle cx="1163.4" cy="1661.7" r="1.55" fill="#0000FF"/>
<circle cx="1155.5" cy="1663" r="1.55" fill="#0000FF"/>
<circle cx="1155.5" cy="1659.5" r="1.55" fill="#0000FF"/>
<circle cx="1163" cy="1668.2" r="1.55" fill="#0000FF"/>
<circle cx="1154.6" cy="1674.9" r="1.55" fill="#0000FF"/>
<circle cx="1161.5" cy="1680.8" r="1.55" fill="#0000FF"/>
<circle cx="1162.1" cy="1682.6" r="1.55" fill="#0000FF"/>
<circle cx="1150.8" cy="1691.4" r="1.55" fill="#0000FF"/>
<circle cx="1150.6" cy="1693.5" r="1.55" fill="#0000FF"/>
<circle cx="1150.4" cy="1695.6" r="1.55" fill="#0000FF"/>
<circle cx="1150.2" cy="1697.7" r="1.55" fill="#0000FF"/>
<circle cx="1146.4" cy="1709.3" r="1.55" fill="#0000FF"/>
<circle cx="1144.1" cy="1716.6" r="1.55" fill="#0000FF"/>
<circle cx="1141.4" cy="1722.5" r="1.55" fill="#0000FF"/>
<circle cx="1122.8" cy="1752.1" r="1.55" fill="#0000FF"/>
<circle cx="1112.5" cy="1763.7" r="1.55" fill="#0000FF"/>
<circle cx="1103.9" cy="1772.1" r="1.55" fill="#0000FF"/>
<circle cx="1112.9" cy="1775" r="1.55" fill="#0000FF"/>
<circle cx="1117.5" cy="1771.6" r="1.55" fill="#0000FF"/>
<circle cx="1097.4" cy="1777.5" r="1.55" fill="#0000FF"/>
<circle cx="1093.6" cy="1780.4" r="1.55" fill="#0000FF"/>
<circle cx="1086.7" cy="1784.8" r="1.55" fill="#0000FF"/>
<circle cx="1084.5" cy="1785.9" r="1.55" fill="#0000FF"/>
<circle cx="1082.3" cy="1787" r="1.55" fill="#0000FF"/>
<circle cx="1076" cy="1791.1" r="1.55" fill="#0000FF"/>
<circle cx="1074.8" cy="1792" r="1.55" fill="#0000FF"/>
<circle cx="1083.9" cy="1796.6" r="1.55" fill="#0000FF"/>
<circle cx="1064.1" cy="1796.6" r="1.55" fill="#0000FF"/>
<circle cx="1037.7" cy="1805.2" r="1.55" fill="#0000FF"/>
<circle cx="1035.2" cy="1805.6" r="1.55" fill="#0000FF"/>
<circle cx="1026.6" cy="1807.1" r="1.55" fill="#0000FF"/>
<circle cx="1021.4" cy="1807.4" r="1.55" fill="#0000FF"/>
<circle cx="1016.1" cy="1808.1" r="1.55" fill="#0000FF"/>
<circle cx="1030.2" cy="1815" r="1.55" fill="#0000FF"/>
<circle cx="1018.6" cy="1816.2" r="1.55" fill="#0000FF"/>
<circle cx="858.4" cy="1655" r="1.55" fill="#0000FF"/>
<circle cx="858.4" cy="1660" r="1.55" fill="#0000FF"/>
<circle cx="858.4" cy="1665.1" r="1.55" fill="#0000FF"/>
<circle cx="854.4" cy="1700" r="1.55" fill="#0000FF"/>
<circle cx="860.3" cy="1716.3" r="1.55" fill="#0000FF"/>
<circle cx="867.2" cy="1711.6" r="1.55" fill="#0000FF"/>
<circle cx="869.3" cy="1716.3" r="1.55" fill="#0000FF"/>
<circle cx="871.3" cy="1721" r="1.55" fill="#0000FF"/>
<circle cx="873.4" cy="1725.7" r="1.55" fill="#0000FF"/>
<circle cx="875.4" cy="1730.4" r="1.55" fill="#0000FF"/>
<circle cx="875.4" cy="1746.5" r="1.55" fill="#0000FF"/>
<circle cx="887.9" cy="1748.6" r="1.55" fill="#0000FF"/>
<circle cx="889.9" cy="1751.1" r="1.55" fill="#0000FF"/>
<circle cx="891.8" cy="1753.6" r="1.55" fill="#0000FF"/>
<circle cx="893.8" cy="1756.1" r="1.55" fill="#0000FF"/>
<circle cx="895.7" cy="1758.7" r="1.55" fill="#0000FF"/>
<circle cx="897.7" cy="1761.2" r="1.55" fill="#0000FF"/>
<circle cx="895.2" cy="1770.4" r="1.55" fill="#0000FF"/>
<circle cx="898" cy="1773.1" r="1.55" fill="#0000FF"/>
<circle cx="905.5" cy="1768.1" r="1.55" fill="#0000FF"/>
<circle cx="909.3" cy="1772.5" r="1.55" fill="#0000FF"/>
<circle cx="911.8" cy="1774.4" r="1.55" fill="#0000FF"/>
<circle cx="916.6" cy="1778.4" r="1.55" fill="#0000FF"/>
<circle cx="924.1" cy="1783.4" r="1.55" fill="#0000FF"/>
<circle cx="930.7" cy="1787.2" r="1.55" fill="#0000FF"/>
<circle cx="937" cy="1791.4" r="1.55" fill="#0000FF"/>
<circle cx="942.6" cy="1793.9" r="1.55" fill="#0000FF"/>
<circle cx="950.8" cy="1797.6" r="1.55" fill="#0000FF"/>
<circle cx="962.1" cy="1802" r="1.55" fill="#0000FF"/>
<circle cx="970.6" cy="1804.3" r="1.55" fill="#0000FF"/>
<circle cx="977.2" cy="1805.2" r="1.55" fill="#0000FF"/>
<circle cx="980.3" cy="1805.8" r="1.55" fill="#0000FF"/>
<circle cx="989.7" cy="1807.4" r="1.55" fill="#0000FF"/>
<circle cx="997.3" cy="1807.9" r="1.55" fill="#0000FF"/>
<circle cx="960.6" cy="1810" r="1.55" fill="#0000FF"/>
<circle cx="974.4" cy="1813.7" r="1.55" fill="#0000FF"/>
<circle cx="991.9" cy="1816.2" r="1.55" fill="#0000FF"/>
<circle cx="907.7" cy="1579.2" r="1.55" fill="#FFC800"/>
<circle cx="1085.2" cy="1559.1" r="1.55" fill="#FFC800"/>
<path d="M1129.45,1735.43 A143.61,143.61 0 0 1 1123.15,1744.86" stroke="#FFC800" stroke-width="3.4" fill="none" stroke-linecap="round"/>
<path d="M1053.35,1779.26 A127.58,127.58 0 0 1 1042.14,1783.04" stroke="#FFC800" stroke-width="3.4" fill="none" stroke-linecap="round"/>
<path d="M924.4,1566.6 L966.5,1614" stroke="#40D0B8" stroke-width="3.2" fill="none" stroke-linecap="round"/>
<line x1="1008" y1="1817.1" x2="891.04" y2="1856.47" stroke="#0000FF" stroke-width="4.4"/>
<path d="M877.3,1861.1 L889.91,1848.41 L888.67,1857.27 L895.02,1863.58 Z" fill="#0000FF"/>
<text x="800.3" y="1879.6" font-size="20.6" font-style="italic">CDKN2A</text>
<path d="M1633.4,1460.6 A195.4,194.4 0 0 1 1722.27,1481.87 L1719.95,1486.39 A190.3,189.32 0 0 0 1633.4,1465.68 Z" stroke="none" stroke-width="0.9" fill="#000"/>
<path d="M1634.22,1469.03 A186.93,185.97 0 0 1 1717.69,1489.01 L1710.1,1503.96 A170.09,169.22 0 0 0 1634.14,1485.78 Z" stroke="#2a2a2a" stroke-width="0.9" fill="none"/>
<path d="M1634.13,1489.63 A166.22,165.37 0 0 1 1708.35,1507.4 L1700.94,1521.99 A149.79,149.02 0 0 0 1634.05,1505.98 Z" stroke="#2a2a2a" stroke-width="0.9" fill="none"/>
<path d="M1634.03,1510.65 A145.1,144.35 0 0 1 1698.83,1526.16 L1691.33,1540.92 A128.46,127.81 0 0 0 1633.96,1527.19 Z" stroke="#2a2a2a" stroke-width="0.9" fill="none"/>
<path d="M1634.29,1485.17 A170.71,169.83 0 0 1 1710.24,1503.35" stroke="#B5B5B5" stroke-width="1.0" fill="none"/>
<path d="M1634.19,1505.37 A150.4,149.63 0 0 1 1701.1,1521.39" stroke="#B5B5B5" stroke-width="1.0" fill="none"/>
<path d="M1634.08,1526.59 A129.08,128.42 0 0 1 1691.5,1540.33" stroke="#B5B5B5" stroke-width="1.0" fill="none"/>
<path d="M1725.3,1483.44 A195.4,194.4 0 0 1 1792.38,1541.97 L1788.23,1544.92 A190.3,189.32 0 0 0 1722.9,1487.92 Z" stroke="none" stroke-width="0.9" fill="#000"/>
<path d="M1722.03,1491.26 A186.93,185.97 0 0 1 1785.01,1546.21 L1771.36,1556.01 A170.09,169.22 0 0 0 1714.05,1506.01 Z" stroke="#2a2a2a" stroke-width="0.9" fill="none"/>
<path d="M1712.21,1509.4 A166.22,165.37 0 0 1 1768.21,1558.27 L1754.89,1567.83 A149.79,149.02 0 0 0 1704.42,1523.79 Z" stroke="#2a2a2a" stroke-width="0.9" fill="none"/>
<path d="M1702.2,1527.9 A145.1,144.35 0 0 1 1751.08,1570.56 L1737.59,1580.24 A128.46,127.81 0 0 0 1694.31,1542.47 Z" stroke="#2a2a2a" stroke-width="0.9" fill="none"/>
<path d="M1714.47,1505.54 A170.71,169.83 0 0 1 1771.77,1555.53" stroke="#B5B5B5" stroke-width="1.0" fill="none"/>
<path d="M1704.83,1523.32 A150.4,149.63 0 0 1 1755.31,1567.37" stroke="#B5B5B5" stroke-width="1.0" fill="none"/>
<path d="M1694.7,1541.99 A129.08,128.42 0 0 1 1738.02,1579.79" stroke="#B5B5B5" stroke-width="1.0" fill="none"/>
<path d="M1794.34,1544.75 A195.4,194.4 0 0 1 1823.75,1611.08 L1818.78,1612.23 A190.3,189.32 0 0 0 1790.14,1547.63 Z" stroke="none" stroke-width="0.9" fill="#000"/>
<path d="M1787.82,1550.2 A186.93,185.97 0 0 1 1815.31,1612.19 L1798.93,1616.05 A170.09,169.22 0 0 0 1773.91,1559.64 Z" stroke="#2a2a2a" stroke-width="0.9" fill="none"/>
<path d="M1770.71,1561.81 A166.22,165.37 0 0 1 1795.15,1616.94 L1779.17,1620.7 A149.79,149.02 0 0 0 1757.14,1571.02 Z" stroke="#2a2a2a" stroke-width="0.9" fill="none"/>
<path d="M1753.26,1573.65 A145.1,144.35 0 0 1 1774.6,1621.77 L1758.41,1625.58 A128.46,127.81 0 0 0 1739.52,1582.98 Z" stroke="#2a2a2a" stroke-width="0.9" fill="none"/>
<path d="M1774.5,1559.42 A170.71,169.83 0 0 1 1799.49,1615.76" stroke="#B5B5B5" stroke-width="1.0" fill="none"/>
<path d="M1757.72,1570.79 A150.4,149.63 0 0 1 1779.73,1620.43" stroke="#B5B5B5" stroke-width="1.0" fill="none"/>
<path d="M1740.09,1582.73 A129.08,128.42 0 0 1 1758.98,1625.33" stroke="#B5B5B5" stroke-width="1.0" fill="none"/>
<path d="M1824.49,1614.39 A195.4,194.4 0 0 1 1826.56,1684.37 L1821.51,1683.6 A190.3,189.32 0 0 0 1819.5,1615.45 Z" stroke="none" stroke-width="0.9" fill="#000"/>
<path d="M1816.38,1616.95 A186.93,185.97 0 0 1 1818.31,1682.3 L1801.65,1679.84 A170.09,169.22 0 0 0 1799.9,1620.37 Z" stroke="#2a2a2a" stroke-width="0.9" fill="none"/>
<path d="M1796.1,1621.16 A166.22,165.37 0 0 1 1797.82,1679.27 L1781.57,1676.87 A149.79,149.02 0 0 0 1780.02,1624.51 Z" stroke="#2a2a2a" stroke-width="0.9" fill="none"/>
<path d="M1775.43,1625.46 A145.1,144.35 0 0 1 1776.92,1676.19 L1760.47,1673.76 A128.46,127.81 0 0 0 1759.15,1628.85 Z" stroke="#2a2a2a" stroke-width="0.9" fill="none"/>
<path d="M1800.53,1620.39 A170.71,169.83 0 0 1 1802.28,1679.78" stroke="#B5B5B5" stroke-width="1.0" fill="none"/>
<path d="M1780.65,1624.51 A150.4,149.63 0 0 1 1782.19,1676.83" stroke="#B5B5B5" stroke-width="1.0" fill="none"/>
<path d="M1759.77,1628.83 A129.08,128.42 0 0 1 1761.09,1673.74" stroke="#B5B5B5" stroke-width="1.0" fill="none"/>
<path d="M1826.01,1687.72 A195.4,194.4 0 0 1 1803.76,1750.21 L1799.31,1747.73 A190.3,189.32 0 0 0 1820.98,1686.87 Z" stroke="none" stroke-width="0.9" fill="#000"/>
<path d="M1817.53,1687.1 A186.93,185.97 0 0 1 1796.77,1745.38 L1782.06,1737.24 A170.09,169.22 0 0 0 1800.94,1684.21 Z" stroke="#2a2a2a" stroke-width="0.9" fill="none"/>
<path d="M1797.12,1683.54 A166.22,165.37 0 0 1 1778.67,1735.37 L1764.31,1727.42 A149.79,149.02 0 0 0 1780.94,1680.72 Z" stroke="#2a2a2a" stroke-width="0.9" fill="none"/>
<path d="M1776.32,1679.92 A145.1,144.35 0 0 1 1760.21,1725.15 L1745.67,1717.11 A128.46,127.81 0 0 0 1759.94,1677.06 Z" stroke="#2a2a2a" stroke-width="0.9" fill="none"/>
<path d="M1801.52,1684.46 A170.71,169.83 0 0 1 1782.67,1737.41" stroke="#B5B5B5" stroke-width="1.0" fill="none"/>
<path d="M1781.52,1680.96 A150.4,149.63 0 0 1 1764.91,1727.6" stroke="#B5B5B5" stroke-width="1.0" fill="none"/>
<path d="M1760.52,1677.28 A129.08,128.42 0 0 1 1746.26,1717.31" stroke="#B5B5B5" stroke-width="1.0" fill="none"/>
<path d="M1802.06,1753.16 A195.4,194.4 0 0 1 1761.85,1801.49 L1758.5,1797.67 A190.3,189.32 0 0 0 1797.66,1750.6 Z" stroke="none" stroke-width="0.9" fill="#000"/>
<path d="M1794.34,1749.6 A186.93,185.97 0 0 1 1756.9,1794.61 L1745.77,1782.03 A170.09,169.22 0 0 0 1779.84,1741.08 Z" stroke="#2a2a2a" stroke-width="0.9" fill="none"/>
<path d="M1776.5,1739.12 A166.22,165.37 0 0 1 1743.21,1779.14 L1732.36,1766.87 A149.79,149.02 0 0 0 1762.36,1730.81 Z" stroke="#2a2a2a" stroke-width="0.9" fill="none"/>
<path d="M1758.32,1728.43 A145.1,144.35 0 0 1 1729.26,1763.36 L1718.27,1750.94 A128.46,127.81 0 0 0 1744,1720.01 Z" stroke="#2a2a2a" stroke-width="0.9" fill="none"/>
<path d="M1780.29,1741.52 A170.71,169.83 0 0 1 1746.29,1782.39" stroke="#B5B5B5" stroke-width="1.0" fill="none"/>
<path d="M1762.82,1731.23 A150.4,149.63 0 0 1 1732.86,1767.24" stroke="#B5B5B5" stroke-width="1.0" fill="none"/>
<path d="M1744.47,1720.42 A129.08,128.42 0 0 1 1718.76,1751.33" stroke="#B5B5B5" stroke-width="1.0" fill="none"/>
<path d="M1759.26,1803.7 A195.4,194.4 0 0 1 1709.21,1834.17 L1707.23,1829.5 A190.3,189.32 0 0 0 1755.98,1799.82 Z" stroke="none" stroke-width="0.9" fill="#000"/>
<path d="M1753.18,1797.78 A186.93,185.97 0 0 1 1706.67,1826.09 L1700.07,1810.68 A170.09,169.22 0 0 0 1742.39,1784.92 Z" stroke="#2a2a2a" stroke-width="0.9" fill="none"/>
<path d="M1739.91,1781.96 A166.22,165.37 0 0 1 1698.55,1807.13 L1692.11,1792.1 A149.79,149.02 0 0 0 1729.38,1769.41 Z" stroke="#2a2a2a" stroke-width="0.9" fill="none"/>
<path d="M1726.37,1765.82 A145.1,144.35 0 0 1 1690.27,1787.8 L1683.75,1772.58 A128.46,127.81 0 0 0 1715.72,1753.12 Z" stroke="#2a2a2a" stroke-width="0.9" fill="none"/>
<path d="M1742.67,1785.48 A170.71,169.83 0 0 1 1700.45,1811.18" stroke="#B5B5B5" stroke-width="1.0" fill="none"/>
<path d="M1729.67,1769.96 A150.4,149.63 0 0 1 1692.47,1792.61" stroke="#B5B5B5" stroke-width="1.0" fill="none"/>
<path d="M1716.02,1753.66 A129.08,128.42 0 0 1 1684.1,1773.1" stroke="#B5B5B5" stroke-width="1.0" fill="none"/>
<path d="M1706.05,1835.46 A195.4,194.4 0 0 1 1653.63,1848.36 L1653.1,1843.31 A190.3,189.32 0 0 0 1704.15,1830.75 Z" stroke="none" stroke-width="0.9" fill="#000"/>
<path d="M1702.15,1827.94 A186.93,185.97 0 0 1 1653.56,1839.89 L1651.75,1823.24 A170.09,169.22 0 0 0 1695.95,1812.37 Z" stroke="#2a2a2a" stroke-width="0.9" fill="none"/>
<path d="M1694.53,1808.78 A166.22,165.37 0 0 1 1651.33,1819.4 L1649.56,1803.15 A149.79,149.02 0 0 0 1688.49,1793.58 Z" stroke="#2a2a2a" stroke-width="0.9" fill="none"/>
<path d="M1686.76,1789.24 A145.1,144.35 0 0 1 1649.05,1798.51 L1647.26,1782.06 A128.46,127.81 0 0 0 1680.64,1773.85 Z" stroke="#2a2a2a" stroke-width="0.9" fill="none"/>
<path d="M1696.04,1812.99 A170.71,169.83 0 0 1 1651.96,1823.83" stroke="#B5B5B5" stroke-width="1.0" fill="none"/>
<path d="M1688.59,1794.19 A150.4,149.63 0 0 1 1649.75,1803.75" stroke="#B5B5B5" stroke-width="1.0" fill="none"/>
<path d="M1680.76,1774.46 A129.08,128.42 0 0 1 1647.43,1782.65" stroke="#B5B5B5" stroke-width="1.0" fill="none"/>
<path d="M1650.23,1848.68 A195.4,194.4 0 0 1 1598.18,1846.22 L1599.1,1841.22 A190.3,189.32 0 0 0 1649.79,1843.62 Z" stroke="none" stroke-width="0.9" fill="#000"/>
<path d="M1648.69,1840.35 A186.93,185.97 0 0 1 1600.51,1838.07 L1603.47,1821.58 A170.09,169.22 0 0 0 1647.31,1823.66 Z" stroke="#2a2a2a" stroke-width="0.9" fill="none"/>
<path d="M1647,1819.81 A166.22,165.37 0 0 1 1604.15,1817.79 L1607.04,1801.7 A149.79,149.02 0 0 0 1645.65,1803.52 Z" stroke="#2a2a2a" stroke-width="0.9" fill="none"/>
<path d="M1645.27,1798.87 A145.1,144.35 0 0 1 1607.87,1797.1 L1610.79,1780.81 A128.46,127.81 0 0 0 1643.91,1782.38 Z" stroke="#2a2a2a" stroke-width="0.9" fill="none"/>
<path d="M1647.21,1824.28 A170.71,169.83 0 0 1 1603.51,1822.21" stroke="#B5B5B5" stroke-width="1.0" fill="none"/>
<path d="M1645.57,1804.14 A150.4,149.63 0 0 1 1607.06,1802.32" stroke="#B5B5B5" stroke-width="1.0" fill="none"/>
<path d="M1643.85,1782.99 A129.08,128.42 0 0 1 1610.8,1781.43" stroke="#B5B5B5" stroke-width="1.0" fill="none"/>
<path d="M1594.83,1845.57 A195.4,194.4 0 0 1 1547.45,1829.58 L1549.69,1825.03 A190.3,189.32 0 0 0 1595.83,1840.6 Z" stroke="none" stroke-width="0.9" fill="#000"/>
<path d="M1595.7,1837.15 A186.93,185.97 0 0 1 1551.91,1822.37 L1559.25,1807.3 A170.09,169.22 0 0 0 1599.1,1820.75 Z" stroke="#2a2a2a" stroke-width="0.9" fill="none"/>
<path d="M1599.88,1816.97 A166.22,165.37 0 0 1 1560.94,1803.83 L1568.1,1789.12 A149.79,149.02 0 0 0 1603.19,1800.96 Z" stroke="#2a2a2a" stroke-width="0.9" fill="none"/>
<path d="M1604.14,1796.39 A145.1,144.35 0 0 1 1570.15,1784.91 L1577.4,1770.02 A128.46,127.81 0 0 0 1607.49,1780.18 Z" stroke="#2a2a2a" stroke-width="0.9" fill="none"/>
<path d="M1598.83,1821.31 A170.71,169.83 0 0 1 1559.12,1807.91" stroke="#B5B5B5" stroke-width="1.0" fill="none"/>
<path d="M1602.94,1801.53 A150.4,149.63 0 0 1 1567.95,1789.72" stroke="#B5B5B5" stroke-width="1.0" fill="none"/>
<path d="M1607.26,1780.75 A129.08,128.42 0 0 1 1577.23,1770.62" stroke="#B5B5B5" stroke-width="1.0" fill="none"/>
<path d="M1544.4,1828.06 A195.4,194.4 0 0 1 1503.29,1800.04 L1506.69,1796.25 A190.3,189.32 0 0 0 1546.72,1823.55 Z" stroke="none" stroke-width="0.9" fill="#000"/>
<path d="M1547.53,1820.19 A186.93,185.97 0 0 1 1509.54,1794.29 L1520.69,1781.74 A170.09,169.22 0 0 0 1555.27,1805.31 Z" stroke="#2a2a2a" stroke-width="0.9" fill="none"/>
<path d="M1557.05,1801.89 A166.22,165.37 0 0 1 1523.26,1778.85 L1534.15,1766.61 A149.79,149.02 0 0 0 1564.59,1787.37 Z" stroke="#2a2a2a" stroke-width="0.9" fill="none"/>
<path d="M1566.75,1783.22 A145.1,144.35 0 0 1 1537.26,1763.12 L1548.28,1750.72 A128.46,127.81 0 0 0 1574.39,1768.52 Z" stroke="#2a2a2a" stroke-width="0.9" fill="none"/>
<path d="M1554.85,1805.79 A170.71,169.83 0 0 1 1520.4,1782.3" stroke="#B5B5B5" stroke-width="1.0" fill="none"/>
<path d="M1564.2,1787.85 A150.4,149.63 0 0 1 1533.84,1767.16" stroke="#B5B5B5" stroke-width="1.0" fill="none"/>
<path d="M1574.01,1769.01 A129.08,128.42 0 0 1 1547.96,1751.25" stroke="#B5B5B5" stroke-width="1.0" fill="none"/>
<path d="M1500.76,1797.75 A195.4,194.4 0 0 1 1469.01,1760.09 L1473.3,1757.34 A190.3,189.32 0 0 0 1504.23,1794.03 Z" stroke="none" stroke-width="0.9" fill="#000"/>
<path d="M1505.92,1791.01 A186.93,185.97 0 0 1 1476.58,1756.21 L1490.7,1747.1 A170.09,169.22 0 0 0 1517.4,1778.76 Z" stroke="#2a2a2a" stroke-width="0.9" fill="none"/>
<path d="M1520.04,1775.94 A166.22,165.37 0 0 1 1493.96,1745 L1507.74,1736.1 A149.79,149.02 0 0 0 1531.25,1763.99 Z" stroke="#2a2a2a" stroke-width="0.9" fill="none"/>
<path d="M1534.45,1760.57 A145.1,144.35 0 0 1 1511.67,1733.56 L1525.63,1724.56 A128.46,127.81 0 0 0 1545.79,1748.47 Z" stroke="#2a2a2a" stroke-width="0.9" fill="none"/>
<path d="M1516.87,1779.11 A170.71,169.83 0 0 1 1490.27,1747.55" stroke="#B5B5B5" stroke-width="1.0" fill="none"/>
<path d="M1530.73,1764.35 A150.4,149.63 0 0 1 1507.3,1736.55" stroke="#B5B5B5" stroke-width="1.0" fill="none"/>
<path d="M1545.29,1748.84 A129.08,128.42 0 0 1 1525.18,1724.98" stroke="#B5B5B5" stroke-width="1.0" fill="none"/>
<path d="M1467.19,1757.22 A195.4,194.4 0 0 1 1448.89,1719 L1453.71,1717.33 A190.3,189.32 0 0 0 1471.53,1754.55 Z" stroke="none" stroke-width="0.9" fill="#000"/>
<path d="M1473.97,1752.1 A186.93,185.97 0 0 1 1457.16,1717 L1473.03,1711.41 A170.09,169.22 0 0 0 1488.33,1743.35 Z" stroke="#2a2a2a" stroke-width="0.9" fill="none"/>
<path d="M1491.64,1741.34 A166.22,165.37 0 0 1 1476.69,1710.13 L1492.18,1704.68 A149.79,149.02 0 0 0 1505.65,1732.8 Z" stroke="#2a2a2a" stroke-width="0.9" fill="none"/>
<path d="M1509.65,1730.37 A145.1,144.35 0 0 1 1496.6,1703.12 L1512.28,1697.6 A128.46,127.81 0 0 0 1523.83,1721.73 Z" stroke="#2a2a2a" stroke-width="0.9" fill="none"/>
<path d="M1487.73,1743.54 A170.71,169.83 0 0 1 1472.51,1711.75" stroke="#B5B5B5" stroke-width="1.0" fill="none"/>
<path d="M1505.06,1733.01 A150.4,149.63 0 0 1 1491.64,1705" stroke="#B5B5B5" stroke-width="1.0" fill="none"/>
<path d="M1523.25,1721.95 A129.08,128.42 0 0 1 1511.74,1697.91" stroke="#B5B5B5" stroke-width="1.0" fill="none"/>
<path d="M1447.8,1715.79 A195.4,194.4 0 0 1 1439.28,1677.25 L1444.35,1676.66 A190.3,189.32 0 0 0 1452.65,1714.2 Z" stroke="none" stroke-width="0.9" fill="#000"/>
<path d="M1455.59,1712.38 A186.93,185.97 0 0 1 1447.79,1677.09 L1464.51,1675.1 A170.09,169.22 0 0 0 1471.6,1707.22 Z" stroke="#2a2a2a" stroke-width="0.9" fill="none"/>
<path d="M1475.29,1706.03 A166.22,165.37 0 0 1 1468.36,1674.64 L1484.67,1672.7 A149.79,149.02 0 0 0 1490.92,1700.98 Z" stroke="#2a2a2a" stroke-width="0.9" fill="none"/>
<path d="M1495.38,1699.54 A145.1,144.35 0 0 1 1489.33,1672.14 L1505.85,1670.18 A128.46,127.81 0 0 0 1511.2,1694.44 Z" stroke="#2a2a2a" stroke-width="0.9" fill="none"/>
<path d="M1470.98,1707.26 A170.71,169.83 0 0 1 1463.92,1675.32" stroke="#B5B5B5" stroke-width="1.0" fill="none"/>
<path d="M1490.3,1701.05 A150.4,149.63 0 0 1 1484.08,1672.9" stroke="#B5B5B5" stroke-width="1.0" fill="none"/>
<path d="M1510.59,1694.52 A129.08,128.42 0 0 1 1505.25,1670.36" stroke="#B5B5B5" stroke-width="1.0" fill="none"/>
<path d="M1438.92,1673.87 A195.4,194.4 0 0 1 1438.92,1636.17 L1444,1636.66 A190.3,189.32 0 0 0 1444,1673.38 Z" stroke="none" stroke-width="0.9" fill="#000"/>
<path d="M1447.27,1672.25 A186.93,185.97 0 0 1 1447.27,1637.8 L1464.03,1639.35 A170.09,169.22 0 0 0 1464.04,1670.69 Z" stroke="#2a2a2a" stroke-width="0.9" fill="none"/>
<path d="M1467.9,1670.33 A166.22,165.37 0 0 1 1467.9,1639.7 L1484.25,1641.21 A149.79,149.02 0 0 0 1484.26,1668.82 Z" stroke="#2a2a2a" stroke-width="0.9" fill="none"/>
<path d="M1488.93,1668.39 A145.1,144.35 0 0 1 1488.93,1641.65 L1505.49,1643.18 A128.46,127.81 0 0 0 1505.49,1666.85 Z" stroke="#2a2a2a" stroke-width="0.9" fill="none"/>
<path d="M1463.41,1670.6 A170.71,169.83 0 0 1 1463.41,1639.44" stroke="#B5B5B5" stroke-width="1.0" fill="none"/>
<path d="M1483.63,1668.75 A150.4,149.63 0 0 1 1483.63,1641.29" stroke="#B5B5B5" stroke-width="1.0" fill="none"/>
<path d="M1504.87,1666.8 A129.08,128.42 0 0 1 1504.87,1643.23" stroke="#B5B5B5" stroke-width="1.0" fill="none"/>
<path d="M1439.28,1632.8 A195.4,194.4 0 0 1 1445.92,1600.23 L1450.81,1601.66 A190.3,189.32 0 0 0 1444.35,1633.38 Z" stroke="none" stroke-width="0.9" fill="#000"/>
<path d="M1447.79,1632.96 A186.93,185.97 0 0 1 1453.81,1603.38 L1469.99,1608.03 A170.09,169.22 0 0 0 1464.5,1634.94 Z" stroke="#2a2a2a" stroke-width="0.9" fill="none"/>
<path d="M1468.35,1635.4 A166.22,165.37 0 0 1 1473.71,1609.1 L1489.5,1613.64 A149.79,149.02 0 0 0 1484.67,1637.34 Z" stroke="#2a2a2a" stroke-width="0.9" fill="none"/>
<path d="M1489.33,1637.89 A145.1,144.35 0 0 1 1494,1614.93 L1509.98,1619.53 A128.46,127.81 0 0 0 1505.84,1639.85 Z" stroke="#2a2a2a" stroke-width="0.9" fill="none"/>
<path d="M1463.91,1634.72 A170.71,169.83 0 0 1 1469.36,1608" stroke="#B5B5B5" stroke-width="1.0" fill="none"/>
<path d="M1484.07,1637.13 A150.4,149.63 0 0 1 1488.87,1613.59" stroke="#B5B5B5" stroke-width="1.0" fill="none"/>
<path d="M1505.25,1639.67 A129.08,128.42 0 0 1 1509.36,1619.47" stroke="#B5B5B5" stroke-width="1.0" fill="none"/>
<path d="M1446.9,1596.98 A195.4,194.4 0 0 1 1458.04,1569.24 L1462.62,1571.48 A190.3,189.32 0 0 0 1451.77,1598.5 Z" stroke="none" stroke-width="0.9" fill="#000"/>
<path d="M1455.23,1598.72 A186.93,185.97 0 0 1 1465.28,1573.69 L1480.43,1581.01 A170.09,169.22 0 0 0 1471.28,1603.79 Z" stroke="#2a2a2a" stroke-width="0.9" fill="none"/>
<path d="M1474.98,1604.96 A166.22,165.37 0 0 1 1483.91,1582.7 L1498.69,1589.84 A149.79,149.02 0 0 0 1490.63,1609.9 Z" stroke="#2a2a2a" stroke-width="0.9" fill="none"/>
<path d="M1495.11,1611.32 A145.1,144.35 0 0 1 1502.91,1591.88 L1517.87,1599.12 A128.46,127.81 0 0 0 1510.96,1616.33 Z" stroke="#2a2a2a" stroke-width="0.9" fill="none"/>
<path d="M1470.74,1603.47 A170.71,169.83 0 0 1 1479.81,1580.88" stroke="#B5B5B5" stroke-width="1.0" fill="none"/>
<path d="M1490.09,1609.6 A150.4,149.63 0 0 1 1498.08,1589.69" stroke="#B5B5B5" stroke-width="1.0" fill="none"/>
<path d="M1510.41,1616.03 A129.08,128.42 0 0 1 1517.27,1598.95" stroke="#B5B5B5" stroke-width="1.0" fill="none"/>
<path d="M1459.57,1566.21 A195.4,194.4 0 0 1 1474.62,1541.69 L1478.77,1544.65 A190.3,189.32 0 0 0 1464.11,1568.53 Z" stroke="none" stroke-width="0.9" fill="#000"/>
<path d="M1467.48,1569.34 A186.93,185.97 0 0 1 1481.03,1547.26 L1494.75,1556.97 A170.09,169.22 0 0 0 1482.42,1577.05 Z" stroke="#2a2a2a" stroke-width="0.9" fill="none"/>
<path d="M1485.87,1578.83 A166.22,165.37 0 0 1 1497.92,1559.2 L1511.31,1568.67 A149.79,149.02 0 0 0 1500.45,1586.36 Z" stroke="#2a2a2a" stroke-width="0.9" fill="none"/>
<path d="M1504.61,1588.51 A145.1,144.35 0 0 1 1515.13,1571.37 L1528.69,1580.96 A128.46,127.81 0 0 0 1519.38,1596.13 Z" stroke="#2a2a2a" stroke-width="0.9" fill="none"/>
<path d="M1481.95,1576.64 A170.71,169.83 0 0 1 1494.17,1556.73" stroke="#B5B5B5" stroke-width="1.0" fill="none"/>
<path d="M1499.96,1585.96 A150.4,149.63 0 0 1 1510.73,1568.42" stroke="#B5B5B5" stroke-width="1.0" fill="none"/>
<path d="M1518.88,1595.75 A129.08,128.42 0 0 1 1528.12,1580.7" stroke="#B5B5B5" stroke-width="1.0" fill="none"/>
<path d="M1476.64,1538.95 A195.4,194.4 0 0 1 1490.66,1522.25 L1494.38,1525.71 A190.3,189.32 0 0 0 1480.73,1541.98 Z" stroke="none" stroke-width="0.9" fill="#000"/>
<path d="M1483.92,1543.33 A186.93,185.97 0 0 1 1496.29,1528.59 L1508.64,1539.98 A170.09,169.22 0 0 0 1497.38,1553.39 Z" stroke="#2a2a2a" stroke-width="0.9" fill="none"/>
<path d="M1500.48,1555.71 A166.22,165.37 0 0 1 1511.48,1542.6 L1523.53,1553.71 A149.79,149.02 0 0 0 1513.62,1565.52 Z" stroke="#2a2a2a" stroke-width="0.9" fill="none"/>
<path d="M1517.37,1568.32 A145.1,144.35 0 0 1 1526.97,1556.88 L1539.17,1568.13 A128.46,127.81 0 0 0 1530.67,1578.26 Z" stroke="#2a2a2a" stroke-width="0.9" fill="none"/>
<path d="M1496.98,1552.9 A170.71,169.83 0 0 1 1508.09,1539.67" stroke="#B5B5B5" stroke-width="1.0" fill="none"/>
<path d="M1513.21,1565.05 A150.4,149.63 0 0 1 1522.99,1553.39" stroke="#B5B5B5" stroke-width="1.0" fill="none"/>
<path d="M1530.25,1577.8 A129.08,128.42 0 0 1 1538.65,1567.8" stroke="#B5B5B5" stroke-width="1.0" fill="none"/>
<path d="M1493.01,1519.79 A195.4,194.4 0 0 1 1510.2,1504.11 L1513.41,1508.05 A190.3,189.32 0 0 0 1496.67,1523.32 Z" stroke="none" stroke-width="0.9" fill="#000"/>
<path d="M1499.66,1525.07 A186.93,185.97 0 0 1 1514.9,1511.17 L1525.58,1524.12 A170.09,169.22 0 0 0 1511.71,1536.77 Z" stroke="#2a2a2a" stroke-width="0.9" fill="none"/>
<path d="M1514.48,1539.46 A166.22,165.37 0 0 1 1528.03,1527.1 L1538.45,1539.74 A149.79,149.02 0 0 0 1526.23,1550.88 Z" stroke="#2a2a2a" stroke-width="0.9" fill="none"/>
<path d="M1529.59,1554.15 A145.1,144.35 0 0 1 1541.42,1543.36 L1551.97,1556.15 A128.46,127.81 0 0 0 1541.49,1565.71 Z" stroke="#2a2a2a" stroke-width="0.9" fill="none"/>
<path d="M1511.37,1536.24 A170.71,169.83 0 0 1 1525.07,1523.74" stroke="#B5B5B5" stroke-width="1.0" fill="none"/>
<path d="M1525.89,1550.36 A150.4,149.63 0 0 1 1537.96,1539.36" stroke="#B5B5B5" stroke-width="1.0" fill="none"/>
<path d="M1541.13,1565.2 A129.08,128.42 0 0 1 1551.49,1555.75" stroke="#B5B5B5" stroke-width="1.0" fill="none"/>
<path d="M1512.86,1502 A195.4,194.4 0 0 1 1527.36,1491.71 L1530.13,1495.98 A190.3,189.32 0 0 0 1516.01,1505.99 Z" stroke="none" stroke-width="0.9" fill="#000"/>
<path d="M1518.73,1508.13 A186.93,185.97 0 0 1 1531.28,1499.23 L1540.47,1513.26 A170.09,169.22 0 0 0 1529.06,1521.36 Z" stroke="#2a2a2a" stroke-width="0.9" fill="none"/>
<path d="M1531.44,1524.4 A166.22,165.37 0 0 1 1542.59,1516.49 L1551.57,1530.18 A149.79,149.02 0 0 0 1541.51,1537.31 Z" stroke="#2a2a2a" stroke-width="0.9" fill="none"/>
<path d="M1544.39,1541 A145.1,144.35 0 0 1 1554.13,1534.09 L1563.22,1547.95 A128.46,127.81 0 0 0 1554.59,1554.07 Z" stroke="#2a2a2a" stroke-width="0.9" fill="none"/>
<path d="M1528.8,1520.78 A170.71,169.83 0 0 1 1540.01,1512.83" stroke="#B5B5B5" stroke-width="1.0" fill="none"/>
<path d="M1541.24,1536.75 A150.4,149.63 0 0 1 1551.12,1529.74" stroke="#B5B5B5" stroke-width="1.0" fill="none"/>
<path d="M1554.31,1553.52 A129.08,128.42 0 0 1 1562.79,1547.5" stroke="#B5B5B5" stroke-width="1.0" fill="none"/>
<path d="M1530.25,1489.9 A195.4,194.4 0 0 1 1546.83,1480.72 L1549.09,1485.27 A190.3,189.32 0 0 0 1532.94,1494.21 Z" stroke="none" stroke-width="0.9" fill="#000"/>
<path d="M1535.41,1496.63 A186.93,185.97 0 0 1 1549.86,1488.63 L1557.38,1503.62 A170.09,169.22 0 0 0 1544.24,1510.89 Z" stroke="#2a2a2a" stroke-width="0.9" fill="none"/>
<path d="M1546.27,1514.17 A166.22,165.37 0 0 1 1559.11,1507.07 L1566.45,1521.69 A149.79,149.02 0 0 0 1554.88,1528.09 Z" stroke="#2a2a2a" stroke-width="0.9" fill="none"/>
<path d="M1557.34,1532.07 A145.1,144.35 0 0 1 1568.55,1525.87 L1575.99,1540.67 A128.46,127.81 0 0 0 1566.06,1546.16 Z" stroke="#2a2a2a" stroke-width="0.9" fill="none"/>
<path d="M1544.04,1510.29 A170.71,169.83 0 0 1 1556.97,1503.14" stroke="#B5B5B5" stroke-width="1.0" fill="none"/>
<path d="M1554.67,1527.51 A150.4,149.63 0 0 1 1566.06,1521.2" stroke="#B5B5B5" stroke-width="1.0" fill="none"/>
<path d="M1565.83,1545.58 A129.08,128.42 0 0 1 1575.61,1540.17" stroke="#B5B5B5" stroke-width="1.0" fill="none"/>
<path d="M1549.9,1479.24 A195.4,194.4 0 0 1 1604.71,1462.71 L1605.46,1467.73 A190.3,189.32 0 0 0 1552.08,1483.83 Z" stroke="none" stroke-width="0.9" fill="#000"/>
<path d="M1554.26,1486.51 A186.93,185.97 0 0 1 1605.14,1471.16 L1607.69,1487.72 A170.09,169.22 0 0 0 1561.39,1501.69 Z" stroke="#2a2a2a" stroke-width="0.9" fill="none"/>
<path d="M1563.03,1505.18 A166.22,165.37 0 0 1 1608.28,1491.53 L1610.76,1507.69 A149.79,149.02 0 0 0 1569.99,1519.99 Z" stroke="#2a2a2a" stroke-width="0.9" fill="none"/>
<path d="M1571.97,1524.22 A145.1,144.35 0 0 1 1611.47,1512.31 L1613.98,1528.66 A128.46,127.81 0 0 0 1579.01,1539.21 Z" stroke="#2a2a2a" stroke-width="0.9" fill="none"/>
<path d="M1561.26,1501.07 A170.71,169.83 0 0 1 1607.45,1487.14" stroke="#B5B5B5" stroke-width="1.0" fill="none"/>
<path d="M1569.85,1519.38 A150.4,149.63 0 0 1 1610.54,1507.11" stroke="#B5B5B5" stroke-width="1.0" fill="none"/>
<path d="M1578.86,1538.61 A129.08,128.42 0 0 1 1613.78,1528.08" stroke="#B5B5B5" stroke-width="1.0" fill="none"/>
<path d="M1608.08,1462.24 A195.4,194.4 0 0 1 1629.99,1460.63 L1630.08,1465.7 A190.3,189.32 0 0 0 1608.75,1467.27 Z" stroke="none" stroke-width="0.9" fill="#000"/>
<path d="M1609.99,1470.49 A186.93,185.97 0 0 1 1629.32,1469.07 L1629.69,1485.82 A170.09,169.22 0 0 0 1612.1,1487.11 Z" stroke="#2a2a2a" stroke-width="0.9" fill="none"/>
<path d="M1612.58,1490.93 A166.22,165.37 0 0 1 1629.77,1489.67 L1630.13,1506.01 A149.79,149.02 0 0 0 1614.64,1507.15 Z" stroke="#2a2a2a" stroke-width="0.9" fill="none"/>
<path d="M1615.23,1511.78 A145.1,144.35 0 0 1 1630.23,1510.68 L1630.6,1527.22 A128.46,127.81 0 0 0 1617.31,1528.2 Z" stroke="#2a2a2a" stroke-width="0.9" fill="none"/>
<path d="M1612.17,1486.48 A170.71,169.83 0 0 1 1629.53,1485.21" stroke="#B5B5B5" stroke-width="1.0" fill="none"/>
<path d="M1614.7,1506.53 A150.4,149.63 0 0 1 1629.99,1505.41" stroke="#B5B5B5" stroke-width="1.0" fill="none"/>
<path d="M1617.35,1527.58 A129.08,128.42 0 0 1 1630.47,1526.62" stroke="#B5B5B5" stroke-width="1.0" fill="none"/>
<text x="1682.44" y="1452.17" font-size="20.5" text-anchor="middle" transform="rotate(13.53 1682.44 1452.17)" dominant-baseline="central">1</text>
<text x="1771.66" y="1498.16" font-size="20.5" text-anchor="middle" transform="rotate(41.25 1771.66 1498.16)" dominant-baseline="central">2</text>
<text x="1825.25" y="1570.8" font-size="20.5" text-anchor="middle" transform="rotate(66.2 1825.25 1570.8)" dominant-baseline="central">3</text>
<text x="1842.99" y="1648.87" font-size="20.5" text-anchor="middle" transform="rotate(88.32 1842.99 1648.87)" dominant-baseline="central">4</text>
<text x="1831.05" y="1724.66" font-size="20.5" text-anchor="middle" transform="rotate(-70.49 1831.05 1724.66)" dominant-baseline="central">5</text>
<text x="1794.93" y="1788.01" font-size="20.5" text-anchor="middle" transform="rotate(-50.39 1794.93 1788.01)" dominant-baseline="central">6</text>
<text x="1742.85" y="1832.94" font-size="20.5" text-anchor="middle" transform="rotate(-31.46 1742.85 1832.94)" dominant-baseline="central">7</text>
<text x="1683.72" y="1857.52" font-size="20.5" text-anchor="middle" transform="rotate(-13.88 1683.72 1857.52)" dominant-baseline="central">8</text>
<text x="1623.44" y="1863.38" font-size="20.5" text-anchor="middle" transform="rotate(2.72 1623.44 1863.38)" dominant-baseline="central">9</text>
<text x="1566.03" y="1852.55" font-size="20.5" text-anchor="middle" transform="rotate(18.74 1566.03 1852.55)" dominant-baseline="central">10</text>
<text x="1514.87" y="1827.08" font-size="20.5" text-anchor="middle" transform="rotate(34.42 1514.87 1827.08)" dominant-baseline="central">11</text>
<text x="1472.74" y="1789.06" font-size="20.5" text-anchor="middle" transform="rotate(50.01 1472.74 1789.06)" dominant-baseline="central">12</text>
<text x="1444.1" y="1744.72" font-size="20.5" text-anchor="middle" transform="rotate(64.53 1444.1 1744.72)" dominant-baseline="central">13</text>
<text x="1428.6" y="1699.78" font-size="20.5" text-anchor="middle" transform="rotate(77.6 1428.6 1699.78)" dominant-baseline="central">14</text>
<text x="1423.71" y="1655.02" font-size="20.5" text-anchor="middle" transform="rotate(89.99 1423.71 1655.02)" dominant-baseline="central">15</text>
<text x="1427.9" y="1613.55" font-size="20.5" text-anchor="middle" transform="rotate(281.46 1427.9 1613.55)" dominant-baseline="central">16</text>
<text x="1438.67" y="1577.63" font-size="20.5" text-anchor="middle" transform="rotate(291.77 1438.67 1577.63)" dominant-baseline="central">17</text>
<text x="1454.45" y="1546.27" font-size="20.5" text-anchor="middle" transform="rotate(301.41 1454.45 1546.27)" dominant-baseline="central">18</text>
<text x="1472.45" y="1521.29" font-size="20.5" text-anchor="middle" transform="rotate(309.86 1472.45 1521.29)" dominant-baseline="central">19</text>
<text x="1491.71" y="1501.22" font-size="20.5" text-anchor="middle" transform="rotate(317.49 1491.71 1501.22)" dominant-baseline="central">20</text>
<text x="1511.7" y="1485.12" font-size="20.5" text-anchor="middle" transform="rotate(324.52 1511.7 1485.12)" dominant-baseline="central">21</text>
<text x="1531.48" y="1472.69" font-size="20.5" text-anchor="middle" transform="rotate(330.92 1531.48 1472.69)" dominant-baseline="central">22</text>
<text x="1572.55" y="1455.37" font-size="20.5" text-anchor="middle" transform="rotate(343.13 1572.55 1455.37)" dominant-baseline="central">X</text>
<text x="1617.96" y="1446.95" font-size="20.5" text-anchor="middle" transform="rotate(355.78 1617.96 1446.95)" dominant-baseline="central">Y</text>
<circle cx="1603.1" cy="1488.1" r="1.55" fill="#FF0000"/>
<circle cx="1550.4" cy="1500" r="1.55" fill="#FF0000"/>
<circle cx="1529" cy="1520.4" r="1.55" fill="#FF0000"/>
<circle cx="1511.7" cy="1527.9" r="1.55" fill="#FF0000"/>
<circle cx="1463.3" cy="1641.7" r="1.55" fill="#FF0000"/>
<circle cx="1462.7" cy="1647.3" r="1.55" fill="#FF0000"/>
<circle cx="1457" cy="1666.1" r="1.55" fill="#FF0000"/>
<circle cx="1463.1" cy="1666.1" r="1.55" fill="#FF0000"/>
<circle cx="1463.7" cy="1676.1" r="1.55" fill="#FF0000"/>
<circle cx="1555.7" cy="1805.8" r="1.55" fill="#FF0000"/>
<circle cx="1559.1" cy="1807.3" r="1.55" fill="#FF0000"/>
<circle cx="1774.6" cy="1755.3" r="1.55" fill="#FF0000"/>
<circle cx="1729.3" cy="1793.3" r="1.55" fill="#FF0000"/>
<circle cx="1466" cy="1622" r="1.55" fill="#FF0000"/>
<circle cx="1466" cy="1629" r="1.55" fill="#FF0000"/>
<path d="M1702.93,1501.23 A169.48,168.62 0 0 1 1708.56,1503.87" stroke="#FF0000" stroke-width="3.4" fill="none" stroke-linecap="round"/>
<path d="M1788.53,1754.99 A184.84,183.9 0 0 1 1783.87,1761.81" stroke="#FF0000" stroke-width="3.4" fill="none" stroke-linecap="round"/>
<path d="M1680.26,1816.76 A169.21,168.35 0 0 1 1675.94,1817.94" stroke="#FF0000" stroke-width="3.4" fill="none" stroke-linecap="round"/>
<circle cx="1608.2" cy="1499.4" r="1.55" fill="#0000FF"/>
<circle cx="1522.7" cy="1553.8" r="1.55" fill="#0000FF"/>
<circle cx="1514" cy="1564.1" r="1.55" fill="#0000FF"/>
<circle cx="1490.1" cy="1610.2" r="1.55" fill="#0000FF"/>
<circle cx="1699.1" cy="1522.3" r="1.55" fill="#0000FF"/>
<circle cx="1776.7" cy="1620.9" r="1.55" fill="#0000FF"/>
<circle cx="1638" cy="1802.7" r="1.55" fill="#0000FF"/>
<circle cx="1726.8" cy="1768.8" r="1.55" fill="#0000FF"/>
<circle cx="1729.6" cy="1766.2" r="1.55" fill="#0000FF"/>
<circle cx="1686.3" cy="1793.3" r="1.55" fill="#0000FF"/>
<circle cx="1690.4" cy="1791" r="1.55" fill="#0000FF"/>
<circle cx="1652.6" cy="1801.8" r="1.55" fill="#0000FF"/>
<circle cx="1638.6" cy="1802.7" r="1.55" fill="#0000FF"/>
<path d="M1592.74,1511.38 A149.98,149.21 0 0 1 1600.95,1509.32" stroke="#0000FF" stroke-width="3.4" fill="none" stroke-linecap="round"/>
<path d="M1572.72,1518.48 A150.04,149.27 0 0 1 1576.89,1516.72" stroke="#0000FF" stroke-width="3.4" fill="none" stroke-linecap="round"/>
<path d="M1557.63,1526.05 A150.14,149.37 0 0 1 1564.18,1522.45" stroke="#0000FF" stroke-width="3.4" fill="none" stroke-linecap="round"/>
<path d="M1485.28,1632.2 A149.88,149.12 0 0 1 1489.12,1614.61" stroke="#0000FF" stroke-width="3.4" fill="none" stroke-linecap="round"/>
<path d="M1734.15,1546.96 A148.13,147.37 0 0 1 1749.57,1563.56" stroke="#0000FF" stroke-width="3.4" fill="none" stroke-linecap="round"/>
<path d="M1765.33,1588.78 A147.77,147.01 0 0 1 1770.56,1600.3" stroke="#0000FF" stroke-width="3.4" fill="none" stroke-linecap="round"/>
<path d="M1785.93,1624.69 A155.54,154.74 0 0 1 1787.07,1678.9" stroke="#0000FF" stroke-width="3.4" fill="none" stroke-linecap="round"/>
<path d="M1561.34,1785.43 A149.6,148.83 0 0 1 1545.55,1775.47" stroke="#0000FF" stroke-width="3.4" fill="none" stroke-linecap="round"/>
<path d="M1738.71,1758.11 A147.76,147.01 0 0 1 1735.59,1761.19" stroke="#0000FF" stroke-width="3.4" fill="none" stroke-linecap="round"/>
<path d="M1677.15,1796.24 A148.56,147.8 0 0 1 1674.05,1797.16" stroke="#0000FF" stroke-width="3.4" fill="none" stroke-linecap="round"/>
<path d="M1663.95,1816.61 A165.29,164.44 0 0 1 1654.54,1818.09" stroke="#0000FF" stroke-width="3.4" fill="none" stroke-linecap="round"/>
<circle cx="1693.5" cy="1542.4" r="1.55" fill="#FFC800"/>
<circle cx="1710.5" cy="1553.7" r="1.55" fill="#FFC800"/>
<circle cx="1760.5" cy="1624.4" r="1.55" fill="#FFC800"/>
<circle cx="1735.6" cy="1729.2" r="1.55" fill="#FFC800"/>
<circle cx="1733.7" cy="1732.9" r="1.55" fill="#FFC800"/>
<circle cx="1737.5" cy="1734.8" r="1.55" fill="#FFC800"/>
<circle cx="1686" cy="1771.3" r="1.55" fill="#FFC800"/>
<path d="M1634.2,1522.87 A132.81,132.13 0 0 1 1640,1523.03" stroke="#FFC800" stroke-width="3.4" fill="none" stroke-linecap="round"/>
<path d="M1513.51,1588.15 A137.43,136.73 0 0 1 1516.78,1582.65" stroke="#FFC800" stroke-width="3.4" fill="none" stroke-linecap="round"/>
<path d="M1499.7,1658.8 A133.76,133.07 0 0 1 1499.7,1651.1" stroke="#FFC800" stroke-width="3.4" fill="none" stroke-linecap="round"/>
<path d="M1633.8,1522.86 A132.82,132.14 0 0 1 1687.43,1534.29" stroke="#FFC800" stroke-width="3.4" fill="none" stroke-linecap="round"/>
<path d="M1695.8,1539.37 A131.91,131.24 0 0 1 1707.54,1546.45" stroke="#FFC800" stroke-width="3.4" fill="none" stroke-linecap="round"/>
<path d="M1517.26,1720.42 A133.46,132.78 0 0 1 1507.94,1700.29" stroke="#FFC800" stroke-width="3.4" fill="none" stroke-linecap="round"/>
<path d="M1604.08,1779.5 A128.53,127.87 0 0 1 1584.64,1773.31" stroke="#FFC800" stroke-width="3.4" fill="none" stroke-linecap="round"/>
<path d="M1634.2,1790.88 A136.58,135.88 0 0 1 1609.71,1788.82" stroke="#FFC800" stroke-width="3.4" fill="none" stroke-linecap="round"/>
<path d="M1761.52,1679.52 A130.47,129.8 0 0 1 1749.89,1713.45" stroke="#FFC800" stroke-width="3.4" fill="none" stroke-linecap="round"/>
<path d="M1746.39,1721.65 A131.36,130.68 0 0 1 1743.71,1725.95" stroke="#FFC800" stroke-width="3.4" fill="none" stroke-linecap="round"/>
<path d="M1715.67,1772.14 A143.63,142.9 0 0 1 1693.38,1784.84" stroke="#FFC800" stroke-width="3.4" fill="none" stroke-linecap="round"/>
<path d="M1634.4,1790.63 A136.33,135.63 0 0 1 1625.01,1790.37" stroke="#FFC800" stroke-width="3.4" fill="none" stroke-linecap="round"/>
<path d="M1551.3,1559.1 L1705.6,1754.5" stroke="#40D0B8" stroke-width="3.2" fill="none" stroke-linecap="round"/>
<path d="M1509.2,1633.5 L1571.4,1644.2" stroke="#40D0B8" stroke-width="3.2" fill="none" stroke-linecap="round"/>
<path d="M1677.8,1539.2 L1654.5,1597.7" stroke="#40D0B8" stroke-width="3.2" fill="none" stroke-linecap="round"/>
<path d="M1522.4,1714.1 L1577,1683.9" stroke="#40D0B8" stroke-width="3.2" fill="none" stroke-linecap="round"/>
<path d="M1533.1,1729.8 L1582.7,1692.1" stroke="#40D0B8" stroke-width="3.2" fill="none" stroke-linecap="round"/>
<path d="M1682.2,1690 L1734.3,1726" stroke="#40D0B8" stroke-width="3.6" fill="none" stroke-linecap="round"/>
<line x1="1518" y1="1580.7" x2="1415.06" y2="1544.06" stroke="#FFB400" stroke-width="4.4"/>
<path d="M1401.4,1539.2 L1419.16,1537.03 L1412.71,1543.22 L1413.79,1552.1 Z" fill="#FFB400"/>
<line x1="1516" y1="1585" x2="1520" y2="1576" stroke="#FFB400" stroke-width="3"/>
<text x="1322" y="1544.1" font-size="20.6" font-style="italic">SMAD4</text>
<line x1="1718.6" y1="1539.2" x2="1821.29" y2="1501.5" stroke="#0000FF" stroke-width="4.4"/>
<path d="M1834.9,1496.5 L1822.64,1509.52 L1823.64,1500.64 L1817.12,1494.5 Z" fill="#0000FF"/>
<text x="1843" y="1497.3" font-size="20.6" font-style="italic">MSH2, MSH6</text>
<line x1="1768.3" y1="1604.6" x2="1851.25" y2="1585.98" stroke="#0000FF" stroke-width="4.4"/>
<path d="M1865.4,1582.8 L1851.54,1594.11 L1853.69,1585.43 L1848.04,1578.5 Z" fill="#0000FF"/>
<text x="1873.5" y="1588.9" font-size="20.6" font-style="italic">MLH1</text>
<line x1="1706.7" y1="1778.2" x2="1766.05" y2="1808.08" stroke="#FFB400" stroke-width="4.4"/>
<path d="M1779,1814.6 L1761.11,1814.55 L1768.28,1809.2 L1768.31,1800.26 Z" fill="#FFB400"/>
<text x="1775.8" y="1837.2" font-size="20.6" font-style="italic">BRCA1</text>
<line x1="1618.5" y1="1791.4" x2="1492.07" y2="1836.16" stroke="#FFB400" stroke-width="4.4"/>
<path d="M1478.4,1841 L1490.81,1828.12 L1489.71,1837 L1496.15,1843.2 Z" fill="#FFB400"/>
<text x="1392.4" y="1849.4" font-size="20.6" font-style="italic">CDKN2A</text>
</svg>
</body></html>
